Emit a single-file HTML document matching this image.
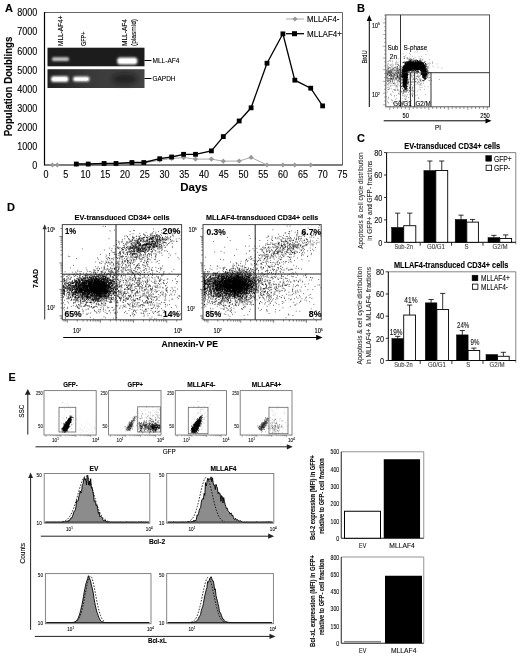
<!DOCTYPE html><html><head><meta charset="utf-8"><title>Figure</title><style>html,body{margin:0;padding:0;background:#fff}svg{display:block}text{font-family:"Liberation Sans",sans-serif}</style></head><body><svg width="520" height="657" viewBox="0 0 520 657">
<rect width="520" height="657" fill="#fff"/>
<text transform="translate(5.00,11.70) scale(1.091,1)" font-size="10.12" font-weight="bold" fill="#000" stroke="#000" stroke-width="0.12">A</text>
<line x1="44.50" y1="12.50" x2="342.50" y2="12.50" stroke="#666" stroke-width="1"/>
<line x1="342.50" y1="12.50" x2="342.50" y2="165.00" stroke="#666" stroke-width="1"/>
<line x1="44.50" y1="12.00" x2="44.50" y2="165.50" stroke="#000" stroke-width="1.2"/>
<line x1="44.50" y1="165.00" x2="342.50" y2="165.00" stroke="#000" stroke-width="1.2"/>
<text transform="translate(37.30,168.90) scale(0.870,1)" font-size="10.34" text-anchor="end" fill="#000" stroke="#000" stroke-width="0.12">0</text>
<text transform="translate(37.30,149.84) scale(0.870,1)" font-size="10.34" text-anchor="end" fill="#000" stroke="#000" stroke-width="0.12">1000</text>
<text transform="translate(37.30,130.78) scale(0.870,1)" font-size="10.34" text-anchor="end" fill="#000" stroke="#000" stroke-width="0.12">2000</text>
<text transform="translate(37.30,111.71) scale(0.870,1)" font-size="10.34" text-anchor="end" fill="#000" stroke="#000" stroke-width="0.12">3000</text>
<text transform="translate(37.30,92.65) scale(0.870,1)" font-size="10.34" text-anchor="end" fill="#000" stroke="#000" stroke-width="0.12">4000</text>
<text transform="translate(37.30,73.59) scale(0.870,1)" font-size="10.34" text-anchor="end" fill="#000" stroke="#000" stroke-width="0.12">5000</text>
<text transform="translate(37.30,54.52) scale(0.870,1)" font-size="10.34" text-anchor="end" fill="#000" stroke="#000" stroke-width="0.12">6000</text>
<text transform="translate(37.30,35.46) scale(0.870,1)" font-size="10.34" text-anchor="end" fill="#000" stroke="#000" stroke-width="0.12">7000</text>
<text transform="translate(37.30,16.40) scale(0.870,1)" font-size="10.34" text-anchor="end" fill="#000" stroke="#000" stroke-width="0.12">8000</text>
<text transform="translate(46.00,178.40) scale(0.870,1)" font-size="10.34" text-anchor="middle" fill="#000" stroke="#000" stroke-width="0.12">0</text>
<text transform="translate(65.76,178.40) scale(0.870,1)" font-size="10.34" text-anchor="middle" fill="#000" stroke="#000" stroke-width="0.12">5</text>
<text transform="translate(85.52,178.40) scale(0.870,1)" font-size="10.34" text-anchor="middle" fill="#000" stroke="#000" stroke-width="0.12">10</text>
<text transform="translate(105.28,178.40) scale(0.870,1)" font-size="10.34" text-anchor="middle" fill="#000" stroke="#000" stroke-width="0.12">15</text>
<text transform="translate(125.04,178.40) scale(0.870,1)" font-size="10.34" text-anchor="middle" fill="#000" stroke="#000" stroke-width="0.12">20</text>
<text transform="translate(144.80,178.40) scale(0.870,1)" font-size="10.34" text-anchor="middle" fill="#000" stroke="#000" stroke-width="0.12">25</text>
<text transform="translate(164.56,178.40) scale(0.870,1)" font-size="10.34" text-anchor="middle" fill="#000" stroke="#000" stroke-width="0.12">30</text>
<text transform="translate(184.32,178.40) scale(0.870,1)" font-size="10.34" text-anchor="middle" fill="#000" stroke="#000" stroke-width="0.12">35</text>
<text transform="translate(204.08,178.40) scale(0.870,1)" font-size="10.34" text-anchor="middle" fill="#000" stroke="#000" stroke-width="0.12">40</text>
<text transform="translate(223.84,178.40) scale(0.870,1)" font-size="10.34" text-anchor="middle" fill="#000" stroke="#000" stroke-width="0.12">45</text>
<text transform="translate(243.60,178.40) scale(0.870,1)" font-size="10.34" text-anchor="middle" fill="#000" stroke="#000" stroke-width="0.12">50</text>
<text transform="translate(263.36,178.40) scale(0.870,1)" font-size="10.34" text-anchor="middle" fill="#000" stroke="#000" stroke-width="0.12">55</text>
<text transform="translate(283.12,178.40) scale(0.870,1)" font-size="10.34" text-anchor="middle" fill="#000" stroke="#000" stroke-width="0.12">60</text>
<text transform="translate(302.88,178.40) scale(0.870,1)" font-size="10.34" text-anchor="middle" fill="#000" stroke="#000" stroke-width="0.12">65</text>
<text transform="translate(322.64,178.40) scale(0.870,1)" font-size="10.34" text-anchor="middle" fill="#000" stroke="#000" stroke-width="0.12">70</text>
<text transform="translate(342.40,178.40) scale(0.870,1)" font-size="10.34" text-anchor="middle" fill="#000" stroke="#000" stroke-width="0.12">75</text>
<text transform="translate(12.40,86.50) rotate(-90) scale(0.956,1)" font-size="10.12" text-anchor="middle" font-weight="bold" fill="#000" stroke="#000" stroke-width="0.12">Population Doublings</text>
<text transform="translate(194.00,191.40) scale(0.987,1)" font-size="11.66" text-anchor="middle" font-weight="bold" fill="#000" stroke="#000" stroke-width="0.12">Days</text>
<defs><filter id="b1" x="-20%" y="-50%" width="140%" height="200%"><feGaussianBlur stdDeviation="1.1"/></filter><filter id="b2" x="-20%" y="-50%" width="140%" height="200%"><feGaussianBlur stdDeviation="2.5"/></filter><linearGradient id="g2" x1="0" x2="1" y1="0" y2="0"><stop offset="0" stop-color="#222"/><stop offset="0.45" stop-color="#3a3a3a"/><stop offset="1" stop-color="#444"/></linearGradient></defs>
<rect x="47.50" y="47.70" width="97.00" height="18.60" fill="#1c1c1c" stroke="none" stroke-width="1"/>
<rect x="47.50" y="69.20" width="97.00" height="18.80" fill="url(#g2)" stroke="none" stroke-width="1"/>
<ellipse cx="125" cy="79" rx="13" ry="6" fill="#111" filter="url(#b2)" opacity="0.55"/>
<rect x="52" y="57.2" width="17" height="3.8" rx="1.5" fill="#ccc" filter="url(#b1)"/>
<rect x="117.2" y="57.4" width="20.2" height="7" rx="3" fill="#fff" filter="url(#b1)"/>
<rect x="119" y="59" width="16.6" height="4" rx="1.8" fill="#fff"/>
<rect x="51" y="76.3" width="17.5" height="5.6" rx="2.2" fill="#fff" filter="url(#b1)"/>
<rect x="52.5" y="77.6" width="14.5" height="3" rx="1.5" fill="#fff"/>
<rect x="73" y="76.6" width="16.5" height="5" rx="2.2" fill="#f4f4f4" filter="url(#b1)"/>
<rect x="74.5" y="77.8" width="13.5" height="2.6" rx="1.3" fill="#fff"/>
<line x1="144.50" y1="60.50" x2="151.50" y2="60.50" stroke="#000" stroke-width="1"/>
<line x1="144.50" y1="78.50" x2="151.50" y2="78.50" stroke="#000" stroke-width="1"/>
<text transform="translate(152.50,63.00) scale(0.829,1)" font-size="7.92" fill="#000" stroke="#000" stroke-width="0.12">MLL-AF4</text>
<text transform="translate(152.50,80.50) scale(0.817,1)" font-size="7.92" fill="#000" stroke="#000" stroke-width="0.12">GAPDH</text>
<text transform="translate(63.30,46.00) rotate(-90) scale(0.820,1)" font-size="7.92" fill="#000" stroke="#000" stroke-width="0.12">MLL-AF4+</text>
<text transform="translate(85.60,46.00) rotate(-90) scale(0.694,1)" font-size="7.92" fill="#000" stroke="#000" stroke-width="0.12">GFP+</text>
<text transform="translate(127.30,46.00) rotate(-90) scale(0.829,1)" font-size="7.92" fill="#000" stroke="#000" stroke-width="0.12">MLL-AF4</text>
<text transform="translate(135.50,46.00) rotate(-90) scale(0.829,1)" font-size="7.92" fill="#000" stroke="#000" stroke-width="0.12">(plasmid)</text>
<polyline points="76.3,164.2 88.2,164.2 104.1,163.9 116.0,163.9 131.9,163.1 143.8,163.1 159.7,160.2 171.6,158.5 183.6,157.6 195.5,159.1 211.4,159.1 223.3,161.2 239.2,161.0 251.1,157.4 267.0,165.0 282.9,165.0 294.8,165.0 310.7,165.0" fill="none" stroke="#aaa" stroke-width="1"/>
<polygon points="52.4,162.4 55.0,165.0 52.4,167.6 49.8,165.0" fill="#999"/>
<polygon points="57.2,162.4 59.8,165.0 57.2,167.6 54.6,165.0" fill="#999"/>
<polygon points="76.3,161.6 78.9,164.2 76.3,166.8 73.7,164.2" fill="#999"/>
<polygon points="88.2,161.6 90.8,164.2 88.2,166.8 85.6,164.2" fill="#999"/>
<polygon points="104.1,161.3 106.7,163.9 104.1,166.5 101.5,163.9" fill="#999"/>
<polygon points="116.0,161.3 118.6,163.9 116.0,166.5 113.4,163.9" fill="#999"/>
<polygon points="131.9,160.5 134.5,163.1 131.9,165.7 129.3,163.1" fill="#999"/>
<polygon points="143.8,160.5 146.4,163.1 143.8,165.7 141.2,163.1" fill="#999"/>
<polygon points="159.7,157.6 162.3,160.2 159.7,162.8 157.1,160.2" fill="#999"/>
<polygon points="171.6,155.9 174.2,158.5 171.6,161.1 169.0,158.5" fill="#999"/>
<polygon points="183.6,155.0 186.2,157.6 183.6,160.2 181.0,157.6" fill="#999"/>
<polygon points="195.5,156.5 198.1,159.1 195.5,161.7 192.9,159.1" fill="#999"/>
<polygon points="211.4,156.5 214.0,159.1 211.4,161.7 208.8,159.1" fill="#999"/>
<polygon points="223.3,158.6 225.9,161.2 223.3,163.8 220.7,161.2" fill="#999"/>
<polygon points="239.2,158.4 241.8,161.0 239.2,163.6 236.6,161.0" fill="#999"/>
<polygon points="251.1,154.8 253.7,157.4 251.1,160.0 248.5,157.4" fill="#999"/>
<polygon points="267.0,162.4 269.6,165.0 267.0,167.6 264.4,165.0" fill="#999"/>
<polygon points="282.9,162.4 285.5,165.0 282.9,167.6 280.3,165.0" fill="#999"/>
<polygon points="294.8,162.4 297.4,165.0 294.8,167.6 292.2,165.0" fill="#999"/>
<polygon points="310.7,162.4 313.3,165.0 310.7,167.6 308.1,165.0" fill="#999"/>
<polyline points="76.3,164.0 88.2,164.0 104.1,163.5 116.0,163.5 131.9,162.5 143.8,162.5 159.7,158.7 171.6,157.0 183.6,154.3 195.5,154.3 211.4,150.9 223.3,136.6 239.2,121.0 251.1,107.8 267.0,63.2 282.9,33.8 294.8,80.2 310.7,88.2 322.6,105.9" fill="none" stroke="#000" stroke-width="1.3"/>
<rect x="73.89" y="161.65" width="4.80" height="4.80" fill="#000" stroke="none" stroke-width="1"/>
<rect x="85.81" y="161.65" width="4.80" height="4.80" fill="#000" stroke="none" stroke-width="1"/>
<rect x="101.70" y="161.07" width="4.80" height="4.80" fill="#000" stroke="none" stroke-width="1"/>
<rect x="113.62" y="161.07" width="4.80" height="4.80" fill="#000" stroke="none" stroke-width="1"/>
<rect x="129.51" y="160.12" width="4.80" height="4.80" fill="#000" stroke="none" stroke-width="1"/>
<rect x="141.43" y="160.12" width="4.80" height="4.80" fill="#000" stroke="none" stroke-width="1"/>
<rect x="157.33" y="156.31" width="4.80" height="4.80" fill="#000" stroke="none" stroke-width="1"/>
<rect x="169.25" y="154.59" width="4.80" height="4.80" fill="#000" stroke="none" stroke-width="1"/>
<rect x="181.17" y="151.92" width="4.80" height="4.80" fill="#000" stroke="none" stroke-width="1"/>
<rect x="193.09" y="151.92" width="4.80" height="4.80" fill="#000" stroke="none" stroke-width="1"/>
<rect x="208.98" y="148.49" width="4.80" height="4.80" fill="#000" stroke="none" stroke-width="1"/>
<rect x="220.90" y="134.20" width="4.80" height="4.80" fill="#000" stroke="none" stroke-width="1"/>
<rect x="236.79" y="118.57" width="4.80" height="4.80" fill="#000" stroke="none" stroke-width="1"/>
<rect x="248.71" y="105.41" width="4.80" height="4.80" fill="#000" stroke="none" stroke-width="1"/>
<rect x="264.61" y="60.81" width="4.80" height="4.80" fill="#000" stroke="none" stroke-width="1"/>
<rect x="280.50" y="31.45" width="4.80" height="4.80" fill="#000" stroke="none" stroke-width="1"/>
<rect x="292.42" y="77.77" width="4.80" height="4.80" fill="#000" stroke="none" stroke-width="1"/>
<rect x="308.31" y="85.78" width="4.80" height="4.80" fill="#000" stroke="none" stroke-width="1"/>
<rect x="320.23" y="103.51" width="4.80" height="4.80" fill="#000" stroke="none" stroke-width="1"/>
<line x1="286.00" y1="19.00" x2="304.00" y2="19.00" stroke="#aaa" stroke-width="1"/>
<polygon points="295.0,16.4 297.6,19.0 295.0,21.6 292.4,19.0" fill="#999"/>
<text transform="translate(307.00,22.00) scale(0.835,1)" font-size="9.46" fill="#000" stroke="#000" stroke-width="0.12">MLLAF4-</text>
<line x1="286.00" y1="33.70" x2="304.00" y2="33.70" stroke="#000" stroke-width="1.3"/>
<rect x="292.00" y="31.20" width="5.00" height="5.00" fill="#000" stroke="none" stroke-width="1"/>
<text transform="translate(307.00,36.70) scale(0.848,1)" font-size="9.46" fill="#000" stroke="#000" stroke-width="0.12">MLLAF4+</text>
<text transform="translate(357.00,11.50) scale(1.091,1)" font-size="10.12" font-weight="bold" fill="#000" stroke="#000" stroke-width="0.12">B</text>
<path d="M406.7 76.9h.9M404.0 85.1h.9M404.6 73.4h.9M405.1 78.1h.9M403.6 87.0h.9M404.6 77.6h.9M404.6 81.4h.9M402.4 73.2h.9M405.9 89.1h.9M405.4 63.1h.9M403.8 70.0h.9M404.4 70.5h.9M405.2 87.0h.9M404.3 79.2h.9M404.3 75.4h.9M402.8 69.1h.9M405.3 79.3h.9M404.8 77.7h.9M404.9 72.7h.9M402.7 67.8h.9M406.7 70.2h.9M404.8 78.3h.9M404.1 78.9h.9M407.1 77.5h.9M404.5 76.1h.9M402.8 66.0h.9M404.1 77.3h.9M401.7 70.6h.9M405.9 77.3h.9M404.1 79.9h.9M403.7 72.8h.9M405.9 70.7h.9M402.5 83.2h.9M405.3 79.2h.9M402.0 73.1h.9M403.8 58.4h.9M403.1 76.7h.9M406.4 80.9h.9M406.8 84.0h.9M404.2 72.8h.9M405.7 73.0h.9M404.4 74.3h.9M405.3 82.2h.9M403.7 69.7h.9M402.5 76.3h.9M402.3 71.3h.9M405.1 78.7h.9M407.4 67.4h.9M404.9 79.3h.9M403.9 73.9h.9M407.0 75.6h.9M404.9 80.3h.9M404.7 84.1h.9M404.9 66.5h.9M404.4 83.2h.9M404.2 80.5h.9M402.8 75.2h.9M405.2 85.7h.9M404.5 78.2h.9M406.1 85.0h.9M404.1 73.3h.9M402.2 71.6h.9M404.5 84.6h.9M406.7 90.4h.9M404.1 80.9h.9M403.5 82.5h.9M403.1 74.1h.9M403.3 68.8h.9M404.2 75.6h.9M403.1 86.3h.9M406.5 65.5h.9M404.2 73.9h.9M404.7 65.1h.9M406.4 77.7h.9M406.5 82.4h.9M404.3 69.3h.9M405.0 74.5h.9M405.5 85.2h.9M404.4 76.5h.9M402.4 69.3h.9M405.4 68.8h.9M405.7 64.5h.9M405.1 81.8h.9M403.4 72.4h.9M404.4 83.5h.9M403.9 82.4h.9M404.2 72.9h.9M406.2 73.7h.9M406.5 81.8h.9M405.4 77.9h.9M405.3 78.7h.9M405.4 66.8h.9M404.6 82.6h.9M404.5 71.6h.9M403.8 62.9h.9M404.5 73.2h.9M407.4 79.6h.9M405.7 90.0h.9M404.2 74.7h.9M404.0 68.8h.9M403.5 90.2h.9M405.1 78.0h.9M405.1 75.4h.9M402.8 70.3h.9M405.2 70.8h.9M403.9 86.2h.9M406.4 75.3h.9M404.8 73.7h.9M406.7 73.8h.9M404.0 86.7h.9M404.2 73.3h.9M405.0 80.9h.9M405.9 78.7h.9M405.3 78.5h.9M403.1 71.6h.9M404.8 81.1h.9M404.6 87.0h.9M404.1 76.7h.9M403.8 71.3h.9M406.8 69.0h.9M404.1 78.2h.9M403.5 75.3h.9M405.4 76.4h.9M404.8 77.1h.9M404.5 67.9h.9M405.6 81.8h.9M405.2 78.5h.9M405.1 76.5h.9M405.8 78.4h.9M405.0 82.7h.9M403.8 77.3h.9M404.1 71.7h.9M403.9 84.2h.9M404.9 74.3h.9M403.3 72.5h.9M402.3 67.3h.9M404.7 77.0h.9M402.9 70.5h.9M402.2 73.8h.9M405.1 79.8h.9M403.7 77.2h.9M405.2 83.3h.9M403.9 78.9h.9M403.2 74.5h.9M403.0 75.0h.9M404.0 73.9h.9M404.3 81.0h.9M403.6 77.1h.9M404.2 74.5h.9M402.7 82.2h.9M404.6 77.6h.9M402.4 74.1h.9M404.4 67.6h.9M405.5 79.7h.9M406.0 78.5h.9M406.7 77.3h.9M402.7 74.3h.9M405.5 71.8h.9M406.1 75.6h.9M405.8 78.4h.9M403.4 76.2h.9M405.1 76.1h.9M406.9 74.1h.9M402.7 79.1h.9M405.2 78.4h.9M406.0 72.3h.9M403.7 81.7h.9M405.3 81.9h.9M403.3 82.0h.9M403.6 76.2h.9M403.6 75.8h.9M404.8 69.8h.9M404.5 81.7h.9M405.8 63.8h.9M403.4 74.6h.9M404.4 74.9h.9M405.8 82.3h.9M405.3 77.0h.9M402.9 71.0h.9M405.4 68.2h.9M404.0 72.5h.9M405.1 77.7h.9M405.0 77.3h.9M406.1 75.8h.9M404.7 72.8h.9M402.3 75.7h.9M402.9 83.2h.9M405.5 70.2h.9M404.3 77.2h.9M406.0 87.0h.9M404.9 80.4h.9M403.7 74.2h.9M406.0 81.1h.9M403.6 72.3h.9M402.0 77.0h.9M407.2 86.6h.9M402.2 88.7h.9M405.4 66.4h.9M405.8 81.3h.9M404.8 89.1h.9M402.5 73.6h.9M405.9 78.6h.9M402.8 86.3h.9M402.9 73.9h.9M404.1 79.8h.9M405.6 76.6h.9M405.0 65.1h.9M405.6 79.1h.9M404.0 75.9h.9M404.4 82.8h.9M403.2 90.0h.9M404.2 81.2h.9M405.3 74.7h.9M404.2 79.8h.9M405.2 78.3h.9M403.9 83.3h.9M403.9 68.1h.9M404.6 69.8h.9M404.4 64.3h.9M405.3 80.8h.9M404.8 76.9h.9M406.8 73.0h.9M404.3 72.5h.9M404.3 73.5h.9M403.3 71.2h.9M404.6 75.0h.9M405.5 73.9h.9M403.7 85.6h.9M404.5 79.0h.9M405.5 71.9h.9M404.4 73.4h.9M404.0 84.4h.9M405.8 79.8h.9M404.7 78.8h.9M405.1 81.5h.9M406.1 86.8h.9M406.0 69.5h.9M404.2 72.4h.9M403.9 66.2h.9M405.0 80.1h.9M404.4 74.7h.9M402.2 72.8h.9M406.2 72.3h.9M404.6 81.3h.9M405.5 76.1h.9M403.1 73.7h.9M406.2 84.8h.9M403.9 70.5h.9M404.5 69.2h.9M402.8 93.1h.9M404.4 74.7h.9M404.3 73.6h.9M404.4 72.5h.9M405.1 76.2h.9M404.7 81.9h.9M405.8 81.7h.9M404.0 80.4h.9M403.4 75.3h.9M404.6 67.8h.9M405.4 78.8h.9M406.2 86.4h.9M405.6 83.6h.9M402.4 76.0h.9M405.1 82.0h.9M406.4 74.6h.9M404.7 76.7h.9M404.0 69.3h.9M405.0 75.0h.9M404.0 77.9h.9M405.4 76.0h.9M404.6 81.8h.9M406.3 88.7h.9M405.2 85.2h.9M403.7 75.1h.9M405.4 72.5h.9M405.8 73.0h.9M403.9 70.9h.9M404.1 77.2h.9M401.7 79.6h.9M405.7 78.1h.9M403.9 78.2h.9M401.9 78.0h.9M402.4 76.2h.9M404.3 72.4h.9M405.6 87.7h.9M404.5 83.5h.9M405.2 71.4h.9M403.2 71.4h.9M402.9 73.4h.9M405.7 77.2h.9M405.2 84.8h.9M404.6 83.3h.9M406.2 83.6h.9M403.4 83.7h.9M404.1 83.9h.9M405.9 81.6h.9M406.9 79.8h.9M404.6 76.3h.9M406.7 66.2h.9M403.8 76.2h.9M405.0 88.2h.9M404.4 73.7h.9M402.6 73.1h.9M404.9 83.3h.9M405.8 77.5h.9M404.4 74.0h.9M404.5 86.7h.9M406.3 80.9h.9M403.0 81.7h.9M402.7 73.5h.9M403.8 80.1h.9M403.1 79.3h.9M406.3 81.8h.9M405.0 84.1h.9M403.5 84.0h.9M403.8 78.1h.9M408.2 81.3h.9M403.8 69.9h.9M403.6 81.0h.9M405.0 81.2h.9M405.4 74.6h.9M404.9 72.2h.9M403.5 76.6h.9M403.2 69.5h.9M405.3 79.1h.9M404.5 78.8h.9M402.5 71.1h.9M406.1 77.3h.9M405.6 83.6h.9M404.3 83.6h.9M404.3 83.3h.9M404.9 76.1h.9M403.7 74.9h.9M402.9 74.6h.9M405.0 80.7h.9M402.8 91.6h.9M405.1 85.7h.9M402.8 86.8h.9M404.5 85.4h.9M404.4 67.0h.9M406.8 75.8h.9M403.3 74.3h.9M402.8 84.7h.9M403.8 87.5h.9M403.2 72.9h.9M403.9 77.2h.9M405.1 80.5h.9M405.6 74.0h.9M406.7 73.1h.9M403.7 72.8h.9M407.9 82.5h.9M407.1 71.4h.9M404.3 84.0h.9M401.7 77.5h.9M404.5 81.7h.9M404.7 86.6h.9M401.7 72.9h.9M404.7 71.9h.9M404.3 79.6h.9M403.6 70.6h.9M405.4 72.5h.9M405.9 76.3h.9M404.0 78.0h.9M404.9 69.3h.9M403.8 74.6h.9M403.6 80.6h.9M404.7 85.3h.9M405.3 64.9h.9M403.9 85.1h.9M401.8 82.5h.9M405.3 70.3h.9M402.6 67.9h.9M404.8 79.6h.9M406.8 74.4h.9M404.6 77.8h.9M403.1 82.3h.9M402.8 74.7h.9M406.1 78.0h.9M404.6 79.9h.9M405.3 82.5h.9M405.8 87.9h.9M404.5 87.5h.9M404.2 78.5h.9M403.4 75.5h.9M400.7 91.7h.9M402.7 81.0h.9M404.5 79.6h.9M404.4 70.2h.9M405.1 81.8h.9M404.4 72.2h.9M404.8 74.2h.9M405.6 68.8h.9M403.5 73.8h.9M404.2 77.4h.9M402.6 67.7h.9M405.8 71.5h.9M404.6 76.5h.9M405.2 69.2h.9M406.5 69.3h.9M405.9 71.9h.9M404.5 68.3h.9M405.6 80.8h.9M402.8 70.9h.9M405.1 81.7h.9M404.8 82.7h.9M402.6 69.6h.9M406.3 77.3h.9M403.7 74.0h.9M405.5 70.0h.9M404.1 74.9h.9M405.8 75.5h.9M406.2 81.4h.9M403.6 83.3h.9M402.7 70.2h.9M404.4 74.5h.9M405.7 80.3h.9M404.1 84.3h.9M403.8 61.9h.9M405.2 84.9h.9M401.1 76.0h.9M403.8 86.5h.9M402.9 74.4h.9M405.0 71.9h.9M403.7 77.3h.9M403.2 84.2h.9M404.2 77.2h.9M402.8 62.4h.9M404.6 81.2h.9M403.7 67.0h.9M404.1 70.9h.9M403.7 69.8h.9M405.7 65.6h.9M404.5 69.2h.9M405.3 70.9h.9M405.2 73.2h.9M403.6 76.7h.9M405.3 74.9h.9M405.0 67.8h.9M405.0 75.9h.9M404.1 83.0h.9M404.1 82.9h.9M405.6 77.8h.9M407.3 80.8h.9M403.6 82.5h.9M405.3 85.4h.9M404.1 87.5h.9M405.6 75.0h.9M405.1 75.3h.9M405.9 86.1h.9M401.1 86.7h.9M403.8 86.6h.9M403.4 62.5h.9M404.5 75.6h.9M403.7 56.8h.9M403.8 81.5h.9M405.5 77.3h.9M407.0 77.3h.9M401.1 76.1h.9M404.2 85.1h.9M405.0 75.2h.9M404.6 83.4h.9M404.2 80.4h.9M402.9 79.2h.9M403.4 79.9h.9M405.5 77.7h.9M405.9 70.2h.9M404.7 81.4h.9M403.6 81.4h.9M404.7 76.1h.9M404.3 81.5h.9M405.3 82.6h.9M404.7 69.1h.9M403.8 76.1h.9M404.8 74.3h.9M403.1 71.4h.9M405.6 79.0h.9M406.1 71.8h.9M403.1 74.3h.9M405.1 78.5h.9M403.4 79.2h.9M405.9 79.0h.9M405.7 90.9h.9M404.3 73.9h.9M405.8 78.6h.9M404.1 69.5h.9M403.8 80.0h.9M403.9 84.2h.9M404.4 84.5h.9M404.2 73.1h.9M404.8 75.3h.9M403.8 84.8h.9M405.6 76.4h.9M405.9 82.9h.9M404.0 71.0h.9M402.8 85.6h.9M405.5 83.4h.9M406.0 79.9h.9M404.4 72.0h.9M403.0 76.0h.9M404.9 77.9h.9M406.5 78.6h.9M402.3 76.4h.9M405.2 75.6h.9M404.2 78.2h.9M403.5 85.7h.9M405.2 64.6h.9M403.0 68.5h.9M405.0 67.4h.9M406.2 72.7h.9M404.8 66.2h.9M403.5 80.4h.9M402.4 77.6h.9M403.0 75.4h.9M402.3 72.8h.9M406.6 78.0h.9M404.3 78.1h.9M403.3 79.0h.9M403.0 72.5h.9M403.3 81.0h.9M404.2 67.9h.9M403.0 84.7h.9M406.7 57.9h.9M403.7 73.3h.9M403.6 69.5h.9M405.0 81.9h.9M406.4 67.8h.9M406.3 88.3h.9M404.0 67.4h.9M404.9 89.6h.9M404.8 79.8h.9M405.3 77.2h.9M404.9 79.7h.9M403.4 90.6h.9M403.0 82.5h.9M404.8 63.2h.9M403.1 84.4h.9M406.3 78.4h.9M404.6 67.0h.9M403.3 81.7h.9M404.2 69.5h.9M404.0 78.1h.9M404.4 78.4h.9M405.8 73.0h.9M402.8 81.0h.9M402.3 70.7h.9M405.0 78.2h.9M404.4 73.6h.9M404.8 75.9h.9M405.2 88.9h.9M404.4 77.7h.9M405.6 70.3h.9M403.5 76.3h.9M404.7 72.2h.9M403.6 77.2h.9M403.2 78.0h.9M405.4 77.5h.9M405.3 77.5h.9M402.2 73.6h.9M403.2 79.8h.9M405.0 83.6h.9M405.9 73.2h.9M403.8 76.6h.9M404.4 77.4h.9M402.8 84.8h.9M407.7 83.7h.9M405.2 72.5h.9M405.7 77.4h.9M405.4 67.7h.9M405.8 71.0h.9M405.4 77.1h.9M404.2 80.9h.9M405.5 82.9h.9M404.7 75.1h.9M406.2 68.6h.9M403.7 79.5h.9M403.9 75.9h.9M405.4 79.6h.9M406.2 78.0h.9M404.8 81.4h.9M403.7 81.1h.9M404.5 82.2h.9M404.0 74.2h.9M407.0 83.2h.9M405.7 73.9h.9M406.2 77.5h.9M405.0 88.5h.9M403.9 79.2h.9M406.1 69.8h.9M406.7 86.2h.9M405.3 83.2h.9M404.6 84.1h.9M406.0 78.2h.9M404.1 79.1h.9M405.6 75.6h.9M403.7 72.7h.9M403.4 86.5h.9M405.3 74.7h.9M405.0 74.0h.9M407.0 74.3h.9M404.2 88.5h.9M404.6 82.4h.9M403.2 74.7h.9M402.3 76.7h.9M402.4 80.2h.9M405.2 82.4h.9M403.1 67.0h.9M406.0 82.6h.9M406.4 75.6h.9M404.2 72.7h.9M406.7 74.6h.9M404.9 81.9h.9M406.0 87.9h.9M404.3 77.9h.9M405.8 80.5h.9M403.4 72.0h.9M405.4 80.0h.9M404.0 82.1h.9M404.4 67.8h.9M405.4 73.8h.9M404.8 81.9h.9M404.5 66.1h.9M405.5 74.7h.9M405.6 80.7h.9M402.9 66.5h.9M405.3 74.5h.9M405.4 77.3h.9M403.7 82.5h.9M405.1 69.1h.9M402.9 83.9h.9M406.4 78.9h.9M404.3 84.4h.9M404.5 84.2h.9M406.1 79.1h.9M404.4 80.0h.9M405.3 66.2h.9M403.3 68.6h.9M403.9 70.8h.9M402.9 74.8h.9M404.3 82.8h.9M405.9 65.9h.9M404.9 75.0h.9M405.7 68.8h.9M403.3 67.3h.9M403.5 86.2h.9M404.0 77.6h.9M405.3 87.1h.9M405.0 84.3h.9M404.6 71.3h.9M405.4 65.5h.9M404.4 89.8h.9M407.7 69.4h.9M422.7 71.1h.9M407.8 64.7h.9M412.7 68.6h.9M413.3 66.4h.9M423.4 67.0h.9M411.9 66.0h.9M405.1 69.1h.9M419.4 68.3h.9M423.5 70.7h.9M413.9 66.0h.9M424.0 71.1h.9M409.4 67.2h.9M421.5 67.5h.9M403.1 75.3h.9M417.1 66.0h.9M421.1 66.8h.9M410.6 68.1h.9M420.6 65.2h.9M414.7 63.3h.9M409.2 68.0h.9M404.9 71.0h.9M414.9 65.4h.9M411.9 66.9h.9M415.7 65.4h.9M409.1 65.9h.9M403.4 71.0h.9M404.6 71.7h.9M417.1 63.0h.9M406.3 70.5h.9M411.2 63.2h.9M416.0 64.4h.9M408.8 65.1h.9M412.0 67.9h.9M411.9 66.4h.9M419.9 65.0h.9M413.3 63.2h.9M409.6 68.2h.9M425.7 73.5h.9M408.5 67.3h.9M416.1 65.6h.9M415.3 64.9h.9M410.1 67.4h.9M418.9 66.6h.9M418.4 68.5h.9M414.3 66.4h.9M411.0 62.9h.9M407.2 69.8h.9M422.1 66.3h.9M423.7 72.6h.9M409.8 59.1h.9M409.2 64.1h.9M417.2 66.4h.9M419.0 64.6h.9M422.5 66.5h.9M416.7 67.3h.9M418.7 66.0h.9M417.5 63.9h.9M403.8 74.8h.9M414.2 66.8h.9M418.6 65.4h.9M411.3 61.8h.9M410.5 63.3h.9M412.2 67.7h.9M416.7 65.4h.9M403.0 70.1h.9M419.7 65.6h.9M418.9 66.1h.9M406.8 67.4h.9M409.1 66.9h.9M406.4 67.2h.9M413.0 64.3h.9M422.7 67.1h.9M409.8 64.6h.9M421.5 71.3h.9M407.3 62.9h.9M408.9 67.9h.9M414.5 62.6h.9M405.8 64.0h.9M406.7 68.3h.9M417.0 64.1h.9M410.4 65.4h.9M419.3 63.4h.9M408.1 66.2h.9M407.7 67.8h.9M423.0 63.4h.9M415.7 67.1h.9M405.6 68.5h.9M413.8 67.7h.9M404.9 63.6h.9M405.6 72.3h.9M415.5 63.4h.9M408.7 67.5h.9M406.0 64.9h.9M405.2 67.7h.9M406.2 66.2h.9M414.1 64.3h.9M406.5 66.8h.9M409.4 67.5h.9M414.2 65.3h.9M407.1 67.8h.9M406.6 67.6h.9M406.5 69.4h.9M423.7 66.3h.9M409.3 66.2h.9M412.5 65.8h.9M419.2 66.2h.9M420.1 66.7h.9M419.3 67.7h.9M422.8 66.9h.9M415.3 67.0h.9M406.9 65.8h.9M417.7 65.6h.9M412.3 64.5h.9M420.8 68.3h.9M407.0 67.6h.9M416.6 68.7h.9M404.6 73.1h.9M411.5 65.5h.9M408.7 71.3h.9M405.4 71.2h.9M420.5 62.7h.9M419.6 67.5h.9M409.1 66.7h.9M418.1 65.2h.9M422.4 66.4h.9M416.7 64.0h.9M410.6 64.7h.9M419.0 64.2h.9M411.5 63.3h.9M415.2 65.1h.9M418.8 64.0h.9M410.1 67.5h.9M417.0 68.2h.9M414.0 65.6h.9M416.2 65.2h.9M408.0 67.3h.9M419.9 65.6h.9M406.6 71.2h.9M412.2 60.1h.9M413.6 60.8h.9M404.6 71.8h.9M418.8 66.9h.9M417.5 67.6h.9M404.0 68.6h.9M421.5 65.9h.9M415.6 65.3h.9M422.6 68.7h.9M417.2 70.3h.9M414.6 60.9h.9M420.3 70.8h.9M410.6 68.2h.9M415.0 65.2h.9M411.8 67.0h.9M409.5 65.9h.9M423.7 70.5h.9M410.9 67.0h.9M413.5 67.6h.9M412.8 63.7h.9M409.7 67.3h.9M408.5 64.5h.9M422.1 69.2h.9M419.7 67.7h.9M413.7 65.0h.9M416.0 66.6h.9M422.1 66.7h.9M413.0 66.2h.9M410.3 63.3h.9M411.6 67.0h.9M413.6 66.4h.9M421.2 70.9h.9M421.0 64.5h.9M419.7 68.3h.9M417.6 65.0h.9M414.2 65.3h.9M407.0 70.1h.9M422.2 68.3h.9M421.6 67.7h.9M414.8 66.3h.9M419.0 64.0h.9M422.7 66.5h.9M409.2 65.0h.9M413.8 65.5h.9M423.6 74.8h.9M409.1 67.0h.9M409.6 63.1h.9M421.0 74.1h.9M421.3 67.1h.9M403.4 73.7h.9M415.9 69.4h.9M416.0 64.2h.9M418.6 66.7h.9M417.5 65.7h.9M414.4 65.2h.9M416.1 65.3h.9M418.2 66.2h.9M406.3 71.6h.9M405.3 68.1h.9M411.7 66.6h.9M422.2 71.1h.9M413.6 60.9h.9M415.9 66.1h.9M423.3 72.4h.9M404.8 69.4h.9M408.2 69.3h.9M408.5 66.4h.9M421.4 70.9h.9M417.9 65.6h.9M406.2 69.0h.9M402.7 70.4h.9M407.9 65.9h.9M421.9 68.9h.9M413.1 67.3h.9M423.2 64.2h.9M421.6 68.1h.9M424.3 70.9h.9M414.3 66.2h.9M408.5 60.1h.9M412.2 66.0h.9M422.0 62.6h.9M422.8 71.8h.9M409.2 64.3h.9M414.0 65.1h.9M421.9 65.6h.9M412.2 63.1h.9M409.8 66.1h.9M409.0 63.3h.9M412.4 65.6h.9M408.5 67.9h.9M419.1 68.8h.9M416.2 69.2h.9M424.2 68.3h.9M419.3 63.9h.9M412.3 67.1h.9M407.5 69.7h.9M408.2 64.1h.9M422.8 69.6h.9M418.6 65.7h.9M405.0 62.6h.9M412.6 66.2h.9M421.1 70.2h.9M423.0 67.6h.9M420.4 68.4h.9M421.6 68.4h.9M412.3 62.3h.9M417.5 60.8h.9M405.1 67.7h.9M417.1 65.2h.9M415.2 63.8h.9M407.0 64.2h.9M408.1 67.7h.9M416.9 69.2h.9M409.7 62.3h.9M411.8 63.7h.9M412.8 65.8h.9M418.5 65.6h.9M409.0 61.0h.9M405.4 76.2h.9M408.1 67.8h.9M419.1 66.8h.9M404.2 67.1h.9M414.9 66.7h.9M412.4 63.4h.9M410.7 67.1h.9M410.5 66.7h.9M413.5 66.1h.9M404.9 71.7h.9M411.7 64.7h.9M411.7 66.4h.9M405.4 61.8h.9M413.6 67.6h.9M410.2 65.6h.9M406.8 76.0h.9M406.3 67.8h.9M410.4 60.8h.9M416.0 69.4h.9M420.6 64.4h.9M414.4 63.5h.9M404.0 71.5h.9M416.2 68.8h.9M421.8 71.5h.9M405.4 70.4h.9M412.2 66.5h.9M404.2 74.2h.9M416.2 64.6h.9M405.7 67.4h.9M422.5 69.0h.9M411.2 65.9h.9M416.1 68.4h.9M410.5 61.7h.9M410.5 67.1h.9M404.8 74.9h.9M422.5 69.2h.9M410.8 65.1h.9M409.5 65.2h.9M410.8 66.2h.9M407.5 65.0h.9M408.3 64.7h.9M411.2 64.5h.9M423.3 70.8h.9M421.4 64.0h.9M411.4 64.6h.9M419.9 64.3h.9M403.6 70.5h.9M415.4 63.0h.9M421.0 68.1h.9M408.1 66.7h.9M407.1 66.5h.9M420.9 63.6h.9M417.1 67.4h.9M424.7 71.6h.9M406.5 66.4h.9M407.3 67.1h.9M405.9 70.8h.9M408.4 68.1h.9M404.2 69.7h.9M416.6 64.5h.9M403.2 69.6h.9M409.7 65.5h.9M414.6 67.2h.9M404.6 71.3h.9M418.9 69.0h.9M424.3 76.0h.9M411.6 65.4h.9M414.0 65.6h.9M411.5 65.2h.9M423.1 75.3h.9M420.8 65.5h.9M424.7 69.7h.9M411.3 63.7h.9M410.7 67.6h.9M403.8 71.8h.9M404.7 64.0h.9M422.5 72.1h.9M416.7 66.7h.9M411.9 67.7h.9M407.2 68.9h.9M421.5 70.2h.9M404.6 72.9h.9M417.5 66.1h.9M415.4 64.3h.9M417.1 61.3h.9M418.9 61.7h.9M417.8 66.8h.9M414.5 67.8h.9M411.9 66.1h.9M421.3 64.3h.9M406.2 68.8h.9M409.0 66.0h.9M420.8 66.0h.9M422.1 65.8h.9M416.6 63.4h.9M405.5 69.2h.9M420.5 66.9h.9M424.8 75.2h.9M412.4 69.9h.9M412.0 65.6h.9M412.2 67.0h.9M416.7 65.8h.9M407.6 66.8h.9M406.8 68.3h.9M425.2 76.0h.9M414.1 63.5h.9M414.8 69.9h.9M409.6 65.8h.9M406.5 69.6h.9M403.9 75.6h.9M405.6 68.9h.9M417.2 65.9h.9M420.5 64.4h.9M424.9 72.7h.9M422.9 67.0h.9M408.6 67.7h.9M402.8 70.3h.9M417.0 69.5h.9M410.0 70.6h.9M421.7 70.0h.9M414.8 64.3h.9M413.2 68.6h.9M409.4 70.9h.9M408.4 66.6h.9M414.5 65.2h.9M407.8 69.5h.9M422.8 69.6h.9M419.6 65.4h.9M422.1 65.9h.9M422.3 70.0h.9M418.1 68.5h.9M420.9 66.8h.9M420.1 63.6h.9M415.0 62.9h.9M402.7 73.1h.9M411.7 67.1h.9M413.0 68.1h.9M420.0 67.4h.9M421.1 63.1h.9M417.8 67.3h.9M403.9 67.8h.9M404.4 72.0h.9M421.6 65.5h.9M423.1 65.8h.9M411.6 64.8h.9M403.8 72.5h.9M406.1 68.1h.9M406.0 74.2h.9M423.2 70.2h.9M411.8 63.5h.9M412.5 66.0h.9M420.7 68.3h.9M405.9 67.8h.9M414.9 67.4h.9M416.9 66.6h.9M412.8 62.7h.9M405.0 64.6h.9M410.7 67.8h.9M407.3 66.8h.9M409.6 66.1h.9M411.6 67.5h.9M407.7 62.1h.9M423.8 70.6h.9M418.0 67.2h.9M424.7 67.4h.9M422.5 68.0h.9M411.6 68.5h.9M406.9 66.5h.9M424.6 73.9h.9M415.2 66.7h.9M418.7 62.2h.9M422.8 70.0h.9M411.2 66.9h.9M415.3 64.8h.9M411.5 68.5h.9M407.8 64.0h.9M403.3 70.9h.9M409.4 63.3h.9M409.4 65.5h.9M419.1 64.4h.9M414.4 66.6h.9M420.3 64.5h.9M411.6 66.6h.9M407.9 67.0h.9M414.2 66.9h.9M408.6 66.8h.9M419.9 66.2h.9M411.3 64.2h.9M408.6 61.6h.9M420.1 66.8h.9M408.2 63.1h.9M418.5 66.8h.9M412.0 65.9h.9M404.6 69.3h.9M416.0 66.0h.9M415.9 67.3h.9M404.1 66.5h.9M413.5 66.7h.9M413.1 68.4h.9M417.9 67.7h.9M407.7 68.5h.9M415.4 65.4h.9M423.5 73.9h.9M403.1 77.9h.9M417.6 67.1h.9M412.3 66.6h.9M411.8 68.2h.9M409.3 64.1h.9M414.0 65.7h.9M412.7 67.0h.9M421.7 67.8h.9M420.7 69.5h.9M421.0 69.5h.9M425.0 73.5h.9M411.4 64.2h.9M418.6 66.0h.9M421.4 66.6h.9M406.0 69.1h.9M418.3 67.1h.9M414.5 66.0h.9M408.1 67.4h.9M415.6 70.6h.9M417.4 66.1h.9M417.3 64.6h.9M402.7 77.2h.9M422.8 71.5h.9M410.0 66.4h.9M423.1 68.1h.9M406.1 62.3h.9M416.7 67.1h.9M403.6 70.5h.9M413.8 70.9h.9M416.8 66.5h.9M411.1 70.1h.9M418.0 65.6h.9M413.2 65.4h.9M405.5 69.8h.9M406.2 69.6h.9M406.6 70.1h.9M410.5 68.5h.9M424.8 65.2h.9M412.1 66.2h.9M419.7 68.5h.9M416.3 66.6h.9M417.9 67.2h.9M419.2 66.8h.9M407.4 67.2h.9M421.3 62.0h.9M413.6 69.3h.9M422.7 69.7h.9M403.4 72.6h.9M406.3 67.4h.9M406.3 67.1h.9M415.9 67.5h.9M404.2 65.8h.9M413.1 63.3h.9M412.5 63.2h.9M415.4 68.0h.9M409.4 64.1h.9M422.0 66.7h.9M413.1 63.6h.9M405.0 66.3h.9M414.2 65.0h.9M404.5 66.6h.9M417.6 68.5h.9M408.6 66.7h.9M421.7 64.6h.9M405.0 75.0h.9M407.6 64.0h.9M407.4 63.5h.9M415.0 62.4h.9M411.6 69.6h.9M413.4 66.5h.9M414.2 66.8h.9M416.1 68.5h.9M409.2 66.4h.9M408.3 67.7h.9M409.3 69.8h.9M406.3 67.7h.9M414.5 67.9h.9M423.2 69.4h.9M421.6 67.8h.9M424.6 74.5h.9M406.1 69.6h.9M418.4 66.7h.9M406.7 65.9h.9M420.2 64.2h.9M420.7 64.6h.9M413.4 66.1h.9M424.1 74.4h.9M412.1 66.5h.9M415.3 65.8h.9M410.8 66.9h.9M419.9 66.9h.9M413.4 68.1h.9M415.1 62.2h.9M413.6 68.3h.9M420.1 70.4h.9M405.9 72.7h.9M418.6 65.2h.9M405.2 68.2h.9M409.7 66.0h.9M403.9 75.5h.9M413.3 66.7h.9M423.2 65.2h.9M407.5 58.9h.9M406.3 68.7h.9M416.4 71.3h.9M404.3 70.0h.9M411.9 64.7h.9M415.1 66.1h.9M407.0 70.5h.9M422.1 68.5h.9M410.7 62.6h.9M418.1 66.3h.9M404.6 66.7h.9M421.8 73.5h.9M405.1 67.1h.9M414.5 68.5h.9M403.7 66.6h.9M406.4 64.3h.9M406.1 65.8h.9M412.9 65.0h.9M403.8 67.7h.9M413.3 63.2h.9M415.6 64.7h.9M409.0 62.6h.9M419.3 68.1h.9M405.3 68.8h.9M415.2 63.2h.9M421.6 66.3h.9M417.4 62.4h.9M403.1 75.4h.9M405.6 69.1h.9M402.8 75.4h.9M406.2 68.7h.9M413.5 64.2h.9M423.1 72.7h.9M412.3 66.2h.9M422.4 67.4h.9M409.3 59.2h.9M423.7 71.0h.9M411.1 65.0h.9M408.4 68.9h.9M407.3 63.7h.9M406.9 68.8h.9M406.8 69.1h.9M423.6 65.3h.9M418.2 64.7h.9M407.3 68.2h.9M415.3 65.5h.9M411.3 65.6h.9M406.2 69.8h.9M426.3 73.7h.9M409.9 66.6h.9M415.1 65.8h.9M407.3 62.7h.9M412.9 65.5h.9M424.9 74.0h.9M419.1 69.5h.9M410.0 63.7h.9M417.3 69.3h.9M413.7 64.7h.9M408.7 69.4h.9M415.5 61.4h.9M406.8 65.3h.9M420.4 60.8h.9M409.9 62.7h.9M405.1 67.7h.9M420.1 67.0h.9M406.5 64.7h.9M417.3 66.4h.9M422.1 64.2h.9M419.8 69.4h.9M423.7 68.6h.9M409.5 70.2h.9M411.1 69.8h.9M417.0 63.9h.9M403.8 69.0h.9M424.3 72.5h.9M418.3 69.1h.9M417.1 66.6h.9M416.4 69.9h.9M412.4 65.5h.9M407.6 65.4h.9M405.4 66.6h.9M409.3 66.2h.9M404.2 73.6h.9M419.0 66.0h.9M403.7 66.8h.9M421.2 69.6h.9M405.0 68.0h.9M410.2 64.5h.9M420.7 63.7h.9M415.7 64.7h.9M410.4 65.2h.9M417.3 68.1h.9M410.9 67.9h.9M408.4 65.1h.9M423.1 73.9h.9M424.8 64.1h.9M420.1 67.7h.9M409.0 62.4h.9M415.0 68.1h.9M406.4 68.8h.9M402.9 72.6h.9M421.5 69.4h.9M413.8 63.6h.9M406.9 66.2h.9M420.9 65.9h.9M415.2 67.6h.9M415.5 67.3h.9M406.4 71.0h.9M413.4 67.1h.9M413.4 63.4h.9M409.6 67.6h.9M407.7 63.6h.9M422.2 64.6h.9M418.8 66.1h.9M417.1 64.1h.9M410.2 65.1h.9M418.4 68.2h.9M412.4 64.6h.9M404.8 72.8h.9M415.4 63.1h.9M416.7 72.2h.9M424.7 70.0h.9M420.5 66.0h.9M404.6 69.8h.9M410.2 68.4h.9M402.6 70.5h.9M405.0 68.3h.9M413.7 65.1h.9M407.5 64.3h.9M403.5 67.5h.9M418.5 61.8h.9M423.2 68.1h.9M419.6 65.0h.9M403.9 74.2h.9M407.9 64.8h.9M402.3 71.3h.9M410.1 68.6h.9M422.1 65.2h.9M407.9 67.8h.9M419.6 64.1h.9M413.7 63.5h.9M415.5 66.8h.9M421.5 66.2h.9M408.7 63.5h.9M409.3 66.5h.9M419.2 69.4h.9M407.1 68.9h.9M406.9 68.6h.9M410.5 64.7h.9M409.5 65.8h.9M412.0 67.0h.9M408.4 65.5h.9M423.0 67.3h.9M412.1 68.1h.9M408.4 62.7h.9M421.5 66.3h.9M421.7 67.1h.9M419.8 65.4h.9M424.4 69.8h.9M404.9 71.0h.9M412.8 65.8h.9M421.6 65.8h.9M423.1 70.9h.9M407.8 65.4h.9M420.3 65.3h.9M406.5 65.8h.9M411.4 62.7h.9M419.4 62.4h.9M420.7 64.6h.9M404.6 70.1h.9M408.0 64.7h.9M424.3 72.6h.9M414.7 65.9h.9M416.1 67.5h.9M409.2 66.4h.9M412.7 61.1h.9M410.1 67.0h.9M407.7 70.4h.9M408.0 66.3h.9M415.7 65.8h.9M414.3 63.4h.9M414.1 66.5h.9M410.8 63.7h.9M413.9 62.1h.9M421.7 66.7h.9M422.4 69.7h.9M420.9 66.2h.9M408.2 65.6h.9M416.8 64.5h.9M418.5 69.4h.9M410.0 66.8h.9M414.0 65.2h.9M423.0 65.3h.9M417.9 66.2h.9M420.9 68.3h.9M406.3 68.4h.9M405.6 69.2h.9M418.6 66.6h.9M415.6 65.7h.9M406.4 63.2h.9M403.5 74.3h.9M408.5 65.2h.9M416.8 65.0h.9M412.8 66.3h.9M419.4 66.4h.9M407.3 70.4h.9M418.2 67.3h.9M405.1 69.9h.9M420.2 65.8h.9M408.8 65.9h.9M403.9 73.1h.9M421.9 64.4h.9M412.9 67.7h.9M412.4 70.7h.9M408.0 68.5h.9M409.0 66.9h.9M412.2 67.1h.9M410.6 67.7h.9M414.6 65.8h.9M410.9 65.8h.9M411.6 67.3h.9M401.6 76.2h.9M414.3 66.1h.9M417.2 62.3h.9M423.6 68.6h.9M418.0 66.4h.9M405.8 67.9h.9M410.5 64.1h.9M420.3 59.0h.9M417.8 64.2h.9M403.5 70.6h.9M405.2 73.9h.9M412.6 65.8h.9M411.3 63.8h.9M407.3 66.3h.9M409.2 66.0h.9M408.4 67.2h.9M421.4 66.6h.9M407.7 67.8h.9M420.0 61.7h.9M421.1 66.4h.9M411.0 66.6h.9M421.5 63.9h.9M406.3 70.0h.9M411.4 64.8h.9M406.2 66.0h.9M408.8 63.1h.9M409.5 67.1h.9M418.9 67.2h.9M419.9 68.3h.9M410.9 67.6h.9M411.8 67.0h.9M424.4 68.9h.9M406.6 66.1h.9M414.3 65.4h.9M414.8 70.4h.9M417.7 64.1h.9M407.4 64.0h.9M410.1 63.8h.9M406.4 69.1h.9M419.6 64.6h.9M418.2 67.6h.9M420.6 64.9h.9M413.4 68.2h.9M401.9 70.1h.9M423.8 66.0h.9M406.3 69.7h.9M408.5 65.5h.9M403.1 70.7h.9M411.4 69.1h.9M417.5 62.9h.9M423.8 66.6h.9M415.8 68.5h.9M406.7 73.0h.9M422.2 66.4h.9M403.4 66.0h.9M406.8 63.2h.9M407.8 64.1h.9M422.5 66.3h.9M410.5 68.9h.9M421.0 68.0h.9M415.3 68.1h.9M412.9 64.9h.9M419.9 67.6h.9M410.5 67.7h.9M409.2 67.8h.9M424.8 67.5h.9M416.5 65.1h.9M410.8 68.4h.9M417.4 69.4h.9M418.8 65.5h.9M418.4 66.8h.9M411.7 68.4h.9M417.0 69.3h.9M407.9 69.8h.9M414.9 66.1h.9M422.2 69.2h.9M422.3 65.1h.9M402.8 68.5h.9M408.9 65.1h.9M408.6 66.8h.9M409.5 62.7h.9M411.9 65.7h.9M409.3 66.4h.9M414.4 66.0h.9M410.2 66.6h.9M419.3 68.4h.9M404.8 72.2h.9M424.3 70.1h.9M408.5 67.4h.9M422.9 69.1h.9M418.3 65.1h.9M422.2 69.4h.9M412.1 67.6h.9M409.8 65.2h.9M415.6 65.9h.9M407.8 64.4h.9M413.8 67.5h.9M413.9 66.2h.9M405.4 72.1h.9M419.3 60.4h.9M413.1 63.4h.9M415.8 64.9h.9M417.4 67.1h.9M422.7 66.1h.9M403.9 65.7h.9M407.4 67.1h.9M406.6 66.8h.9M423.1 71.6h.9M410.8 67.9h.9M419.1 68.1h.9M406.9 63.2h.9M425.0 66.8h.9M405.5 68.6h.9M417.5 65.6h.9M403.6 71.3h.9M421.8 67.4h.9M409.7 66.2h.9M418.2 67.0h.9M416.8 68.0h.9M407.5 65.3h.9M412.7 68.2h.9M404.1 75.2h.9M420.3 66.6h.9M412.6 68.2h.9M409.1 62.5h.9M412.1 62.4h.9M411.6 63.5h.9M406.5 68.6h.9M410.7 66.3h.9M417.3 64.8h.9M413.8 63.8h.9M423.3 70.4h.9M419.6 66.7h.9M421.8 66.0h.9M406.5 67.8h.9M410.5 68.0h.9M407.0 66.6h.9M409.0 68.9h.9M412.2 65.1h.9M416.8 69.3h.9M412.0 66.9h.9M411.5 64.9h.9M410.7 66.4h.9M426.1 78.1h.9M412.6 63.3h.9M421.8 66.6h.9M425.4 73.3h.9M417.5 66.4h.9M421.8 72.6h.9M423.8 79.0h.9M421.7 65.6h.9M419.5 67.4h.9M406.8 64.9h.9M407.4 63.9h.9M405.6 70.9h.9M408.4 65.5h.9M413.5 67.4h.9M412.5 68.8h.9M420.1 65.0h.9M410.4 68.3h.9M415.5 63.8h.9M413.6 69.7h.9M408.4 62.8h.9M418.2 64.9h.9M409.3 66.5h.9M411.4 65.2h.9M408.1 63.6h.9M417.1 67.5h.9M409.8 64.2h.9M405.1 72.6h.9M417.1 62.8h.9M414.7 68.2h.9M417.4 67.7h.9M404.5 70.8h.9M421.3 68.2h.9M405.1 71.0h.9M425.3 70.4h.9M424.4 71.6h.9M419.3 63.7h.9M409.6 65.4h.9M416.7 65.5h.9M423.9 73.5h.9M419.1 65.4h.9M417.2 60.7h.9M403.3 72.6h.9M405.9 72.8h.9M418.2 68.6h.9M413.4 67.6h.9M412.7 64.7h.9M406.9 65.5h.9M409.1 63.9h.9M421.3 65.8h.9M410.2 64.6h.9M424.2 74.1h.9M407.4 67.3h.9M415.2 67.2h.9M415.9 65.1h.9M418.3 65.6h.9M422.6 67.0h.9M419.7 64.2h.9M420.3 67.0h.9M407.7 72.6h.9M405.6 68.3h.9M405.7 67.3h.9M408.7 64.2h.9M417.9 69.5h.9M414.5 66.9h.9M419.5 68.3h.9M415.5 65.5h.9M413.7 64.1h.9M408.2 66.0h.9M422.5 69.0h.9M418.3 69.4h.9M419.1 67.6h.9M424.3 68.6h.9M412.1 66.8h.9M413.3 68.3h.9M413.3 63.8h.9M410.2 67.9h.9M413.7 64.2h.9M416.4 66.6h.9M416.1 67.6h.9M404.4 67.0h.9M416.7 66.2h.9M405.1 72.9h.9M408.6 65.2h.9M411.2 65.3h.9M420.9 64.0h.9M407.7 66.4h.9M419.5 67.6h.9M415.9 65.8h.9M418.2 62.0h.9M409.3 67.0h.9M422.6 73.2h.9M417.3 64.2h.9M405.2 69.2h.9M420.2 66.1h.9M413.3 64.4h.9M420.7 66.6h.9M418.8 66.2h.9M424.3 69.0h.9M424.6 61.6h.9M419.1 64.0h.9M419.6 69.0h.9M403.5 73.3h.9M420.9 65.3h.9M418.4 63.7h.9M425.0 72.6h.9M417.8 67.5h.9M416.0 68.7h.9M421.5 70.0h.9M416.2 67.0h.9M414.5 66.2h.9M424.8 71.1h.9M413.4 66.3h.9M406.6 66.5h.9M403.6 73.9h.9M410.9 65.5h.9M415.4 69.4h.9M415.0 65.3h.9M405.4 71.2h.9M414.0 64.3h.9M425.1 72.6h.9M418.3 64.2h.9M417.5 68.8h.9M413.7 67.2h.9M421.1 62.5h.9M403.9 66.2h.9M419.5 66.5h.9M418.0 65.9h.9M411.4 70.3h.9M412.8 64.1h.9M405.8 66.4h.9M403.3 74.5h.9M410.6 66.5h.9M409.6 69.7h.9M414.4 65.8h.9M410.5 62.6h.9M423.3 70.0h.9M407.2 68.0h.9M421.4 62.8h.9M416.0 64.6h.9M407.5 65.4h.9M423.4 66.6h.9M415.3 67.7h.9M405.0 68.3h.9M422.1 65.0h.9M408.1 63.9h.9M417.4 65.7h.9M418.0 66.2h.9M417.5 67.0h.9M417.4 61.4h.9M420.4 64.1h.9M419.1 67.0h.9M408.0 69.8h.9M416.2 68.0h.9M415.0 61.1h.9M406.9 63.3h.9M411.6 67.2h.9M421.0 66.1h.9M414.2 66.1h.9M409.7 70.3h.9M412.9 63.7h.9M415.0 68.6h.9M418.7 66.2h.9M422.5 64.7h.9M410.1 61.5h.9M409.1 63.5h.9M408.8 69.3h.9M419.5 66.3h.9M421.4 68.8h.9M409.8 67.3h.9M420.0 65.7h.9M412.7 67.8h.9M422.0 71.4h.9M415.0 65.6h.9M422.8 66.5h.9M414.6 64.4h.9M410.6 66.6h.9M421.2 65.6h.9M410.5 68.4h.9M421.3 65.3h.9M413.8 64.1h.9M410.5 62.0h.9M412.1 67.6h.9M423.8 72.6h.9M410.5 65.9h.9M406.4 64.6h.9M422.6 69.2h.9M405.8 66.5h.9M407.0 67.5h.9M413.9 66.8h.9M421.3 67.5h.9M421.1 72.8h.9M409.3 65.6h.9M407.5 68.3h.9M424.9 73.9h.9M414.4 68.5h.9M421.4 64.8h.9M412.0 66.3h.9M409.4 64.4h.9M423.8 68.3h.9M407.9 64.6h.9M409.8 64.2h.9M410.6 68.0h.9M410.0 66.7h.9M406.6 66.4h.9M410.1 63.9h.9M408.9 66.3h.9M414.7 66.9h.9M416.7 67.4h.9M413.7 64.5h.9M403.5 71.2h.9M416.4 61.9h.9M418.5 66.1h.9M406.1 64.4h.9M413.3 67.5h.9M424.9 70.9h.9M421.4 70.9h.9M412.5 66.3h.9M409.7 66.7h.9M407.3 61.8h.9M403.9 68.6h.9M408.6 68.2h.9M415.8 64.5h.9M412.8 68.4h.9M408.2 64.9h.9M412.9 67.3h.9M413.4 64.2h.9M420.9 66.9h.9M423.1 69.4h.9M423.4 72.5h.9M413.7 64.4h.9M422.1 63.2h.9M417.0 67.2h.9M404.1 69.0h.9M405.5 71.4h.9M417.6 63.4h.9M418.8 67.6h.9M417.4 65.6h.9M411.7 63.7h.9M416.6 65.0h.9M418.1 67.9h.9M419.8 66.3h.9M405.5 67.4h.9M413.2 66.2h.9M409.9 65.1h.9M413.4 68.6h.9M409.9 66.0h.9M404.5 66.9h.9M419.6 62.9h.9M414.1 64.8h.9M423.6 65.4h.9M403.7 73.4h.9M405.0 63.2h.9M407.3 69.3h.9M421.2 68.7h.9M415.4 65.0h.9M419.7 68.7h.9M404.4 68.3h.9M418.4 65.6h.9M405.3 68.7h.9M422.4 70.9h.9M414.3 68.5h.9M423.0 73.2h.9M417.5 63.5h.9M415.4 66.2h.9M406.5 64.1h.9M416.6 66.3h.9M418.0 67.2h.9M416.0 69.0h.9M417.7 65.7h.9M420.5 67.0h.9M416.2 65.7h.9M418.3 63.7h.9M414.3 69.6h.9M412.9 66.8h.9M417.8 69.2h.9M422.6 67.8h.9M418.6 63.2h.9M403.7 67.3h.9M409.4 67.5h.9M415.3 67.9h.9M415.9 67.5h.9M422.6 67.8h.9M425.5 75.0h.9M422.8 64.7h.9M415.8 65.5h.9M420.1 63.5h.9M424.2 68.2h.9M406.0 67.8h.9M411.2 67.6h.9M404.4 72.5h.9M417.1 60.5h.9M421.5 66.2h.9M402.5 75.0h.9M407.7 67.8h.9M407.9 68.1h.9M419.3 68.5h.9M413.2 64.8h.9M409.0 67.8h.9M412.1 62.2h.9M407.8 67.5h.9M408.7 61.4h.9M417.0 67.1h.9M415.4 61.0h.9M407.0 67.1h.9M414.2 69.5h.9M405.2 72.4h.9M424.2 73.5h.9M406.2 71.0h.9M415.5 60.1h.9M424.6 70.4h.9M411.6 66.0h.9M413.4 63.6h.9M419.5 65.1h.9M414.7 72.0h.9M408.6 70.1h.9M417.3 67.4h.9M421.0 64.5h.9M417.8 67.2h.9M408.1 66.8h.9M416.7 65.7h.9M422.4 72.3h.9M406.6 61.9h.9M415.8 69.6h.9M416.0 65.1h.9M417.9 69.0h.9M407.5 67.0h.9M409.0 64.8h.9M409.3 64.6h.9M421.2 66.6h.9M410.6 66.8h.9M409.7 72.8h.9M419.0 69.6h.9M406.6 67.2h.9M410.3 63.3h.9M415.2 66.3h.9M410.5 67.4h.9M416.1 62.3h.9M417.5 66.1h.9M408.9 70.1h.9M407.5 66.4h.9M419.7 62.5h.9M412.7 67.8h.9M407.7 70.6h.9M406.2 69.4h.9M413.6 66.5h.9M422.6 68.7h.9M408.3 67.3h.9M424.1 73.0h.9M402.3 72.7h.9M417.1 65.9h.9M418.9 66.1h.9M413.8 68.7h.9M409.0 63.8h.9M409.7 67.0h.9M414.7 65.8h.9M424.2 62.3h.9M411.9 67.8h.9M413.4 66.4h.9M411.8 63.2h.9M423.7 71.0h.9M409.2 68.2h.9M409.7 70.3h.9M422.1 67.0h.9M406.7 67.3h.9M418.7 67.7h.9M417.3 64.6h.9M422.1 69.6h.9M410.0 68.2h.9M423.0 63.5h.9M405.1 71.9h.9M420.7 66.8h.9M410.1 69.0h.9M412.8 61.9h.9M420.5 69.0h.9M418.0 65.9h.9M413.2 67.5h.9M409.6 64.3h.9M418.3 63.8h.9M411.4 68.7h.9M408.8 67.2h.9M411.5 67.3h.9M420.5 67.6h.9M405.9 72.3h.9M411.2 62.6h.9M417.8 65.4h.9M416.6 65.3h.9M413.0 70.6h.9M406.5 69.9h.9M402.0 69.6h.9M411.0 62.8h.9M417.8 67.7h.9M409.9 67.4h.9M422.1 70.3h.9M415.0 63.5h.9M414.5 69.9h.9M419.3 66.6h.9M409.3 69.0h.9M422.8 67.5h.9M412.0 65.2h.9M403.5 72.9h.9M423.4 75.8h.9M413.3 58.9h.9M423.3 69.7h.9M405.6 70.0h.9M408.2 64.6h.9M411.5 67.9h.9M421.7 66.7h.9M405.0 66.2h.9M414.3 65.5h.9M417.3 67.4h.9M411.2 66.2h.9M414.5 64.4h.9M423.4 70.5h.9M414.2 67.8h.9M417.2 68.9h.9M416.1 66.6h.9M422.6 70.4h.9M409.8 64.5h.9M414.5 65.1h.9M408.9 62.9h.9M411.5 65.9h.9M421.4 66.2h.9M421.9 71.2h.9M409.7 63.2h.9M420.8 68.3h.9M413.5 62.2h.9M419.4 63.9h.9M411.1 59.3h.9M411.9 68.4h.9M407.3 67.9h.9M412.7 65.6h.9M403.5 71.8h.9M423.1 63.2h.9M408.2 63.6h.9M415.4 63.8h.9M415.0 66.7h.9M409.1 65.1h.9M423.1 69.9h.9M421.7 63.6h.9M419.2 62.9h.9M406.4 68.9h.9M413.1 66.7h.9M414.4 67.0h.9M405.7 67.5h.9M418.0 66.6h.9M420.4 62.5h.9M423.9 67.5h.9M414.8 66.7h.9M404.3 70.7h.9M409.5 63.3h.9M422.8 63.9h.9M406.9 70.7h.9M416.1 65.0h.9M415.7 66.7h.9M413.4 65.6h.9M418.0 71.5h.9M407.9 67.5h.9M417.5 68.4h.9M410.9 68.2h.9M422.2 67.1h.9M410.8 66.1h.9M406.2 62.8h.9M411.5 67.4h.9M413.4 71.0h.9M405.4 71.0h.9M421.4 70.8h.9M418.8 67.7h.9M410.4 68.2h.9M418.0 65.0h.9M425.1 73.0h.9M415.3 67.2h.9M410.7 68.7h.9M415.4 63.8h.9M419.4 62.9h.9M414.8 65.9h.9M407.0 65.9h.9M401.2 74.5h.9M409.4 70.0h.9M413.4 64.8h.9M419.9 70.4h.9M404.7 70.6h.9M420.7 66.2h.9M405.0 67.1h.9M408.4 69.5h.9M412.0 70.1h.9M422.9 69.9h.9M422.2 71.2h.9M403.2 71.1h.9M408.9 61.8h.9M413.6 64.3h.9M409.6 62.8h.9M422.5 67.2h.9M415.9 64.2h.9M408.9 64.8h.9M414.1 67.2h.9M417.1 69.0h.9M420.8 65.6h.9M420.7 68.4h.9M410.9 65.3h.9M419.8 65.3h.9M423.4 72.9h.9M412.9 64.6h.9M421.0 66.6h.9M411.8 64.9h.9M411.7 64.1h.9M406.6 64.6h.9M406.1 72.5h.9M410.3 66.6h.9M412.0 65.0h.9M415.3 66.4h.9M416.7 64.3h.9M419.9 64.9h.9M419.5 65.2h.9M415.2 62.2h.9M414.0 65.6h.9M415.5 67.0h.9M418.6 66.6h.9M423.0 65.6h.9M410.4 68.4h.9M421.8 64.2h.9M408.3 68.6h.9M404.6 75.8h.9M419.5 66.4h.9M409.9 69.4h.9M421.3 64.2h.9M408.9 66.5h.9M411.5 65.7h.9M420.7 64.4h.9M419.7 65.3h.9M405.4 71.7h.9M422.9 70.4h.9M408.1 67.4h.9M418.9 64.5h.9M421.7 69.0h.9M419.0 65.7h.9M413.5 64.5h.9M423.0 69.7h.9M420.1 61.2h.9M409.8 63.4h.9M424.2 70.1h.9M415.2 65.1h.9M408.1 67.4h.9M411.1 64.7h.9M407.1 69.8h.9M415.7 62.7h.9M414.8 70.0h.9M406.9 64.5h.9M412.9 63.4h.9M408.2 64.3h.9M421.7 65.4h.9M406.4 65.4h.9M417.5 64.9h.9M414.6 67.0h.9M416.7 67.7h.9M412.1 63.6h.9M406.3 68.7h.9M403.0 74.8h.9M408.9 66.0h.9M419.5 67.8h.9M408.6 65.7h.9M414.6 69.1h.9M411.1 63.3h.9M405.4 73.1h.9M411.5 64.9h.9M422.7 75.7h.9M410.2 65.0h.9M410.8 69.6h.9M413.0 66.8h.9M410.3 67.6h.9M409.0 63.6h.9M410.1 62.7h.9M421.9 67.5h.9M406.3 70.4h.9M407.0 67.8h.9M417.7 62.7h.9M407.4 69.9h.9M406.1 66.3h.9M408.6 67.6h.9M420.2 64.6h.9M423.7 67.7h.9M422.0 69.3h.9M409.8 60.1h.9M421.5 65.0h.9M406.8 69.6h.9M413.6 65.0h.9M417.3 62.3h.9M412.1 68.4h.9M423.6 72.0h.9M420.8 65.5h.9M413.0 61.7h.9M419.3 65.7h.9M420.7 67.3h.9M405.3 69.9h.9M409.4 67.2h.9M410.0 65.7h.9M424.3 68.8h.9M421.8 66.2h.9M411.1 67.3h.9M423.8 73.0h.9M404.4 69.4h.9M409.2 66.7h.9M407.3 65.3h.9M413.7 66.4h.9M422.3 67.3h.9M418.9 63.8h.9M403.4 75.3h.9M408.3 67.3h.9M420.8 63.8h.9M408.9 63.7h.9M419.9 64.7h.9M417.6 64.5h.9M419.5 63.6h.9M418.1 66.3h.9M415.2 65.1h.9M405.3 63.9h.9M418.7 69.1h.9M415.2 65.0h.9M420.1 66.5h.9M406.0 69.8h.9M408.1 63.6h.9M414.7 63.6h.9M420.8 67.8h.9M409.4 67.3h.9M419.1 65.2h.9M402.1 74.0h.9M404.3 72.2h.9M419.4 63.9h.9M426.5 72.8h.9M410.3 67.8h.9M410.9 63.8h.9M408.7 67.1h.9M414.9 65.5h.9M413.3 66.1h.9M412.3 65.4h.9M420.4 67.6h.9M403.9 76.5h.9M423.5 67.1h.9M418.7 62.2h.9M423.3 70.6h.9M424.1 68.3h.9M419.1 63.5h.9M410.0 62.4h.9M419.4 65.2h.9M417.6 67.5h.9M410.4 63.0h.9M420.0 66.5h.9M413.3 65.1h.9M425.0 72.9h.9M417.4 66.6h.9M420.2 65.7h.9M422.2 65.6h.9M415.3 66.1h.9M422.7 69.8h.9M415.6 67.0h.9M413.5 67.2h.9M424.6 72.1h.9M418.5 64.6h.9M419.0 62.9h.9M424.2 75.4h.9M414.6 67.9h.9M403.4 75.5h.9M417.6 67.4h.9M416.5 64.8h.9M419.3 65.0h.9M423.6 74.6h.9M420.1 64.9h.9M424.0 76.3h.9M421.5 69.4h.9M422.8 70.0h.9M409.9 63.9h.9M407.5 69.5h.9M418.1 67.9h.9M421.8 69.8h.9M421.3 69.5h.9M417.8 65.2h.9M411.4 70.2h.9M409.5 68.8h.9M404.1 75.1h.9M414.4 66.5h.9M415.3 65.1h.9M424.3 71.2h.9M416.1 62.7h.9M416.2 64.0h.9M412.0 64.2h.9M405.0 74.1h.9M408.7 64.3h.9M418.1 62.0h.9M418.4 66.2h.9M424.4 65.4h.9M415.1 65.1h.9M418.5 67.3h.9M419.6 62.5h.9M419.0 63.2h.9M406.7 67.4h.9M421.7 69.4h.9M418.8 65.5h.9M417.4 64.8h.9M406.1 67.5h.9M423.8 65.5h.9M417.2 62.5h.9M407.5 67.5h.9M414.9 67.6h.9M404.6 68.1h.9M405.5 71.2h.9M419.4 66.8h.9M418.4 62.0h.9M415.1 63.4h.9M406.9 65.9h.9M409.0 67.9h.9M406.9 68.7h.9M406.0 65.9h.9M404.8 67.8h.9M418.2 66.1h.9M418.6 66.7h.9M416.1 67.1h.9M416.7 65.6h.9M408.0 71.2h.9M422.3 64.7h.9M416.7 67.8h.9M406.0 64.8h.9M417.3 63.1h.9M413.5 67.4h.9M422.8 65.1h.9M420.0 64.2h.9M405.7 68.8h.9M416.8 71.5h.9M405.0 69.7h.9M415.0 65.2h.9M422.0 68.6h.9M408.0 64.9h.9M416.9 71.2h.9M412.8 63.1h.9M404.8 67.5h.9M422.1 68.6h.9M416.3 65.4h.9M408.3 64.9h.9M407.5 62.9h.9M409.4 65.6h.9M417.2 67.8h.9M423.8 67.1h.9M414.9 63.8h.9M404.8 77.6h.9M405.1 75.7h.9M409.4 67.2h.9M420.8 65.4h.9M407.4 64.5h.9M417.0 68.4h.9M402.4 72.8h.9M410.1 65.1h.9M418.5 65.5h.9M418.7 66.8h.9M404.0 75.4h.9M406.9 66.2h.9M409.3 65.1h.9M408.7 63.4h.9M409.8 65.3h.9M421.3 65.4h.9M405.3 69.1h.9M408.6 65.9h.9M411.9 64.7h.9M417.1 65.7h.9M420.2 67.3h.9M407.6 68.0h.9M412.2 65.5h.9M416.6 65.4h.9M413.3 65.2h.9M421.6 66.6h.9M405.9 69.5h.9M415.3 65.3h.9M417.5 65.5h.9M425.3 73.6h.9M404.8 75.8h.9M419.1 68.9h.9M408.2 63.0h.9M421.0 67.8h.9M414.5 64.9h.9M420.5 67.3h.9M409.1 68.5h.9M424.2 71.6h.9M411.6 64.8h.9M421.6 68.1h.9M410.3 60.6h.9M405.7 67.4h.9M410.9 61.1h.9M415.7 64.4h.9M421.1 65.4h.9M414.2 62.7h.9M412.1 65.9h.9M422.0 66.2h.9M420.4 63.4h.9M413.2 64.2h.9M419.2 64.8h.9M408.5 67.0h.9M417.2 64.9h.9M412.4 63.9h.9M408.4 62.2h.9M405.7 70.4h.9M406.3 66.5h.9M420.7 67.2h.9M419.1 64.4h.9M413.3 68.5h.9M421.7 67.5h.9M403.9 71.5h.9M416.1 65.1h.9M418.8 67.7h.9M403.5 73.8h.9M422.7 65.5h.9M418.6 65.8h.9M413.8 64.8h.9M413.7 65.3h.9M417.5 67.6h.9M413.7 66.3h.9M404.9 68.7h.9M411.4 71.3h.9M422.1 64.4h.9M415.5 68.4h.9M408.5 66.0h.9M423.4 68.7h.9M411.3 67.2h.9M407.1 67.9h.9M416.5 67.7h.9M406.8 70.1h.9M418.0 64.5h.9M418.4 63.1h.9M406.9 62.5h.9M409.1 61.5h.9M415.8 67.0h.9M407.3 62.1h.9M420.3 62.4h.9M417.6 66.5h.9M408.0 65.7h.9M416.1 66.1h.9M415.9 60.1h.9M412.3 63.1h.9M414.8 62.5h.9M412.6 65.8h.9M412.6 65.8h.9M412.5 66.7h.9M416.1 68.5h.9M404.1 82.3h.9M417.6 64.7h.9M404.0 69.3h.9M407.1 67.9h.9M421.9 65.6h.9M409.9 63.7h.9M415.6 67.8h.9M410.1 67.8h.9M425.4 75.6h.9M422.6 71.3h.9M409.8 61.0h.9M423.0 65.1h.9M422.6 70.0h.9M409.8 68.5h.9M412.1 63.7h.9M408.5 66.6h.9M407.6 68.7h.9M413.2 68.8h.9M413.4 63.9h.9M414.5 65.5h.9M409.7 65.8h.9M413.8 63.5h.9M423.2 73.4h.9M408.3 62.1h.9M419.4 66.8h.9M407.0 68.2h.9M420.3 66.9h.9M417.0 67.6h.9M421.3 62.8h.9M404.2 69.8h.9M418.1 66.6h.9M413.9 66.6h.9M410.7 63.1h.9M409.3 65.4h.9M422.8 65.2h.9M426.0 72.3h.9M423.0 77.8h.9M423.8 67.9h.9M423.7 75.7h.9M423.7 65.2h.9M426.5 76.5h.9M426.1 73.4h.9M424.5 69.5h.9M423.5 76.4h.9M423.3 73.0h.9M421.2 74.4h.9M424.1 72.6h.9M424.4 76.1h.9M423.7 74.6h.9M422.6 69.5h.9M425.8 69.7h.9M425.1 69.9h.9M424.2 75.0h.9M426.3 74.5h.9M424.4 73.4h.9M426.7 71.8h.9M423.7 70.7h.9M424.2 73.6h.9M423.1 75.1h.9M425.4 75.0h.9M423.3 77.7h.9M424.6 78.0h.9M424.2 71.4h.9M422.9 80.5h.9M427.3 77.3h.9M425.6 73.5h.9M423.7 73.7h.9M425.3 74.3h.9M424.5 70.9h.9M423.4 70.4h.9M426.7 72.7h.9M425.3 71.4h.9M424.9 63.5h.9M424.8 74.5h.9M425.0 66.5h.9M425.2 73.6h.9M424.4 71.4h.9M424.3 70.5h.9M424.2 75.0h.9M421.8 70.0h.9M423.8 69.5h.9M425.9 73.5h.9M426.3 73.2h.9M424.3 70.3h.9M422.9 70.1h.9M425.6 70.2h.9M422.8 73.6h.9M422.5 73.9h.9M422.0 75.1h.9M421.0 72.2h.9M426.8 69.7h.9M424.1 74.8h.9M419.8 80.9h.9M422.8 77.6h.9M421.5 69.3h.9M425.3 74.9h.9M423.0 72.1h.9M422.9 72.2h.9M425.0 71.7h.9M426.4 69.9h.9M422.8 67.7h.9M423.9 73.9h.9M422.5 69.3h.9M425.4 70.8h.9M424.3 71.3h.9M424.2 72.8h.9M422.8 71.2h.9M426.2 72.1h.9M423.5 71.2h.9M425.7 73.3h.9M425.8 73.7h.9M422.3 77.2h.9M423.7 74.3h.9M424.3 70.7h.9M422.4 74.3h.9M423.8 75.5h.9M424.4 70.8h.9M421.5 70.8h.9M423.5 65.4h.9M424.4 77.3h.9M423.3 73.0h.9M423.1 76.8h.9M421.9 67.7h.9M424.0 65.1h.9M424.3 73.6h.9M423.8 69.9h.9M426.0 73.1h.9M424.0 70.1h.9M423.3 75.2h.9M426.6 71.5h.9M425.0 72.1h.9M425.6 74.1h.9M425.9 71.2h.9M423.2 71.4h.9M422.5 76.5h.9M426.4 72.3h.9M421.1 73.3h.9M423.2 74.2h.9M426.4 72.9h.9M423.0 74.2h.9M425.1 78.6h.9M422.8 76.1h.9M427.5 68.2h.9M423.9 65.6h.9M425.2 69.9h.9M422.0 65.1h.9M425.1 64.1h.9M425.0 69.3h.9M423.3 69.6h.9M425.0 73.2h.9M423.7 74.0h.9M424.6 79.5h.9M423.3 70.3h.9M423.3 70.7h.9M422.2 73.3h.9M424.7 76.0h.9M423.7 71.8h.9M423.0 69.7h.9M426.5 64.1h.9M424.0 75.2h.9M423.8 71.8h.9M422.9 77.5h.9M425.4 78.3h.9M424.2 78.6h.9M422.8 74.0h.9M423.6 75.4h.9M424.9 68.3h.9M424.2 73.9h.9M425.8 71.4h.9M425.5 75.9h.9M427.3 70.8h.9M423.0 71.8h.9M424.0 69.9h.9M423.7 78.3h.9M423.7 72.9h.9M424.1 69.4h.9M423.5 71.3h.9M425.4 68.5h.9M422.2 76.4h.9M424.1 76.4h.9M425.0 73.0h.9M425.5 73.5h.9M424.0 68.0h.9M424.5 77.5h.9M424.1 72.4h.9M424.8 79.0h.9M423.8 70.7h.9M425.1 74.0h.9M426.0 75.3h.9M427.1 75.1h.9M423.5 72.2h.9M425.3 76.0h.9M424.4 73.8h.9M424.7 72.6h.9M423.4 69.3h.9M424.2 76.6h.9M424.9 72.6h.9M424.1 74.1h.9M423.4 72.3h.9M425.9 73.6h.9M424.2 71.4h.9M423.7 80.7h.9M424.1 78.3h.9M423.7 74.7h.9M422.9 73.4h.9M424.8 74.7h.9M423.7 69.8h.9M422.2 74.4h.9M425.5 72.2h.9M423.5 71.2h.9M421.9 70.4h.9M423.9 70.4h.9M423.0 74.1h.9M424.3 72.6h.9M422.3 70.0h.9M423.4 73.8h.9M421.6 73.0h.9M422.0 72.2h.9M424.1 77.1h.9M423.1 71.7h.9M426.2 68.3h.9M422.9 73.0h.9M424.2 69.4h.9M422.1 75.2h.9M426.2 74.3h.9M424.0 71.5h.9M421.7 74.1h.9M424.3 71.3h.9M423.3 71.1h.9M427.2 66.9h.9M425.6 65.9h.9M422.8 71.2h.9M425.0 78.0h.9M424.7 68.8h.9M423.5 72.3h.9M423.5 70.4h.9M423.6 74.1h.9M422.6 69.9h.9M424.4 72.2h.9M423.3 73.8h.9M423.9 70.9h.9M423.5 72.0h.9M422.9 71.8h.9M426.9 74.1h.9M424.4 74.5h.9M425.0 74.8h.9M428.0 73.8h.9M423.9 69.4h.9M423.0 71.2h.9M421.5 74.1h.9M421.9 72.6h.9M424.9 75.2h.9M421.9 68.5h.9M421.0 69.7h.9M424.1 69.9h.9" stroke="#000" stroke-width="0.9" opacity="0.9" fill="none"/>
<path d="M386.8 74.4h.7M399.7 86.2h.7M387.4 74.8h.7M396.3 70.7h.7M395.6 68.7h.7M387.8 75.1h.7M388.4 72.8h.7M391.5 75.9h.7M399.6 77.1h.7M398.2 69.4h.7M391.5 75.4h.7M400.4 71.5h.7M398.5 71.6h.7M397.8 70.4h.7M388.5 73.8h.7M387.8 71.6h.7M390.5 71.6h.7M387.5 73.3h.7M400.1 68.7h.7M392.1 81.4h.7M399.3 78.1h.7M393.2 73.2h.7M393.3 76.5h.7M386.5 70.5h.7M391.1 75.5h.7M395.7 67.6h.7M395.7 74.7h.7M389.4 75.6h.7M386.4 73.2h.7M390.9 78.5h.7M397.7 71.1h.7M396.7 75.6h.7M397.4 77.7h.7M396.7 77.5h.7M393.6 74.9h.7M386.4 83.0h.7M389.0 78.8h.7M395.5 78.1h.7M391.5 71.5h.7M389.2 75.4h.7M396.7 72.4h.7M397.7 84.9h.7M391.6 76.8h.7M389.2 71.3h.7M394.2 79.1h.7M386.6 80.3h.7M392.9 72.2h.7M400.9 75.8h.7M397.0 87.0h.7M390.4 75.2h.7M390.2 76.7h.7M396.7 90.1h.7M399.2 75.0h.7M392.5 69.3h.7M389.8 70.4h.7M400.6 75.7h.7M399.1 78.8h.7M397.6 70.8h.7M397.8 65.1h.7M392.1 77.7h.7M396.5 74.0h.7M389.8 72.6h.7M392.2 70.7h.7M396.5 80.4h.7M395.8 74.2h.7M397.2 68.6h.7M395.0 70.1h.7M386.9 72.8h.7M392.1 67.9h.7M397.8 72.5h.7M392.4 80.5h.7M393.3 79.1h.7M392.6 79.8h.7M389.8 79.7h.7M400.5 75.7h.7M397.8 76.8h.7M400.2 66.6h.7M391.9 78.6h.7M395.9 78.0h.7M394.6 76.1h.7M394.4 76.1h.7M393.7 69.8h.7M397.3 72.7h.7M395.6 67.4h.7M398.1 72.6h.7M386.8 73.7h.7M396.6 71.8h.7M388.1 80.6h.7M397.0 70.9h.7M397.0 76.6h.7M393.0 76.0h.7M386.3 74.1h.7M399.5 77.7h.7M386.7 76.9h.7M394.9 73.1h.7M388.6 81.3h.7M396.7 74.3h.7M390.1 78.0h.7M401.0 70.0h.7M387.9 70.6h.7M399.7 75.8h.7M395.7 86.2h.7M387.6 68.9h.7M387.4 69.2h.7M386.6 71.3h.7M398.8 72.9h.7M397.5 75.3h.7M398.7 80.0h.7M394.1 74.2h.7M399.9 77.9h.7M395.3 75.1h.7M391.3 72.3h.7M386.8 72.7h.7M386.6 77.4h.7M397.8 75.9h.7M390.1 81.4h.7M391.3 74.5h.7M397.4 69.5h.7M399.0 71.4h.7M399.8 76.8h.7M397.2 76.6h.7M394.6 83.1h.7M400.8 72.1h.7M400.4 78.2h.7M391.0 74.7h.7M389.8 65.1h.7M399.0 69.5h.7M398.8 73.4h.7M388.6 71.9h.7M394.4 80.4h.7M387.2 74.1h.7M387.9 76.5h.7M390.5 78.8h.7M392.1 72.9h.7M387.5 78.3h.7M398.4 70.3h.7M399.4 68.9h.7M389.5 80.5h.7M398.8 81.4h.7M400.9 78.6h.7M389.6 71.5h.7M395.6 73.5h.7M389.5 70.6h.7M396.7 70.6h.7M386.3 75.8h.7M398.0 72.8h.7M388.2 80.7h.7M389.2 67.6h.7M400.9 72.6h.7M399.6 69.2h.7M399.7 68.8h.7M394.0 82.7h.7M397.7 77.1h.7M394.4 77.6h.7M395.5 78.0h.7M399.6 75.2h.7M389.8 60.0h.7M396.7 64.1h.7M397.5 62.6h.7M400.0 81.8h.7M391.3 79.0h.7M397.0 76.5h.7M393.1 76.8h.7M386.4 78.4h.7M389.0 72.0h.7M387.9 83.9h.7M393.9 73.7h.7M397.3 70.5h.7M388.0 83.9h.7M389.0 75.6h.7M399.6 76.6h.7M400.7 80.8h.7M395.7 85.6h.7M389.8 74.8h.7M393.9 75.5h.7M393.4 68.2h.7M388.4 75.1h.7M397.7 83.1h.7M391.7 71.2h.7M388.7 70.5h.7M388.0 66.7h.7M397.4 68.7h.7M398.0 68.5h.7M397.6 75.0h.7M397.9 76.3h.7M398.3 65.1h.7M386.7 77.0h.7M393.7 81.3h.7M396.3 79.1h.7M391.1 79.0h.7M391.7 72.5h.7M398.9 69.5h.7M390.0 68.1h.7M387.6 67.7h.7M393.5 73.3h.7M398.3 77.9h.7M387.1 66.1h.7M389.8 65.1h.7M397.0 80.7h.7M390.6 70.3h.7M390.1 85.8h.7M400.9 76.8h.7M389.9 67.9h.7M392.6 79.5h.7M386.8 79.9h.7M391.2 66.6h.7M391.7 73.7h.7M397.1 81.7h.7M399.6 67.4h.7M386.5 77.0h.7M401.0 76.6h.7M387.4 84.5h.7M399.1 81.4h.7M398.8 73.0h.7M396.8 67.9h.7M397.2 73.2h.7M393.6 75.4h.7M391.3 74.8h.7M386.4 72.8h.7M394.9 70.2h.7M398.3 81.2h.7M392.7 73.0h.7M395.9 76.0h.7M389.1 75.6h.7M399.8 74.8h.7M390.2 80.8h.7M395.7 69.9h.7M397.3 76.2h.7M399.4 79.9h.7M397.5 72.7h.7M399.2 75.7h.7M386.7 78.2h.7M397.5 77.5h.7M393.8 75.0h.7M392.8 68.9h.7M390.4 70.5h.7M387.0 75.1h.7M396.3 73.5h.7M388.0 72.4h.7M396.9 66.5h.7M386.9 78.0h.7M394.0 69.8h.7M396.7 82.7h.7M390.9 88.7h.7M399.1 78.9h.7M400.7 77.3h.7M389.9 71.9h.7M386.7 70.2h.7M388.0 73.0h.7M389.0 80.0h.7M390.5 75.2h.7M400.5 67.0h.7M400.2 78.9h.7M391.3 72.5h.7M396.4 79.1h.7M396.5 75.0h.7M395.6 72.8h.7M393.1 78.6h.7M388.7 72.2h.7M387.7 81.6h.7M394.4 71.1h.7M400.7 82.1h.7M388.0 68.5h.7M392.5 69.7h.7M390.4 82.4h.7M398.9 73.5h.7M395.5 78.9h.7M390.7 70.4h.7M388.2 70.0h.7M399.2 75.1h.7M399.8 85.5h.7M392.7 73.7h.7M397.3 67.1h.7M395.4 62.9h.7M394.1 74.6h.7M393.0 77.9h.7M387.1 73.2h.7M386.7 75.7h.7M389.9 71.1h.7M391.6 81.1h.7M392.7 77.3h.7M394.9 71.8h.7M386.8 80.8h.7M389.7 74.7h.7M395.5 63.2h.7M397.7 72.9h.7M399.6 72.3h.7M389.9 61.4h.7M399.0 77.0h.7M387.3 81.6h.7M389.4 72.0h.7M391.8 70.3h.7M388.9 73.6h.7M389.6 72.3h.7M387.2 74.3h.7M396.9 66.8h.7M390.3 73.0h.7M389.6 83.9h.7M390.5 73.9h.7M400.1 75.1h.7M396.1 76.2h.7M394.1 70.5h.7M397.4 67.7h.7M391.3 85.8h.7M390.1 74.7h.7M390.3 69.5h.7M398.1 78.9h.7M399.3 72.5h.7M400.8 69.9h.7M396.7 72.0h.7M394.3 67.8h.7M391.5 69.5h.7M391.6 79.0h.7M392.3 75.1h.7M390.4 81.0h.7M395.2 78.0h.7M390.8 72.5h.7M399.8 67.2h.7M392.9 71.8h.7M389.7 80.8h.7M396.9 69.9h.7M394.4 85.2h.7M398.0 73.4h.7M389.4 67.8h.7M395.9 72.3h.7M390.4 81.6h.7M397.8 71.4h.7M393.7 76.7h.7M391.1 78.2h.7M390.7 71.8h.7M394.9 79.7h.7M392.2 81.6h.7M390.3 78.5h.7M392.7 65.8h.7M398.9 76.1h.7M397.7 79.0h.7M389.7 83.6h.7M397.2 76.0h.7M399.0 74.8h.7M392.8 64.4h.7M388.6 68.8h.7M392.4 80.2h.7M392.1 68.9h.7M398.4 73.4h.7M396.7 66.2h.7M390.1 73.1h.7M393.0 68.5h.7M391.3 76.9h.7M388.1 74.2h.7M392.0 76.3h.7M397.0 66.9h.7M391.4 73.5h.7M391.0 78.8h.7M398.4 58.8h.7M386.9 71.5h.7M390.4 74.0h.7M388.6 78.6h.7M396.5 77.5h.7M393.1 77.6h.7M391.2 76.2h.7M392.9 78.4h.7M390.3 73.7h.7M397.5 74.0h.7M400.9 68.7h.7M395.4 73.5h.7M389.9 73.3h.7M388.7 82.2h.7M396.1 69.0h.7M400.4 75.9h.7M389.1 73.1h.7M398.9 74.8h.7M387.9 80.0h.7M393.7 74.3h.7M390.9 70.0h.7M389.0 75.1h.7M390.1 79.4h.7M392.6 76.2h.7M396.1 78.2h.7M390.8 67.9h.7M396.0 79.3h.7M395.3 72.3h.7M396.4 68.7h.7M397.2 76.3h.7M394.7 67.6h.7M396.8 76.1h.7M388.8 82.6h.7M388.2 72.0h.7M399.2 70.3h.7M397.7 80.3h.7M386.9 78.0h.7M390.5 79.0h.7M387.1 65.2h.7M393.0 70.6h.7M394.0 84.0h.7M395.7 70.7h.7M394.5 72.5h.7M391.2 75.4h.7M391.8 75.8h.7M387.4 73.8h.7M387.4 61.7h.7M398.6 77.5h.7M387.6 79.5h.7M399.7 81.0h.7M393.5 69.3h.7M400.8 75.4h.7M392.5 82.9h.7M395.0 99.7h.7M396.2 71.2h.7M397.3 90.2h.7M388.0 87.7h.7M396.4 85.4h.7M391.6 69.7h.7M398.0 93.4h.7M394.6 89.8h.7M393.2 103.5h.7M392.2 91.2h.7M386.5 71.8h.7M400.6 66.1h.7M389.4 88.1h.7M388.3 102.9h.7M395.0 64.6h.7M389.0 72.9h.7M399.7 61.7h.7M399.2 66.7h.7M395.9 62.1h.7M392.3 73.8h.7M388.3 68.5h.7M389.3 60.6h.7M387.7 63.9h.7M388.0 89.6h.7M397.1 75.5h.7M388.6 67.2h.7M388.0 98.0h.7M395.1 78.9h.7M393.4 102.7h.7M392.8 92.4h.7M393.2 75.1h.7M387.3 80.7h.7M395.2 84.1h.7M387.8 85.9h.7M394.4 95.6h.7M388.4 63.9h.7M399.2 100.7h.7M391.8 63.2h.7M398.3 94.0h.7M386.3 96.6h.7M400.0 65.9h.7M391.5 100.2h.7M401.0 92.0h.7M398.9 82.3h.7M389.3 89.1h.7M387.7 70.9h.7M389.8 86.2h.7M391.5 83.4h.7M390.7 93.9h.7M400.4 81.5h.7M394.6 67.1h.7M397.3 89.1h.7M394.5 90.4h.7M394.4 74.6h.7M388.0 78.6h.7M394.8 67.0h.7M399.1 103.5h.7M392.1 61.0h.7M399.1 78.0h.7M393.1 89.5h.7M395.1 89.1h.7M386.5 84.2h.7M396.7 86.6h.7M398.0 90.7h.7M397.8 89.6h.7M399.2 79.2h.7M392.5 85.5h.7M400.3 102.1h.7M390.8 99.7h.7M398.1 64.3h.7M395.2 77.3h.7M400.9 79.7h.7M393.6 67.8h.7M394.3 96.2h.7M390.6 65.1h.7M392.0 66.0h.7M400.8 86.2h.7M397.2 74.5h.7M395.7 64.2h.7M400.7 90.7h.7M395.9 98.4h.7M388.1 71.6h.7M387.0 101.3h.7M386.4 70.3h.7M399.8 67.9h.7M399.3 91.1h.7M399.7 79.2h.7M387.7 99.1h.7M398.2 80.4h.7M391.5 64.8h.7M388.2 61.2h.7M391.8 61.2h.7M387.6 89.7h.7M390.1 60.2h.7M388.3 97.2h.7M392.6 82.9h.7M390.5 76.7h.7M393.3 83.7h.7M387.9 89.4h.7M398.4 71.4h.7M398.6 100.7h.7M387.4 67.8h.7M399.5 65.6h.7M387.2 87.6h.7M387.3 92.0h.7M392.3 79.1h.7M400.5 83.8h.7M391.1 78.8h.7M394.8 75.3h.7M391.1 95.3h.7M400.2 100.0h.7M391.2 71.5h.7M391.7 102.1h.7M395.7 87.2h.7M390.3 76.0h.7M390.2 94.3h.7M387.7 102.6h.7M393.7 83.5h.7M396.1 102.9h.7M392.2 100.6h.7M411.4 72.4h.7M415.0 71.0h.7M428.5 67.7h.7M396.8 73.8h.7M417.9 72.2h.7M410.5 78.0h.7M405.0 85.3h.7M413.3 63.1h.7M418.7 89.4h.7M422.8 81.7h.7M408.4 61.7h.7M421.2 70.8h.7M428.5 71.9h.7M417.0 82.4h.7M421.9 63.3h.7M419.6 87.3h.7M421.3 62.2h.7M406.8 68.7h.7M426.4 66.4h.7M419.6 60.8h.7M431.9 61.8h.7M422.8 66.7h.7M407.5 69.6h.7M426.0 66.4h.7M427.9 63.6h.7M425.0 48.8h.7M412.8 69.4h.7M411.8 88.8h.7M427.7 86.8h.7M408.5 82.3h.7M423.4 68.4h.7M416.7 76.5h.7M409.6 67.2h.7M412.2 67.7h.7M410.7 73.4h.7M420.1 81.1h.7M409.5 67.5h.7M414.8 66.1h.7M413.4 71.6h.7M419.0 58.7h.7M424.6 79.6h.7M402.2 81.1h.7M419.3 82.6h.7M409.2 78.9h.7M413.7 66.7h.7M414.3 69.9h.7M429.7 63.6h.7M429.2 74.8h.7M413.3 91.5h.7M413.3 63.2h.7M428.5 77.9h.7M420.1 84.3h.7M432.4 62.7h.7M409.2 91.1h.7M425.8 66.0h.7M411.1 71.1h.7M389.2 75.7h.7M422.3 80.3h.7M407.0 79.1h.7M421.9 69.8h.7M412.8 66.1h.7M426.8 51.1h.7M403.2 67.5h.7M401.4 83.3h.7M429.0 65.0h.7M425.3 77.5h.7M416.4 78.4h.7M400.9 73.5h.7M423.2 67.1h.7M437.6 67.1h.7M412.2 71.6h.7M411.9 56.3h.7M407.9 84.6h.7M419.5 62.6h.7M414.7 66.4h.7M401.5 66.5h.7M408.8 69.4h.7M423.9 75.4h.7M405.1 82.9h.7M417.5 74.1h.7M424.5 86.2h.7M422.0 68.7h.7M399.1 78.3h.7M420.4 79.2h.7M405.1 73.4h.7M397.0 78.1h.7M417.8 63.0h.7M400.4 84.0h.7M412.9 79.4h.7M426.2 73.6h.7M420.0 68.9h.7M413.8 79.7h.7M423.4 62.3h.7M415.5 78.7h.7M422.2 80.5h.7M425.1 94.6h.7M405.9 71.3h.7M429.9 84.3h.7M413.7 77.7h.7M415.5 57.7h.7M416.6 60.6h.7M412.4 67.4h.7M410.9 82.6h.7M419.7 85.2h.7M409.4 69.9h.7M419.2 76.1h.7M421.5 74.2h.7M409.7 49.8h.7M411.9 82.0h.7M419.6 84.9h.7M414.6 52.1h.7M420.5 63.7h.7M414.3 71.4h.7M411.9 71.4h.7M412.9 81.6h.7M417.7 82.7h.7M425.4 67.2h.7M399.7 78.2h.7M410.5 66.3h.7M411.3 69.3h.7M407.7 74.3h.7M410.6 77.1h.7M425.4 66.5h.7M424.0 89.3h.7M409.5 74.0h.7M401.9 72.2h.7M418.6 79.1h.7M419.2 66.5h.7M404.3 75.0h.7M416.7 50.1h.7M418.7 56.7h.7M420.8 68.8h.7M410.4 67.9h.7M419.4 68.9h.7M413.4 66.3h.7M422.5 77.4h.7M417.1 83.0h.7M420.5 67.6h.7M415.0 81.5h.7M412.6 75.6h.7M417.0 61.3h.7M422.6 60.0h.7M411.6 72.6h.7M418.1 81.8h.7M436.7 63.9h.7M409.1 53.3h.7M403.1 80.9h.7M406.4 82.5h.7M412.3 70.1h.7M414.9 82.0h.7M394.9 90.4h.7M397.2 64.5h.7M421.9 68.7h.7M402.3 68.8h.7M421.0 81.9h.7M425.8 64.5h.7M387.5 69.3h.7M419.8 83.6h.7M415.2 81.3h.7M411.9 81.8h.7M418.3 64.0h.7M414.4 76.2h.7M419.7 67.0h.7M431.3 80.5h.7M417.6 76.8h.7M404.0 78.7h.7M427.4 70.8h.7M424.9 73.6h.7M427.8 75.7h.7M418.4 70.4h.7M422.9 75.2h.7M432.5 63.7h.7M414.4 61.7h.7M409.5 57.0h.7M427.9 71.0h.7M412.0 79.9h.7M425.3 76.2h.7M410.3 54.7h.7M410.8 75.9h.7M417.7 72.7h.7M417.9 70.9h.7M408.3 74.4h.7M429.6 77.5h.7M411.3 84.6h.7M421.4 83.5h.7M407.0 89.5h.7M409.7 77.6h.7M410.1 67.2h.7M416.6 84.3h.7M416.6 61.6h.7M417.1 79.9h.7M415.3 63.3h.7M423.4 67.3h.7M423.3 83.3h.7M411.3 67.0h.7M416.4 82.0h.7M419.2 78.1h.7M421.6 71.3h.7M419.8 79.1h.7M412.2 77.9h.7M412.3 73.8h.7M415.9 66.9h.7M419.6 79.9h.7M405.8 69.6h.7M406.4 72.0h.7M411.7 76.5h.7M416.0 71.6h.7M409.4 74.8h.7M411.4 75.2h.7M408.0 75.0h.7M419.7 73.7h.7M397.5 84.8h.7M415.1 68.3h.7M409.3 68.7h.7M415.4 61.4h.7M416.8 51.8h.7M388.6 78.4h.7M425.0 76.8h.7M421.5 85.2h.7M429.1 59.7h.7M422.1 65.7h.7M423.2 67.5h.7M420.0 89.7h.7M429.2 80.6h.7M403.3 70.9h.7M414.3 72.3h.7M407.0 75.2h.7M422.9 62.5h.7M417.5 75.5h.7M429.6 62.9h.7M416.4 73.3h.7M413.6 78.5h.7M413.6 74.9h.7M408.6 66.2h.7M397.1 69.9h.7M414.9 79.4h.7M411.3 67.8h.7M411.2 60.4h.7M405.0 69.9h.7M416.0 67.7h.7M405.9 70.5h.7M417.5 72.2h.7M413.0 69.2h.7M412.3 69.1h.7M401.1 80.2h.7M418.1 77.3h.7M422.8 80.6h.7M413.9 72.8h.7M409.9 68.8h.7M420.6 74.8h.7M422.1 59.3h.7M411.3 62.2h.7M439.3 79.5h.7M426.1 67.8h.7M428.4 66.2h.7M418.8 62.5h.7M418.7 75.9h.7M406.4 61.5h.7M412.8 82.7h.7M415.6 73.8h.7M421.3 56.6h.7M410.6 67.5h.7M407.6 63.0h.7M425.5 76.8h.7M416.1 76.6h.7M423.5 67.7h.7M416.1 66.3h.7M409.7 75.8h.7M414.9 66.4h.7M393.3 83.6h.7M423.8 66.1h.7M420.1 74.9h.7M425.5 54.5h.7M413.2 75.2h.7M432.7 66.4h.7M426.0 74.2h.7M399.5 81.6h.7M399.3 70.3h.7M417.4 49.8h.7M402.8 53.8h.7M413.8 72.5h.7M413.5 63.9h.7M412.3 61.6h.7M428.4 80.7h.7M420.1 69.7h.7M420.8 79.9h.7M417.2 79.7h.7M441.5 68.2h.7M426.9 72.8h.7M408.9 61.2h.7M420.1 75.1h.7M408.5 71.3h.7M413.5 85.4h.7M414.3 78.9h.7M402.7 70.1h.7M398.5 65.5h.7M404.2 69.5h.7M419.9 71.5h.7M390.3 78.1h.7M420.4 80.4h.7M396.1 60.9h.7M408.0 62.3h.7M410.2 74.3h.7M421.6 60.8h.7M415.0 70.6h.7M405.2 55.8h.7M409.8 68.5h.7M417.2 67.4h.7M424.7 68.5h.7M417.4 65.7h.7M414.0 75.6h.7M412.7 79.1h.7M429.0 77.7h.7M407.7 68.9h.7M410.9 68.6h.7M418.1 65.5h.7M426.4 65.0h.7M399.6 69.8h.7M423.7 69.8h.7M425.3 69.5h.7M417.3 73.4h.7M398.0 78.8h.7M408.6 65.7h.7M413.7 69.3h.7M417.5 76.2h.7M403.8 73.1h.7M412.8 64.4h.7M421.3 61.1h.7M410.1 77.1h.7M412.2 62.1h.7M410.8 75.0h.7M402.2 62.7h.7M411.7 86.8h.7M413.0 62.3h.7M421.6 87.4h.7M407.8 78.1h.7M403.2 83.7h.7M410.5 82.4h.7M407.0 76.3h.7M420.0 69.1h.7M409.9 93.1h.7M400.9 68.2h.7M420.4 73.4h.7M414.3 60.1h.7M416.5 71.7h.7M418.5 76.9h.7M424.4 65.7h.7M406.7 73.0h.7M420.5 69.3h.7M415.6 68.9h.7M410.9 81.5h.7M412.1 96.0h.7M404.3 98.8h.7M399.6 94.4h.7M410.2 105.6h.7M402.6 93.2h.7M405.7 97.1h.7M403.9 89.0h.7M412.8 93.9h.7M418.5 84.4h.7M405.1 89.3h.7M418.4 98.5h.7M408.7 91.3h.7M406.3 89.1h.7M413.3 90.6h.7M417.2 94.8h.7M406.8 100.8h.7M406.3 81.0h.7M416.9 91.2h.7M412.2 90.4h.7M394.3 89.7h.7M407.1 91.2h.7M404.0 94.9h.7M405.0 99.4h.7M408.5 79.5h.7M405.6 83.2h.7M405.9 92.1h.7M418.0 81.3h.7M400.0 94.5h.7M408.7 85.4h.7M410.8 90.4h.7M400.8 83.3h.7M402.3 85.0h.7M412.0 88.9h.7M402.6 101.2h.7M410.3 90.9h.7M402.0 95.6h.7M401.7 85.7h.7M410.0 94.6h.7M411.9 87.6h.7M401.3 71.5h.7M402.9 73.0h.7M409.0 90.3h.7M403.1 95.8h.7M402.1 85.7h.7M402.5 83.8h.7M409.2 87.2h.7M395.0 102.5h.7M416.3 78.4h.7M415.6 95.6h.7M413.9 99.1h.7M406.7 81.7h.7M404.5 84.6h.7M410.3 88.3h.7M402.3 86.4h.7M418.3 97.7h.7M404.8 91.6h.7M413.6 87.4h.7M411.7 93.6h.7M405.6 99.5h.7M406.6 88.5h.7M403.7 85.4h.7M408.2 97.5h.7M410.7 103.1h.7M407.8 102.0h.7M406.1 96.8h.7M407.9 90.1h.7M413.8 97.0h.7M412.2 95.3h.7M410.2 95.7h.7M404.7 91.3h.7M405.4 98.7h.7M410.2 97.7h.7M405.8 82.9h.7M404.4 96.5h.7M414.5 84.7h.7M408.3 92.5h.7M408.9 90.7h.7M404.9 95.0h.7M409.1 88.2h.7M411.7 89.2h.7M409.1 88.2h.7M400.5 88.3h.7M405.3 81.9h.7M410.4 95.4h.7M408.9 87.7h.7M412.6 94.2h.7M406.2 91.7h.7M407.4 94.7h.7M412.1 95.8h.7M407.4 82.8h.7M411.9 91.0h.7M399.1 93.1h.7M403.0 87.0h.7M412.2 87.3h.7M411.6 94.4h.7M411.4 100.7h.7M412.1 95.6h.7M412.2 96.7h.7M402.2 94.1h.7M415.5 105.1h.7M411.9 92.2h.7M401.8 98.2h.7M409.6 94.5h.7M404.3 91.8h.7M410.1 81.1h.7M406.2 80.7h.7M403.4 92.3h.7M405.7 85.6h.7M407.5 88.5h.7M411.4 84.2h.7M404.3 91.8h.7M409.9 87.4h.7M406.5 95.9h.7M406.9 102.3h.7M396.2 95.3h.7M405.1 92.3h.7" stroke="#000" stroke-width="0.7" opacity="0.6" fill="none"/>
<rect x="385.80" y="14.90" width="103.70" height="91.90" fill="none" stroke="#555" stroke-width="1"/>
<line x1="400.50" y1="14.90" x2="400.50" y2="106.80" stroke="#333" stroke-width="1"/>
<line x1="426.00" y1="72.70" x2="489.50" y2="72.70" stroke="#333" stroke-width="1"/>
<line x1="410.40" y1="72.70" x2="410.40" y2="106.80" stroke="#333" stroke-width="1"/>
<line x1="414.60" y1="72.70" x2="414.60" y2="106.80" stroke="#333" stroke-width="1"/>
<line x1="431.00" y1="72.70" x2="431.00" y2="106.80" stroke="#333" stroke-width="1"/>
<line x1="400.50" y1="72.70" x2="431.00" y2="72.70" stroke="#333" stroke-width="0.6"/>
<line x1="389.80" y1="106.80" x2="389.80" y2="110.00" stroke="#555" stroke-width="0.6"/>
<line x1="393.70" y1="106.80" x2="393.70" y2="109.00" stroke="#555" stroke-width="0.6"/>
<line x1="397.60" y1="106.80" x2="397.60" y2="109.00" stroke="#555" stroke-width="0.6"/>
<line x1="401.50" y1="106.80" x2="401.50" y2="109.00" stroke="#555" stroke-width="0.6"/>
<line x1="405.40" y1="106.80" x2="405.40" y2="109.00" stroke="#555" stroke-width="0.6"/>
<line x1="409.30" y1="106.80" x2="409.30" y2="110.00" stroke="#555" stroke-width="0.6"/>
<line x1="413.20" y1="106.80" x2="413.20" y2="109.00" stroke="#555" stroke-width="0.6"/>
<line x1="417.10" y1="106.80" x2="417.10" y2="109.00" stroke="#555" stroke-width="0.6"/>
<line x1="421.00" y1="106.80" x2="421.00" y2="109.00" stroke="#555" stroke-width="0.6"/>
<line x1="424.90" y1="106.80" x2="424.90" y2="109.00" stroke="#555" stroke-width="0.6"/>
<line x1="428.80" y1="106.80" x2="428.80" y2="110.00" stroke="#555" stroke-width="0.6"/>
<line x1="432.70" y1="106.80" x2="432.70" y2="109.00" stroke="#555" stroke-width="0.6"/>
<line x1="436.60" y1="106.80" x2="436.60" y2="109.00" stroke="#555" stroke-width="0.6"/>
<line x1="440.50" y1="106.80" x2="440.50" y2="109.00" stroke="#555" stroke-width="0.6"/>
<line x1="444.40" y1="106.80" x2="444.40" y2="109.00" stroke="#555" stroke-width="0.6"/>
<line x1="448.30" y1="106.80" x2="448.30" y2="110.00" stroke="#555" stroke-width="0.6"/>
<line x1="452.20" y1="106.80" x2="452.20" y2="109.00" stroke="#555" stroke-width="0.6"/>
<line x1="456.10" y1="106.80" x2="456.10" y2="109.00" stroke="#555" stroke-width="0.6"/>
<line x1="460.00" y1="106.80" x2="460.00" y2="109.00" stroke="#555" stroke-width="0.6"/>
<line x1="463.90" y1="106.80" x2="463.90" y2="109.00" stroke="#555" stroke-width="0.6"/>
<line x1="467.80" y1="106.80" x2="467.80" y2="110.00" stroke="#555" stroke-width="0.6"/>
<line x1="471.70" y1="106.80" x2="471.70" y2="109.00" stroke="#555" stroke-width="0.6"/>
<line x1="475.60" y1="106.80" x2="475.60" y2="109.00" stroke="#555" stroke-width="0.6"/>
<line x1="479.50" y1="106.80" x2="479.50" y2="109.00" stroke="#555" stroke-width="0.6"/>
<line x1="483.40" y1="106.80" x2="483.40" y2="109.00" stroke="#555" stroke-width="0.6"/>
<line x1="487.30" y1="106.80" x2="487.30" y2="110.00" stroke="#555" stroke-width="0.6"/>
<line x1="385.80" y1="104.80" x2="383.20" y2="104.80" stroke="#555" stroke-width="0.6"/>
<line x1="385.80" y1="100.90" x2="384.20" y2="100.90" stroke="#555" stroke-width="0.6"/>
<line x1="385.80" y1="97.00" x2="384.20" y2="97.00" stroke="#555" stroke-width="0.6"/>
<line x1="385.80" y1="93.10" x2="383.20" y2="93.10" stroke="#555" stroke-width="0.6"/>
<line x1="385.80" y1="89.20" x2="384.20" y2="89.20" stroke="#555" stroke-width="0.6"/>
<line x1="385.80" y1="85.30" x2="384.20" y2="85.30" stroke="#555" stroke-width="0.6"/>
<line x1="385.80" y1="81.40" x2="383.20" y2="81.40" stroke="#555" stroke-width="0.6"/>
<line x1="385.80" y1="77.50" x2="384.20" y2="77.50" stroke="#555" stroke-width="0.6"/>
<line x1="385.80" y1="73.60" x2="384.20" y2="73.60" stroke="#555" stroke-width="0.6"/>
<line x1="385.80" y1="69.70" x2="383.20" y2="69.70" stroke="#555" stroke-width="0.6"/>
<line x1="385.80" y1="65.80" x2="384.20" y2="65.80" stroke="#555" stroke-width="0.6"/>
<line x1="385.80" y1="61.90" x2="384.20" y2="61.90" stroke="#555" stroke-width="0.6"/>
<line x1="385.80" y1="58.00" x2="383.20" y2="58.00" stroke="#555" stroke-width="0.6"/>
<line x1="385.80" y1="54.10" x2="384.20" y2="54.10" stroke="#555" stroke-width="0.6"/>
<line x1="385.80" y1="50.20" x2="384.20" y2="50.20" stroke="#555" stroke-width="0.6"/>
<line x1="385.80" y1="46.30" x2="383.20" y2="46.30" stroke="#555" stroke-width="0.6"/>
<line x1="385.80" y1="42.40" x2="384.20" y2="42.40" stroke="#555" stroke-width="0.6"/>
<line x1="385.80" y1="38.50" x2="384.20" y2="38.50" stroke="#555" stroke-width="0.6"/>
<line x1="385.80" y1="34.60" x2="383.20" y2="34.60" stroke="#555" stroke-width="0.6"/>
<line x1="385.80" y1="30.70" x2="384.20" y2="30.70" stroke="#555" stroke-width="0.6"/>
<line x1="385.80" y1="26.80" x2="384.20" y2="26.80" stroke="#555" stroke-width="0.6"/>
<line x1="385.80" y1="22.90" x2="383.20" y2="22.90" stroke="#555" stroke-width="0.6"/>
<line x1="385.80" y1="19.00" x2="384.20" y2="19.00" stroke="#555" stroke-width="0.6"/>
<line x1="385.80" y1="15.10" x2="384.20" y2="15.10" stroke="#555" stroke-width="0.6"/>
<line x1="369.30" y1="107.00" x2="369.30" y2="19.90" stroke="#000" stroke-width="1"/>
<polygon points="369.30,14.90 366.70,20.90 371.90,20.90" fill="#000"/>
<text transform="translate(367.30,57.00) rotate(-90) scale(0.773,1)" font-size="7.48" text-anchor="middle" fill="#000" stroke="#000" stroke-width="0.12">BrdU</text>
<text transform="translate(372.00,28.00) scale(0.773,1)" font-size="6.93" fill="#000" stroke="#000" stroke-width="0.12">10<tspan dy="-2.63" font-size="4.30">5</tspan></text>
<text transform="translate(372.00,97.30) scale(0.773,1)" font-size="6.93" fill="#000" stroke="#000" stroke-width="0.12">10<tspan dy="-2.63" font-size="4.30">2</tspan></text>
<text transform="translate(387.80,49.80) scale(0.735,1)" font-size="8.03" fill="#000" stroke="#000" stroke-width="0.12">Sub</text>
<text transform="translate(389.80,59.30) scale(0.806,1)" font-size="8.03" fill="#000" stroke="#000" stroke-width="0.12">2n</text>
<text transform="translate(403.60,49.80) scale(0.792,1)" font-size="8.03" fill="#000" stroke="#000" stroke-width="0.12">S-phase</text>
<text transform="translate(393.30,105.70) scale(0.789,1)" font-size="7.92" fill="#000" stroke="#000" stroke-width="0.12">G0/G1</text>
<text transform="translate(415.50,105.70) scale(0.790,1)" font-size="7.92" fill="#000" stroke="#000" stroke-width="0.12">G2/M</text>
<text transform="translate(405.70,118.30) scale(0.773,1)" font-size="7.48" text-anchor="middle" fill="#000" stroke="#000" stroke-width="0.12">50</text>
<text transform="translate(485.00,118.30) scale(0.773,1)" font-size="7.48" text-anchor="middle" fill="#000" stroke="#000" stroke-width="0.12">250</text>
<line x1="383.70" y1="120.80" x2="486.50" y2="120.80" stroke="#000" stroke-width="1"/>
<polygon points="491.50,120.80 485.50,118.20 485.50,123.40" fill="#000"/>
<text transform="translate(438.00,130.00) scale(0.818,1)" font-size="7.48" text-anchor="middle" fill="#000" stroke="#000" stroke-width="0.12">PI</text>
<text transform="translate(357.00,141.60) scale(1.091,1)" font-size="10.12" font-weight="bold" fill="#000" stroke="#000" stroke-width="0.12">C</text>
<text transform="translate(404.30,148.70) scale(0.866,1)" font-size="8.58" font-weight="bold" fill="#000" stroke="#000" stroke-width="0.12">EV-transduced CD34+ cells</text>
<line x1="386.60" y1="152.60" x2="515.80" y2="152.60" stroke="#777" stroke-width="0.9"/>
<line x1="515.80" y1="152.60" x2="515.80" y2="244.30" stroke="#777" stroke-width="0.9"/>
<line x1="386.60" y1="152.60" x2="386.60" y2="242.30" stroke="#000" stroke-width="1"/>
<line x1="386.60" y1="242.30" x2="515.80" y2="242.30" stroke="#000" stroke-width="1"/>
<line x1="384.00" y1="242.30" x2="386.60" y2="242.30" stroke="#000" stroke-width="0.8"/>
<text transform="translate(382.40,245.50) scale(0.817,1)" font-size="9.02" text-anchor="end" fill="#111" stroke="#111" stroke-width="0.12">0</text>
<line x1="384.00" y1="219.88" x2="386.60" y2="219.88" stroke="#000" stroke-width="0.8"/>
<text transform="translate(382.40,223.07) scale(0.817,1)" font-size="9.02" text-anchor="end" fill="#111" stroke="#111" stroke-width="0.12">20</text>
<line x1="384.00" y1="197.45" x2="386.60" y2="197.45" stroke="#000" stroke-width="0.8"/>
<text transform="translate(382.40,200.65) scale(0.817,1)" font-size="9.02" text-anchor="end" fill="#111" stroke="#111" stroke-width="0.12">40</text>
<line x1="384.00" y1="175.02" x2="386.60" y2="175.02" stroke="#000" stroke-width="0.8"/>
<text transform="translate(382.40,178.22) scale(0.817,1)" font-size="9.02" text-anchor="end" fill="#111" stroke="#111" stroke-width="0.12">60</text>
<line x1="384.00" y1="152.60" x2="386.60" y2="152.60" stroke="#000" stroke-width="0.8"/>
<text transform="translate(382.40,155.80) scale(0.817,1)" font-size="9.02" text-anchor="end" fill="#111" stroke="#111" stroke-width="0.12">80</text>
<line x1="397.65" y1="227.39" x2="397.65" y2="213.15" stroke="#000" stroke-width="0.8"/>
<line x1="395.05" y1="213.15" x2="400.25" y2="213.15" stroke="#000" stroke-width="0.8"/>
<line x1="409.75" y1="225.71" x2="409.75" y2="213.15" stroke="#000" stroke-width="0.8"/>
<line x1="407.15" y1="213.15" x2="412.35" y2="213.15" stroke="#000" stroke-width="0.8"/>
<rect x="391.60" y="227.39" width="12.10" height="14.91" fill="#000" stroke="#000" stroke-width="0.5"/>
<rect x="403.70" y="225.71" width="12.10" height="16.59" fill="#fff" stroke="#000" stroke-width="0.9"/>
<text transform="translate(403.60,248.60) scale(0.899,1)" font-size="6.38" text-anchor="middle" fill="#444" stroke="#444" stroke-width="0.12">Sub-2n</text>
<line x1="429.85" y1="170.54" x2="429.85" y2="161.01" stroke="#000" stroke-width="0.8"/>
<line x1="427.25" y1="161.01" x2="432.45" y2="161.01" stroke="#000" stroke-width="0.8"/>
<line x1="441.75" y1="170.54" x2="441.75" y2="161.01" stroke="#000" stroke-width="0.8"/>
<line x1="439.15" y1="161.01" x2="444.35" y2="161.01" stroke="#000" stroke-width="0.8"/>
<rect x="423.90" y="170.54" width="11.90" height="71.76" fill="#000" stroke="#000" stroke-width="0.5"/>
<rect x="435.80" y="170.54" width="11.90" height="71.76" fill="#fff" stroke="#000" stroke-width="0.9"/>
<text transform="translate(436.00,248.60) scale(0.958,1)" font-size="6.38" text-anchor="middle" fill="#444" stroke="#444" stroke-width="0.12">G0/G1</text>
<line x1="461.00" y1="219.43" x2="461.00" y2="215.17" stroke="#000" stroke-width="0.8"/>
<line x1="458.40" y1="215.17" x2="463.60" y2="215.17" stroke="#000" stroke-width="0.8"/>
<line x1="472.60" y1="222.12" x2="472.60" y2="219.43" stroke="#000" stroke-width="0.8"/>
<line x1="470.00" y1="219.43" x2="475.20" y2="219.43" stroke="#000" stroke-width="0.8"/>
<rect x="455.20" y="219.43" width="11.60" height="22.87" fill="#000" stroke="#000" stroke-width="0.5"/>
<rect x="466.80" y="222.12" width="11.60" height="20.18" fill="#fff" stroke="#000" stroke-width="0.9"/>
<text transform="translate(466.50,248.60) scale(0.940,1)" font-size="6.38" text-anchor="middle" fill="#444" stroke="#444" stroke-width="0.12">S</text>
<line x1="493.90" y1="237.59" x2="493.90" y2="235.35" stroke="#000" stroke-width="0.8"/>
<line x1="491.30" y1="235.35" x2="496.50" y2="235.35" stroke="#000" stroke-width="0.8"/>
<line x1="505.70" y1="238.49" x2="505.70" y2="234.90" stroke="#000" stroke-width="0.8"/>
<line x1="503.10" y1="234.90" x2="508.30" y2="234.90" stroke="#000" stroke-width="0.8"/>
<rect x="488.00" y="237.59" width="11.80" height="4.71" fill="#000" stroke="#000" stroke-width="0.5"/>
<rect x="499.80" y="238.49" width="11.80" height="3.81" fill="#fff" stroke="#000" stroke-width="0.9"/>
<text transform="translate(500.00,248.60) scale(0.962,1)" font-size="6.38" text-anchor="middle" fill="#444" stroke="#444" stroke-width="0.12">G2/M</text>
<line x1="420.20" y1="242.30" x2="420.20" y2="245.70" stroke="#000" stroke-width="0.8"/>
<line x1="451.50" y1="242.30" x2="451.50" y2="245.70" stroke="#000" stroke-width="0.8"/>
<line x1="483.00" y1="242.30" x2="483.00" y2="245.70" stroke="#000" stroke-width="0.8"/>
<rect x="485.80" y="155.60" width="5.80" height="5.60" fill="#000" stroke="#000" stroke-width="0.5"/>
<rect x="486.10" y="165.20" width="5.50" height="5.20" fill="#fff" stroke="#000" stroke-width="0.8"/>
<text transform="translate(493.90,161.50) scale(0.811,1)" font-size="8.36" fill="#111" stroke="#111" stroke-width="0.12">GFP+</text>
<text transform="translate(493.90,170.90) scale(0.821,1)" font-size="8.36" fill="#111" stroke="#111" stroke-width="0.12">GFP-</text>
<text transform="translate(363.30,200.60) rotate(-90) scale(0.874,1)" font-size="7.48" text-anchor="middle" fill="#333" stroke="#333" stroke-width="0.12">Apoptosis &amp; cell cycle distribution</text>
<text transform="translate(372.40,200.70) rotate(-90) scale(0.865,1)" font-size="7.48" text-anchor="middle" fill="#333" stroke="#333" stroke-width="0.12">in GFP+ and GFP- fractions</text>
<text transform="translate(393.90,267.80) scale(0.857,1)" font-size="8.58" font-weight="bold" fill="#000" stroke="#000" stroke-width="0.12">MLLAF4-transduced CD34+ cells</text>
<line x1="388.30" y1="271.80" x2="515.80" y2="271.80" stroke="#777" stroke-width="0.9"/>
<line x1="515.80" y1="271.80" x2="515.80" y2="362.50" stroke="#777" stroke-width="0.9"/>
<line x1="388.30" y1="271.80" x2="388.30" y2="360.50" stroke="#000" stroke-width="1"/>
<line x1="388.30" y1="360.50" x2="515.80" y2="360.50" stroke="#000" stroke-width="1"/>
<line x1="385.70" y1="360.50" x2="388.30" y2="360.50" stroke="#000" stroke-width="0.8"/>
<text transform="translate(384.10,363.70) scale(0.817,1)" font-size="9.02" text-anchor="end" fill="#111" stroke="#111" stroke-width="0.12">0</text>
<line x1="385.70" y1="338.32" x2="388.30" y2="338.32" stroke="#000" stroke-width="0.8"/>
<text transform="translate(384.10,341.52) scale(0.817,1)" font-size="9.02" text-anchor="end" fill="#111" stroke="#111" stroke-width="0.12">20</text>
<line x1="385.70" y1="316.15" x2="388.30" y2="316.15" stroke="#000" stroke-width="0.8"/>
<text transform="translate(384.10,319.35) scale(0.817,1)" font-size="9.02" text-anchor="end" fill="#111" stroke="#111" stroke-width="0.12">40</text>
<line x1="385.70" y1="293.98" x2="388.30" y2="293.98" stroke="#000" stroke-width="0.8"/>
<text transform="translate(384.10,297.18) scale(0.817,1)" font-size="9.02" text-anchor="end" fill="#111" stroke="#111" stroke-width="0.12">60</text>
<line x1="385.70" y1="271.80" x2="388.30" y2="271.80" stroke="#000" stroke-width="0.8"/>
<text transform="translate(384.10,275.00) scale(0.817,1)" font-size="9.02" text-anchor="end" fill="#111" stroke="#111" stroke-width="0.12">80</text>
<line x1="397.80" y1="338.55" x2="397.80" y2="336.33" stroke="#000" stroke-width="0.8"/>
<line x1="395.20" y1="336.33" x2="400.40" y2="336.33" stroke="#000" stroke-width="0.8"/>
<line x1="409.60" y1="315.04" x2="409.60" y2="305.06" stroke="#000" stroke-width="0.8"/>
<line x1="407.00" y1="305.06" x2="412.20" y2="305.06" stroke="#000" stroke-width="0.8"/>
<rect x="391.90" y="338.55" width="11.80" height="21.95" fill="#000" stroke="#000" stroke-width="0.5"/>
<rect x="403.70" y="315.04" width="11.80" height="45.46" fill="#fff" stroke="#000" stroke-width="0.9"/>
<text transform="translate(403.40,366.80) scale(0.899,1)" font-size="6.38" text-anchor="middle" fill="#444" stroke="#444" stroke-width="0.12">Sub-2n</text>
<line x1="431.10" y1="302.85" x2="431.10" y2="299.52" stroke="#000" stroke-width="0.8"/>
<line x1="428.50" y1="299.52" x2="433.70" y2="299.52" stroke="#000" stroke-width="0.8"/>
<line x1="442.70" y1="309.50" x2="442.70" y2="293.42" stroke="#000" stroke-width="0.8"/>
<line x1="440.10" y1="293.42" x2="445.30" y2="293.42" stroke="#000" stroke-width="0.8"/>
<rect x="425.30" y="302.85" width="11.60" height="57.65" fill="#000" stroke="#000" stroke-width="0.5"/>
<rect x="436.90" y="309.50" width="11.60" height="51.00" fill="#fff" stroke="#000" stroke-width="0.9"/>
<text transform="translate(437.00,366.80) scale(0.958,1)" font-size="6.38" text-anchor="middle" fill="#444" stroke="#444" stroke-width="0.12">G0/G1</text>
<line x1="462.30" y1="334.89" x2="462.30" y2="330.56" stroke="#000" stroke-width="0.8"/>
<line x1="459.70" y1="330.56" x2="464.90" y2="330.56" stroke="#000" stroke-width="0.8"/>
<line x1="473.90" y1="350.52" x2="473.90" y2="348.08" stroke="#000" stroke-width="0.8"/>
<line x1="471.30" y1="348.08" x2="476.50" y2="348.08" stroke="#000" stroke-width="0.8"/>
<rect x="456.50" y="334.89" width="11.60" height="25.61" fill="#000" stroke="#000" stroke-width="0.5"/>
<rect x="468.10" y="350.52" width="11.60" height="9.98" fill="#fff" stroke="#000" stroke-width="0.9"/>
<text transform="translate(468.30,366.80) scale(0.940,1)" font-size="6.38" text-anchor="middle" fill="#444" stroke="#444" stroke-width="0.12">S</text>
<line x1="503.40" y1="356.29" x2="503.40" y2="352.30" stroke="#000" stroke-width="0.8"/>
<line x1="500.80" y1="352.30" x2="506.00" y2="352.30" stroke="#000" stroke-width="0.8"/>
<rect x="486.00" y="354.51" width="11.60" height="5.99" fill="#000" stroke="#000" stroke-width="0.5"/>
<rect x="497.60" y="356.29" width="11.60" height="4.21" fill="#fff" stroke="#000" stroke-width="0.9"/>
<text transform="translate(497.00,366.80) scale(0.962,1)" font-size="6.38" text-anchor="middle" fill="#444" stroke="#444" stroke-width="0.12">G2/M</text>
<line x1="420.20" y1="360.50" x2="420.20" y2="363.90" stroke="#000" stroke-width="0.8"/>
<line x1="451.90" y1="360.50" x2="451.90" y2="363.90" stroke="#000" stroke-width="0.8"/>
<line x1="483.00" y1="360.50" x2="483.00" y2="363.90" stroke="#000" stroke-width="0.8"/>
<rect x="472.10" y="275.20" width="5.80" height="5.60" fill="#000" stroke="#000" stroke-width="0.5"/>
<rect x="472.40" y="284.10" width="5.50" height="5.20" fill="#fff" stroke="#000" stroke-width="0.8"/>
<text transform="translate(481.10,281.10) scale(0.787,1)" font-size="8.36" fill="#111" stroke="#111" stroke-width="0.12">MLLAF4+</text>
<text transform="translate(481.10,289.80) scale(0.785,1)" font-size="8.36" fill="#111" stroke="#111" stroke-width="0.12">MLLAF4-</text>
<text transform="translate(362.30,315.70) rotate(-90) scale(0.883,1)" font-size="7.48" text-anchor="middle" fill="#333" stroke="#333" stroke-width="0.12">Apoptosis &amp; cell cycle distribution</text>
<text transform="translate(371.00,315.70) rotate(-90) scale(0.880,1)" font-size="7.48" text-anchor="middle" fill="#333" stroke="#333" stroke-width="0.12">in MLLAF4+ &amp; MLLAF4- fractions</text>
<text transform="translate(396.10,335.40) scale(0.727,1)" font-size="8.8" text-anchor="middle" fill="#111" stroke="#111" stroke-width="0.12">19%</text>
<text transform="translate(410.90,303.30) scale(0.749,1)" font-size="8.8" text-anchor="middle" fill="#111" stroke="#111" stroke-width="0.12">41%</text>
<text transform="translate(463.10,327.70) scale(0.693,1)" font-size="8.8" text-anchor="middle" fill="#111" stroke="#111" stroke-width="0.12">24%</text>
<text transform="translate(474.90,345.40) scale(0.692,1)" font-size="8.8" text-anchor="middle" fill="#111" stroke="#111" stroke-width="0.12">9%</text>
<text transform="translate(7.00,210.50) scale(1.091,1)" font-size="10.12" font-weight="bold" fill="#000" stroke="#000" stroke-width="0.12">D</text>
<path d="M94.2 279.9h.8M106.9 278.2h.8M75.6 275.7h.8M80.6 285.3h.8M86.2 283.2h.8M77.3 274.2h.8M98.7 290.2h.8M88.6 283.8h.8M80.6 292.7h.8M99.1 289.0h.8M92.7 289.2h.8M97.8 291.4h.8M93.8 284.7h.8M86.6 290.6h.8M79.2 289.9h.8M98.3 285.9h.8M81.1 297.3h.8M103.6 295.6h.8M96.3 292.2h.8M93.5 287.7h.8M82.7 286.1h.8M109.4 289.3h.8M90.3 288.5h.8M99.1 294.3h.8M85.1 289.5h.8M104.9 288.4h.8M98.0 288.2h.8M103.8 287.3h.8M101.8 295.7h.8M92.4 287.9h.8M82.0 287.0h.8M94.7 294.9h.8M85.3 284.4h.8M89.1 279.6h.8M110.2 292.9h.8M103.0 293.8h.8M97.3 292.7h.8M100.6 283.7h.8M102.8 287.0h.8M96.6 278.5h.8M94.0 287.1h.8M95.7 288.9h.8M99.2 285.1h.8M113.9 291.5h.8M79.2 291.3h.8M95.3 287.3h.8M87.7 293.6h.8M117.0 287.1h.8M88.0 289.4h.8M106.6 295.7h.8M100.6 298.7h.8M99.5 279.0h.8M104.9 285.6h.8M98.8 280.8h.8M91.3 288.2h.8M112.6 288.1h.8M79.4 289.0h.8M69.9 279.5h.8M84.8 288.9h.8M101.5 282.5h.8M86.2 280.9h.8M95.9 287.0h.8M103.7 285.8h.8M101.5 290.6h.8M98.9 283.4h.8M105.4 293.6h.8M95.6 284.0h.8M105.2 281.6h.8M97.1 280.2h.8M109.4 286.1h.8M105.5 298.1h.8M96.1 287.6h.8M106.2 281.5h.8M104.0 280.6h.8M103.4 286.8h.8M98.8 279.6h.8M80.5 302.9h.8M89.5 286.2h.8M104.2 283.0h.8M107.7 290.0h.8M75.3 281.4h.8M83.9 282.9h.8M68.2 283.7h.8M78.0 283.8h.8M101.3 287.6h.8M87.8 286.2h.8M100.2 285.0h.8M108.9 294.5h.8M72.4 274.4h.8M96.7 292.9h.8M98.6 280.9h.8M99.8 294.1h.8M105.4 288.8h.8M106.6 278.3h.8M101.2 280.4h.8M83.7 285.7h.8M106.7 279.2h.8M115.9 283.2h.8M81.8 296.1h.8M95.0 284.2h.8M99.3 288.8h.8M92.0 285.6h.8M98.3 287.7h.8M98.8 288.1h.8M106.5 293.5h.8M92.4 297.0h.8M94.7 292.1h.8M114.1 275.1h.8M106.2 282.9h.8M90.7 295.7h.8M80.3 290.8h.8M95.5 290.1h.8M101.0 292.4h.8M93.6 283.9h.8M77.8 282.3h.8M79.5 283.2h.8M87.1 287.7h.8M95.7 289.7h.8M98.1 293.7h.8M106.0 290.9h.8M86.1 285.9h.8M84.3 292.6h.8M71.7 283.2h.8M81.5 289.9h.8M92.1 286.7h.8M91.3 287.4h.8M92.6 285.0h.8M96.8 288.8h.8M90.0 281.4h.8M75.3 284.8h.8M96.6 289.1h.8M98.1 291.9h.8M84.1 281.9h.8M125.7 293.6h.8M63.2 293.1h.8M73.8 291.6h.8M86.9 291.8h.8M86.9 293.2h.8M82.0 286.5h.8M96.9 278.3h.8M105.2 282.2h.8M99.8 293.2h.8M96.7 285.8h.8M109.5 295.7h.8M73.8 293.1h.8M92.2 285.3h.8M95.3 295.1h.8M90.3 273.8h.8M92.9 293.1h.8M91.8 290.7h.8M85.8 286.5h.8M78.2 283.5h.8M79.6 282.7h.8M90.2 282.3h.8M98.3 288.8h.8M99.3 286.2h.8M101.4 282.8h.8M64.0 283.5h.8M81.6 291.9h.8M78.0 287.8h.8M94.1 284.8h.8M94.3 294.5h.8M88.5 290.6h.8M103.5 284.4h.8M87.6 292.5h.8M95.3 284.0h.8M99.2 287.0h.8M98.6 291.9h.8M89.7 291.8h.8M107.1 284.4h.8M100.9 296.0h.8M103.2 291.9h.8M96.3 291.7h.8M96.0 288.8h.8M83.3 286.0h.8M67.3 286.5h.8M78.3 297.0h.8M72.3 290.5h.8M93.6 284.8h.8M73.8 286.9h.8M86.8 280.9h.8M81.0 285.4h.8M94.0 275.0h.8M91.4 277.6h.8M107.1 282.7h.8M102.6 299.9h.8M108.8 286.9h.8M95.0 290.3h.8M69.2 284.7h.8M103.4 299.2h.8M112.5 291.5h.8M88.6 284.6h.8M107.6 285.3h.8M91.8 287.6h.8M95.2 281.7h.8M92.5 286.2h.8M85.7 290.3h.8M87.7 278.9h.8M69.8 294.7h.8M95.6 294.7h.8M95.4 288.5h.8M100.8 291.5h.8M93.4 289.1h.8M98.1 284.6h.8M115.3 292.6h.8M103.6 289.2h.8M92.2 285.8h.8M96.5 279.9h.8M94.3 284.7h.8M106.3 293.9h.8M87.1 291.6h.8M104.2 285.1h.8M98.0 295.4h.8M63.5 286.3h.8M98.5 287.3h.8M86.2 287.0h.8M81.4 279.4h.8M94.0 289.7h.8M97.0 292.8h.8M117.3 286.6h.8M94.8 301.6h.8M82.0 280.4h.8M92.5 289.0h.8M98.5 286.1h.8M81.1 291.1h.8M90.8 288.5h.8M71.6 290.4h.8M76.9 283.3h.8M88.1 289.9h.8M101.0 291.9h.8M81.5 286.8h.8M82.2 277.9h.8M92.8 278.0h.8M80.0 281.3h.8M86.4 287.4h.8M81.3 279.2h.8M110.3 286.7h.8M87.5 287.5h.8M107.2 281.0h.8M95.3 291.2h.8M110.8 280.8h.8M80.4 289.0h.8M95.7 298.0h.8M63.7 278.8h.8M106.3 286.5h.8M99.9 294.7h.8M89.0 287.4h.8M113.2 282.2h.8M121.2 286.3h.8M108.4 278.7h.8M109.2 285.2h.8M94.6 288.0h.8M82.8 283.7h.8M73.1 286.0h.8M104.1 276.6h.8M67.9 294.5h.8M91.4 284.2h.8M110.3 288.0h.8M97.5 286.2h.8M76.6 286.3h.8M82.1 289.2h.8M106.2 289.9h.8M79.4 285.6h.8M87.8 282.4h.8M74.5 294.2h.8M93.3 277.9h.8M85.4 291.7h.8M103.8 280.9h.8M80.3 284.8h.8M88.1 290.1h.8M62.8 287.8h.8M106.5 285.5h.8M105.6 290.9h.8M90.2 288.5h.8M95.5 284.0h.8M98.3 285.0h.8M104.2 280.5h.8M71.0 287.3h.8M81.4 299.1h.8M115.6 289.7h.8M105.1 290.8h.8M99.7 285.1h.8M94.4 277.9h.8M102.1 284.9h.8M102.6 289.1h.8M102.5 282.4h.8M79.3 280.7h.8M94.3 287.1h.8M97.9 291.1h.8M97.0 282.9h.8M79.6 297.6h.8M91.1 284.2h.8M80.6 286.3h.8M88.3 280.3h.8M96.3 292.3h.8M99.6 276.8h.8M99.8 286.2h.8M103.8 288.8h.8M95.6 290.8h.8M76.7 290.7h.8M94.8 281.3h.8M87.9 290.6h.8M70.5 285.2h.8M85.4 275.2h.8M98.1 299.1h.8M104.0 289.6h.8M92.7 291.0h.8M74.6 293.2h.8M93.5 287.0h.8M83.9 283.8h.8M106.1 290.2h.8M76.5 293.1h.8M102.2 295.0h.8M91.0 280.4h.8M97.9 293.1h.8M84.2 278.0h.8M99.1 290.8h.8M94.1 284.0h.8M91.7 291.5h.8M79.0 292.3h.8M86.3 290.5h.8M67.6 292.7h.8M99.1 292.1h.8M90.0 288.6h.8M108.3 295.8h.8M72.9 287.4h.8M109.2 284.2h.8M98.5 288.9h.8M87.8 283.3h.8M98.8 287.6h.8M76.4 287.6h.8M74.9 297.6h.8M105.8 298.5h.8M66.0 279.8h.8M94.3 282.6h.8M107.2 292.5h.8M95.3 289.6h.8M106.9 298.2h.8M91.2 293.4h.8M84.8 287.0h.8M105.3 303.6h.8M102.7 279.3h.8M93.1 290.8h.8M107.4 295.0h.8M78.3 292.1h.8M104.1 283.7h.8M88.7 280.8h.8M96.4 292.7h.8M95.3 286.3h.8M96.0 287.2h.8M99.4 290.0h.8M107.8 287.0h.8M107.8 296.8h.8M95.2 295.8h.8M95.0 279.1h.8M80.6 291.0h.8M110.2 287.2h.8M103.2 279.3h.8M85.8 289.0h.8M96.1 288.3h.8M108.8 283.1h.8M84.8 289.8h.8M97.0 295.8h.8M94.4 283.2h.8M90.6 281.1h.8M95.2 283.8h.8M66.5 290.1h.8M103.9 296.7h.8M88.2 283.6h.8M95.6 282.5h.8M74.7 282.7h.8M116.5 283.9h.8M99.9 298.0h.8M67.2 292.7h.8M85.9 273.2h.8M89.8 284.3h.8M80.7 287.7h.8M75.3 282.7h.8M75.8 284.8h.8M82.3 284.9h.8M95.7 289.2h.8M96.4 296.4h.8M106.3 270.0h.8M91.9 289.0h.8M63.1 296.7h.8M92.1 289.5h.8M104.5 287.0h.8M77.5 290.8h.8M95.8 293.5h.8M97.2 293.6h.8M79.8 290.8h.8M91.2 279.7h.8M79.8 290.2h.8M107.8 293.3h.8M100.3 282.2h.8M94.6 274.5h.8M100.6 289.7h.8M100.5 293.9h.8M82.0 280.0h.8M75.6 292.4h.8M73.9 282.0h.8M76.2 286.3h.8M101.9 291.9h.8M104.6 280.3h.8M108.6 290.4h.8M75.3 284.3h.8M94.0 295.8h.8M105.7 285.0h.8M111.1 288.3h.8M89.5 289.5h.8M88.9 284.3h.8M88.7 286.9h.8M98.2 285.5h.8M101.7 294.3h.8M103.5 283.9h.8M87.8 284.8h.8M108.1 283.6h.8M80.1 285.5h.8M100.2 290.7h.8M107.1 286.1h.8M104.8 285.6h.8M98.4 284.1h.8M88.9 286.0h.8M93.3 291.8h.8M84.1 285.3h.8M84.8 293.4h.8M80.4 300.4h.8M104.8 286.9h.8M77.8 296.3h.8M84.6 279.2h.8M107.1 285.5h.8M98.0 291.7h.8M110.8 290.4h.8M109.2 282.6h.8M98.5 291.8h.8M105.0 303.1h.8M78.9 291.9h.8M96.8 281.2h.8M111.2 282.9h.8M99.0 283.4h.8M97.4 288.9h.8M120.5 297.2h.8M102.4 292.9h.8M74.7 299.9h.8M105.7 289.2h.8M62.9 290.6h.8M99.5 297.2h.8M98.4 288.2h.8M88.6 296.8h.8M84.1 295.2h.8M89.0 282.3h.8M120.7 286.0h.8M79.7 286.6h.8M83.8 286.0h.8M92.5 289.1h.8M89.5 283.6h.8M111.2 295.8h.8M98.0 291.5h.8M93.0 292.5h.8M102.0 292.7h.8M97.8 281.2h.8M92.7 292.7h.8M91.0 283.8h.8M93.2 298.2h.8M93.3 279.1h.8M89.5 294.5h.8M94.3 282.5h.8M107.0 287.8h.8M77.7 292.1h.8M98.6 281.3h.8M101.9 284.9h.8M94.0 291.3h.8M94.5 279.6h.8M105.7 275.7h.8M89.5 289.6h.8M100.6 292.8h.8M100.1 296.3h.8M96.8 290.3h.8M96.9 289.4h.8M102.8 293.9h.8M108.8 288.2h.8M80.4 291.1h.8M104.8 272.2h.8M85.8 287.7h.8M82.9 282.6h.8M96.7 281.8h.8M96.7 288.0h.8M71.0 286.3h.8M110.4 297.5h.8M89.0 297.2h.8M101.4 292.7h.8M98.6 299.1h.8M100.7 288.2h.8M95.7 277.0h.8M97.8 280.4h.8M95.6 290.5h.8M90.5 288.2h.8M105.5 288.0h.8M96.4 287.0h.8M98.2 276.2h.8M87.4 290.0h.8M86.4 290.1h.8M96.5 291.4h.8M75.5 285.6h.8M108.5 284.9h.8M90.0 290.9h.8M90.8 275.9h.8M88.3 285.7h.8M96.1 285.6h.8M99.8 295.4h.8M101.5 295.9h.8M85.9 297.0h.8M79.7 287.0h.8M93.3 284.3h.8M93.4 288.8h.8M84.9 292.0h.8M106.4 286.2h.8M80.8 271.5h.8M82.9 289.6h.8M103.6 285.3h.8M89.5 277.8h.8M92.3 282.7h.8M83.1 286.2h.8M77.7 284.5h.8M84.7 286.0h.8M71.3 287.8h.8M101.4 281.5h.8M97.3 290.9h.8M112.4 285.2h.8M93.7 278.9h.8M87.3 281.4h.8M104.0 282.3h.8M87.6 292.2h.8M103.9 288.3h.8M88.0 285.1h.8M69.7 287.6h.8M90.0 284.7h.8M90.5 285.3h.8M99.4 290.7h.8M88.5 288.6h.8M96.9 287.3h.8M96.8 286.9h.8M82.6 285.2h.8M79.3 291.3h.8M84.4 286.6h.8M72.1 290.6h.8M95.2 277.5h.8M100.4 294.9h.8M90.1 285.0h.8M85.6 281.2h.8M78.3 291.9h.8M100.3 295.0h.8M104.2 293.9h.8M64.6 291.4h.8M113.4 287.3h.8M108.7 287.1h.8M87.1 295.9h.8M94.2 285.6h.8M95.8 291.3h.8M97.9 293.7h.8M89.4 292.7h.8M98.1 276.1h.8M100.3 287.7h.8M117.1 274.4h.8M93.5 292.8h.8M85.6 291.5h.8M103.6 285.2h.8M94.0 280.0h.8M95.7 283.7h.8M95.1 281.5h.8M89.5 289.9h.8M88.3 287.2h.8M87.9 297.3h.8M84.0 282.5h.8M88.4 279.3h.8M111.3 299.1h.8M93.5 283.0h.8M83.7 278.8h.8M80.8 290.8h.8M105.3 296.4h.8M86.1 287.9h.8M95.8 290.1h.8M70.8 291.8h.8M66.0 283.6h.8M96.6 288.0h.8M71.5 292.5h.8M96.2 285.1h.8M102.2 298.6h.8M82.9 279.6h.8M87.3 281.8h.8M88.2 284.9h.8M84.5 283.3h.8M88.7 285.3h.8M88.2 291.3h.8M91.1 298.0h.8M94.5 278.6h.8M98.8 283.0h.8M98.3 279.3h.8M94.6 287.9h.8M83.6 283.8h.8M98.6 282.7h.8M101.4 284.8h.8M95.4 289.3h.8M89.1 282.7h.8M113.7 287.4h.8M64.0 280.0h.8M99.8 297.0h.8M96.2 287.2h.8M107.9 295.7h.8M111.0 298.6h.8M100.0 288.4h.8M88.2 278.8h.8M99.4 290.0h.8M78.7 281.5h.8M95.0 291.9h.8M84.0 283.2h.8M98.7 290.8h.8M70.7 289.7h.8M89.8 279.0h.8M96.0 296.1h.8M91.3 304.2h.8M89.7 282.0h.8M84.2 287.3h.8M91.0 282.0h.8M107.6 287.9h.8M86.5 287.9h.8M77.0 289.9h.8M80.5 292.4h.8M88.5 291.2h.8M100.5 282.2h.8M90.7 275.9h.8M101.3 286.8h.8M106.8 286.8h.8M82.5 291.8h.8M96.3 296.4h.8M90.3 289.3h.8M102.6 285.1h.8M101.7 288.1h.8M97.7 285.1h.8M79.3 288.4h.8M89.6 283.9h.8M93.0 290.1h.8M93.1 283.0h.8M85.9 280.3h.8M96.4 288.6h.8M98.1 290.0h.8M97.0 290.2h.8M83.7 280.6h.8M88.9 277.7h.8M78.6 279.1h.8M84.4 294.8h.8M99.7 292.5h.8M91.3 290.6h.8M91.8 295.4h.8M103.8 293.6h.8M86.5 295.0h.8M94.2 287.7h.8M74.5 298.2h.8M102.4 296.4h.8M91.7 282.4h.8M101.3 292.4h.8M101.1 296.8h.8M93.5 301.6h.8M99.1 285.2h.8M74.7 290.0h.8M86.9 290.0h.8M68.6 282.7h.8M103.0 286.8h.8M99.6 288.6h.8M107.0 279.8h.8M106.4 289.4h.8M108.3 284.5h.8M91.7 282.7h.8M74.3 282.9h.8M88.9 292.3h.8M113.2 293.5h.8M99.2 285.6h.8M104.9 286.3h.8M101.2 274.9h.8M99.6 287.3h.8M90.0 297.1h.8M79.2 290.5h.8M102.3 293.9h.8M82.1 288.4h.8M109.3 283.6h.8M99.3 287.4h.8M100.4 294.7h.8M94.4 292.3h.8M71.4 282.6h.8M82.5 283.0h.8M102.9 291.6h.8M77.4 289.8h.8M78.1 297.1h.8M107.9 282.5h.8M66.1 276.6h.8M93.2 287.8h.8M97.5 279.1h.8M112.2 285.0h.8M104.0 285.6h.8M98.3 288.0h.8M70.6 300.5h.8M90.7 292.0h.8M71.2 285.9h.8M96.7 283.6h.8M75.5 294.9h.8M103.4 287.2h.8M100.1 280.6h.8M87.0 290.1h.8M98.1 282.0h.8M96.2 291.1h.8M95.2 298.1h.8M94.3 281.7h.8M101.0 289.5h.8M94.9 285.6h.8M89.3 285.8h.8M97.7 294.1h.8M84.9 275.4h.8M105.5 283.4h.8M101.8 295.6h.8M66.6 284.2h.8M90.5 281.0h.8M92.7 285.4h.8M93.4 288.8h.8M98.8 290.0h.8M106.4 292.7h.8M107.9 296.0h.8M68.0 292.2h.8M102.3 290.8h.8M68.9 291.2h.8M103.9 281.7h.8M98.3 291.5h.8M83.5 295.8h.8M87.7 285.1h.8M87.7 291.3h.8M105.4 293.1h.8M86.6 288.4h.8M88.7 288.9h.8M98.0 282.0h.8M109.4 284.3h.8M86.4 290.8h.8M96.7 297.7h.8M84.4 282.1h.8M103.6 296.0h.8M78.5 286.8h.8M97.7 282.8h.8M97.9 275.1h.8M89.1 286.0h.8M104.8 290.4h.8M111.5 280.2h.8M94.3 287.2h.8M97.3 288.1h.8M96.0 290.9h.8M105.1 289.7h.8M101.7 288.1h.8M95.0 292.7h.8M93.4 290.5h.8M84.1 286.5h.8M90.7 285.8h.8M94.3 286.6h.8M109.7 274.8h.8M102.2 288.1h.8M65.3 282.9h.8M87.2 292.4h.8M105.5 288.4h.8M104.6 289.9h.8M70.2 283.4h.8M92.8 290.1h.8M108.7 287.5h.8M84.6 277.8h.8M88.7 277.3h.8M95.0 277.9h.8M80.3 289.2h.8M104.0 289.8h.8M95.9 287.8h.8M96.0 292.1h.8M85.0 292.1h.8M103.8 279.7h.8M89.5 282.8h.8M83.3 286.1h.8M91.9 290.7h.8M76.1 291.2h.8M86.3 283.3h.8M115.4 295.9h.8M83.3 290.3h.8M81.9 289.1h.8M94.2 287.6h.8M97.0 289.8h.8M97.9 276.8h.8M96.3 283.0h.8M71.4 283.5h.8M87.7 291.1h.8M63.9 290.8h.8M100.6 285.6h.8M97.9 309.8h.8M101.7 271.8h.8M73.0 283.1h.8M66.3 298.8h.8M94.7 292.1h.8M80.4 277.9h.8M77.8 292.3h.8M82.6 290.2h.8M72.9 294.9h.8M68.8 294.8h.8M97.2 287.6h.8M96.7 283.9h.8M101.0 285.2h.8M96.8 285.8h.8M94.7 280.5h.8M98.0 288.0h.8M89.6 286.7h.8M94.9 283.5h.8M91.4 272.3h.8M63.0 290.3h.8M97.3 282.2h.8M109.8 282.9h.8M108.0 293.1h.8M90.7 282.2h.8M97.1 293.3h.8M95.9 286.5h.8M110.0 276.4h.8M109.4 286.0h.8M83.4 283.5h.8M83.3 288.1h.8M87.6 285.7h.8M85.7 289.2h.8M108.2 291.5h.8M67.7 288.2h.8M78.6 294.2h.8M74.5 281.5h.8M84.7 287.1h.8M99.7 289.3h.8M79.1 289.3h.8M101.4 297.3h.8M109.3 285.8h.8M95.5 291.7h.8M105.2 286.8h.8M90.8 287.8h.8M97.3 280.1h.8M90.2 287.6h.8M104.3 284.0h.8M97.1 300.7h.8M100.1 284.0h.8M102.3 291.2h.8M103.6 296.3h.8M80.9 292.5h.8M96.5 283.0h.8M84.2 284.3h.8M88.6 295.9h.8M93.9 280.4h.8M99.6 287.8h.8M93.7 294.6h.8M90.9 277.7h.8M106.2 282.7h.8M98.3 281.8h.8M65.0 284.2h.8M97.7 290.8h.8M87.9 281.5h.8M100.2 283.5h.8M101.2 293.7h.8M109.6 293.2h.8M89.3 285.1h.8M102.2 281.8h.8M91.8 280.0h.8M84.9 289.2h.8M72.8 287.5h.8M96.6 291.3h.8M107.6 288.7h.8M91.2 289.3h.8M104.0 278.6h.8M94.9 291.3h.8M101.7 276.6h.8M92.0 296.1h.8M99.2 279.2h.8M80.4 285.1h.8M100.9 280.8h.8M111.6 294.7h.8M104.2 286.7h.8M86.9 291.2h.8M68.5 290.8h.8M96.0 281.3h.8M78.7 282.7h.8M92.5 280.3h.8M103.4 282.5h.8M63.8 291.3h.8M90.6 289.9h.8M92.0 291.0h.8M101.0 282.1h.8M98.0 281.5h.8M109.9 293.7h.8M98.3 289.2h.8M100.7 288.5h.8M66.7 286.5h.8M94.1 290.4h.8M89.9 294.0h.8M93.6 285.4h.8M103.9 284.1h.8M77.5 278.9h.8M63.2 285.6h.8M111.2 281.1h.8M92.0 278.1h.8M88.9 288.5h.8M107.5 288.6h.8M101.8 287.6h.8M96.1 278.1h.8M97.2 282.2h.8M101.1 284.3h.8M81.9 298.7h.8M95.4 290.1h.8M113.6 292.8h.8M99.7 287.0h.8M97.3 281.1h.8M113.2 298.8h.8M96.8 289.0h.8M109.8 289.2h.8M97.7 292.4h.8M92.0 286.3h.8M98.4 289.2h.8M97.4 279.8h.8M75.9 288.5h.8M113.9 279.8h.8M99.5 278.5h.8M115.1 289.6h.8M84.8 281.3h.8M89.8 284.2h.8M77.7 286.9h.8M92.6 286.4h.8M100.6 294.9h.8M114.1 286.6h.8M88.7 290.6h.8M90.5 291.8h.8M103.8 278.0h.8M99.5 278.6h.8M85.9 289.3h.8M88.6 284.0h.8M85.8 280.8h.8M105.9 291.7h.8M87.0 289.4h.8M90.3 284.7h.8M105.6 290.7h.8M86.9 271.3h.8M104.3 286.7h.8M75.2 292.8h.8M86.0 291.0h.8M107.5 287.3h.8M100.2 294.1h.8M82.2 290.7h.8M78.6 285.2h.8M72.1 288.4h.8M97.7 291.5h.8M91.2 290.1h.8M97.3 284.1h.8M93.5 269.5h.8M120.5 299.2h.8M106.2 285.3h.8M73.5 274.5h.8M96.8 281.2h.8M77.6 288.7h.8M96.5 276.1h.8M90.6 289.8h.8M96.6 286.2h.8M89.9 295.1h.8M65.6 282.3h.8M100.1 287.6h.8M69.1 295.6h.8M81.7 291.5h.8M84.2 284.5h.8M95.9 286.2h.8M77.6 287.9h.8M92.2 276.7h.8M95.0 289.9h.8M112.5 289.9h.8M85.3 283.1h.8M96.8 283.3h.8M100.6 288.0h.8M92.1 294.1h.8M96.2 283.3h.8M103.5 285.1h.8M85.5 284.3h.8M90.6 290.5h.8M97.2 281.3h.8M99.2 274.7h.8M99.1 285.7h.8M105.5 295.3h.8M95.1 282.1h.8M86.4 291.3h.8M78.9 288.0h.8M76.4 280.9h.8M103.4 288.6h.8M86.1 283.1h.8M83.2 284.6h.8M108.4 285.3h.8M76.1 280.5h.8M102.4 286.1h.8M80.4 295.9h.8M87.0 289.4h.8M87.1 295.1h.8M97.8 281.2h.8M89.3 302.4h.8M103.0 290.5h.8M85.6 289.0h.8M111.8 283.6h.8M88.8 281.4h.8M68.8 287.6h.8M80.6 295.3h.8M80.8 288.9h.8M96.8 301.4h.8M74.9 285.3h.8M105.1 278.6h.8M81.3 284.4h.8M86.9 294.9h.8M104.2 294.3h.8M64.2 280.7h.8M114.2 282.6h.8M81.8 294.2h.8M66.9 276.7h.8M108.4 290.8h.8M91.0 281.7h.8M68.9 285.2h.8M100.0 284.2h.8M109.5 291.9h.8M109.5 294.9h.8M99.8 284.0h.8M80.1 294.0h.8M86.5 290.5h.8M102.0 281.6h.8M98.3 282.7h.8M90.0 289.1h.8M108.1 285.2h.8M76.0 284.8h.8M109.8 292.4h.8M78.5 289.4h.8M87.0 279.9h.8M92.8 294.0h.8M101.8 291.1h.8M105.8 290.0h.8M71.9 290.7h.8M80.9 279.1h.8M84.1 287.9h.8M92.1 282.4h.8M82.6 284.9h.8M78.4 297.2h.8M108.7 284.5h.8M101.0 296.0h.8M94.4 285.8h.8M103.1 287.0h.8M91.0 292.1h.8M72.1 290.5h.8M67.5 278.2h.8M100.1 289.7h.8M93.2 283.2h.8M92.9 285.4h.8M79.8 289.1h.8M95.5 284.0h.8M96.5 275.7h.8M107.6 287.0h.8M106.7 286.2h.8M85.3 283.4h.8M112.1 280.6h.8M103.3 286.4h.8M109.2 287.4h.8M92.1 285.0h.8M104.3 293.1h.8M71.8 286.2h.8M106.0 287.9h.8M83.9 279.0h.8M98.5 285.6h.8M84.9 300.4h.8M94.5 276.2h.8M95.1 292.1h.8M75.9 288.6h.8M95.8 286.5h.8M103.9 286.5h.8M95.4 287.8h.8M105.6 278.3h.8M116.9 296.1h.8M95.7 289.5h.8M107.9 294.9h.8M96.3 290.1h.8M78.3 291.4h.8M102.2 291.6h.8M77.3 288.7h.8M94.9 296.6h.8M116.8 289.3h.8M84.6 289.0h.8M78.5 283.6h.8M89.3 286.1h.8M98.7 294.4h.8M102.8 284.6h.8M86.3 292.2h.8M85.6 287.6h.8M100.3 278.7h.8M93.6 291.8h.8M104.5 287.5h.8M82.9 286.9h.8M108.2 293.6h.8M97.1 289.3h.8M93.9 281.3h.8M71.4 289.0h.8M90.0 283.6h.8M93.1 282.5h.8M105.5 296.8h.8M96.1 274.7h.8M80.1 284.7h.8M74.7 284.4h.8M103.1 292.0h.8M77.8 294.1h.8M111.4 283.1h.8M96.9 272.2h.8M87.1 298.2h.8M82.6 282.6h.8M108.0 285.9h.8M92.4 285.5h.8M96.0 285.3h.8M65.5 288.3h.8M95.8 281.9h.8M79.8 290.6h.8M63.4 292.0h.8M91.0 283.1h.8M92.5 282.5h.8M76.5 293.8h.8M121.9 295.6h.8M77.5 291.0h.8M81.4 292.3h.8M96.9 275.7h.8M97.3 288.9h.8M96.9 288.5h.8M90.4 287.1h.8M109.3 292.7h.8M82.6 293.6h.8M67.5 287.5h.8M79.1 286.2h.8M92.1 296.2h.8M94.9 284.9h.8M113.8 284.1h.8M93.0 292.9h.8M87.6 286.8h.8M86.4 297.6h.8M82.3 297.2h.8M101.3 293.3h.8M76.9 288.9h.8M107.7 288.4h.8M80.5 285.5h.8M84.6 300.2h.8M94.6 289.3h.8M70.5 290.3h.8M95.4 289.2h.8M93.9 287.9h.8M107.3 280.3h.8M101.3 290.5h.8M63.1 293.6h.8M97.8 281.4h.8M79.7 276.1h.8M80.0 284.7h.8M82.0 286.8h.8M113.8 290.9h.8M87.9 283.6h.8M94.2 289.9h.8M103.0 282.5h.8M112.1 276.5h.8M88.6 294.0h.8M95.5 287.5h.8M96.7 284.5h.8M94.9 283.2h.8M91.1 291.1h.8M77.7 279.8h.8M86.6 288.7h.8M82.5 294.5h.8M79.7 285.1h.8M86.2 291.9h.8M93.1 296.1h.8M84.3 300.9h.8M88.3 293.5h.8M102.8 282.2h.8M101.3 279.7h.8M80.0 286.4h.8M67.9 298.9h.8M118.9 286.6h.8M91.2 293.1h.8M111.3 290.9h.8M93.3 300.2h.8M111.4 287.8h.8M98.3 286.8h.8M93.0 284.1h.8M85.9 289.6h.8M91.7 290.4h.8M80.9 288.8h.8M96.9 291.8h.8M93.4 289.4h.8M99.2 285.4h.8M99.4 287.6h.8M78.3 286.1h.8M97.1 289.7h.8M94.4 288.5h.8M104.5 298.5h.8M110.1 289.2h.8M88.3 282.6h.8M63.6 286.5h.8M93.4 278.5h.8M93.2 286.7h.8M79.7 290.1h.8M98.0 285.0h.8M90.5 295.4h.8M100.4 288.7h.8M75.8 283.7h.8M96.6 292.6h.8M91.0 291.8h.8M90.8 287.0h.8M103.4 290.1h.8M85.1 282.7h.8M88.1 294.2h.8M101.3 278.7h.8M71.9 286.0h.8M100.6 280.9h.8M83.4 287.3h.8M107.6 289.0h.8M109.8 287.6h.8M94.7 280.2h.8M79.0 289.6h.8M68.0 277.8h.8M96.7 284.5h.8M108.5 287.8h.8M71.8 285.5h.8M92.7 291.1h.8M108.9 279.8h.8M101.4 278.1h.8M90.7 295.6h.8M113.6 279.5h.8M74.8 297.2h.8M98.6 290.9h.8M103.8 292.5h.8M73.7 286.7h.8M86.2 282.2h.8M87.3 287.1h.8M120.7 287.8h.8M92.4 284.4h.8M91.8 280.9h.8M85.3 290.8h.8M118.8 283.7h.8M113.3 291.9h.8M80.8 289.7h.8M82.6 296.1h.8M99.5 292.9h.8M95.7 274.5h.8M97.4 289.8h.8M83.1 288.2h.8M67.4 301.7h.8M95.3 286.4h.8M79.9 286.0h.8M119.4 285.9h.8M95.7 286.9h.8M96.6 283.8h.8M98.1 297.9h.8M84.9 289.8h.8M96.0 290.8h.8M78.0 295.0h.8M94.1 279.9h.8M98.7 296.8h.8M94.3 285.9h.8M99.6 284.5h.8M82.7 283.9h.8M103.5 284.9h.8M94.9 290.2h.8M93.8 290.4h.8M98.7 288.9h.8M84.7 294.1h.8M94.5 285.4h.8M88.9 279.8h.8M99.5 282.2h.8M102.9 285.5h.8M82.3 293.8h.8M87.8 292.1h.8M82.5 292.6h.8M111.8 291.1h.8M82.9 283.5h.8M93.1 284.7h.8M90.8 276.0h.8M80.8 288.3h.8M99.5 283.3h.8M90.1 288.9h.8M104.3 289.2h.8M80.9 283.9h.8M97.5 299.2h.8M115.8 285.7h.8M102.9 282.1h.8M94.0 294.8h.8M103.1 283.5h.8M76.9 297.9h.8M99.0 292.2h.8M97.8 280.1h.8M99.3 286.4h.8M99.4 293.5h.8M101.2 291.1h.8M85.6 292.8h.8M86.8 291.6h.8M79.5 290.8h.8M99.0 285.7h.8M68.4 286.0h.8M92.6 289.6h.8M82.3 291.9h.8M96.0 291.9h.8M115.8 283.2h.8M86.5 284.8h.8M104.6 301.1h.8M107.6 291.6h.8M78.0 286.0h.8M91.7 280.7h.8M96.5 288.5h.8M82.1 290.1h.8M87.9 285.9h.8M90.9 281.3h.8M95.6 295.9h.8M86.5 286.1h.8M105.1 289.8h.8M99.5 289.9h.8M93.0 284.8h.8M97.0 291.9h.8M69.8 283.8h.8M72.8 283.8h.8M75.0 298.2h.8M96.0 288.4h.8M108.4 289.6h.8M87.2 283.1h.8M77.8 291.9h.8M80.7 290.2h.8M96.0 288.1h.8M75.7 291.7h.8M81.5 290.0h.8M100.4 281.0h.8M105.8 287.1h.8M95.1 284.1h.8M93.6 281.8h.8M89.5 290.8h.8M99.4 274.8h.8M63.0 289.7h.8M95.9 286.1h.8M95.9 295.4h.8M89.2 292.4h.8M88.9 291.8h.8M97.8 290.3h.8M87.1 277.4h.8M100.0 284.7h.8M82.7 281.4h.8M97.8 288.1h.8M102.6 289.2h.8M79.5 285.3h.8M103.5 283.6h.8M97.7 288.0h.8M96.6 285.4h.8M106.4 284.7h.8M98.1 300.4h.8M81.6 284.9h.8M100.1 283.6h.8M104.9 287.6h.8M89.1 287.4h.8M90.5 292.5h.8M90.3 298.7h.8M87.3 280.7h.8M82.7 297.9h.8M101.2 289.9h.8M104.4 284.5h.8M75.7 282.7h.8M92.0 295.6h.8M89.7 279.2h.8M101.0 283.2h.8M104.2 295.3h.8M98.0 274.7h.8M105.2 283.2h.8M102.9 294.8h.8M100.4 288.3h.8M99.0 285.4h.8M104.4 291.6h.8M86.9 276.7h.8M78.7 280.9h.8M102.4 290.7h.8M103.1 284.1h.8M109.8 276.3h.8M93.2 300.6h.8M78.3 286.9h.8M97.9 291.7h.8M107.9 290.1h.8M86.1 287.6h.8M92.4 283.8h.8M86.6 287.0h.8M73.2 275.8h.8M105.7 282.4h.8M88.4 292.9h.8M109.5 286.0h.8M88.6 284.8h.8M69.9 287.9h.8M81.2 290.0h.8M80.7 292.2h.8M84.3 286.7h.8M90.9 283.6h.8M88.9 281.1h.8M109.6 284.7h.8M63.8 278.6h.8M79.8 288.6h.8M95.0 284.4h.8M101.1 290.3h.8M95.0 286.2h.8M93.5 283.8h.8M99.1 283.2h.8M91.3 290.3h.8M90.0 282.3h.8M97.5 287.2h.8M73.7 296.0h.8M94.1 294.8h.8M82.9 287.9h.8M96.4 289.0h.8M91.2 290.6h.8M105.7 290.5h.8M99.1 285.6h.8M96.8 283.0h.8M82.9 278.3h.8M99.2 294.7h.8M64.1 294.3h.8M102.3 296.6h.8M102.0 287.2h.8M95.8 292.5h.8M100.3 293.5h.8M74.5 291.4h.8M87.1 295.9h.8M81.5 288.9h.8M99.5 283.6h.8M99.4 298.0h.8M108.8 280.7h.8M79.5 291.7h.8M81.6 285.5h.8M98.0 293.4h.8M85.4 283.0h.8M84.7 286.5h.8M99.8 283.3h.8M94.0 293.6h.8M86.0 284.0h.8M104.3 279.9h.8M92.4 281.9h.8M74.4 286.8h.8M91.0 287.1h.8M93.9 281.1h.8M84.3 297.1h.8M103.6 276.6h.8M96.6 285.7h.8M100.5 283.5h.8M102.3 284.3h.8M90.5 286.4h.8M91.1 279.5h.8M95.1 282.0h.8M89.1 284.4h.8M107.7 281.3h.8M82.4 290.1h.8M76.0 281.7h.8M99.5 294.9h.8M91.9 279.9h.8M75.1 297.0h.8M101.2 285.5h.8M101.6 299.6h.8M83.0 288.6h.8M78.5 288.1h.8M102.1 291.0h.8M101.2 267.9h.8M101.9 280.7h.8M90.5 283.2h.8M102.7 279.3h.8M110.2 291.5h.8M101.6 303.6h.8M101.1 272.1h.8M105.6 282.0h.8M99.5 288.3h.8M95.1 283.3h.8M98.3 291.8h.8M104.0 285.8h.8M97.9 291.3h.8M101.4 296.7h.8M90.1 288.1h.8M94.1 291.3h.8M75.2 285.5h.8M103.3 281.4h.8M98.3 290.2h.8M81.3 287.4h.8M99.2 285.4h.8M84.5 284.0h.8M99.7 283.0h.8M112.9 289.6h.8M96.2 287.0h.8M85.3 279.0h.8M89.0 286.0h.8M97.1 294.4h.8M89.3 293.1h.8M100.9 286.3h.8M69.2 289.2h.8M107.6 285.2h.8M92.9 299.5h.8M94.2 291.0h.8M106.6 285.7h.8M103.6 293.5h.8M70.3 285.0h.8M75.7 285.1h.8M102.7 279.0h.8M89.2 282.4h.8M82.1 283.3h.8M101.7 283.6h.8M92.6 282.0h.8M98.0 287.7h.8M83.0 282.7h.8M88.0 296.8h.8M91.6 285.0h.8M96.7 280.2h.8M103.6 290.9h.8M72.0 287.3h.8M83.0 287.4h.8M83.8 285.2h.8M95.0 295.8h.8M83.9 283.3h.8M94.6 293.3h.8M104.3 287.8h.8M95.2 292.2h.8M105.3 288.0h.8M93.6 299.2h.8M69.2 284.9h.8M93.4 289.5h.8M96.7 286.1h.8M85.0 288.2h.8M91.9 282.1h.8M105.8 284.6h.8M98.3 281.4h.8M79.1 282.6h.8M76.5 290.0h.8M100.0 290.1h.8M99.4 289.2h.8M77.5 287.2h.8M91.1 282.6h.8M94.6 288.9h.8M103.1 282.2h.8M101.6 279.8h.8M115.8 293.7h.8M84.6 289.0h.8M69.4 287.3h.8M92.6 297.8h.8M103.4 286.7h.8M78.6 295.9h.8M79.4 282.3h.8M96.2 279.6h.8M94.3 280.7h.8M106.1 292.1h.8M87.4 291.2h.8M118.6 286.7h.8M102.3 278.7h.8M102.4 283.2h.8M76.0 291.3h.8M98.5 289.6h.8M111.2 282.3h.8M90.5 288.2h.8M110.9 301.1h.8M101.6 286.3h.8M105.6 279.2h.8M98.2 287.0h.8M103.8 290.2h.8M69.9 296.4h.8M92.2 288.6h.8M87.8 280.8h.8M94.9 286.3h.8M88.3 294.1h.8M77.0 283.9h.8M97.9 294.1h.8M97.0 280.2h.8M93.8 287.6h.8M102.8 287.3h.8M88.9 281.7h.8M102.8 288.5h.8M101.3 292.6h.8M81.8 285.7h.8M101.8 284.7h.8M90.1 290.2h.8M97.3 293.3h.8M88.4 294.0h.8M106.4 286.2h.8M98.5 285.0h.8M64.0 293.2h.8M80.8 292.8h.8M76.4 298.6h.8M90.1 288.1h.8M100.4 289.9h.8M94.7 286.9h.8M69.8 284.5h.8M64.5 304.6h.8M93.9 289.9h.8M89.9 285.2h.8M101.7 288.0h.8M99.2 288.2h.8M96.3 283.1h.8M107.1 278.7h.8M97.3 282.8h.8M100.7 283.8h.8M87.6 289.3h.8M97.8 289.7h.8M110.1 274.1h.8M78.4 280.0h.8M76.6 281.4h.8M87.5 296.7h.8M104.5 290.3h.8M94.5 284.6h.8M83.7 285.5h.8M99.6 286.3h.8M93.1 278.1h.8M93.8 293.6h.8M75.5 291.3h.8M68.1 288.6h.8M98.2 287.6h.8M86.3 285.8h.8M100.7 284.8h.8M113.0 279.3h.8M101.9 291.0h.8M77.2 281.3h.8M96.5 287.3h.8M85.9 285.1h.8M97.0 285.0h.8M102.5 290.0h.8M89.7 286.4h.8M99.4 281.5h.8M95.4 291.3h.8M98.7 295.2h.8M102.1 288.5h.8M93.4 289.3h.8M104.8 286.1h.8M106.3 296.9h.8M82.0 290.0h.8M92.0 282.7h.8M93.7 293.8h.8M67.3 298.6h.8M81.5 289.4h.8M106.1 281.7h.8M99.7 277.3h.8M94.8 281.7h.8M96.1 300.6h.8M103.2 282.7h.8M77.8 280.1h.8M108.2 286.8h.8M86.3 291.5h.8M88.9 286.0h.8M79.7 285.6h.8M97.0 289.0h.8M82.2 294.9h.8M92.9 290.3h.8M81.5 284.7h.8M104.9 285.0h.8M106.3 288.8h.8M83.4 281.3h.8M75.1 288.9h.8M75.9 295.7h.8M101.3 286.3h.8M75.5 285.3h.8M81.4 289.9h.8M92.6 282.6h.8M107.8 295.6h.8M94.4 293.7h.8M89.9 292.5h.8M100.3 288.6h.8M70.2 288.9h.8M78.6 290.5h.8M103.0 281.1h.8M104.2 284.4h.8M99.1 285.7h.8M97.7 294.0h.8M89.8 299.0h.8M90.6 287.2h.8M110.5 289.0h.8M80.1 288.9h.8M105.9 284.4h.8M93.3 284.5h.8M72.3 288.2h.8M99.2 294.5h.8M82.8 280.2h.8M97.8 292.6h.8M97.4 280.9h.8M115.8 292.2h.8M85.7 286.4h.8M66.5 281.1h.8M97.9 279.2h.8M100.1 285.9h.8M90.6 292.6h.8M83.7 283.5h.8M98.7 288.2h.8M100.6 282.3h.8M88.2 281.9h.8M101.9 284.7h.8M94.5 281.1h.8M93.0 288.3h.8M77.4 278.1h.8M84.9 296.2h.8M100.3 284.1h.8M105.8 283.3h.8M104.8 293.1h.8M92.8 285.1h.8M91.9 293.6h.8M82.2 282.1h.8M83.1 282.5h.8M89.0 282.7h.8M103.1 296.8h.8M105.2 277.3h.8M97.4 288.0h.8M99.4 297.8h.8M81.0 283.7h.8M91.5 293.8h.8M100.6 291.5h.8M94.6 291.0h.8M99.5 288.1h.8M76.0 285.6h.8M108.3 282.9h.8M89.7 288.3h.8M85.3 291.2h.8M95.0 285.9h.8M89.4 291.8h.8M112.8 289.3h.8M85.9 285.6h.8M102.9 290.9h.8M70.6 288.6h.8M74.4 299.3h.8M71.8 289.0h.8M106.9 291.2h.8M67.6 280.1h.8M96.7 288.2h.8M82.5 296.8h.8M100.1 290.0h.8M78.9 292.9h.8M84.4 285.8h.8M97.5 284.7h.8M69.7 288.9h.8M65.5 281.0h.8M112.9 285.7h.8M94.7 300.3h.8M98.7 287.0h.8M94.0 284.2h.8M97.4 295.5h.8M94.1 289.9h.8M97.9 284.7h.8M76.7 287.7h.8M84.7 284.1h.8M108.7 288.5h.8M84.9 288.1h.8M68.4 284.7h.8M108.5 285.7h.8M103.9 295.5h.8M85.8 296.8h.8M101.2 288.6h.8M99.1 274.1h.8M76.6 287.6h.8M105.6 279.3h.8M100.2 284.6h.8M98.4 278.5h.8M104.6 297.8h.8M67.2 287.2h.8M92.6 295.6h.8M108.9 275.0h.8M106.3 297.3h.8M73.7 288.7h.8M100.2 293.0h.8M85.1 286.2h.8M97.8 285.2h.8M83.6 275.1h.8M107.2 285.6h.8M114.2 275.3h.8M104.4 284.9h.8M104.7 279.0h.8M96.4 285.2h.8M92.3 299.5h.8M108.9 290.8h.8M102.9 289.7h.8M97.6 289.6h.8M86.2 286.0h.8M79.6 282.4h.8M103.0 292.1h.8M103.0 288.6h.8M94.9 280.3h.8M95.7 294.9h.8M75.1 296.7h.8M85.2 286.3h.8M81.6 292.4h.8M100.0 286.3h.8M92.4 291.7h.8M94.8 283.6h.8M84.9 282.6h.8M95.5 293.1h.8M72.0 295.4h.8M111.4 290.0h.8M95.1 291.9h.8M99.5 293.5h.8M99.0 290.5h.8M83.4 306.5h.8M107.8 295.0h.8M96.5 286.4h.8M93.2 286.7h.8M104.6 288.0h.8M82.7 289.8h.8M101.1 282.8h.8M111.6 288.7h.8M88.6 283.4h.8M99.2 285.2h.8M76.9 295.4h.8M97.3 290.2h.8M97.6 287.1h.8M72.6 293.2h.8M110.3 291.5h.8M114.3 295.4h.8M69.1 292.8h.8M99.0 281.6h.8M89.6 288.7h.8M91.8 279.2h.8M98.8 296.2h.8M95.5 288.5h.8M92.5 285.2h.8M97.6 287.9h.8M89.8 281.7h.8M96.9 288.5h.8M85.9 296.6h.8M103.2 285.0h.8M113.9 288.9h.8M95.1 286.9h.8M91.0 291.5h.8M107.7 294.4h.8M67.7 275.5h.8M92.7 287.1h.8M79.3 281.3h.8M87.4 282.4h.8M80.2 292.0h.8M91.1 296.4h.8M106.3 283.9h.8M83.1 292.7h.8M91.9 279.8h.8M105.4 288.8h.8M99.5 289.5h.8M101.6 282.0h.8M93.2 291.9h.8M87.6 292.1h.8M88.5 285.4h.8M89.4 284.0h.8M76.4 292.3h.8M63.6 292.2h.8M87.3 290.5h.8M96.5 294.7h.8M86.7 289.0h.8M104.7 289.2h.8M105.4 285.1h.8M95.2 289.9h.8M89.9 289.2h.8M98.6 298.3h.8M87.3 294.2h.8M91.4 285.1h.8M82.7 281.0h.8M85.3 281.2h.8M99.8 287.2h.8M88.7 282.5h.8M99.0 282.5h.8M94.3 283.5h.8M95.1 287.0h.8M97.5 280.3h.8M63.8 280.3h.8M88.6 290.8h.8M97.1 286.2h.8M108.1 287.8h.8M99.4 296.5h.8M118.5 282.7h.8M106.7 287.4h.8M95.8 299.5h.8M76.8 297.3h.8M90.6 295.0h.8M91.6 278.6h.8M95.3 283.8h.8M98.1 288.3h.8M76.3 280.9h.8M99.2 281.6h.8M90.7 295.7h.8M85.4 276.7h.8M76.7 282.2h.8M96.4 283.4h.8M87.4 302.4h.8M63.5 286.9h.8M95.0 283.5h.8M91.7 281.9h.8M71.3 284.0h.8M100.3 295.2h.8M90.5 286.1h.8M97.9 290.6h.8M77.1 282.8h.8M86.8 294.8h.8M97.7 299.2h.8M100.5 288.7h.8M84.6 284.7h.8M63.4 280.0h.8M96.2 291.0h.8M91.1 284.1h.8M107.3 297.4h.8M80.0 291.0h.8M98.5 280.5h.8M73.6 282.3h.8M96.9 281.4h.8M89.1 291.9h.8M96.2 297.2h.8M93.2 289.6h.8M91.6 283.7h.8M108.9 294.9h.8M105.2 286.8h.8M94.1 289.5h.8M81.2 280.1h.8M82.7 288.3h.8M104.2 290.0h.8M94.5 280.5h.8M84.0 292.4h.8M84.7 291.8h.8M107.0 291.8h.8M95.3 266.6h.8M81.9 298.3h.8M108.4 285.1h.8M97.7 286.7h.8M74.7 279.9h.8M76.6 285.3h.8M97.0 285.9h.8M83.8 294.2h.8M88.0 280.9h.8M111.3 289.1h.8M112.7 290.2h.8M111.2 286.2h.8M98.7 287.3h.8M96.7 289.6h.8M78.5 278.0h.8M77.9 285.2h.8M95.2 284.1h.8M95.7 288.5h.8M103.4 299.8h.8M102.1 282.3h.8M98.8 298.5h.8M100.2 284.0h.8M96.8 287.8h.8M106.8 290.5h.8M79.2 276.7h.8M113.2 297.3h.8M100.0 288.7h.8M75.7 288.9h.8M97.0 298.7h.8M110.8 285.9h.8M86.1 289.8h.8M99.4 279.3h.8M93.6 291.6h.8M108.4 286.7h.8M96.6 286.2h.8M85.9 286.3h.8M98.7 292.9h.8M99.0 284.5h.8M95.5 292.1h.8M86.9 289.2h.8M74.9 275.6h.8M94.0 289.8h.8M71.9 289.7h.8M82.5 283.6h.8M95.1 283.7h.8M104.6 287.1h.8M102.8 290.4h.8M70.1 290.0h.8M103.6 279.0h.8M65.6 287.5h.8M96.4 279.2h.8M95.3 288.3h.8M102.8 289.4h.8M96.0 282.7h.8M104.4 285.5h.8M86.1 273.8h.8M92.9 284.9h.8M102.7 274.7h.8M87.2 286.2h.8M87.0 288.9h.8M95.1 287.9h.8M73.0 293.1h.8M91.3 288.9h.8M80.3 289.1h.8M108.3 286.1h.8M106.3 291.9h.8M101.1 284.3h.8M115.2 297.4h.8M96.4 286.3h.8M89.5 290.6h.8M97.7 287.1h.8M97.4 292.7h.8M90.7 283.2h.8M97.9 290.0h.8M77.8 282.8h.8M81.0 297.0h.8M97.1 284.0h.8M77.4 286.4h.8M105.0 280.0h.8M98.5 283.5h.8M86.2 280.4h.8M104.9 278.9h.8M96.7 293.0h.8M110.1 280.8h.8M91.8 281.6h.8M87.2 289.0h.8M98.6 301.6h.8M80.3 273.6h.8M104.2 291.7h.8M98.0 287.5h.8M64.0 291.7h.8M94.1 286.3h.8M96.2 290.9h.8M77.3 293.7h.8M90.1 284.0h.8M89.7 275.3h.8M66.6 279.0h.8M96.7 286.2h.8M93.6 289.4h.8M84.8 291.0h.8M88.5 281.3h.8M94.6 286.7h.8M104.5 285.0h.8M98.5 289.2h.8M90.6 288.4h.8M89.2 282.4h.8M87.3 293.1h.8M103.3 280.9h.8M97.6 298.2h.8M87.1 286.9h.8M107.0 290.5h.8M101.8 285.9h.8M82.7 293.0h.8M99.3 281.9h.8M96.1 279.0h.8M97.9 291.6h.8M101.1 273.7h.8M89.8 277.6h.8M87.2 292.1h.8M79.1 289.6h.8M97.1 291.9h.8M93.3 280.4h.8M70.2 267.9h.8M94.6 276.2h.8M98.0 280.4h.8M95.9 303.4h.8M90.5 277.4h.8M101.3 285.9h.8M86.6 285.9h.8M73.7 294.4h.8M108.5 289.8h.8M74.4 287.9h.8M97.1 293.9h.8M111.1 283.6h.8M87.9 290.6h.8M105.9 290.4h.8M91.5 279.7h.8M90.9 283.7h.8M70.1 282.6h.8M100.6 284.7h.8M85.8 286.7h.8M101.6 282.9h.8M82.4 286.0h.8M95.6 281.7h.8M95.9 283.0h.8M107.1 291.4h.8M102.3 286.9h.8M78.5 286.7h.8M103.3 283.3h.8M93.0 276.7h.8M85.1 278.1h.8M88.2 290.0h.8M103.5 301.3h.8M72.3 295.8h.8M87.7 285.1h.8M79.3 286.8h.8M94.5 286.5h.8M90.6 287.6h.8M78.2 287.3h.8M91.0 282.0h.8M91.6 290.5h.8M89.4 300.4h.8M95.1 281.5h.8M105.1 284.6h.8M94.0 290.1h.8M94.6 281.9h.8M100.0 287.8h.8M90.9 284.6h.8M91.0 278.3h.8M85.8 296.5h.8M84.8 276.2h.8M83.9 290.8h.8M95.5 288.9h.8M63.7 289.6h.8M87.2 288.6h.8M95.5 296.7h.8M103.4 292.9h.8M107.5 286.5h.8M72.4 289.3h.8M84.3 294.1h.8M92.0 298.2h.8M69.4 282.0h.8M83.6 287.2h.8M94.9 279.6h.8M89.9 284.9h.8M67.9 287.7h.8M100.4 282.4h.8M80.9 286.4h.8M93.8 293.5h.8M70.1 286.2h.8M92.3 285.3h.8M101.7 277.2h.8M102.4 287.5h.8M101.9 284.7h.8M98.4 292.8h.8M81.1 280.2h.8M74.0 288.8h.8M106.8 284.0h.8M76.0 292.3h.8M80.8 288.6h.8M100.5 280.0h.8M94.5 282.4h.8M105.9 298.8h.8M87.4 292.7h.8M103.7 288.8h.8M120.7 285.8h.8M85.2 286.3h.8M93.0 284.0h.8M86.0 284.0h.8M91.4 286.9h.8M87.3 289.5h.8M100.7 277.6h.8M102.5 277.6h.8M96.1 287.6h.8M101.6 284.9h.8M80.4 283.5h.8M98.0 293.6h.8M86.0 290.2h.8M104.1 283.9h.8M97.4 280.9h.8M67.5 288.9h.8M93.8 290.5h.8M76.0 273.1h.8M89.8 289.9h.8M103.5 297.5h.8M113.1 289.7h.8M98.3 292.7h.8M98.6 282.5h.8M99.0 289.1h.8M91.0 290.6h.8M68.0 296.8h.8M102.0 285.2h.8M96.2 286.3h.8M94.2 297.5h.8M97.1 283.4h.8M98.5 289.0h.8M95.3 287.3h.8M103.7 280.9h.8M93.7 290.6h.8M104.8 286.3h.8M89.7 286.0h.8M89.1 296.6h.8M79.5 273.3h.8M82.9 288.8h.8M63.3 286.8h.8M76.9 288.9h.8M90.5 286.0h.8M102.7 283.8h.8M82.1 287.6h.8M89.4 290.2h.8M91.6 291.4h.8M93.3 284.6h.8M67.2 290.3h.8M86.7 286.5h.8M113.8 283.8h.8M103.0 291.5h.8M84.9 289.6h.8M95.9 291.7h.8M103.2 286.3h.8M91.2 279.1h.8M99.7 293.0h.8M95.5 287.2h.8M82.9 282.5h.8M94.7 280.6h.8M78.0 291.2h.8M93.2 289.0h.8M97.1 292.8h.8M86.6 288.1h.8M98.5 283.3h.8M96.3 284.6h.8M94.5 290.0h.8M87.7 281.7h.8M83.0 286.5h.8M95.5 284.5h.8M95.4 285.0h.8M103.2 305.1h.8M69.4 276.0h.8M96.7 289.1h.8M90.0 281.3h.8M88.0 299.4h.8M77.1 285.8h.8M114.9 286.4h.8M100.5 289.9h.8M94.5 291.1h.8M98.6 286.7h.8M72.2 294.7h.8M92.5 287.6h.8M96.1 293.6h.8M93.7 285.4h.8M75.4 282.1h.8M89.3 284.6h.8M109.7 282.5h.8M103.2 278.4h.8M97.9 283.1h.8M99.8 280.8h.8M118.6 290.8h.8M99.1 296.3h.8M86.5 281.4h.8M71.4 288.1h.8M95.2 282.3h.8M94.0 293.0h.8M67.9 295.1h.8M87.8 284.3h.8M92.8 291.5h.8M89.0 277.2h.8M63.2 289.6h.8M77.2 292.6h.8M76.6 289.0h.8M105.2 291.5h.8M90.8 294.3h.8M78.5 301.3h.8M99.6 288.2h.8M69.1 287.4h.8M87.1 291.6h.8M98.4 283.3h.8M80.0 292.6h.8M79.5 282.4h.8M69.7 288.3h.8M81.6 282.9h.8M100.6 280.8h.8M96.7 287.8h.8M102.6 282.3h.8M84.7 280.7h.8M116.8 285.9h.8M69.5 282.0h.8M79.2 288.7h.8M63.9 290.3h.8M97.4 289.9h.8M95.5 298.0h.8M113.2 287.2h.8M86.1 285.4h.8M87.0 288.7h.8M63.8 284.4h.8M62.8 279.6h.8M93.1 290.3h.8M82.4 282.7h.8M98.1 282.5h.8M78.4 285.3h.8M95.9 287.7h.8M94.7 284.6h.8M69.0 274.6h.8M98.9 287.5h.8M103.7 288.8h.8M94.0 289.4h.8M100.4 297.2h.8M99.1 281.9h.8M89.3 298.1h.8M99.6 289.7h.8M110.5 283.5h.8M78.1 297.8h.8M96.9 286.1h.8M87.3 293.5h.8M92.6 281.0h.8M87.7 293.8h.8M87.7 292.8h.8M94.4 286.0h.8M85.3 296.1h.8M96.3 279.9h.8M64.1 300.3h.8M101.3 279.4h.8M84.7 289.4h.8M83.9 287.6h.8M103.6 269.0h.8M100.7 289.2h.8M99.5 285.2h.8M99.2 281.3h.8M95.7 283.3h.8M79.8 278.1h.8M99.1 293.2h.8M97.4 281.0h.8M99.4 285.2h.8M90.7 295.3h.8M90.4 297.8h.8M83.2 278.5h.8M106.6 289.4h.8M83.3 295.2h.8M98.6 293.7h.8M86.9 280.2h.8M77.5 284.6h.8M89.8 288.8h.8M73.5 292.8h.8M88.9 292.0h.8M92.6 279.6h.8M81.2 291.4h.8M88.2 293.8h.8M94.6 296.3h.8M93.0 290.4h.8M77.1 282.4h.8M94.6 289.5h.8M83.2 289.2h.8M80.7 280.2h.8M89.7 280.0h.8M87.5 291.0h.8M100.9 295.1h.8M95.0 287.8h.8M86.5 288.6h.8M113.2 283.7h.8M105.0 285.5h.8M64.0 290.7h.8M72.7 292.1h.8M78.7 287.0h.8M104.3 274.5h.8M77.4 288.0h.8M92.3 279.4h.8M89.1 276.4h.8M104.5 283.7h.8M87.7 296.4h.8M97.7 278.7h.8M91.0 287.8h.8M106.0 288.9h.8M98.4 295.3h.8M100.7 283.5h.8M89.5 287.4h.8M91.8 281.2h.8M103.4 283.1h.8M111.6 290.6h.8M92.3 293.5h.8M98.5 275.9h.8M80.1 275.3h.8M108.3 283.8h.8M78.6 293.5h.8M98.1 282.3h.8M98.2 293.4h.8M83.4 286.0h.8M77.9 283.7h.8M92.2 291.1h.8M103.2 287.7h.8M74.6 289.1h.8M88.1 275.0h.8M62.7 288.2h.8M91.2 287.9h.8M77.4 306.5h.8M86.1 286.5h.8M93.3 288.2h.8M83.7 294.0h.8M100.8 293.6h.8M104.5 290.8h.8M105.1 294.2h.8M92.2 275.8h.8M87.0 286.1h.8M100.8 283.9h.8M103.4 287.9h.8M86.4 277.4h.8M93.1 291.4h.8M90.4 285.2h.8M101.0 290.8h.8M86.5 287.5h.8M63.8 289.7h.8M99.3 294.0h.8M102.5 283.0h.8M95.8 278.5h.8M101.8 287.0h.8M93.0 283.1h.8M76.3 286.6h.8M97.3 283.7h.8M87.2 274.3h.8M76.3 281.4h.8M104.1 282.6h.8M92.9 289.0h.8M99.1 295.3h.8M94.3 288.7h.8M86.7 298.5h.8M87.6 297.0h.8M98.5 285.3h.8M99.9 285.3h.8M100.3 281.0h.8M104.7 287.3h.8M84.9 285.5h.8M109.1 290.4h.8M119.4 298.2h.8M95.3 300.8h.8M98.5 291.5h.8M99.0 282.4h.8M106.1 289.6h.8M76.2 290.4h.8M104.5 283.0h.8M86.7 286.5h.8M94.6 292.4h.8M98.2 284.4h.8M100.2 281.4h.8M91.7 286.2h.8M98.5 289.0h.8M105.1 295.0h.8M96.7 283.0h.8M106.4 292.0h.8M90.9 288.2h.8M66.8 290.2h.8M92.3 289.3h.8M93.3 282.8h.8M93.2 272.9h.8M71.9 281.8h.8M74.9 289.5h.8M87.4 288.1h.8M93.8 289.3h.8M90.3 286.4h.8M105.1 287.9h.8M98.6 285.2h.8M96.2 295.0h.8M90.2 279.1h.8M72.4 283.3h.8M97.2 282.0h.8M89.5 286.5h.8M97.2 291.5h.8M111.4 297.8h.8M93.7 293.5h.8M113.0 293.1h.8M85.8 295.8h.8M85.5 293.6h.8M79.7 293.4h.8M95.1 282.4h.8M64.8 284.0h.8M96.1 291.3h.8M97.9 288.3h.8M100.9 285.7h.8M97.1 294.1h.8M101.1 284.9h.8M100.4 289.7h.8M94.4 287.4h.8M96.6 281.9h.8M86.8 297.8h.8M91.1 277.9h.8M107.7 280.3h.8M77.6 285.0h.8M104.5 295.4h.8M101.4 295.1h.8M72.3 283.5h.8M71.2 291.1h.8M85.9 286.1h.8M97.3 281.6h.8M88.2 289.4h.8M100.6 287.7h.8M91.0 284.1h.8M74.9 292.0h.8M98.5 293.0h.8M101.2 281.8h.8M90.1 297.1h.8M90.3 290.8h.8M74.5 286.7h.8M101.4 296.7h.8M109.5 292.2h.8M94.6 292.9h.8M74.3 292.3h.8M74.8 286.1h.8M92.7 290.8h.8M75.6 287.0h.8M85.7 283.3h.8M77.0 282.2h.8M94.9 290.6h.8M77.1 293.4h.8M102.6 279.1h.8M108.2 297.4h.8M107.9 291.8h.8M72.2 293.1h.8M105.6 285.9h.8M97.7 291.4h.8M99.7 291.8h.8M98.7 279.9h.8M100.7 293.3h.8M98.3 300.5h.8M96.0 283.3h.8M93.1 277.2h.8M85.3 283.2h.8M104.2 292.6h.8M92.6 290.2h.8M89.0 282.2h.8M102.2 284.1h.8M98.5 277.4h.8M92.3 288.4h.8M93.8 275.2h.8M67.6 286.4h.8M78.1 279.7h.8M88.5 286.6h.8M96.4 291.4h.8M97.4 286.6h.8M76.6 288.9h.8M86.9 289.2h.8M95.8 285.8h.8M101.9 283.1h.8M83.2 277.5h.8M81.6 289.3h.8M75.6 295.7h.8M92.6 299.8h.8M96.5 276.8h.8M103.0 282.0h.8M90.1 290.9h.8M102.5 298.5h.8M94.4 281.4h.8M95.9 288.4h.8M76.4 289.0h.8M109.9 284.3h.8M90.9 286.6h.8M105.1 285.1h.8M100.1 278.8h.8M89.4 298.0h.8M85.4 289.1h.8M100.8 284.9h.8M85.5 294.4h.8M82.6 286.2h.8M82.5 294.4h.8M82.3 283.6h.8M84.1 294.2h.8M107.3 291.6h.8M94.4 283.7h.8M104.2 292.2h.8M97.8 293.6h.8M91.7 288.0h.8M88.6 281.0h.8M79.0 280.7h.8M96.5 286.8h.8M94.0 289.1h.8M93.9 272.8h.8M91.9 291.7h.8M98.7 290.5h.8M86.0 297.2h.8M76.0 286.2h.8M84.9 285.8h.8M69.0 289.9h.8M95.7 279.7h.8M108.4 288.0h.8M87.0 277.3h.8M102.7 282.9h.8M112.3 288.3h.8M90.2 287.5h.8M98.6 281.0h.8M100.4 289.9h.8M108.8 287.4h.8M97.5 291.2h.8M84.1 283.3h.8M85.8 285.6h.8M80.5 290.1h.8M91.0 280.8h.8M99.9 289.5h.8M99.4 282.4h.8M86.5 297.2h.8M99.1 282.6h.8M70.1 290.7h.8M92.7 275.6h.8M106.0 285.7h.8M92.2 288.7h.8M88.0 285.9h.8M105.5 284.2h.8M106.5 281.0h.8M94.5 287.2h.8M65.4 285.7h.8M100.6 286.8h.8M111.4 283.3h.8M81.9 279.8h.8M115.8 292.8h.8M82.0 295.3h.8M104.3 293.7h.8M103.3 289.3h.8M101.8 288.9h.8M83.7 286.4h.8M101.8 287.8h.8M74.6 287.7h.8M94.1 281.9h.8M93.8 280.2h.8M94.8 289.2h.8M78.5 280.7h.8M84.0 296.0h.8M69.5 285.4h.8M111.0 291.5h.8M96.5 288.3h.8M85.0 285.9h.8M96.8 288.5h.8M94.0 287.7h.8M109.2 291.4h.8M86.3 290.4h.8M105.1 295.5h.8M74.2 287.6h.8M92.6 290.7h.8M98.8 283.1h.8M91.0 294.6h.8M103.5 286.1h.8M95.8 288.2h.8M86.2 283.3h.8M87.5 280.6h.8M106.7 273.4h.8M94.1 302.2h.8M89.7 295.2h.8M72.2 282.7h.8M74.3 285.7h.8M81.1 278.4h.8M99.9 291.7h.8M105.0 289.8h.8M84.9 291.7h.8M113.5 283.9h.8M96.1 291.0h.8M95.6 287.2h.8M96.4 279.5h.8M83.0 294.7h.8M103.6 284.3h.8M95.8 291.4h.8M100.5 291.7h.8M71.9 292.9h.8M75.5 292.5h.8M101.8 287.2h.8M107.8 277.3h.8M91.3 289.9h.8M90.8 302.5h.8M93.5 285.6h.8M87.6 291.8h.8M78.8 288.0h.8M79.2 285.4h.8M106.8 288.1h.8M86.6 296.0h.8M101.5 292.6h.8M73.2 287.9h.8M99.7 289.4h.8M106.1 274.3h.8M90.2 278.0h.8M104.2 273.6h.8M97.3 286.2h.8M117.4 295.2h.8M91.6 294.2h.8M91.6 283.9h.8M80.1 290.4h.8M93.2 289.2h.8M101.4 296.0h.8M84.2 278.2h.8M107.2 279.0h.8M87.1 287.7h.8M96.7 283.7h.8M107.3 278.2h.8M86.8 285.8h.8M96.1 298.9h.8M91.3 288.9h.8M84.2 282.5h.8M99.8 293.2h.8M64.8 280.3h.8M80.3 287.3h.8M93.0 285.8h.8M97.2 289.6h.8M82.8 287.7h.8M76.4 290.6h.8M109.6 283.1h.8M100.0 287.8h.8M100.0 292.5h.8M95.7 281.5h.8M105.2 293.4h.8M97.5 289.0h.8M76.5 279.2h.8M94.5 291.7h.8M103.9 288.6h.8M71.9 281.3h.8M86.4 289.9h.8M95.0 279.1h.8M94.5 281.5h.8M86.0 282.5h.8M96.3 290.1h.8M97.8 297.7h.8M111.8 286.6h.8M83.4 289.8h.8M94.0 289.1h.8M79.6 289.7h.8M104.8 292.7h.8M98.0 286.1h.8M99.9 290.6h.8M98.8 290.9h.8M111.3 283.5h.8M89.9 289.9h.8M96.8 296.2h.8M99.4 274.8h.8M79.4 284.4h.8M72.6 294.1h.8M102.1 292.0h.8M95.4 288.1h.8M101.8 289.8h.8M94.0 283.2h.8M91.5 290.1h.8M91.3 289.1h.8M96.3 289.8h.8M89.6 284.1h.8M88.9 288.1h.8M106.3 277.3h.8M104.3 291.5h.8M94.2 296.1h.8M109.7 280.9h.8M87.6 286.9h.8M103.1 276.7h.8M104.7 292.0h.8M91.2 284.2h.8M110.2 286.9h.8M79.2 282.8h.8M94.1 281.1h.8M87.1 290.3h.8M108.0 288.5h.8M97.8 292.5h.8M84.5 291.3h.8M92.8 282.0h.8M84.7 297.3h.8M104.7 275.2h.8M83.9 290.9h.8M84.0 291.2h.8M98.1 295.7h.8M88.0 279.4h.8M96.7 289.3h.8M95.6 280.5h.8M87.6 299.9h.8M74.0 273.9h.8M65.2 288.5h.8M95.4 290.4h.8M89.9 282.9h.8M99.2 282.0h.8M95.9 304.0h.8M93.3 284.2h.8M89.5 285.1h.8M102.2 289.3h.8M63.8 287.2h.8M70.7 277.5h.8M98.3 280.4h.8M92.2 282.5h.8M82.9 284.5h.8M86.9 289.2h.8M101.4 285.3h.8M97.9 285.8h.8M95.3 290.4h.8M70.2 285.4h.8M103.1 288.8h.8M84.3 290.6h.8M99.4 286.5h.8M98.6 286.2h.8M70.9 293.8h.8M75.1 292.2h.8M72.9 305.4h.8M80.1 291.0h.8M99.9 288.9h.8M104.7 292.6h.8M96.3 290.1h.8M91.2 292.8h.8M83.8 285.8h.8M108.0 283.3h.8M93.7 276.4h.8M82.3 293.2h.8M94.1 279.5h.8M99.2 296.3h.8M88.0 283.2h.8M87.6 281.4h.8M72.8 282.4h.8M98.7 284.3h.8M83.7 291.0h.8M99.7 288.1h.8M95.0 284.3h.8M95.7 300.5h.8M84.8 275.8h.8M98.0 288.9h.8M77.9 290.4h.8M95.3 291.3h.8M108.2 298.9h.8M114.8 288.9h.8M79.1 277.7h.8M98.6 295.6h.8M94.4 282.7h.8M89.1 282.3h.8M101.4 289.6h.8M76.0 282.6h.8M99.4 285.3h.8M81.7 289.9h.8M106.6 280.5h.8M96.8 290.9h.8M117.2 279.8h.8M105.6 283.1h.8M95.9 277.3h.8M75.9 291.1h.8M62.6 293.4h.8M96.0 288.2h.8M89.7 287.6h.8M103.2 281.8h.8M82.1 298.4h.8M94.8 284.5h.8M84.6 285.4h.8M97.7 289.8h.8M97.4 283.2h.8M74.0 280.0h.8M94.1 299.5h.8M104.1 287.1h.8M97.7 283.0h.8M105.8 289.5h.8M82.8 281.1h.8M70.3 278.5h.8M83.2 273.2h.8M77.7 288.8h.8M109.5 297.8h.8M95.3 278.3h.8M102.4 289.4h.8M108.5 278.8h.8M96.2 295.3h.8M65.2 287.5h.8M63.7 292.4h.8M100.7 284.5h.8M101.8 282.6h.8M78.8 285.1h.8M98.4 291.4h.8M99.3 287.7h.8M95.1 281.4h.8M76.0 297.7h.8M105.0 289.6h.8M80.0 288.7h.8M98.6 285.7h.8M73.9 287.0h.8M81.6 290.1h.8M101.6 282.7h.8M79.7 306.2h.8M72.1 285.9h.8M92.1 280.8h.8M91.2 292.2h.8M77.9 284.6h.8M97.1 283.4h.8M99.2 278.2h.8M95.9 283.7h.8M109.6 287.2h.8M85.7 278.4h.8M106.0 287.5h.8M92.0 296.0h.8M74.6 289.9h.8M75.3 286.5h.8M71.6 281.4h.8M66.2 294.0h.8M96.7 286.8h.8M69.8 297.7h.8M88.5 277.3h.8M94.3 285.5h.8M89.8 288.5h.8M101.6 287.8h.8M76.6 289.9h.8M80.3 291.2h.8M103.3 274.3h.8M103.0 296.7h.8M91.8 291.3h.8M78.8 296.8h.8M82.4 290.0h.8M100.2 288.4h.8M109.8 271.8h.8M83.7 289.5h.8M90.4 279.9h.8M79.5 295.3h.8M103.2 282.5h.8M93.9 290.0h.8M97.3 291.2h.8M83.6 287.1h.8M104.6 283.2h.8M98.2 304.2h.8M102.5 279.4h.8M89.0 284.0h.8M84.2 281.3h.8M96.7 294.5h.8M95.9 292.0h.8M104.8 286.0h.8M104.5 283.1h.8M75.5 285.6h.8M67.2 292.1h.8M104.8 296.4h.8M87.4 284.9h.8M86.9 287.1h.8M99.9 300.7h.8M94.6 297.3h.8M93.7 289.4h.8M97.7 285.9h.8M88.7 290.2h.8M91.5 285.1h.8M87.0 289.5h.8M96.3 290.4h.8M85.6 291.2h.8M107.3 289.3h.8M97.6 293.9h.8M92.2 292.5h.8M102.8 287.7h.8M96.7 283.0h.8M101.5 285.6h.8M99.2 298.2h.8M75.6 290.8h.8M104.7 296.6h.8M103.1 282.8h.8M88.7 294.2h.8M117.5 302.5h.8M76.1 282.6h.8M103.7 296.2h.8M89.9 285.0h.8M93.0 287.9h.8M102.3 284.8h.8M103.7 286.9h.8M101.7 288.2h.8M75.1 280.5h.8M104.1 291.3h.8M84.9 285.6h.8M91.8 284.1h.8M95.7 298.8h.8M75.0 291.5h.8M104.6 283.2h.8M91.3 288.1h.8M78.7 284.9h.8M85.2 277.6h.8M76.4 292.4h.8M77.9 279.0h.8M97.4 286.5h.8M98.7 275.3h.8M106.2 290.5h.8M115.7 285.5h.8M102.1 289.5h.8M63.7 287.6h.8M100.7 289.0h.8M96.8 287.4h.8M100.4 283.2h.8M102.6 276.0h.8M96.0 298.5h.8M103.1 284.7h.8M101.1 296.4h.8M114.5 292.6h.8M85.4 286.1h.8M80.7 284.0h.8M91.6 290.6h.8M118.1 290.9h.8M66.3 288.5h.8M91.4 288.4h.8M78.5 290.5h.8M92.9 285.0h.8M98.0 280.0h.8M81.1 291.1h.8M105.8 282.6h.8M113.4 290.3h.8M87.9 286.0h.8M102.5 281.1h.8M81.6 280.4h.8M79.5 281.9h.8M101.4 285.6h.8M101.4 286.6h.8M78.9 291.8h.8M100.1 285.2h.8M107.6 284.8h.8M86.4 281.5h.8M72.4 289.6h.8M97.0 281.3h.8M104.1 284.8h.8M94.1 290.4h.8M99.8 292.6h.8M86.8 292.7h.8M96.6 291.8h.8M90.6 289.5h.8M96.0 287.3h.8M100.9 294.8h.8M93.5 286.7h.8M92.4 278.5h.8M72.7 289.7h.8M67.9 285.2h.8M86.1 291.4h.8M93.6 286.5h.8M88.6 283.3h.8M94.1 290.8h.8M89.6 287.5h.8M87.7 282.9h.8M85.2 278.8h.8M92.4 281.9h.8M100.6 293.3h.8M89.9 297.1h.8M71.0 292.1h.8M81.9 281.3h.8M81.5 284.6h.8M94.9 287.0h.8M103.2 290.2h.8M63.7 282.4h.8M83.3 292.5h.8M84.0 292.7h.8M114.6 283.5h.8M83.8 283.8h.8M98.8 291.3h.8M108.2 293.3h.8M87.0 291.2h.8M91.5 281.1h.8M93.0 277.9h.8M95.8 288.8h.8M82.4 293.4h.8M95.0 292.0h.8M86.2 281.6h.8M83.7 290.2h.8M107.8 290.9h.8M72.9 283.7h.8M102.9 279.7h.8M91.0 299.8h.8M92.8 290.3h.8M84.7 292.5h.8M95.1 300.7h.8M99.4 291.1h.8M78.9 283.5h.8M99.1 285.7h.8M64.3 295.6h.8M81.7 288.5h.8M75.0 284.8h.8M89.5 298.6h.8M99.5 289.3h.8M83.1 290.5h.8M96.2 293.7h.8M91.0 278.4h.8M105.6 285.7h.8M67.9 289.3h.8M68.9 286.7h.8M89.3 292.3h.8M65.8 282.2h.8M94.6 282.0h.8M95.0 287.8h.8M80.1 287.6h.8M81.6 279.6h.8M95.7 289.1h.8M97.1 295.3h.8M89.6 285.9h.8M98.9 282.2h.8M83.7 298.9h.8M95.6 299.6h.8M103.8 286.6h.8M102.9 292.8h.8M79.4 284.1h.8M81.7 287.6h.8M81.7 280.6h.8M95.3 287.2h.8M97.5 296.8h.8M76.0 289.2h.8M76.2 292.7h.8M95.0 278.9h.8M102.1 287.6h.8M92.3 292.8h.8M81.2 282.5h.8M102.5 288.5h.8M92.5 277.0h.8M83.6 283.9h.8M114.3 295.2h.8M92.7 288.7h.8M94.2 281.7h.8M96.5 294.6h.8M91.6 291.0h.8M98.7 287.1h.8M86.5 289.8h.8M101.7 286.3h.8M95.3 291.6h.8M94.8 298.6h.8M103.0 276.8h.8M77.2 289.7h.8M93.3 272.8h.8M99.8 287.6h.8M102.7 282.8h.8M90.2 291.3h.8M84.9 289.1h.8M101.9 293.5h.8M68.5 289.0h.8M103.8 294.0h.8M68.9 279.2h.8M79.1 279.5h.8M102.5 276.6h.8M92.6 284.6h.8M80.9 283.1h.8M105.2 295.8h.8M96.6 294.5h.8M85.5 290.5h.8M99.2 288.1h.8M97.2 292.7h.8M90.5 281.6h.8M100.8 291.7h.8M98.3 284.2h.8M74.3 297.3h.8M95.8 288.3h.8M96.6 288.0h.8M98.3 284.3h.8M81.2 291.6h.8M103.0 293.9h.8M72.8 295.9h.8M86.9 285.9h.8M89.3 290.1h.8M94.3 285.5h.8M91.0 290.2h.8M95.5 288.9h.8M98.7 284.8h.8M112.3 284.8h.8M88.4 295.8h.8M100.0 292.7h.8M90.5 286.4h.8M93.1 286.8h.8M83.0 291.9h.8M87.3 285.4h.8M106.2 291.8h.8M92.9 289.8h.8M96.7 284.7h.8M77.0 274.2h.8M98.8 295.4h.8M98.7 293.8h.8M97.4 276.6h.8M104.2 288.8h.8M94.2 282.6h.8M85.8 290.0h.8M98.5 299.4h.8M98.1 303.3h.8M110.5 291.6h.8M88.5 292.8h.8M95.3 285.1h.8M106.8 292.1h.8M92.8 291.8h.8M115.5 293.7h.8M114.9 287.3h.8M95.2 284.3h.8M100.9 293.2h.8M103.3 292.9h.8M86.0 287.1h.8M82.9 286.0h.8M105.8 275.0h.8M103.3 278.8h.8M89.1 287.1h.8M85.8 289.3h.8M78.0 279.6h.8M74.3 285.6h.8M102.5 284.2h.8M97.7 284.5h.8M92.4 294.2h.8M74.7 294.0h.8M82.5 276.5h.8M95.7 293.7h.8M76.8 289.9h.8M94.7 285.4h.8M86.0 292.1h.8M98.8 294.8h.8M83.5 289.0h.8M64.5 283.8h.8M89.9 282.4h.8M73.0 294.4h.8M101.7 275.5h.8M87.6 290.0h.8M91.5 302.7h.8M103.4 291.8h.8M69.2 290.4h.8M94.8 283.8h.8M102.6 276.9h.8M98.6 285.6h.8M79.6 295.1h.8M97.3 268.3h.8M109.8 280.6h.8M80.8 284.4h.8M85.8 285.9h.8M99.8 278.7h.8M93.5 292.4h.8M90.8 280.2h.8M110.0 288.2h.8M84.2 278.2h.8M102.2 288.8h.8M76.2 284.5h.8M62.8 276.7h.8M92.9 285.4h.8M100.8 292.5h.8M87.4 293.3h.8M109.6 293.2h.8M94.2 282.0h.8M99.6 294.6h.8M96.7 288.1h.8M79.3 290.0h.8M105.6 293.0h.8M107.3 278.2h.8M106.9 291.8h.8M105.5 279.7h.8M106.4 291.7h.8M102.6 286.0h.8M106.1 291.3h.8M97.1 284.8h.8M84.1 283.5h.8M98.8 291.3h.8M103.1 285.7h.8M83.7 296.8h.8M93.6 286.1h.8M104.8 296.9h.8M89.0 279.6h.8M118.6 292.8h.8M100.0 286.3h.8M106.6 292.4h.8M102.8 283.8h.8M105.0 289.5h.8M96.3 290.5h.8M84.7 282.8h.8M76.1 289.2h.8M73.2 285.5h.8M82.8 280.8h.8M68.0 292.5h.8M89.9 286.4h.8M80.3 277.9h.8M84.8 290.5h.8M82.6 285.8h.8M101.3 287.9h.8M84.9 288.1h.8M82.9 290.0h.8M109.3 282.9h.8M89.5 283.4h.8M107.6 293.6h.8M88.1 284.1h.8M91.4 286.3h.8M96.3 276.3h.8M74.6 290.3h.8M108.5 287.6h.8M110.4 289.4h.8M88.0 294.8h.8M104.6 290.9h.8M96.4 289.2h.8M87.5 296.9h.8M109.5 293.5h.8M79.8 292.1h.8M93.4 288.9h.8M103.3 289.3h.8M90.9 295.0h.8M98.4 282.5h.8M76.0 283.0h.8M91.2 284.7h.8M95.0 282.0h.8M76.3 284.0h.8M82.3 290.1h.8M85.1 294.4h.8M90.2 288.6h.8M95.9 290.8h.8M89.3 291.7h.8M71.1 299.7h.8M94.4 287.5h.8M106.3 288.0h.8M94.1 288.2h.8M88.6 287.8h.8M93.8 276.7h.8M99.7 291.3h.8M74.8 297.0h.8M109.0 280.5h.8M89.8 289.3h.8M112.1 299.4h.8M84.5 293.9h.8M80.2 294.2h.8M95.9 281.8h.8M103.4 289.1h.8M98.7 287.6h.8M96.0 285.3h.8M97.0 281.8h.8M96.1 282.3h.8M104.5 279.8h.8M93.5 282.3h.8M100.6 286.0h.8M86.5 285.6h.8M92.0 284.7h.8M83.7 287.8h.8M90.3 292.6h.8M87.1 278.6h.8M73.3 289.5h.8M103.5 281.9h.8M97.8 296.3h.8M99.5 287.2h.8M115.9 288.9h.8M65.8 291.2h.8M98.1 295.6h.8M95.5 280.3h.8M104.7 288.2h.8M86.2 282.8h.8M87.5 298.1h.8M79.2 281.5h.8M100.8 291.7h.8M112.0 285.1h.8M83.8 296.1h.8M95.7 285.7h.8M96.6 283.6h.8M85.2 293.6h.8M67.0 283.5h.8M102.7 283.6h.8M70.8 300.2h.8M104.4 300.0h.8M75.9 284.5h.8M103.2 286.5h.8M106.4 301.4h.8M87.1 290.3h.8M78.0 286.3h.8M91.8 286.6h.8M93.8 288.0h.8M77.6 287.2h.8M89.8 284.5h.8M102.4 284.1h.8M99.7 289.6h.8M105.1 287.5h.8M73.2 286.4h.8M81.8 292.6h.8M92.3 294.6h.8M91.8 288.2h.8M102.0 278.1h.8M76.2 291.5h.8M108.7 299.1h.8M104.3 278.9h.8M100.9 291.3h.8M89.4 284.0h.8M72.0 297.2h.8M74.2 276.6h.8M102.6 283.4h.8M91.4 286.9h.8M111.0 285.8h.8M96.6 290.6h.8M74.8 296.3h.8M105.0 282.9h.8M90.5 282.1h.8M94.7 299.8h.8M100.3 291.2h.8M73.9 279.2h.8M77.4 271.4h.8M107.3 289.9h.8M73.9 286.1h.8M77.2 295.2h.8M75.3 287.5h.8M76.0 295.6h.8M87.3 297.7h.8M86.2 281.4h.8M78.2 283.8h.8M85.2 286.9h.8M96.6 287.8h.8M63.4 286.4h.8M87.2 295.0h.8M90.4 290.9h.8M68.5 293.9h.8M104.6 281.9h.8M95.0 273.8h.8M90.8 284.5h.8M98.5 283.4h.8M96.4 287.7h.8M89.2 285.7h.8M89.3 283.5h.8M76.3 290.7h.8M97.1 286.9h.8M95.1 285.0h.8M78.5 289.2h.8M99.2 283.0h.8M107.6 301.3h.8M75.3 294.4h.8M110.5 280.1h.8M105.0 277.1h.8M103.3 288.2h.8M91.3 285.6h.8M109.9 284.0h.8M89.8 281.3h.8M99.5 281.4h.8M86.0 299.5h.8M75.7 291.2h.8M99.7 288.0h.8M106.8 282.5h.8M75.3 281.7h.8M93.0 282.1h.8M84.3 286.3h.8M80.1 280.0h.8M88.2 286.1h.8M103.3 289.9h.8M107.5 282.0h.8M98.2 277.4h.8M94.9 295.5h.8M100.6 283.0h.8M81.1 287.3h.8M95.7 295.2h.8M86.6 290.4h.8M96.2 287.2h.8M70.0 285.9h.8M98.5 280.2h.8M90.0 285.6h.8M95.8 289.6h.8M96.1 293.2h.8M107.1 282.1h.8M89.6 290.3h.8M72.0 295.5h.8M103.8 290.3h.8M102.0 293.4h.8M86.3 282.4h.8M103.9 283.2h.8M104.0 295.5h.8M77.4 295.2h.8M81.1 288.4h.8M76.6 282.5h.8M109.0 291.8h.8M68.6 282.7h.8M79.9 287.6h.8M97.3 299.7h.8M104.7 292.7h.8M104.5 290.5h.8M97.5 285.8h.8M100.1 275.4h.8M104.3 291.8h.8M98.3 286.9h.8M90.9 291.7h.8M96.2 278.5h.8M99.6 286.9h.8M100.0 291.4h.8M96.0 294.2h.8M82.2 284.3h.8M94.8 277.7h.8M100.1 286.9h.8M78.8 287.9h.8M83.7 291.9h.8M98.1 288.6h.8M100.3 292.9h.8M90.9 287.1h.8M90.8 281.3h.8M94.8 290.8h.8M87.9 286.4h.8M87.3 288.0h.8M68.9 292.3h.8M90.7 291.0h.8M109.5 286.9h.8M84.4 291.4h.8M85.8 295.0h.8M98.5 288.3h.8M101.1 279.5h.8M115.2 289.9h.8M87.6 288.1h.8M98.7 289.5h.8M79.5 271.4h.8M82.3 276.4h.8M84.4 280.4h.8M92.9 284.8h.8M98.6 282.8h.8M96.5 282.4h.8M82.3 282.8h.8M94.1 284.1h.8M78.0 282.2h.8M85.7 281.2h.8M77.7 286.3h.8M90.3 288.9h.8M97.2 285.6h.8M114.2 281.7h.8M84.0 285.3h.8M99.2 297.2h.8M96.4 287.4h.8M89.7 283.0h.8M84.8 288.5h.8M78.3 281.1h.8M95.3 283.1h.8M84.6 294.0h.8M93.2 295.5h.8M102.5 286.4h.8M72.1 283.6h.8M107.6 295.1h.8M84.1 288.1h.8M99.6 293.4h.8M97.6 279.4h.8M91.6 283.1h.8M98.3 282.1h.8M106.4 276.0h.8M94.5 270.8h.8M104.1 291.3h.8M112.2 286.0h.8M95.1 285.7h.8M82.5 287.3h.8M88.5 286.6h.8M97.5 289.0h.8M103.1 282.1h.8M67.8 297.1h.8M91.5 288.0h.8M85.6 283.5h.8M110.1 279.5h.8M80.9 288.9h.8M99.5 293.4h.8M94.7 283.4h.8M102.4 285.9h.8M110.3 280.1h.8M90.2 278.8h.8M75.9 300.7h.8M106.8 285.5h.8M84.4 287.9h.8M95.4 296.2h.8M100.5 289.1h.8M73.0 294.1h.8M85.9 277.2h.8M96.1 297.2h.8M85.2 288.2h.8M111.1 295.8h.8M75.6 285.5h.8M101.8 286.8h.8M85.8 291.3h.8M94.7 289.1h.8M83.8 288.2h.8M98.5 293.6h.8M104.5 288.9h.8M98.9 288.6h.8M92.6 290.3h.8M63.5 285.2h.8M96.0 286.7h.8M66.1 295.9h.8M103.2 285.2h.8M78.7 286.6h.8M68.1 284.1h.8M71.6 282.4h.8M93.9 282.1h.8M81.9 294.4h.8M94.4 295.1h.8M75.9 280.6h.8M100.8 291.4h.8M108.0 291.7h.8M94.4 293.7h.8M79.4 288.7h.8M75.1 294.4h.8M82.2 295.1h.8M103.8 275.9h.8M84.3 301.1h.8M71.5 291.2h.8M118.3 293.2h.8M108.7 297.6h.8M107.6 292.2h.8M84.1 282.9h.8M101.1 293.6h.8M80.6 294.8h.8M86.6 287.2h.8M99.4 287.5h.8M77.4 270.1h.8M93.1 289.3h.8M75.0 289.8h.8M101.9 281.4h.8M87.7 283.4h.8M94.9 287.2h.8M95.6 281.4h.8M81.4 291.7h.8M84.7 280.3h.8M81.8 289.9h.8M63.9 281.7h.8M95.1 290.6h.8M101.9 282.4h.8M103.8 289.2h.8M92.3 288.7h.8M101.3 278.6h.8M80.4 289.2h.8M89.6 288.6h.8M65.9 287.0h.8M84.3 284.6h.8M97.8 292.8h.8M71.7 286.1h.8M92.0 289.6h.8M115.9 286.0h.8M101.8 284.4h.8M94.7 283.0h.8M105.9 288.8h.8M100.9 285.2h.8M86.5 286.3h.8M121.7 287.6h.8M103.3 290.7h.8M103.2 276.4h.8M104.2 282.6h.8M82.1 285.7h.8M91.8 290.4h.8M101.5 284.2h.8M89.4 281.8h.8M94.4 287.2h.8M87.0 285.7h.8M86.9 296.5h.8M105.3 287.4h.8M88.0 296.7h.8M107.4 290.6h.8M100.0 274.2h.8M72.8 287.4h.8M82.5 289.9h.8M84.1 290.8h.8M107.1 296.5h.8M90.3 284.5h.8M102.1 286.6h.8M106.0 283.6h.8M96.8 290.2h.8M83.3 282.3h.8M95.3 282.6h.8M101.9 282.2h.8M92.9 286.3h.8M101.2 280.5h.8M84.5 296.7h.8M75.0 283.4h.8M87.1 280.7h.8M96.3 290.1h.8M72.5 294.4h.8M96.2 278.3h.8M85.5 287.5h.8M72.7 285.7h.8M96.6 278.1h.8M107.4 279.1h.8M73.6 292.1h.8M117.1 284.8h.8M94.7 286.4h.8M81.9 282.8h.8M96.7 287.0h.8M67.6 282.3h.8M95.4 293.5h.8M94.2 289.3h.8M63.6 291.3h.8M64.4 288.1h.8M76.4 278.4h.8M86.4 301.7h.8M95.7 282.3h.8M87.9 286.8h.8M79.1 281.0h.8M98.3 286.5h.8M96.9 281.8h.8M91.9 289.5h.8M85.4 295.9h.8M75.7 283.7h.8M89.4 286.1h.8M107.2 288.6h.8M97.8 285.8h.8M103.4 291.1h.8M71.8 295.5h.8M95.2 276.7h.8M75.0 294.2h.8M98.0 283.4h.8M96.4 285.7h.8M96.6 280.6h.8M105.0 296.3h.8M87.3 286.7h.8M104.5 290.5h.8M94.4 287.6h.8M83.8 288.9h.8M88.7 290.8h.8M100.5 295.1h.8M84.8 298.3h.8M100.0 285.3h.8M95.6 281.3h.8M83.9 293.6h.8M63.6 291.1h.8M92.8 288.2h.8M101.9 297.5h.8M85.6 280.4h.8M100.7 275.7h.8M80.3 289.1h.8M104.5 288.2h.8M109.2 282.3h.8M96.0 279.8h.8M98.3 283.0h.8M74.7 288.7h.8M107.7 285.9h.8M83.8 288.2h.8M99.8 285.7h.8M113.5 292.8h.8M97.6 285.9h.8M96.7 285.2h.8M98.5 279.7h.8M85.4 292.9h.8M85.5 281.1h.8M105.4 278.0h.8M83.6 292.7h.8M89.1 282.7h.8M74.7 291.1h.8M95.7 288.3h.8M79.5 283.0h.8M91.1 291.7h.8M89.9 284.7h.8M92.9 299.4h.8M83.8 279.9h.8M89.7 284.2h.8M104.7 278.2h.8M102.8 296.4h.8M99.6 283.8h.8M99.0 287.9h.8M71.0 291.4h.8M90.8 274.7h.8M96.6 286.6h.8M96.5 289.5h.8M99.4 289.5h.8M75.9 284.6h.8M97.9 286.3h.8M86.2 275.5h.8M96.7 281.7h.8M109.8 282.6h.8M99.1 289.2h.8M93.3 279.1h.8M81.7 284.1h.8M103.0 276.9h.8M66.4 285.8h.8M82.8 293.8h.8M63.9 288.7h.8M91.1 288.5h.8M82.5 278.6h.8M86.1 280.2h.8M79.3 290.3h.8M112.4 288.0h.8M101.3 303.0h.8M100.7 292.7h.8M84.1 290.8h.8M101.1 290.0h.8M93.2 291.0h.8M88.8 289.0h.8M72.0 280.5h.8M94.5 290.6h.8M63.9 291.2h.8M82.6 282.5h.8M62.7 285.9h.8M97.2 284.5h.8M98.9 286.3h.8M101.7 288.9h.8M73.9 280.5h.8M103.5 286.5h.8M112.4 278.1h.8M85.9 293.5h.8M80.5 288.4h.8M84.7 289.3h.8M84.9 284.3h.8M101.8 289.0h.8M84.9 275.4h.8M97.3 285.9h.8M92.9 286.3h.8M79.9 284.5h.8M93.7 280.8h.8M93.6 296.3h.8M94.8 289.9h.8M96.2 288.5h.8M88.7 284.8h.8M97.4 300.3h.8M68.8 288.6h.8M85.8 280.8h.8M105.6 293.9h.8M96.4 294.6h.8M89.0 279.0h.8M82.2 296.2h.8M84.3 287.8h.8M91.0 295.6h.8M67.3 283.4h.8M87.8 294.6h.8M90.0 280.3h.8M64.0 280.8h.8M68.4 285.2h.8M91.1 283.5h.8M88.2 279.8h.8M110.6 283.2h.8M112.5 281.7h.8M83.2 284.4h.8M104.5 284.3h.8M96.5 293.6h.8M106.9 282.0h.8M105.1 291.6h.8M91.3 291.6h.8M104.1 292.5h.8M92.1 287.3h.8M75.7 283.4h.8M94.8 280.2h.8M105.7 293.4h.8M101.5 287.8h.8M87.9 284.4h.8M107.2 278.8h.8M106.3 290.8h.8M106.5 291.1h.8M66.9 288.6h.8M81.7 279.8h.8M84.7 291.2h.8M83.6 291.2h.8M63.9 278.8h.8M85.3 291.3h.8M104.3 292.8h.8M79.1 287.4h.8M114.1 281.5h.8M79.3 296.8h.8M97.2 280.6h.8M90.4 290.3h.8M76.3 293.0h.8M95.8 290.0h.8M95.0 272.5h.8M92.0 284.3h.8M104.9 285.8h.8M100.9 283.0h.8M71.6 294.4h.8M106.0 286.3h.8M80.7 296.2h.8M66.8 289.2h.8M101.4 271.6h.8M104.4 279.4h.8M80.9 296.4h.8M94.0 276.4h.8M83.5 293.2h.8M99.5 290.8h.8M86.5 296.1h.8M96.0 292.7h.8M75.9 286.1h.8M98.9 290.2h.8M94.1 288.7h.8M118.0 290.8h.8M106.3 280.1h.8M85.6 289.5h.8M75.7 299.9h.8M100.4 288.1h.8M81.3 287.0h.8M100.7 290.3h.8M103.6 294.5h.8M107.9 281.7h.8M108.0 281.0h.8M105.2 291.4h.8M93.3 288.3h.8M92.9 287.4h.8M95.5 287.7h.8M109.0 277.9h.8M88.3 283.3h.8M93.6 289.3h.8M101.8 293.8h.8M76.6 288.1h.8M88.2 291.4h.8M94.0 290.2h.8M87.8 283.4h.8M72.6 296.6h.8M102.8 288.0h.8M78.4 292.3h.8M74.0 294.3h.8M84.0 299.4h.8M63.4 287.5h.8M75.2 289.9h.8M73.3 303.1h.8M106.6 294.1h.8M85.7 284.8h.8M92.9 307.8h.8M97.3 298.9h.8M97.4 296.3h.8M111.0 290.7h.8M91.2 306.7h.8M100.8 286.6h.8M78.0 292.8h.8M80.5 303.5h.8M92.5 294.5h.8M81.8 292.2h.8M91.2 301.9h.8M82.5 299.6h.8M97.1 295.1h.8M89.2 288.0h.8M81.8 296.4h.8M89.0 291.2h.8M87.4 302.2h.8M98.2 292.5h.8M100.6 307.6h.8M73.8 315.3h.8M106.8 313.6h.8M87.6 296.9h.8M83.9 293.0h.8M95.0 288.1h.8M101.3 291.2h.8M82.6 294.6h.8M87.5 275.0h.8M72.8 289.5h.8M99.6 286.3h.8M94.0 286.3h.8M93.5 292.2h.8M86.8 314.5h.8M92.2 290.0h.8M64.9 317.3h.8M90.3 290.1h.8M117.1 289.1h.8M76.6 299.8h.8M96.5 298.3h.8M63.9 309.9h.8M90.6 296.4h.8M78.2 300.2h.8M95.8 293.2h.8M66.4 285.8h.8M76.8 297.8h.8M77.9 311.7h.8M89.7 302.3h.8M96.7 296.0h.8M82.5 293.5h.8M85.2 290.5h.8M86.2 314.0h.8M106.3 297.1h.8M85.5 294.5h.8M101.2 285.9h.8M86.6 289.6h.8M87.4 293.0h.8M82.9 301.8h.8M90.7 300.1h.8M75.0 272.1h.8M81.4 290.1h.8M87.1 305.5h.8M88.4 305.7h.8M103.2 311.1h.8M87.5 306.2h.8M98.5 301.1h.8M113.8 293.8h.8M91.9 299.2h.8M82.9 300.7h.8M80.4 297.1h.8M121.3 297.7h.8M67.5 297.1h.8M94.2 298.6h.8M86.4 299.3h.8M109.7 299.0h.8M95.0 292.8h.8M89.2 293.0h.8M77.7 301.9h.8M76.0 287.3h.8M85.9 293.5h.8M75.9 299.4h.8M108.6 311.2h.8M75.2 291.7h.8M110.4 281.1h.8M85.1 289.4h.8M108.5 307.3h.8M93.9 291.0h.8M81.4 306.7h.8M95.1 278.2h.8M95.1 283.2h.8M107.7 291.9h.8M68.2 298.1h.8M92.1 308.1h.8M110.0 283.1h.8M111.4 295.3h.8M73.4 303.1h.8M102.5 303.9h.8M105.9 296.6h.8M109.6 299.3h.8M104.5 292.3h.8M89.8 302.3h.8M78.0 304.7h.8M85.6 295.2h.8M67.2 307.3h.8M106.0 296.1h.8M92.9 289.7h.8M97.7 301.5h.8M115.7 306.0h.8M98.3 295.1h.8M79.5 299.3h.8M74.2 292.2h.8M76.7 300.9h.8M93.8 288.9h.8M86.4 287.8h.8M94.2 310.3h.8M80.1 300.9h.8M103.7 286.1h.8M63.9 293.4h.8M77.4 288.9h.8M122.0 302.1h.8M102.2 291.0h.8M103.9 286.0h.8M95.4 292.8h.8M99.0 277.3h.8M84.1 292.7h.8M80.0 281.7h.8M112.0 288.3h.8M75.0 302.2h.8M107.6 307.9h.8M63.0 302.8h.8M86.2 303.0h.8M86.9 275.5h.8M78.1 288.6h.8M73.4 302.3h.8M92.9 303.0h.8M101.6 293.2h.8M78.9 289.3h.8M96.7 302.9h.8M76.0 286.5h.8M84.9 291.2h.8M89.8 286.1h.8M116.6 278.1h.8M100.2 297.2h.8M78.8 305.3h.8M96.9 301.0h.8M70.3 289.3h.8M81.9 301.6h.8M109.3 286.9h.8M94.7 270.3h.8M102.0 291.7h.8M92.1 300.4h.8M62.8 281.5h.8M88.6 293.0h.8M107.5 296.6h.8M87.0 298.5h.8M100.2 309.6h.8M95.3 287.8h.8M85.1 288.9h.8M71.0 297.9h.8M115.7 305.5h.8M82.8 297.6h.8M104.0 292.1h.8M75.0 293.8h.8M99.6 309.4h.8M68.1 302.9h.8M97.5 301.5h.8M80.6 298.1h.8M76.3 305.7h.8M89.9 302.0h.8M95.7 299.1h.8M114.7 293.0h.8M92.6 294.4h.8M101.2 298.8h.8M75.0 281.1h.8M87.5 289.5h.8M100.2 286.3h.8M106.3 300.0h.8M105.3 310.1h.8M101.3 303.9h.8M78.5 297.7h.8M103.7 284.2h.8M99.4 312.8h.8M75.2 301.1h.8M71.3 306.4h.8M82.2 299.2h.8M89.8 302.4h.8M89.2 307.0h.8M73.6 292.4h.8M74.5 302.6h.8M70.9 277.2h.8M95.9 304.8h.8M109.3 302.5h.8M133.3 296.7h.8M99.0 304.8h.8M94.9 300.9h.8M95.4 297.7h.8M82.1 290.1h.8M89.3 297.4h.8M76.4 291.4h.8M104.5 305.7h.8M80.6 294.4h.8M96.4 299.0h.8M101.8 300.9h.8M71.1 299.4h.8M78.2 297.7h.8M94.5 298.5h.8M93.8 292.9h.8M80.3 300.7h.8M98.9 299.2h.8M106.1 294.9h.8M93.9 292.0h.8M82.7 313.2h.8M109.8 295.5h.8M82.6 311.0h.8M83.8 306.1h.8M104.9 290.4h.8M96.4 299.3h.8M69.0 293.7h.8M92.7 296.1h.8M120.9 298.7h.8M75.7 312.0h.8M94.6 293.3h.8M63.0 308.1h.8M78.7 289.7h.8M92.1 298.2h.8M98.7 301.0h.8M127.4 298.4h.8M100.6 280.1h.8M89.4 294.1h.8M116.4 285.2h.8M88.5 298.7h.8M94.4 297.2h.8M105.2 290.4h.8M95.3 306.3h.8M79.9 304.2h.8M105.4 292.7h.8M90.4 297.4h.8M95.9 306.5h.8M79.7 294.5h.8M91.5 283.5h.8M96.9 307.1h.8M116.6 301.7h.8M85.0 279.9h.8M87.6 297.6h.8M105.7 295.9h.8M90.3 302.8h.8M83.6 299.2h.8M95.1 298.9h.8M78.6 308.8h.8M84.7 290.6h.8M88.6 293.3h.8M81.5 293.7h.8M83.6 298.4h.8M109.0 294.1h.8M63.6 293.8h.8M88.6 289.0h.8M86.2 289.4h.8M106.3 298.4h.8M94.6 290.8h.8M97.7 296.1h.8M104.8 305.2h.8M100.6 300.7h.8M75.4 306.4h.8M79.3 280.7h.8M92.9 290.9h.8M103.4 293.6h.8M87.3 297.9h.8M85.9 297.1h.8M97.2 291.2h.8M109.5 301.7h.8M92.1 299.3h.8M103.5 286.7h.8M110.0 300.3h.8M102.2 286.5h.8M96.0 312.2h.8M99.3 294.5h.8M90.7 296.2h.8M127.8 304.3h.8M86.8 288.6h.8M82.5 282.1h.8M89.4 292.3h.8M87.7 308.9h.8M85.8 302.9h.8M115.8 286.7h.8M109.3 290.6h.8M77.2 307.2h.8M90.3 313.0h.8M90.1 286.6h.8M63.5 294.3h.8M85.4 295.9h.8M92.8 280.3h.8M92.8 300.9h.8M82.5 303.4h.8M97.9 298.6h.8M63.7 290.0h.8M81.2 295.4h.8M113.8 301.0h.8M75.5 292.2h.8M85.5 293.2h.8M118.8 294.4h.8M83.9 305.2h.8M77.7 308.2h.8M109.8 302.5h.8M103.8 296.2h.8M111.3 299.5h.8M92.0 299.5h.8M91.5 289.2h.8M64.1 307.3h.8M85.1 290.6h.8M111.4 297.8h.8M101.5 287.7h.8M84.8 291.6h.8M85.7 304.0h.8M117.9 291.6h.8M94.9 283.9h.8M89.7 277.1h.8M101.8 287.6h.8M98.6 290.7h.8M86.8 295.7h.8M68.1 285.6h.8M105.6 294.7h.8M91.5 288.9h.8M68.9 298.7h.8M121.6 296.0h.8M104.1 289.7h.8M74.0 289.1h.8M99.8 294.2h.8M82.4 297.2h.8M86.3 290.2h.8M83.6 301.4h.8M87.9 290.9h.8M85.6 286.0h.8M125.4 300.7h.8M111.8 284.2h.8M66.8 308.5h.8M105.6 293.2h.8M86.8 294.6h.8M82.8 311.1h.8M84.3 286.7h.8M101.5 306.0h.8M74.9 297.4h.8M104.8 298.4h.8M91.2 306.7h.8M112.7 310.6h.8M92.7 300.6h.8M105.5 300.3h.8M63.7 294.5h.8M91.7 286.9h.8M92.5 285.3h.8M78.5 304.5h.8M100.8 296.3h.8M116.8 288.5h.8M73.4 293.8h.8M73.3 300.0h.8M99.8 293.8h.8M85.6 299.1h.8M116.4 302.2h.8M93.8 307.0h.8M105.4 286.5h.8M69.8 293.2h.8M93.4 297.5h.8M87.1 296.7h.8M99.8 301.4h.8M104.6 281.2h.8M83.7 286.9h.8M76.2 305.1h.8M71.9 311.6h.8M108.1 295.9h.8M78.6 286.1h.8M103.9 282.1h.8M85.5 301.9h.8M94.8 311.6h.8M85.2 304.4h.8M92.7 292.1h.8M77.2 300.3h.8M74.4 281.7h.8M108.6 288.8h.8M97.4 293.5h.8M70.0 289.4h.8M82.0 282.6h.8M88.8 306.0h.8M82.5 301.4h.8M97.5 283.6h.8M103.6 316.9h.8M99.8 311.3h.8M70.0 297.3h.8M63.1 297.3h.8M90.3 281.1h.8M94.0 307.0h.8M94.7 293.5h.8M86.2 305.2h.8M77.3 299.4h.8M83.4 295.0h.8M81.8 292.7h.8M102.6 282.5h.8M90.0 297.5h.8M93.5 295.7h.8M85.0 290.4h.8M101.8 274.6h.8M106.4 284.9h.8M82.3 298.0h.8M80.2 301.1h.8M87.7 313.3h.8M91.6 285.9h.8M100.8 289.5h.8M87.2 297.8h.8M88.7 293.0h.8M119.1 284.9h.8M110.2 302.3h.8M131.5 302.6h.8M80.9 291.0h.8M93.4 290.2h.8M85.7 309.7h.8M89.3 293.2h.8M71.6 282.8h.8M69.6 297.7h.8M89.3 277.1h.8M86.0 295.7h.8M83.4 293.3h.8M90.1 293.3h.8M72.5 292.7h.8M78.8 308.2h.8M94.3 288.5h.8M92.2 290.1h.8M82.1 295.8h.8M137.6 295.7h.8M115.6 295.7h.8M94.5 297.7h.8M77.6 293.1h.8M64.6 286.1h.8M79.2 292.0h.8M98.3 305.2h.8M77.3 298.5h.8M103.6 302.7h.8M92.0 287.1h.8M87.9 309.1h.8M85.1 304.9h.8M89.8 290.4h.8M65.7 288.1h.8M76.7 292.9h.8M98.3 311.4h.8M82.2 309.2h.8M79.1 275.5h.8M76.9 307.3h.8M102.9 308.9h.8M97.9 290.3h.8M80.3 301.8h.8M112.9 293.8h.8M91.2 299.8h.8M101.3 303.0h.8M91.5 291.4h.8M92.8 278.8h.8M85.1 305.3h.8M80.2 299.1h.8M81.7 279.9h.8M84.6 306.3h.8M80.6 305.9h.8M95.5 283.9h.8M72.7 299.7h.8M89.7 290.4h.8M71.6 296.0h.8M123.6 306.9h.8M86.2 299.4h.8M88.3 299.0h.8M105.9 293.1h.8M86.3 302.5h.8M80.5 302.4h.8M93.4 307.0h.8M102.9 309.3h.8M100.9 291.2h.8M103.5 298.8h.8M88.8 280.7h.8M103.3 307.2h.8M81.0 284.0h.8M100.3 300.1h.8M100.0 281.4h.8M119.6 298.4h.8M79.5 278.9h.8M114.6 298.7h.8M100.8 300.1h.8M88.3 289.4h.8M90.6 307.0h.8M111.3 302.5h.8M79.8 285.4h.8M96.3 287.8h.8M118.8 308.6h.8M72.9 283.0h.8M78.5 307.8h.8M74.6 300.1h.8M96.1 284.3h.8M130.2 249.0h.8M150.2 242.2h.8M147.0 251.1h.8M142.2 245.8h.8M159.0 239.2h.8M156.5 239.4h.8M131.5 245.1h.8M131.5 248.5h.8M133.6 246.5h.8M134.8 247.9h.8M135.2 244.1h.8M152.0 246.2h.8M115.5 254.3h.8M161.5 245.9h.8M153.1 246.4h.8M136.7 242.6h.8M155.1 242.9h.8M150.9 239.6h.8M138.4 249.9h.8M163.8 242.2h.8M142.5 245.2h.8M142.8 244.3h.8M151.7 237.8h.8M134.9 247.6h.8M161.7 255.2h.8M162.5 242.8h.8M132.3 242.8h.8M156.3 245.3h.8M163.0 239.6h.8M145.7 244.3h.8M162.6 240.3h.8M164.8 238.8h.8M149.1 248.9h.8M161.2 235.6h.8M162.2 239.2h.8M143.7 249.1h.8M140.8 251.6h.8M170.5 241.3h.8M136.3 254.4h.8M164.2 250.9h.8M143.2 234.0h.8M153.9 235.6h.8M146.4 243.5h.8M138.0 238.9h.8M152.9 247.5h.8M153.3 243.8h.8M137.1 242.7h.8M150.9 244.5h.8M139.4 249.0h.8M148.5 250.1h.8M132.2 240.1h.8M134.0 253.8h.8M166.2 237.5h.8M159.6 237.9h.8M143.3 248.4h.8M150.0 244.4h.8M147.2 238.4h.8M146.2 243.4h.8M165.2 236.5h.8M149.7 246.7h.8M138.4 256.8h.8M126.1 243.9h.8M126.0 256.5h.8M166.3 239.8h.8M151.5 238.2h.8M157.6 252.1h.8M153.0 244.1h.8M137.7 247.8h.8M138.7 242.8h.8M142.8 251.4h.8M117.8 248.2h.8M122.7 249.4h.8M138.1 248.8h.8M132.3 254.3h.8M140.2 249.3h.8M150.8 245.3h.8M169.9 239.7h.8M162.0 237.6h.8M134.1 252.2h.8M132.2 254.4h.8M150.4 247.0h.8M142.1 249.6h.8M147.6 244.1h.8M146.4 245.4h.8M152.0 237.6h.8M119.7 256.6h.8M147.0 255.3h.8M123.2 243.6h.8M156.7 236.7h.8M139.3 248.2h.8M135.7 251.3h.8M153.5 238.2h.8M154.8 244.2h.8M145.2 245.6h.8M156.8 239.9h.8M129.9 246.9h.8M150.4 244.3h.8M152.1 241.9h.8M141.8 251.2h.8M155.9 246.4h.8M155.3 233.8h.8M167.0 244.6h.8M140.6 240.0h.8M132.7 238.8h.8M137.1 251.8h.8M150.6 242.6h.8M149.7 244.3h.8M147.4 246.6h.8M131.6 241.8h.8M143.4 254.5h.8M159.7 237.0h.8M155.3 255.1h.8M134.2 249.2h.8M150.7 246.1h.8M138.3 246.3h.8M146.7 244.0h.8M136.7 241.9h.8M138.4 245.2h.8M137.3 243.4h.8M141.0 247.3h.8M133.2 242.8h.8M156.4 245.9h.8M142.4 241.3h.8M153.5 241.1h.8M145.6 249.5h.8M143.4 244.7h.8M127.0 253.4h.8M128.9 248.9h.8M141.1 238.7h.8M128.9 242.3h.8M153.0 238.1h.8M138.6 236.1h.8M132.1 247.4h.8M141.4 250.5h.8M148.7 249.4h.8M141.4 238.7h.8M169.5 238.1h.8M159.1 239.6h.8M144.3 235.8h.8M136.1 236.1h.8M126.6 247.6h.8M150.8 244.7h.8M157.9 240.2h.8M143.1 237.5h.8M135.1 253.6h.8M143.4 245.9h.8M135.6 246.7h.8M143.5 240.7h.8M151.4 238.9h.8M141.4 255.9h.8M150.9 254.1h.8M156.5 246.4h.8M131.3 243.6h.8M132.1 237.7h.8M145.7 243.6h.8M108.9 248.1h.8M157.1 242.2h.8M139.9 249.2h.8M146.2 239.9h.8M153.7 242.8h.8M121.1 248.5h.8M159.1 241.1h.8M152.0 233.8h.8M113.6 245.7h.8M130.7 245.7h.8M172.4 235.6h.8M153.4 246.1h.8M159.3 247.0h.8M144.2 243.8h.8M158.8 253.0h.8M123.0 253.4h.8M133.7 251.4h.8M167.4 238.6h.8M157.5 240.8h.8M141.8 247.3h.8M152.9 237.0h.8M135.9 247.1h.8M127.5 242.2h.8M156.2 240.3h.8M140.8 252.0h.8M147.4 244.0h.8M152.1 242.3h.8M150.3 247.2h.8M160.3 234.5h.8M138.4 248.1h.8M139.0 245.6h.8M154.9 241.3h.8M159.8 242.3h.8M130.3 248.9h.8M125.2 250.2h.8M135.9 236.6h.8M146.9 240.4h.8M148.3 247.8h.8M131.0 241.3h.8M148.5 250.5h.8M165.7 239.4h.8M116.0 244.6h.8M148.6 259.6h.8M146.9 247.9h.8M139.6 250.5h.8M152.0 239.6h.8M155.5 243.8h.8M128.9 241.2h.8M146.5 244.7h.8M153.5 243.6h.8M143.1 250.2h.8M150.8 244.3h.8M152.7 247.9h.8M161.0 245.4h.8M153.5 253.8h.8M154.2 247.3h.8M162.6 239.2h.8M147.4 247.5h.8M167.2 234.1h.8M129.1 247.0h.8M149.0 247.1h.8M148.9 247.0h.8M149.0 243.9h.8M137.1 241.7h.8M150.3 244.4h.8M133.0 237.5h.8M139.7 251.0h.8M133.3 250.5h.8M155.5 236.5h.8M146.4 245.2h.8M132.0 247.7h.8M124.4 247.1h.8M142.2 250.0h.8M146.0 244.7h.8M170.1 230.6h.8M158.0 231.4h.8M125.1 256.6h.8M160.2 242.0h.8M153.2 237.7h.8M173.5 232.5h.8M161.4 250.6h.8M162.9 245.0h.8M138.9 237.1h.8M133.6 243.8h.8M151.4 241.3h.8M153.1 245.9h.8M159.0 238.8h.8M119.3 252.2h.8M138.8 245.1h.8M126.6 241.9h.8M157.9 243.1h.8M152.3 243.9h.8M157.6 239.5h.8M145.7 237.7h.8M118.6 247.6h.8M146.9 235.5h.8M150.4 237.9h.8M138.7 245.3h.8M150.2 239.0h.8M143.3 245.0h.8M152.6 238.0h.8M134.3 253.8h.8M126.6 252.1h.8M156.8 243.0h.8M127.5 242.2h.8M133.0 245.6h.8M149.4 244.7h.8M140.0 235.7h.8M159.0 246.2h.8M144.0 244.8h.8M155.0 238.6h.8M133.7 248.7h.8M137.4 251.4h.8M147.8 242.8h.8M138.6 248.2h.8M119.7 252.5h.8M156.4 241.1h.8M170.1 237.2h.8M135.6 250.3h.8M125.4 254.6h.8M167.8 239.8h.8M145.5 241.2h.8M159.4 247.4h.8M146.9 241.8h.8M162.3 239.6h.8M135.7 247.7h.8M171.7 243.5h.8M133.3 246.5h.8M156.3 235.2h.8M156.9 239.7h.8M129.6 251.4h.8M154.3 246.5h.8M139.3 250.0h.8M151.8 241.8h.8M154.1 241.8h.8M119.6 253.8h.8M156.5 239.4h.8M129.3 254.5h.8M156.1 236.1h.8M161.7 249.2h.8M134.8 241.3h.8M122.4 249.9h.8M151.6 241.9h.8M158.4 236.2h.8M136.6 251.7h.8M141.1 247.7h.8M148.6 246.6h.8M161.7 249.2h.8M133.5 253.3h.8M139.8 249.5h.8M139.7 248.4h.8M129.1 251.9h.8M137.4 248.1h.8M146.9 242.1h.8M149.0 247.8h.8M165.9 233.4h.8M155.3 237.2h.8M136.6 246.9h.8M142.5 244.9h.8M140.6 248.9h.8M103.9 250.0h.8M155.1 243.3h.8M153.8 241.5h.8M141.1 254.7h.8M167.1 237.2h.8M138.3 249.5h.8M133.5 247.1h.8M132.6 254.0h.8M151.2 243.4h.8M161.8 238.4h.8M160.1 237.6h.8M126.1 242.2h.8M152.4 232.7h.8M117.9 253.6h.8M145.0 235.7h.8M119.2 243.9h.8M148.4 243.0h.8M152.0 237.1h.8M166.5 239.7h.8M140.0 243.8h.8M155.6 232.2h.8M142.9 248.6h.8M145.6 244.5h.8M126.0 247.8h.8M121.9 239.4h.8M170.1 239.6h.8M132.5 246.2h.8M141.5 250.0h.8M145.3 248.0h.8M139.5 253.7h.8M150.4 238.0h.8M157.3 248.6h.8M153.3 249.3h.8M161.7 238.3h.8M148.6 242.1h.8M157.3 241.7h.8M154.1 243.8h.8M141.7 248.3h.8M157.9 241.7h.8M138.8 238.6h.8M129.3 250.8h.8M153.0 241.3h.8M164.9 242.5h.8M129.8 251.7h.8M156.2 235.3h.8M154.6 235.5h.8M136.7 246.2h.8M134.7 246.0h.8M109.0 254.1h.8M140.1 240.4h.8M156.0 246.6h.8M160.9 243.8h.8M175.8 231.3h.8M151.2 255.0h.8M139.7 244.9h.8M160.4 244.4h.8M159.9 246.5h.8M114.9 249.8h.8M149.2 238.8h.8M138.7 245.9h.8M172.4 234.8h.8M150.8 241.6h.8M157.5 243.8h.8M138.2 243.3h.8M144.0 248.4h.8M119.7 252.7h.8M141.6 248.6h.8M171.9 246.3h.8M152.2 251.2h.8M137.1 248.1h.8M133.3 247.2h.8M156.7 246.1h.8M149.1 249.0h.8M142.9 237.9h.8M138.3 250.2h.8M157.1 243.1h.8M122.1 252.2h.8M137.1 257.0h.8M139.0 258.0h.8M137.7 240.1h.8M158.3 246.1h.8M157.7 247.4h.8M136.4 242.4h.8M153.8 244.6h.8M139.9 251.8h.8M134.6 248.4h.8M136.6 251.3h.8M137.6 240.4h.8M149.5 245.8h.8M143.0 241.9h.8M130.7 255.4h.8M120.9 242.1h.8M148.7 241.6h.8M157.3 238.0h.8M134.5 240.4h.8M152.1 251.8h.8M160.9 246.3h.8M138.3 246.2h.8M159.2 239.6h.8M139.5 244.3h.8M141.6 242.0h.8M131.1 250.9h.8M135.8 249.4h.8M139.4 251.2h.8M172.4 241.1h.8M134.6 248.2h.8M146.9 237.3h.8M143.6 250.5h.8M139.9 248.7h.8M137.6 250.4h.8M140.1 255.2h.8M132.4 245.3h.8M127.3 236.8h.8M136.4 246.3h.8M160.9 247.4h.8M144.5 247.3h.8M136.0 249.6h.8M161.5 239.6h.8M145.2 247.4h.8M144.5 244.5h.8M136.4 256.5h.8M156.6 243.9h.8M138.7 236.7h.8M130.0 241.4h.8M114.9 248.6h.8M128.9 248.8h.8M145.4 252.0h.8M137.8 251.6h.8M132.3 244.2h.8M145.4 245.7h.8M141.5 247.6h.8M129.1 239.2h.8M140.7 258.6h.8M143.5 241.8h.8M130.9 252.8h.8M147.8 247.6h.8M173.6 229.5h.8M140.3 253.5h.8M158.9 249.2h.8M146.0 245.2h.8M136.8 256.9h.8M150.1 246.8h.8M152.2 247.7h.8M160.0 248.3h.8M161.3 232.9h.8M162.3 247.1h.8M139.4 247.6h.8M136.5 248.4h.8M157.7 235.2h.8M122.3 255.7h.8M153.4 245.8h.8M152.8 240.3h.8M149.4 244.4h.8M121.8 256.5h.8M132.0 251.8h.8M119.7 247.4h.8M156.3 241.3h.8M133.6 259.5h.8M139.8 239.2h.8M150.9 244.5h.8M156.9 246.9h.8M132.8 253.9h.8M138.3 241.6h.8M143.1 251.6h.8M154.1 245.2h.8M151.8 243.9h.8M165.6 250.8h.8M137.0 255.3h.8M130.5 252.1h.8M129.8 251.2h.8M149.0 239.4h.8M146.3 241.0h.8M155.4 239.8h.8M132.4 254.8h.8M121.9 241.9h.8M132.4 248.5h.8M136.1 238.7h.8M156.9 238.9h.8M139.6 237.6h.8M151.2 239.3h.8M147.5 251.2h.8M142.4 247.8h.8M143.3 249.2h.8M127.2 248.2h.8M152.5 241.6h.8M163.3 242.4h.8M147.9 248.7h.8M130.2 241.9h.8M137.9 250.2h.8M130.0 248.2h.8M147.7 251.3h.8M134.3 248.2h.8M147.4 244.5h.8M158.8 241.9h.8M136.6 241.7h.8M106.3 255.2h.8M158.7 237.2h.8M143.9 247.8h.8M145.5 248.4h.8M180.9 238.3h.8M131.4 253.5h.8M145.5 244.3h.8M131.5 247.0h.8M149.5 236.4h.8M164.7 239.2h.8M137.6 247.4h.8M149.2 254.2h.8M137.9 239.3h.8M134.0 250.5h.8M159.8 239.9h.8M137.1 249.0h.8M133.4 256.9h.8M152.0 240.8h.8M154.3 250.1h.8M152.9 235.9h.8M128.4 246.2h.8M125.8 250.4h.8M152.1 238.0h.8M166.8 236.8h.8M130.4 243.8h.8M147.3 257.3h.8M143.0 247.2h.8M148.3 244.9h.8M165.8 243.5h.8M139.4 238.5h.8M149.2 246.3h.8M148.3 244.7h.8M139.2 247.0h.8M154.6 242.9h.8M155.0 242.5h.8M145.6 244.5h.8M157.9 239.9h.8M135.1 245.6h.8M142.5 238.2h.8M135.1 245.3h.8M150.7 238.8h.8M145.6 242.6h.8M156.6 234.6h.8M159.0 244.6h.8M154.8 245.8h.8M152.5 239.5h.8M152.3 235.5h.8M166.5 245.4h.8M123.5 251.8h.8M154.5 245.3h.8M145.8 248.0h.8M128.4 249.4h.8M139.2 244.3h.8M132.6 253.4h.8M147.9 237.0h.8M151.3 252.8h.8M147.5 244.4h.8M130.8 247.5h.8M135.8 240.3h.8M143.9 245.1h.8M135.6 243.7h.8M132.0 247.8h.8M123.2 256.6h.8M142.0 251.3h.8M155.7 242.6h.8M139.9 244.8h.8M147.1 241.1h.8M127.3 255.0h.8M136.0 240.8h.8M165.2 240.5h.8M127.1 236.7h.8M175.0 230.7h.8M138.1 248.4h.8M123.2 247.5h.8M143.5 245.2h.8M145.5 244.6h.8M152.4 250.7h.8M157.3 236.2h.8M140.1 259.3h.8M151.7 241.4h.8M152.4 246.4h.8M156.9 245.0h.8M167.2 251.3h.8M155.9 240.3h.8M146.4 244.6h.8M148.6 240.8h.8M154.9 246.3h.8M128.2 251.3h.8M155.9 235.4h.8M143.5 234.3h.8M137.4 243.6h.8M159.2 244.9h.8M158.7 237.1h.8M129.8 240.4h.8M140.3 244.2h.8M136.9 243.0h.8M120.2 253.6h.8M155.1 243.2h.8M145.9 244.0h.8M123.1 245.4h.8M154.4 239.3h.8M164.1 242.5h.8M137.9 249.5h.8M140.4 250.9h.8M146.5 246.3h.8M164.3 245.6h.8M133.3 238.3h.8M153.1 244.4h.8M159.5 240.5h.8M145.8 241.3h.8M144.3 252.7h.8M136.2 247.8h.8M137.1 242.9h.8M142.4 251.5h.8M130.1 246.8h.8M149.6 239.2h.8M176.1 241.1h.8M155.7 244.9h.8M135.3 242.2h.8M143.2 251.2h.8M139.8 254.5h.8M124.6 254.0h.8M173.2 236.1h.8M113.4 257.9h.8M138.8 252.3h.8M141.7 246.5h.8M133.1 253.0h.8M158.9 238.8h.8M134.5 246.2h.8M130.8 248.2h.8M148.8 243.2h.8M144.7 241.2h.8M117.8 241.2h.8M137.1 251.6h.8M140.8 237.9h.8M175.8 238.9h.8M145.6 250.0h.8M180.6 235.4h.8M134.4 251.2h.8M134.4 257.4h.8M153.0 247.1h.8M165.1 247.2h.8M120.0 254.7h.8M147.9 249.8h.8M128.5 247.8h.8M151.0 248.1h.8M132.8 246.7h.8M150.2 235.5h.8M145.0 253.8h.8M132.7 250.2h.8M165.5 242.4h.8M155.9 241.6h.8M135.8 248.4h.8M129.6 234.6h.8M137.6 241.4h.8M132.1 251.3h.8M138.5 242.9h.8M162.8 238.5h.8M126.1 247.5h.8M151.7 237.3h.8M159.0 235.9h.8M137.8 249.9h.8M155.3 250.5h.8M159.0 243.0h.8M178.7 238.2h.8M138.4 243.3h.8M149.8 243.7h.8M138.8 255.8h.8M129.7 247.7h.8M156.5 246.6h.8M164.4 238.1h.8M132.0 253.7h.8M136.6 247.4h.8M120.1 251.5h.8M146.4 245.0h.8M157.0 238.0h.8M137.3 241.0h.8M148.7 247.6h.8M139.2 250.1h.8M132.9 249.0h.8M138.4 242.3h.8M162.6 243.3h.8M164.6 247.4h.8M144.1 248.5h.8M137.3 240.2h.8M121.8 249.5h.8M156.9 241.9h.8M158.7 244.7h.8M134.0 249.7h.8M149.0 239.3h.8M149.0 241.7h.8M150.0 238.0h.8M170.4 236.5h.8M141.6 248.5h.8M160.2 239.2h.8M163.8 240.9h.8M159.1 238.9h.8M147.9 243.7h.8M154.0 235.9h.8M146.6 246.7h.8M166.3 239.3h.8M169.3 242.8h.8M134.9 247.2h.8M152.6 239.1h.8M144.9 250.3h.8M137.8 252.2h.8M133.2 249.2h.8M154.1 244.8h.8M140.3 243.8h.8M156.7 240.4h.8M142.5 249.5h.8M160.7 240.3h.8M145.5 244.4h.8M125.4 243.9h.8M155.6 255.2h.8M154.5 246.9h.8M122.1 247.6h.8M154.8 253.4h.8M151.8 241.0h.8M149.5 247.5h.8M144.1 237.8h.8M170.7 241.8h.8M151.3 249.6h.8M118.8 241.9h.8M146.4 243.7h.8M150.8 234.0h.8M147.5 243.9h.8M156.9 236.8h.8M142.7 244.9h.8M138.7 244.1h.8M127.1 252.0h.8M151.1 235.8h.8M160.4 244.7h.8M144.7 241.2h.8M136.4 250.3h.8M138.8 242.3h.8M146.6 249.9h.8M126.3 252.8h.8M145.0 251.0h.8M117.3 247.9h.8M134.2 251.4h.8M157.8 235.4h.8M154.6 243.9h.8M144.1 248.4h.8M151.6 245.5h.8M150.4 249.2h.8M124.8 244.2h.8M137.5 249.4h.8M168.3 238.0h.8M142.7 237.6h.8M149.0 244.2h.8M137.6 239.8h.8M140.1 245.5h.8M145.9 237.0h.8M140.1 240.5h.8M140.4 246.5h.8M173.5 241.2h.8M134.7 240.3h.8M164.6 234.3h.8M109.1 253.5h.8M141.3 245.8h.8M171.5 240.3h.8M147.3 240.1h.8M132.8 249.1h.8M147.5 244.0h.8M153.3 237.3h.8M139.4 245.6h.8M123.8 246.9h.8M154.3 247.8h.8M139.7 241.1h.8M162.9 242.2h.8M156.5 246.6h.8M147.3 243.4h.8M126.3 245.2h.8M148.8 239.3h.8M144.0 237.4h.8M176.6 241.5h.8M135.5 257.4h.8M141.9 247.0h.8M134.1 245.9h.8M142.8 245.9h.8M139.3 238.7h.8M161.8 237.2h.8M168.0 243.5h.8M142.2 245.7h.8M145.6 248.0h.8M151.1 238.6h.8M109.4 258.2h.8M153.5 240.9h.8M130.7 248.5h.8M131.3 244.5h.8M149.1 248.8h.8M122.2 249.8h.8M140.4 244.6h.8M143.1 240.4h.8M147.4 240.1h.8M164.0 239.6h.8M134.5 256.9h.8M148.0 239.2h.8M152.5 248.6h.8M146.2 237.5h.8M143.8 256.2h.8M131.0 243.2h.8M105.6 256.7h.8M133.9 243.2h.8M151.5 241.5h.8M130.5 246.9h.8M147.0 239.8h.8M172.5 233.8h.8M155.9 238.8h.8M145.2 246.2h.8M151.1 238.4h.8M138.0 250.7h.8M160.2 240.8h.8M144.4 234.7h.8M144.5 252.7h.8M113.1 252.6h.8M134.7 246.7h.8M132.2 237.0h.8M141.0 240.3h.8M121.7 241.1h.8M159.1 236.0h.8M161.7 241.3h.8M148.6 245.9h.8M161.3 248.0h.8M144.1 244.3h.8M136.4 245.5h.8M124.2 247.8h.8M152.7 246.5h.8M144.7 251.0h.8M153.8 237.0h.8M142.1 238.9h.8M131.3 240.2h.8M131.7 247.4h.8M145.5 252.1h.8M151.0 245.0h.8M150.8 318.9h.8M123.9 285.1h.8M143.4 313.6h.8M126.6 297.8h.8M142.9 281.7h.8M130.3 296.1h.8M139.9 282.9h.8M163.0 283.0h.8M116.1 298.2h.8M143.6 265.3h.8M133.0 273.6h.8M111.3 301.8h.8M155.7 281.2h.8M145.7 232.3h.8M137.0 286.0h.8M141.0 259.8h.8M151.3 270.1h.8M168.6 313.9h.8M129.2 296.6h.8M154.5 291.5h.8M142.5 291.0h.8M120.4 277.1h.8M145.1 286.7h.8M131.4 297.2h.8M148.8 271.5h.8M130.6 285.8h.8M125.1 265.0h.8M124.3 245.6h.8M133.9 280.8h.8M151.4 270.3h.8M142.7 270.5h.8M141.6 286.8h.8M124.6 291.5h.8M118.8 297.5h.8M153.0 313.4h.8M137.0 264.4h.8M132.9 305.9h.8M115.1 292.6h.8M173.0 290.4h.8M136.6 304.5h.8M132.5 303.3h.8M158.5 314.2h.8M129.9 265.2h.8M145.7 282.1h.8M156.2 299.8h.8M139.4 288.4h.8M147.1 279.3h.8M139.7 295.2h.8M128.6 310.5h.8M149.5 302.6h.8M157.1 271.6h.8M155.5 287.5h.8M126.1 298.7h.8M158.8 303.6h.8M117.9 296.7h.8M119.5 283.1h.8M109.1 271.8h.8M137.1 298.6h.8M137.6 273.6h.8M116.2 257.5h.8M129.7 287.4h.8M130.6 272.5h.8M159.5 280.7h.8M145.8 303.0h.8M126.4 285.5h.8M111.5 285.2h.8M112.3 268.9h.8M175.4 305.4h.8M138.1 267.5h.8M156.0 291.6h.8M148.4 305.0h.8M150.9 302.4h.8M135.0 295.9h.8M119.9 300.6h.8M114.3 291.9h.8M156.1 276.1h.8M103.4 289.6h.8M114.4 269.5h.8M151.6 316.9h.8M128.4 304.6h.8M148.6 278.0h.8M136.5 310.1h.8M151.8 304.0h.8M141.5 290.4h.8M110.1 312.9h.8M162.6 293.0h.8M124.8 305.1h.8M148.7 296.1h.8M140.3 278.4h.8M143.5 267.3h.8M93.4 300.1h.8M130.0 287.0h.8M175.0 292.1h.8M158.6 290.7h.8M122.9 305.3h.8M167.1 292.2h.8M160.5 283.6h.8M147.9 292.6h.8M134.2 289.3h.8M146.0 283.5h.8M134.2 284.4h.8M165.5 295.4h.8M139.9 305.5h.8M149.5 301.9h.8M125.2 280.2h.8M175.9 283.6h.8M163.3 272.0h.8M127.2 303.5h.8M130.2 303.9h.8M107.2 285.4h.8M114.9 289.4h.8M144.2 293.1h.8M144.2 276.0h.8M130.1 279.4h.8M141.3 288.8h.8M120.6 291.3h.8M135.5 293.3h.8M134.5 274.8h.8M135.7 272.9h.8M115.3 299.6h.8M120.9 275.5h.8M131.3 291.8h.8M111.8 280.3h.8M128.0 295.5h.8M161.7 294.3h.8M165.2 304.4h.8M129.9 315.6h.8M140.0 273.7h.8M164.0 310.6h.8M154.6 283.1h.8M139.5 292.3h.8M131.7 292.3h.8M152.0 312.0h.8M111.9 276.9h.8M104.0 268.1h.8M150.6 298.3h.8M131.6 288.8h.8M167.0 282.2h.8M105.1 317.9h.8M110.9 281.8h.8M140.9 282.3h.8M115.8 270.1h.8M162.6 294.4h.8M150.3 304.1h.8M164.9 296.9h.8M103.5 276.9h.8M154.3 297.3h.8M111.4 285.3h.8M159.0 284.3h.8M116.5 283.3h.8M132.2 280.4h.8M136.3 291.9h.8M157.2 286.2h.8M147.7 298.7h.8M134.9 278.4h.8M128.8 295.6h.8M111.3 272.5h.8M160.9 308.6h.8M143.0 283.9h.8M126.6 289.5h.8M127.8 288.6h.8M143.7 272.2h.8M161.3 315.9h.8M155.5 267.4h.8M103.1 281.2h.8M136.2 282.5h.8M131.5 309.4h.8M152.4 290.1h.8M115.5 290.1h.8M135.1 299.2h.8M147.6 301.9h.8M137.8 293.0h.8M144.6 303.0h.8M174.1 294.8h.8M158.8 281.0h.8M108.0 279.7h.8M165.9 290.4h.8M158.9 272.6h.8M116.9 288.5h.8M136.5 291.6h.8M130.1 298.9h.8M155.6 296.6h.8M122.8 292.6h.8M157.0 261.3h.8M126.1 298.0h.8M129.4 252.8h.8M160.2 280.7h.8M126.4 293.5h.8M131.5 279.1h.8M100.8 282.4h.8M158.2 283.4h.8M140.6 313.0h.8M147.6 287.1h.8M154.0 318.9h.8M177.9 298.5h.8M162.1 287.7h.8M124.3 289.7h.8M161.3 302.4h.8M143.9 262.8h.8M115.5 286.4h.8M127.3 282.0h.8M176.9 297.2h.8M125.1 301.3h.8M157.0 308.7h.8M135.2 293.2h.8M150.0 286.4h.8M116.8 295.3h.8M133.1 295.5h.8M102.5 292.2h.8M175.1 279.0h.8M144.9 309.3h.8M113.1 290.1h.8M133.4 262.5h.8M151.3 277.3h.8M132.9 316.1h.8M112.8 280.4h.8M109.2 310.6h.8M148.4 295.6h.8M152.1 272.2h.8M87.0 285.2h.8M123.2 302.5h.8M124.9 288.9h.8M136.3 298.6h.8M151.1 299.5h.8M160.0 278.1h.8M127.5 274.6h.8M117.7 279.1h.8M121.6 290.9h.8M165.5 300.2h.8M134.4 304.0h.8M155.1 259.4h.8M146.1 300.3h.8M106.3 280.7h.8M129.5 306.1h.8M127.6 288.9h.8M164.8 311.3h.8M132.6 290.2h.8M151.1 292.3h.8M90.2 317.2h.8M131.8 274.0h.8M157.4 285.2h.8M157.7 315.4h.8M128.9 305.0h.8M118.3 269.5h.8M127.8 296.0h.8M134.1 300.3h.8M171.4 295.0h.8M127.0 273.0h.8M147.5 313.8h.8M162.1 265.9h.8M132.1 272.2h.8M115.5 263.8h.8M127.4 278.9h.8M141.1 304.5h.8M142.4 293.9h.8M130.4 290.7h.8M156.6 297.1h.8M111.5 307.4h.8M128.5 304.0h.8M134.7 268.6h.8M137.1 291.6h.8M118.2 284.9h.8M139.7 299.8h.8M134.3 301.4h.8M128.6 273.5h.8M139.2 272.5h.8M149.5 318.1h.8M151.3 249.4h.8M131.7 312.9h.8M146.7 302.0h.8M154.8 256.6h.8M168.6 253.8h.8M129.0 284.8h.8M159.2 280.0h.8M154.3 304.9h.8M120.4 289.3h.8M137.7 285.5h.8M133.8 264.4h.8M131.1 297.1h.8M121.4 294.8h.8M150.1 289.0h.8M139.0 297.6h.8M155.6 283.3h.8M105.8 283.0h.8M152.6 293.8h.8M125.9 270.8h.8M158.6 300.5h.8M141.3 271.8h.8M137.8 307.0h.8M116.6 277.8h.8M134.2 253.6h.8M97.7 304.5h.8M132.6 280.7h.8M135.5 277.7h.8M128.8 276.9h.8M138.8 274.8h.8M136.3 286.5h.8M152.6 305.0h.8M141.9 295.9h.8M166.8 279.1h.8M146.3 297.3h.8M153.8 286.1h.8M139.6 275.3h.8M143.6 316.4h.8M167.5 279.0h.8M147.1 302.2h.8M138.4 284.1h.8M152.1 278.0h.8M115.8 273.8h.8M137.5 299.0h.8M124.0 312.6h.8M153.0 307.4h.8M129.8 308.3h.8M150.1 288.5h.8M134.4 306.5h.8M147.3 303.3h.8M157.9 305.2h.8M104.7 269.7h.8M161.5 268.1h.8M115.5 300.2h.8M142.1 264.8h.8M154.4 283.4h.8M150.8 296.5h.8M125.6 307.3h.8M142.3 305.3h.8M133.8 290.5h.8M110.9 293.9h.8M145.4 311.7h.8M96.9 270.2h.8M151.9 267.6h.8M119.2 286.9h.8M158.7 315.1h.8M115.6 313.6h.8M145.6 309.2h.8M153.3 297.0h.8M178.6 295.4h.8M138.3 264.0h.8M100.2 296.8h.8M165.7 288.5h.8M174.7 290.5h.8M117.4 302.9h.8M155.7 318.9h.8M132.5 307.3h.8M113.5 309.9h.8M157.0 299.1h.8M152.1 308.4h.8M171.8 288.9h.8M133.2 295.2h.8M117.9 294.9h.8M97.0 257.9h.8M137.2 284.5h.8M129.4 282.8h.8M148.7 284.7h.8M159.9 295.6h.8M151.7 300.0h.8M152.5 274.6h.8M161.7 274.8h.8M152.9 302.6h.8M132.2 304.7h.8M144.1 289.7h.8M122.5 268.6h.8M99.5 295.3h.8M108.5 286.1h.8M146.9 281.2h.8M142.8 294.9h.8M126.7 284.0h.8M162.6 275.2h.8M99.1 281.2h.8M142.0 304.6h.8M146.9 298.1h.8M160.3 292.5h.8M106.1 285.6h.8M113.5 292.3h.8M149.2 285.3h.8M136.8 291.7h.8M137.1 280.8h.8M166.6 315.9h.8M122.8 293.9h.8M151.0 289.4h.8M117.1 276.2h.8M158.7 297.0h.8M166.0 283.5h.8M147.1 297.5h.8M139.2 281.1h.8M139.8 268.2h.8M147.7 281.3h.8M112.9 277.8h.8M131.2 270.4h.8M111.0 288.6h.8M134.5 275.7h.8M127.0 287.5h.8M139.6 306.8h.8M117.6 296.5h.8M133.5 264.9h.8M126.8 291.0h.8M113.0 275.7h.8M140.0 297.5h.8M168.9 300.8h.8M107.2 307.2h.8M87.5 300.3h.8M143.6 291.1h.8M131.1 300.2h.8M135.5 267.6h.8M140.4 275.9h.8M122.0 308.0h.8M139.1 265.3h.8M107.2 278.5h.8M119.5 264.8h.8M126.6 313.4h.8M145.7 309.3h.8M167.0 287.3h.8M132.6 307.0h.8M123.2 282.6h.8M146.7 300.7h.8M112.1 280.1h.8M118.4 268.6h.8M129.8 285.0h.8M136.6 265.6h.8M134.6 274.0h.8M100.9 261.1h.8M141.1 284.3h.8M144.6 289.6h.8M123.0 294.4h.8M165.0 285.9h.8M126.0 280.4h.8M137.5 299.9h.8M136.5 306.0h.8M143.7 274.8h.8M118.5 296.3h.8M139.5 277.9h.8M122.1 278.0h.8M117.5 305.4h.8M161.5 276.2h.8M110.3 291.1h.8M129.8 296.8h.8M104.6 291.8h.8M123.2 299.3h.8M119.0 291.8h.8M166.8 290.2h.8M122.9 280.7h.8M110.8 274.7h.8M90.9 284.5h.8M132.8 290.5h.8M128.9 279.7h.8M139.5 283.5h.8M125.1 275.9h.8M124.4 278.8h.8M121.3 275.6h.8M93.8 302.8h.8M174.6 287.2h.8M130.8 271.0h.8M142.1 280.9h.8M149.9 293.9h.8M166.2 290.0h.8M135.4 278.8h.8M82.9 286.0h.8M162.9 283.0h.8M130.3 315.9h.8M118.6 264.4h.8M150.6 295.5h.8M104.7 264.1h.8M132.6 301.9h.8M134.2 282.0h.8M148.9 296.7h.8M124.8 293.0h.8M113.2 259.7h.8M116.5 306.6h.8M139.2 291.2h.8M113.3 272.5h.8M139.7 278.9h.8M161.5 291.2h.8M132.6 305.8h.8M124.4 306.4h.8M112.0 293.7h.8M167.9 257.6h.8M156.7 306.4h.8M177.9 275.5h.8M118.0 290.3h.8M135.7 292.5h.8M123.7 306.3h.8M165.5 285.4h.8M105.0 286.9h.8M149.4 294.8h.8M109.6 292.6h.8M128.4 293.2h.8M140.9 287.2h.8M132.8 313.3h.8M138.0 274.5h.8M142.7 304.9h.8M159.6 287.7h.8M131.3 285.4h.8M148.4 275.3h.8M130.5 294.7h.8M169.1 295.3h.8M134.3 293.9h.8M135.0 288.3h.8M135.6 295.6h.8M145.6 256.0h.8M157.9 268.5h.8M145.7 284.5h.8M139.0 298.0h.8M119.6 281.9h.8M138.6 302.6h.8M169.0 304.5h.8M139.4 299.6h.8M164.6 296.8h.8M127.2 262.5h.8M158.1 277.9h.8M171.6 287.4h.8M137.6 302.6h.8M113.6 288.5h.8M140.3 309.4h.8M135.0 306.8h.8M101.0 297.0h.8M131.8 290.8h.8M125.3 284.2h.8M163.5 318.4h.8M134.3 300.4h.8M160.7 268.4h.8M129.1 296.0h.8M141.9 277.9h.8M92.8 307.6h.8M151.0 302.1h.8M113.0 294.4h.8M107.3 274.2h.8M146.4 301.0h.8M127.8 289.1h.8M121.3 293.4h.8M107.2 292.2h.8M116.0 292.7h.8M114.3 287.7h.8M152.2 288.5h.8M137.4 282.2h.8M119.3 298.1h.8M131.6 287.2h.8M113.1 288.8h.8M127.2 287.5h.8M143.8 315.1h.8M112.8 299.7h.8M123.2 300.1h.8M132.5 284.5h.8M177.2 281.8h.8M155.8 292.4h.8M154.5 277.8h.8M119.9 298.7h.8M133.9 270.5h.8M142.2 288.6h.8M125.7 280.3h.8M147.1 282.3h.8M155.4 256.6h.8M96.8 276.4h.8M150.5 302.0h.8M131.8 306.0h.8M142.6 277.4h.8M109.6 260.1h.8M145.8 288.4h.8M151.1 308.5h.8M109.5 270.0h.8M143.6 302.4h.8M121.6 285.2h.8M128.5 297.6h.8M113.7 286.0h.8M120.8 275.1h.8M145.4 282.1h.8M119.7 291.0h.8M136.6 253.2h.8M133.1 311.2h.8M126.1 287.6h.8M129.6 283.5h.8M164.0 300.1h.8M138.9 284.3h.8M119.3 297.5h.8M133.1 260.9h.8M144.5 289.9h.8M139.9 270.9h.8M137.9 286.5h.8M110.3 268.3h.8M147.7 303.3h.8M115.0 291.9h.8M134.1 310.1h.8M136.0 288.8h.8M107.5 274.2h.8M157.0 291.3h.8M133.5 277.5h.8M137.0 303.3h.8M143.6 305.7h.8M146.4 263.6h.8M127.9 289.6h.8M127.0 269.9h.8M151.4 294.7h.8M161.4 279.4h.8M152.1 273.8h.8M165.6 294.6h.8M103.2 282.0h.8M147.3 280.8h.8M132.1 272.6h.8M101.7 319.2h.8M166.4 291.3h.8M113.9 313.0h.8M172.4 291.9h.8M163.1 273.9h.8M130.6 280.9h.8M147.0 296.9h.8M153.1 300.0h.8M144.3 274.5h.8M137.7 282.2h.8M166.2 288.2h.8M152.2 287.1h.8M133.4 273.1h.8M114.6 309.1h.8M154.3 297.4h.8M134.3 287.1h.8M165.0 304.8h.8M158.6 263.4h.8M173.5 269.4h.8M132.7 279.7h.8M131.4 271.8h.8M116.3 277.4h.8M100.4 305.2h.8M125.3 311.4h.8M94.5 299.3h.8M134.0 275.1h.8M139.6 286.7h.8M127.9 285.5h.8M163.6 302.6h.8M130.5 288.2h.8M131.8 290.6h.8M157.6 287.9h.8M154.7 289.8h.8M128.8 285.3h.8M139.1 289.0h.8M148.5 291.0h.8M137.7 278.7h.8M143.0 313.0h.8M154.5 281.1h.8M139.5 305.9h.8M178.7 296.2h.8M132.3 283.6h.8M139.0 283.8h.8M117.2 291.6h.8M113.7 268.3h.8M134.4 315.0h.8M150.2 273.7h.8M171.4 299.1h.8M114.8 312.3h.8M129.9 269.3h.8M157.9 278.3h.8M157.0 277.1h.8M141.9 310.3h.8M143.4 303.1h.8M147.3 292.0h.8M126.6 299.3h.8M168.8 273.4h.8M145.9 286.8h.8M128.8 288.9h.8M154.9 311.4h.8M151.3 269.2h.8M117.1 279.5h.8M123.7 292.0h.8M143.5 295.6h.8M159.3 281.4h.8M151.4 291.1h.8M128.4 286.3h.8M141.8 287.4h.8M172.1 280.6h.8M105.9 291.1h.8M177.1 289.1h.8M111.5 292.8h.8M143.4 311.6h.8M135.6 302.7h.8M86.7 295.2h.8M142.0 301.1h.8M176.3 307.0h.8M112.4 307.4h.8M124.1 292.3h.8M135.9 271.5h.8M125.5 270.1h.8M149.9 290.0h.8M159.9 279.3h.8M123.7 296.9h.8M117.0 312.2h.8M133.1 300.1h.8M155.5 290.1h.8M147.4 272.6h.8M146.0 295.3h.8M118.6 268.3h.8M144.9 295.3h.8M123.2 295.9h.8M129.1 308.6h.8M105.9 293.6h.8M120.5 306.0h.8M139.5 281.0h.8M120.1 294.0h.8M99.7 296.5h.8M127.8 272.9h.8M146.3 289.4h.8M127.3 292.4h.8M149.3 313.6h.8M171.5 271.7h.8M108.5 296.4h.8M134.7 271.8h.8M149.9 285.4h.8M159.0 311.2h.8M155.3 286.7h.8M148.2 294.0h.8M124.9 296.2h.8M113.2 273.6h.8M123.0 300.6h.8M106.2 300.0h.8M145.0 286.2h.8M147.6 315.8h.8M150.6 310.6h.8M142.1 300.8h.8M116.9 272.9h.8M134.0 276.1h.8M156.4 298.9h.8M147.0 298.3h.8M134.9 310.7h.8M142.0 307.2h.8M150.4 305.3h.8M144.7 290.2h.8M110.2 301.2h.8M158.4 294.5h.8M124.6 293.7h.8M162.6 295.7h.8M156.6 303.0h.8M116.3 317.6h.8M144.7 296.8h.8M162.8 292.4h.8M152.6 282.5h.8M158.7 306.7h.8M137.6 280.4h.8M119.4 261.1h.8M178.9 311.3h.8M119.9 292.4h.8M114.1 295.4h.8M165.2 293.9h.8M134.1 304.0h.8M124.8 269.2h.8M140.7 261.3h.8M145.0 282.1h.8M96.6 313.1h.8M104.3 297.5h.8M112.9 277.5h.8M131.4 290.6h.8M151.3 281.3h.8M177.1 276.4h.8M132.8 273.0h.8M112.8 292.0h.8M120.5 291.9h.8M140.1 296.8h.8M131.6 293.1h.8M146.7 280.1h.8M116.0 287.9h.8M155.7 296.6h.8M105.9 279.9h.8M156.5 305.2h.8M144.0 272.5h.8M148.4 286.0h.8M107.5 258.0h.8M144.6 265.6h.8M146.5 296.6h.8M125.1 295.1h.8M146.5 311.2h.8M148.8 269.3h.8M107.9 278.1h.8M116.4 301.8h.8M133.1 270.3h.8M147.3 284.3h.8M131.0 250.4h.8M152.2 296.9h.8M135.8 312.8h.8M149.1 301.9h.8M103.3 281.4h.8M138.8 278.3h.8M170.9 307.5h.8M116.3 244.4h.8M137.5 284.2h.8M142.4 274.7h.8M130.3 295.5h.8M115.8 275.1h.8M179.6 296.3h.8M142.8 265.0h.8M140.0 273.8h.8M160.4 304.1h.8M118.1 275.0h.8M111.4 261.7h.8M164.9 306.9h.8M146.6 293.3h.8M115.5 257.2h.8M138.5 280.3h.8M112.1 291.8h.8M144.3 294.2h.8M167.1 305.1h.8M132.9 298.9h.8M146.9 276.9h.8M146.1 262.6h.8M115.1 288.8h.8M148.3 299.4h.8M158.1 311.6h.8M153.9 305.9h.8M126.3 285.4h.8M154.6 279.8h.8M135.2 311.6h.8M147.6 302.9h.8M164.3 280.2h.8M130.8 284.7h.8M112.6 297.3h.8M119.8 253.8h.8M155.4 300.5h.8M111.5 285.2h.8M121.7 271.6h.8M120.6 270.2h.8M104.6 276.4h.8M152.9 294.4h.8M135.2 279.5h.8M143.9 310.9h.8M124.9 298.2h.8M138.5 285.4h.8M162.6 310.2h.8M112.9 318.2h.8M106.5 313.4h.8M150.6 308.8h.8M126.9 286.4h.8M140.3 305.0h.8M119.9 299.2h.8M165.3 289.9h.8M115.1 313.3h.8M149.3 280.0h.8M154.3 274.1h.8M163.5 274.0h.8M119.9 300.8h.8M107.5 274.4h.8M151.5 288.9h.8M107.9 281.7h.8M134.9 294.4h.8M137.3 298.6h.8M120.7 292.7h.8M164.6 302.6h.8M160.1 269.1h.8M149.6 286.3h.8M160.5 269.9h.8M138.4 285.1h.8M139.9 249.8h.8M146.4 249.3h.8M145.6 278.1h.8M127.8 299.5h.8M129.9 263.7h.8M176.4 281.5h.8M155.3 308.1h.8M104.8 312.3h.8M150.6 298.1h.8M154.1 282.0h.8M164.9 298.9h.8M139.1 279.9h.8M116.5 261.4h.8M109.7 279.3h.8M144.9 302.4h.8M134.7 276.6h.8M152.5 270.7h.8M136.2 266.6h.8M153.7 312.1h.8M134.1 314.5h.8M143.8 305.7h.8M131.4 285.4h.8M131.3 286.4h.8M125.4 299.0h.8M110.7 280.2h.8M143.6 287.7h.8M141.6 296.4h.8M146.3 292.2h.8M144.6 281.0h.8M118.4 287.3h.8M117.1 258.5h.8M119.5 307.8h.8M135.5 280.3h.8M100.7 296.6h.8M152.1 275.6h.8M132.5 299.6h.8M137.1 290.2h.8M140.1 286.3h.8M137.3 293.0h.8M145.1 301.3h.8M128.4 285.1h.8M133.1 311.4h.8M105.8 277.0h.8M96.1 290.2h.8M147.5 289.8h.8M137.8 265.9h.8M138.4 280.0h.8M133.5 310.1h.8M122.7 280.8h.8M150.9 301.7h.8M136.5 283.5h.8M110.4 287.6h.8M148.2 286.7h.8M172.4 299.2h.8M124.1 300.2h.8M147.8 308.4h.8M145.5 274.5h.8M131.4 275.2h.8M157.7 312.0h.8M123.2 297.4h.8M163.8 271.8h.8M100.7 296.7h.8M145.5 309.9h.8M155.6 286.9h.8M135.0 286.4h.8M142.1 285.5h.8M110.0 291.3h.8M158.7 260.4h.8M148.1 298.9h.8M155.6 285.2h.8M155.2 311.3h.8M103.6 272.3h.8M139.1 287.2h.8M117.0 300.5h.8M164.2 283.7h.8M159.7 286.2h.8M144.6 277.3h.8M64.7 271.8h.8M162.9 282.3h.8M156.5 287.5h.8M98.0 295.1h.8M94.2 310.7h.8M98.9 288.5h.8M130.5 277.0h.8M145.5 285.6h.8M156.2 271.1h.8M115.5 302.7h.8M157.9 306.9h.8M105.5 277.3h.8M100.7 301.2h.8M132.4 314.4h.8M163.0 280.5h.8M135.5 283.0h.8M129.8 289.3h.8M141.5 313.3h.8M162.8 287.9h.8M151.0 290.1h.8M121.5 280.1h.8M170.1 290.7h.8M121.4 270.3h.8M160.4 292.9h.8M138.8 282.3h.8M124.2 289.1h.8M158.2 276.8h.8M135.0 300.6h.8M132.7 300.7h.8M160.9 275.1h.8M129.3 278.6h.8M143.3 293.7h.8M134.4 254.5h.8M146.8 265.7h.8M127.2 260.7h.8M127.2 260.5h.8M112.4 281.1h.8M114.7 254.5h.8M126.2 247.4h.8M110.0 275.6h.8M118.9 259.0h.8M113.9 278.2h.8M140.7 241.1h.8M149.3 254.7h.8M129.7 262.7h.8M142.5 257.9h.8M111.8 281.1h.8M111.1 282.4h.8M110.1 273.7h.8M121.7 248.5h.8M117.0 271.0h.8M116.5 271.2h.8M149.0 242.9h.8M144.4 244.5h.8M127.5 243.7h.8M111.5 268.7h.8M138.5 258.2h.8M107.0 274.9h.8M96.0 279.9h.8M155.2 237.9h.8M127.9 263.8h.8M128.2 298.6h.8M95.3 262.0h.8M103.2 295.4h.8M127.8 252.2h.8M153.9 259.4h.8M117.1 262.8h.8M110.6 282.3h.8M141.0 251.0h.8M116.5 289.8h.8M140.9 245.7h.8M87.1 278.3h.8M122.0 257.8h.8M132.6 233.7h.8M117.5 265.7h.8M86.5 269.8h.8M100.8 287.7h.8M133.6 247.4h.8M124.5 262.0h.8M151.4 257.6h.8M130.3 277.7h.8M117.5 262.0h.8M156.8 242.8h.8M112.3 262.7h.8M101.1 281.5h.8M130.3 262.1h.8M103.2 279.9h.8M105.4 279.0h.8M89.8 281.9h.8M102.2 282.4h.8M139.0 267.7h.8M125.7 235.7h.8M118.7 263.1h.8M105.7 280.6h.8M137.5 254.0h.8M133.8 277.6h.8M88.7 286.5h.8M112.4 279.9h.8M98.0 270.5h.8M101.8 272.4h.8M85.6 267.9h.8M127.0 246.5h.8M101.9 279.3h.8M127.2 263.0h.8M121.5 271.8h.8M123.5 268.0h.8M130.4 257.1h.8M97.9 259.3h.8M125.9 259.5h.8M124.6 261.3h.8M139.1 255.3h.8M99.1 268.7h.8M151.2 249.4h.8M93.6 299.6h.8M135.9 259.6h.8M135.0 257.4h.8M103.7 267.2h.8M128.5 269.7h.8M87.8 286.0h.8M147.1 254.7h.8M111.0 298.6h.8M136.6 243.5h.8M103.7 269.0h.8M130.5 252.1h.8M122.3 256.2h.8M102.9 278.3h.8M109.1 262.8h.8M126.9 259.9h.8M123.1 249.7h.8M149.1 243.0h.8M111.2 258.8h.8M115.5 255.9h.8M95.9 285.9h.8M108.0 257.6h.8M121.6 259.8h.8M137.5 273.4h.8M104.9 296.9h.8M108.8 273.2h.8M162.3 237.5h.8M122.7 269.6h.8M157.0 238.0h.8M143.8 269.6h.8M123.1 267.7h.8M146.7 257.9h.8M101.3 281.3h.8M133.9 237.7h.8M121.8 265.3h.8M126.4 281.6h.8M118.5 257.8h.8M107.4 269.4h.8M133.5 259.3h.8M116.0 267.7h.8M149.8 234.4h.8M113.2 276.9h.8M136.4 265.5h.8M88.9 271.6h.8M150.3 259.9h.8M115.9 240.4h.8M106.2 285.8h.8M113.4 265.7h.8M130.0 266.7h.8M98.8 281.5h.8M105.9 292.9h.8M128.5 239.3h.8M107.5 266.4h.8M136.0 258.1h.8M135.9 257.6h.8M112.3 277.8h.8M106.2 262.3h.8M87.5 282.0h.8M118.7 280.7h.8M143.7 270.3h.8M104.9 263.3h.8M134.6 261.0h.8M154.9 236.8h.8M121.0 267.4h.8M150.6 245.1h.8M111.8 252.2h.8M148.4 258.5h.8M138.6 268.7h.8M147.2 259.3h.8M97.2 278.9h.8M151.5 262.2h.8M159.5 252.0h.8M102.7 275.5h.8M108.3 270.3h.8M110.6 270.8h.8M143.1 257.6h.8M112.3 271.2h.8M122.9 271.1h.8M146.9 237.5h.8M156.0 254.2h.8M102.6 261.8h.8M131.7 274.0h.8M149.3 240.9h.8M126.0 249.5h.8M139.5 256.6h.8M146.8 264.5h.8M94.2 280.8h.8M148.4 253.7h.8M138.4 252.4h.8M134.1 251.4h.8M133.8 230.6h.8M133.2 254.0h.8M129.2 248.8h.8M113.8 275.1h.8M102.7 295.1h.8M127.8 257.0h.8M150.7 233.9h.8M117.8 269.8h.8M126.8 252.9h.8M145.4 249.8h.8M97.8 288.4h.8M99.3 293.7h.8M102.6 270.7h.8M151.3 243.2h.8M130.9 257.3h.8M109.0 279.3h.8M96.5 268.7h.8M120.8 266.8h.8M137.5 247.1h.8M115.6 254.3h.8M134.6 260.0h.8M96.9 282.9h.8M112.9 284.5h.8M111.2 270.3h.8M114.2 281.8h.8M120.7 258.0h.8M134.1 242.3h.8M132.6 255.9h.8M142.3 245.6h.8M104.6 294.8h.8M147.3 261.3h.8M102.7 284.6h.8M114.2 252.3h.8M105.6 280.0h.8M115.2 267.1h.8M89.9 271.4h.8M151.0 255.7h.8M125.9 258.4h.8M102.5 284.9h.8M116.7 257.9h.8M146.0 262.4h.8M135.5 244.4h.8M116.1 285.2h.8M103.8 267.3h.8M101.1 277.2h.8M143.9 249.7h.8M99.3 262.6h.8M146.0 249.7h.8M114.5 267.9h.8M95.6 282.7h.8M131.2 260.9h.8M117.3 270.7h.8M149.1 256.2h.8M135.1 267.2h.8M148.5 247.5h.8M131.4 251.3h.8M123.3 263.7h.8M117.1 247.2h.8M157.5 249.0h.8M153.1 244.0h.8M144.0 252.0h.8M117.7 263.0h.8M128.4 249.7h.8M118.1 271.1h.8M139.2 252.1h.8M105.8 262.2h.8M105.9 258.5h.8M107.4 281.6h.8M100.6 271.4h.8M137.0 267.5h.8M156.6 245.1h.8M114.2 268.9h.8M104.2 276.2h.8M154.4 247.4h.8M146.5 240.4h.8M123.2 252.3h.8M107.9 262.5h.8M148.1 275.6h.8M112.6 281.9h.8M121.3 276.7h.8M147.7 266.5h.8M107.8 291.2h.8M89.3 274.6h.8M120.1 281.6h.8M112.3 282.8h.8M128.0 248.2h.8M123.1 275.6h.8M131.4 268.8h.8M132.0 240.1h.8M106.6 274.6h.8M153.3 231.6h.8M151.9 237.2h.8M135.3 253.3h.8M116.8 267.0h.8M115.1 279.4h.8M133.3 251.1h.8M124.3 236.2h.8M124.6 268.1h.8M107.0 259.8h.8M137.3 249.7h.8M132.0 255.5h.8M137.6 250.6h.8M116.2 277.6h.8M116.0 273.3h.8M144.8 254.5h.8M101.3 263.4h.8M128.0 280.8h.8M113.1 263.8h.8M93.0 271.0h.8M135.8 246.5h.8M117.5 246.9h.8M115.9 263.4h.8M124.5 260.7h.8M126.8 267.5h.8M169.9 255.3h.8M114.4 292.1h.8M124.3 238.8h.8M94.7 285.2h.8M129.4 265.1h.8M158.5 248.2h.8M130.9 260.6h.8M149.8 253.8h.8M99.1 268.9h.8M138.2 248.6h.8M119.0 258.2h.8M99.9 254.5h.8M113.1 281.2h.8M122.2 264.9h.8M124.8 248.5h.8M110.3 267.6h.8M144.5 257.9h.8M124.5 275.2h.8M84.4 281.8h.8M107.6 263.0h.8M139.0 243.1h.8M118.5 266.2h.8M149.6 237.2h.8M147.4 264.2h.8M121.8 272.7h.8M118.3 261.1h.8M114.4 268.8h.8M110.0 272.2h.8M99.7 263.3h.8M119.4 255.6h.8M138.6 263.6h.8M104.0 266.1h.8M178.6 259.0h.8M109.4 274.6h.8M103.7 289.1h.8M119.3 281.8h.8M127.3 258.1h.8M106.0 287.6h.8M118.6 271.3h.8M139.4 233.4h.8M128.2 238.6h.8M106.8 268.5h.8M135.4 271.2h.8M110.5 263.8h.8M139.8 241.5h.8M121.4 284.8h.8M98.8 284.0h.8M124.9 270.3h.8M128.3 270.0h.8M150.6 251.5h.8M103.1 289.8h.8M160.6 240.6h.8M90.6 295.1h.8M110.9 262.5h.8M161.3 253.2h.8M120.9 256.3h.8M77.2 276.4h.8M109.5 264.2h.8M118.4 267.9h.8M137.3 292.3h.8M105.6 261.0h.8M130.0 247.0h.8M126.3 265.6h.8M109.6 284.3h.8M139.0 239.0h.8M129.0 271.2h.8M110.7 287.1h.8M149.5 238.9h.8M131.9 248.4h.8M125.3 267.1h.8M143.7 276.2h.8M121.5 262.2h.8M128.2 265.8h.8M109.8 274.1h.8M108.0 273.4h.8M97.6 287.8h.8M108.6 269.2h.8M118.9 267.1h.8M118.3 280.1h.8M100.4 276.9h.8M134.5 244.6h.8M114.9 272.1h.8M130.2 253.7h.8M122.1 261.7h.8M118.4 275.8h.8M111.6 248.7h.8M148.0 253.7h.8M145.8 261.1h.8M99.1 289.7h.8M116.7 288.2h.8M144.5 260.1h.8M140.4 261.6h.8M145.5 244.0h.8M114.4 273.9h.8M145.8 268.8h.8M127.1 254.2h.8M134.2 275.1h.8M124.5 289.3h.8M143.9 252.0h.8M127.6 261.4h.8M136.9 255.0h.8M143.5 239.4h.8M100.2 276.2h.8M123.4 252.9h.8M146.2 270.1h.8M135.3 244.0h.8M144.8 250.3h.8M152.6 245.6h.8M108.1 286.3h.8M152.1 243.4h.8M104.0 273.6h.8M90.8 287.2h.8M126.5 266.8h.8M116.2 272.1h.8M146.8 256.2h.8M128.7 262.5h.8M115.4 252.0h.8M122.0 261.3h.8M95.4 273.0h.8M171.9 247.6h.8M135.3 278.5h.8M142.3 259.2h.8M148.9 267.8h.8M98.4 297.6h.8M85.4 280.6h.8M111.6 288.8h.8M112.5 281.6h.8M115.6 279.7h.8M143.1 262.5h.8M119.2 252.1h.8M134.7 268.8h.8M99.8 296.8h.8M108.0 271.4h.8M95.3 274.0h.8M117.1 274.9h.8M121.3 250.7h.8M124.7 261.0h.8M117.8 264.3h.8M144.1 246.0h.8M153.2 229.0h.8M117.2 285.8h.8M160.9 230.4h.8M117.6 267.2h.8M104.3 289.7h.8M114.4 268.5h.8M147.4 259.6h.8M118.9 273.8h.8M93.7 296.5h.8M130.6 256.3h.8M129.8 259.7h.8M131.6 262.9h.8M136.3 244.5h.8M125.4 264.5h.8M155.4 257.9h.8M105.2 276.9h.8M109.2 258.5h.8M128.3 260.9h.8M110.2 281.9h.8M117.9 255.3h.8M96.1 283.3h.8M158.8 251.3h.8M118.1 248.6h.8M128.5 260.8h.8M114.9 272.4h.8M114.2 254.1h.8M113.2 264.6h.8M118.4 242.4h.8M107.0 265.5h.8M129.6 258.0h.8M121.5 263.5h.8M109.3 255.5h.8M110.4 277.2h.8M142.0 248.8h.8M130.2 254.0h.8M142.5 239.9h.8M107.5 290.7h.8M112.5 271.7h.8M140.1 250.4h.8M138.3 244.2h.8M90.9 281.5h.8M128.4 265.9h.8M145.1 268.6h.8M132.5 245.4h.8M114.3 287.5h.8M123.4 273.1h.8M144.9 266.5h.8M119.4 249.0h.8M105.2 272.2h.8M136.0 258.0h.8M103.1 280.0h.8M126.8 261.2h.8M132.6 258.3h.8M140.2 245.2h.8M137.0 269.6h.8M107.3 278.6h.8M135.9 253.3h.8M120.4 257.0h.8M132.0 278.5h.8M143.2 255.3h.8M151.0 251.7h.8M101.6 279.7h.8M86.0 283.3h.8M152.4 241.9h.8M127.2 254.5h.8M95.2 280.3h.8M133.7 240.2h.8M119.5 253.6h.8M107.4 280.5h.8M135.6 256.3h.8M155.4 251.3h.8M107.9 261.9h.8M130.3 271.1h.8M132.2 263.2h.8M132.2 257.1h.8M155.8 262.0h.8M90.6 283.8h.8M137.0 265.5h.8M111.0 271.4h.8M91.8 277.0h.8M120.0 279.7h.8M147.2 261.3h.8M142.4 257.4h.8M110.9 273.1h.8M90.6 288.7h.8M115.6 276.1h.8M117.6 263.6h.8M122.5 262.5h.8M144.2 260.9h.8M133.2 260.8h.8M145.1 246.1h.8M102.3 276.1h.8M88.3 294.8h.8M131.5 259.4h.8M111.6 265.8h.8M93.6 293.6h.8M104.2 273.9h.8M132.0 239.6h.8M124.7 261.0h.8M139.7 251.9h.8M118.1 273.1h.8M129.8 267.7h.8M115.9 284.1h.8M132.9 251.5h.8M100.0 288.4h.8M113.1 281.5h.8M92.8 290.8h.8M135.3 255.0h.8M143.9 241.7h.8M137.6 272.3h.8M112.1 272.4h.8M96.3 274.2h.8M143.8 249.0h.8M130.1 263.5h.8M124.0 258.4h.8M129.7 231.5h.8M112.3 258.7h.8M132.5 236.3h.8M122.5 259.9h.8M108.7 283.9h.8M105.3 277.3h.8M121.0 256.8h.8M131.6 254.6h.8M139.1 259.0h.8M116.2 281.2h.8M155.2 245.0h.8M128.6 288.4h.8M170.5 294.0h.8M123.1 294.1h.8M71.9 272.2h.8M104.5 304.0h.8M142.7 239.0h.8M120.0 286.2h.8M125.5 282.6h.8M103.8 289.1h.8M93.7 292.8h.8M97.8 266.9h.8M127.0 299.4h.8M81.9 248.9h.8M138.6 305.4h.8M180.1 313.7h.8M75.2 292.5h.8M147.6 297.1h.8M69.4 256.6h.8M177.5 257.3h.8M93.4 318.9h.8M63.7 275.5h.8M108.6 238.7h.8M133.3 230.4h.8M73.2 265.4h.8M156.8 312.6h.8M97.9 270.7h.8M159.8 267.4h.8M175.4 253.7h.8M100.7 273.1h.8M64.9 318.5h.8M124.1 293.4h.8M65.6 312.2h.8M159.6 315.6h.8M117.3 282.2h.8M94.3 271.1h.8M109.7 230.9h.8M121.6 267.7h.8M157.7 245.2h.8M129.9 289.4h.8M138.0 278.1h.8M102.7 226.3h.8M125.4 277.1h.8M68.1 256.2h.8M102.1 294.4h.8M114.0 230.1h.8M132.0 305.9h.8M110.9 250.6h.8M138.7 239.1h.8M114.7 268.8h.8M72.9 286.9h.8M176.8 316.3h.8M105.0 226.5h.8M76.1 258.5h.8M180.9 247.2h.8M179.9 314.9h.8M148.1 261.9h.8M180.6 239.6h.8M181.0 261.8h.8M181.1 289.0h.8" stroke="#000" stroke-width="0.8" opacity="0.85" fill="none"/>
<rect x="62.30" y="224.60" width="119.30" height="95.20" fill="none" stroke="#444" stroke-width="1"/>
<line x1="116.00" y1="224.60" x2="116.00" y2="319.80" stroke="#222" stroke-width="1"/>
<line x1="62.30" y1="274.20" x2="181.60" y2="274.20" stroke="#222" stroke-width="1"/>
<text transform="translate(74.60,220.30) scale(1.013,1)" font-size="7.26" font-weight="bold" fill="#000" stroke="#000" stroke-width="0.12">EV-transduced CD34+ cells</text>
<line x1="44.70" y1="319.50" x2="44.70" y2="228.20" stroke="#333" stroke-width="1"/>
<polygon points="44.70,224.20 42.60,229.20 46.80,229.20" fill="#333"/>
<text transform="translate(37.70,278.50) rotate(-90) scale(0.906,1)" font-size="7.7" text-anchor="middle" font-weight="bold" fill="#000" stroke="#000" stroke-width="0.12">7AAD</text>
<text transform="translate(47.00,232.20) scale(0.817,1)" font-size="6.93" fill="#000" stroke="#000" stroke-width="0.12">10<tspan dy="-2.63" font-size="4.30">5</tspan></text>
<text transform="translate(47.00,310.20) scale(0.817,1)" font-size="6.93" fill="#000" stroke="#000" stroke-width="0.12">10<tspan dy="-2.63" font-size="4.30">2</tspan></text>
<text transform="translate(73.00,333.20) scale(0.817,1)" font-size="6.93" fill="#000" stroke="#000" stroke-width="0.12">10<tspan dy="-2.63" font-size="4.30">2</tspan></text>
<text transform="translate(174.00,333.20) scale(0.817,1)" font-size="6.93" fill="#000" stroke="#000" stroke-width="0.12">10<tspan dy="-2.63" font-size="4.30">5</tspan></text>
<text transform="translate(65.00,233.80) scale(0.859,1)" font-size="9.02" font-weight="bold" fill="#000" stroke="#000" stroke-width="0.12">1%</text>
<text transform="translate(180.30,233.80) scale(0.986,1)" font-size="9.02" text-anchor="end" font-weight="bold" fill="#000" stroke="#000" stroke-width="0.12">20%</text>
<text transform="translate(64.50,317.30) scale(0.953,1)" font-size="9.02" font-weight="bold" fill="#000" stroke="#000" stroke-width="0.12">65%</text>
<text transform="translate(179.80,317.30) scale(0.931,1)" font-size="9.02" text-anchor="end" font-weight="bold" fill="#000" stroke="#000" stroke-width="0.12">14%</text>
<line x1="64.06" y1="319.80" x2="64.06" y2="321.60" stroke="#333" stroke-width="0.6"/>
<line x1="65.75" y1="319.80" x2="65.75" y2="321.60" stroke="#333" stroke-width="0.6"/>
<line x1="67.27" y1="319.80" x2="67.27" y2="322.80" stroke="#333" stroke-width="0.6"/>
<line x1="77.25" y1="319.80" x2="77.25" y2="321.60" stroke="#333" stroke-width="0.6"/>
<line x1="83.08" y1="319.80" x2="83.08" y2="321.60" stroke="#333" stroke-width="0.6"/>
<line x1="87.22" y1="319.80" x2="87.22" y2="321.60" stroke="#333" stroke-width="0.6"/>
<line x1="90.43" y1="319.80" x2="90.43" y2="321.60" stroke="#333" stroke-width="0.6"/>
<line x1="93.06" y1="319.80" x2="93.06" y2="321.60" stroke="#333" stroke-width="0.6"/>
<line x1="95.28" y1="319.80" x2="95.28" y2="321.60" stroke="#333" stroke-width="0.6"/>
<line x1="97.20" y1="319.80" x2="97.20" y2="321.60" stroke="#333" stroke-width="0.6"/>
<line x1="98.89" y1="319.80" x2="98.89" y2="321.60" stroke="#333" stroke-width="0.6"/>
<line x1="100.41" y1="319.80" x2="100.41" y2="322.80" stroke="#333" stroke-width="0.6"/>
<line x1="110.39" y1="319.80" x2="110.39" y2="321.60" stroke="#333" stroke-width="0.6"/>
<line x1="116.22" y1="319.80" x2="116.22" y2="321.60" stroke="#333" stroke-width="0.6"/>
<line x1="120.36" y1="319.80" x2="120.36" y2="321.60" stroke="#333" stroke-width="0.6"/>
<line x1="123.57" y1="319.80" x2="123.57" y2="321.60" stroke="#333" stroke-width="0.6"/>
<line x1="126.20" y1="319.80" x2="126.20" y2="321.60" stroke="#333" stroke-width="0.6"/>
<line x1="128.42" y1="319.80" x2="128.42" y2="321.60" stroke="#333" stroke-width="0.6"/>
<line x1="130.34" y1="319.80" x2="130.34" y2="321.60" stroke="#333" stroke-width="0.6"/>
<line x1="132.03" y1="319.80" x2="132.03" y2="321.60" stroke="#333" stroke-width="0.6"/>
<line x1="133.55" y1="319.80" x2="133.55" y2="322.80" stroke="#333" stroke-width="0.6"/>
<line x1="143.52" y1="319.80" x2="143.52" y2="321.60" stroke="#333" stroke-width="0.6"/>
<line x1="149.36" y1="319.80" x2="149.36" y2="321.60" stroke="#333" stroke-width="0.6"/>
<line x1="153.50" y1="319.80" x2="153.50" y2="321.60" stroke="#333" stroke-width="0.6"/>
<line x1="156.71" y1="319.80" x2="156.71" y2="321.60" stroke="#333" stroke-width="0.6"/>
<line x1="159.34" y1="319.80" x2="159.34" y2="321.60" stroke="#333" stroke-width="0.6"/>
<line x1="161.55" y1="319.80" x2="161.55" y2="321.60" stroke="#333" stroke-width="0.6"/>
<line x1="163.48" y1="319.80" x2="163.48" y2="321.60" stroke="#333" stroke-width="0.6"/>
<line x1="165.17" y1="319.80" x2="165.17" y2="321.60" stroke="#333" stroke-width="0.6"/>
<line x1="166.69" y1="319.80" x2="166.69" y2="322.80" stroke="#333" stroke-width="0.6"/>
<line x1="176.66" y1="319.80" x2="176.66" y2="321.60" stroke="#333" stroke-width="0.6"/>
<line x1="62.30" y1="318.40" x2="60.50" y2="318.40" stroke="#333" stroke-width="0.6"/>
<line x1="62.30" y1="317.04" x2="60.50" y2="317.04" stroke="#333" stroke-width="0.6"/>
<line x1="62.30" y1="315.83" x2="59.30" y2="315.83" stroke="#333" stroke-width="0.6"/>
<line x1="62.30" y1="307.87" x2="60.50" y2="307.87" stroke="#333" stroke-width="0.6"/>
<line x1="62.30" y1="303.22" x2="60.50" y2="303.22" stroke="#333" stroke-width="0.6"/>
<line x1="62.30" y1="299.91" x2="60.50" y2="299.91" stroke="#333" stroke-width="0.6"/>
<line x1="62.30" y1="297.35" x2="60.50" y2="297.35" stroke="#333" stroke-width="0.6"/>
<line x1="62.30" y1="295.26" x2="60.50" y2="295.26" stroke="#333" stroke-width="0.6"/>
<line x1="62.30" y1="293.49" x2="60.50" y2="293.49" stroke="#333" stroke-width="0.6"/>
<line x1="62.30" y1="291.95" x2="60.50" y2="291.95" stroke="#333" stroke-width="0.6"/>
<line x1="62.30" y1="290.60" x2="60.50" y2="290.60" stroke="#333" stroke-width="0.6"/>
<line x1="62.30" y1="289.39" x2="59.30" y2="289.39" stroke="#333" stroke-width="0.6"/>
<line x1="62.30" y1="281.43" x2="60.50" y2="281.43" stroke="#333" stroke-width="0.6"/>
<line x1="62.30" y1="276.77" x2="60.50" y2="276.77" stroke="#333" stroke-width="0.6"/>
<line x1="62.30" y1="273.47" x2="60.50" y2="273.47" stroke="#333" stroke-width="0.6"/>
<line x1="62.30" y1="270.91" x2="60.50" y2="270.91" stroke="#333" stroke-width="0.6"/>
<line x1="62.30" y1="268.81" x2="60.50" y2="268.81" stroke="#333" stroke-width="0.6"/>
<line x1="62.30" y1="267.04" x2="60.50" y2="267.04" stroke="#333" stroke-width="0.6"/>
<line x1="62.30" y1="265.51" x2="60.50" y2="265.51" stroke="#333" stroke-width="0.6"/>
<line x1="62.30" y1="264.15" x2="60.50" y2="264.15" stroke="#333" stroke-width="0.6"/>
<line x1="62.30" y1="262.94" x2="59.30" y2="262.94" stroke="#333" stroke-width="0.6"/>
<line x1="62.30" y1="254.98" x2="60.50" y2="254.98" stroke="#333" stroke-width="0.6"/>
<line x1="62.30" y1="250.33" x2="60.50" y2="250.33" stroke="#333" stroke-width="0.6"/>
<line x1="62.30" y1="247.02" x2="60.50" y2="247.02" stroke="#333" stroke-width="0.6"/>
<line x1="62.30" y1="244.46" x2="60.50" y2="244.46" stroke="#333" stroke-width="0.6"/>
<line x1="62.30" y1="242.37" x2="60.50" y2="242.37" stroke="#333" stroke-width="0.6"/>
<line x1="62.30" y1="240.60" x2="60.50" y2="240.60" stroke="#333" stroke-width="0.6"/>
<line x1="62.30" y1="239.06" x2="60.50" y2="239.06" stroke="#333" stroke-width="0.6"/>
<line x1="62.30" y1="237.71" x2="60.50" y2="237.71" stroke="#333" stroke-width="0.6"/>
<line x1="62.30" y1="236.50" x2="59.30" y2="236.50" stroke="#333" stroke-width="0.6"/>
<line x1="62.30" y1="228.54" x2="60.50" y2="228.54" stroke="#333" stroke-width="0.6"/>
<path d="M233.7 296.6h.8M234.1 275.5h.8M216.3 284.6h.8M211.6 279.5h.8M239.5 277.5h.8M232.7 287.2h.8M224.3 298.8h.8M226.4 286.1h.8M219.7 284.7h.8M258.2 287.0h.8M232.3 285.6h.8M219.8 287.0h.8M223.0 284.5h.8M236.7 289.8h.8M213.6 285.1h.8M220.4 284.7h.8M227.5 299.8h.8M214.8 282.5h.8M224.3 293.0h.8M243.4 283.9h.8M231.5 287.2h.8M229.8 287.0h.8M229.7 281.6h.8M249.0 289.9h.8M216.8 285.1h.8M216.0 286.1h.8M223.8 277.7h.8M214.4 301.1h.8M241.9 284.6h.8M241.9 279.8h.8M222.8 289.5h.8M234.9 285.2h.8M236.9 286.9h.8M233.1 285.8h.8M207.3 275.6h.8M250.2 287.4h.8M221.2 286.1h.8M214.9 278.1h.8M250.3 284.7h.8M233.5 283.2h.8M225.6 280.5h.8M239.2 289.9h.8M215.9 280.0h.8M239.4 284.7h.8M237.9 284.2h.8M225.5 293.1h.8M222.2 287.9h.8M221.7 282.3h.8M222.7 296.8h.8M245.9 297.2h.8M246.8 296.1h.8M241.2 279.3h.8M215.6 287.8h.8M231.7 272.9h.8M218.3 282.8h.8M231.1 291.5h.8M234.3 282.1h.8M245.6 282.2h.8M242.1 280.9h.8M239.2 284.3h.8M227.8 273.3h.8M253.6 281.0h.8M225.8 297.5h.8M235.7 297.8h.8M234.9 287.7h.8M222.9 283.6h.8M237.9 283.0h.8M238.1 290.7h.8M218.8 287.8h.8M239.7 280.5h.8M250.4 278.0h.8M237.6 283.1h.8M225.3 289.0h.8M253.2 275.0h.8M241.5 279.2h.8M242.3 289.0h.8M240.2 285.4h.8M231.5 280.3h.8M215.2 281.3h.8M226.2 287.5h.8M227.9 287.6h.8M232.1 276.6h.8M232.9 290.7h.8M239.6 288.9h.8M234.5 284.5h.8M219.1 275.6h.8M222.5 270.7h.8M232.8 284.2h.8M217.0 288.4h.8M210.2 286.2h.8M219.6 290.3h.8M223.7 286.3h.8M255.1 283.3h.8M219.6 288.2h.8M229.9 290.7h.8M233.4 278.7h.8M239.3 291.9h.8M238.0 286.5h.8M238.5 283.3h.8M232.1 292.0h.8M236.0 282.9h.8M220.6 287.9h.8M254.6 295.2h.8M240.6 286.6h.8M221.2 279.5h.8M233.0 289.3h.8M233.8 278.7h.8M233.2 293.4h.8M229.4 285.2h.8M228.6 290.6h.8M210.6 279.4h.8M204.3 282.6h.8M221.0 293.3h.8M241.2 294.4h.8M231.7 277.2h.8M241.8 281.7h.8M204.3 280.9h.8M229.9 274.3h.8M240.5 282.4h.8M219.2 287.2h.8M222.0 284.4h.8M225.6 289.1h.8M228.4 291.3h.8M232.0 291.3h.8M214.4 290.2h.8M208.2 286.7h.8M233.9 277.4h.8M222.4 277.9h.8M227.5 286.6h.8M250.6 278.1h.8M225.1 289.3h.8M222.6 283.1h.8M208.9 283.4h.8M239.7 270.5h.8M228.5 291.4h.8M204.5 288.5h.8M220.7 279.0h.8M235.3 285.1h.8M215.4 288.4h.8M254.6 270.6h.8M244.5 279.6h.8M227.4 291.6h.8M233.3 278.1h.8M233.0 280.3h.8M225.3 297.5h.8M250.7 278.3h.8M238.3 291.5h.8M212.4 283.0h.8M248.8 273.9h.8M221.6 280.0h.8M235.0 284.1h.8M236.4 284.8h.8M244.9 286.5h.8M218.7 275.8h.8M225.5 284.3h.8M219.6 293.1h.8M226.9 278.0h.8M244.3 277.6h.8M203.7 294.4h.8M223.2 286.5h.8M223.3 275.0h.8M231.5 278.6h.8M206.4 279.6h.8M243.4 287.1h.8M235.8 288.4h.8M232.8 289.4h.8M251.2 291.3h.8M263.0 288.5h.8M232.2 286.3h.8M223.8 289.4h.8M217.5 278.1h.8M204.0 294.7h.8M233.8 284.2h.8M241.5 284.9h.8M218.0 288.5h.8M233.1 275.6h.8M240.2 280.9h.8M215.1 285.1h.8M223.6 281.3h.8M233.4 279.8h.8M228.4 283.2h.8M237.7 289.4h.8M244.5 296.0h.8M236.1 289.1h.8M205.2 292.2h.8M239.3 290.0h.8M225.4 295.1h.8M214.1 290.8h.8M224.6 267.1h.8M214.1 289.8h.8M233.9 284.7h.8M216.7 288.3h.8M240.5 287.1h.8M250.4 281.6h.8M234.2 291.9h.8M239.4 289.8h.8M248.1 284.3h.8M249.6 280.5h.8M216.9 278.5h.8M234.7 287.5h.8M238.4 295.1h.8M240.3 278.4h.8M230.5 284.7h.8M218.9 286.8h.8M242.1 288.5h.8M211.5 292.0h.8M207.0 290.3h.8M217.5 278.8h.8M225.0 280.2h.8M234.1 294.2h.8M234.9 285.2h.8M239.2 278.4h.8M247.3 286.9h.8M244.4 288.4h.8M219.4 293.2h.8M234.5 289.2h.8M231.5 288.0h.8M213.9 283.5h.8M241.1 280.0h.8M224.7 278.1h.8M210.5 289.5h.8M236.5 284.6h.8M237.7 277.8h.8M237.2 282.8h.8M245.4 286.0h.8M221.0 286.0h.8M225.4 276.1h.8M222.5 295.4h.8M250.0 276.3h.8M231.1 292.0h.8M229.9 276.3h.8M225.1 283.2h.8M242.5 292.0h.8M227.0 289.5h.8M225.2 287.2h.8M256.1 284.5h.8M233.5 282.5h.8M235.8 287.7h.8M226.4 294.7h.8M214.5 281.7h.8M233.0 268.8h.8M233.6 290.4h.8M246.3 293.3h.8M233.3 281.8h.8M244.3 281.8h.8M211.1 293.3h.8M233.8 289.6h.8M262.0 280.1h.8M221.2 274.9h.8M247.5 280.1h.8M237.2 281.3h.8M232.5 272.1h.8M243.3 281.5h.8M213.9 273.5h.8M242.2 281.4h.8M241.5 298.7h.8M241.6 277.3h.8M239.5 286.4h.8M239.0 274.7h.8M209.4 291.7h.8M229.6 282.0h.8M244.2 298.1h.8M239.4 283.6h.8M224.6 290.4h.8M228.8 287.0h.8M234.9 269.3h.8M222.6 287.7h.8M233.9 292.5h.8M231.9 278.5h.8M230.9 290.7h.8M243.8 294.2h.8M206.3 277.1h.8M225.5 281.0h.8M248.4 293.2h.8M233.7 295.1h.8M237.2 288.7h.8M235.2 293.1h.8M213.2 289.3h.8M235.0 279.7h.8M233.7 274.7h.8M232.1 294.3h.8M234.3 279.9h.8M221.6 280.2h.8M251.8 279.1h.8M207.1 279.8h.8M204.6 289.5h.8M233.5 286.1h.8M215.5 289.6h.8M249.6 281.2h.8M217.3 283.6h.8M242.1 276.0h.8M212.5 273.5h.8M221.3 278.0h.8M247.0 277.2h.8M247.7 269.6h.8M213.1 283.0h.8M206.9 284.7h.8M247.7 276.2h.8M226.1 276.6h.8M236.0 287.0h.8M236.9 283.0h.8M242.5 277.6h.8M235.1 282.5h.8M237.8 279.9h.8M221.8 283.3h.8M211.6 275.2h.8M215.8 281.4h.8M231.9 289.3h.8M242.0 277.7h.8M212.6 302.5h.8M217.3 285.9h.8M234.6 273.3h.8M233.5 278.5h.8M240.7 281.9h.8M228.5 286.1h.8M238.3 275.1h.8M218.3 287.9h.8M204.5 281.2h.8M255.5 292.2h.8M219.9 284.9h.8M225.5 278.6h.8M248.5 276.2h.8M251.5 283.8h.8M246.4 289.8h.8M228.6 287.4h.8M221.5 289.0h.8M234.0 284.2h.8M233.3 284.0h.8M236.2 283.9h.8M246.4 287.3h.8M231.4 285.1h.8M220.4 280.3h.8M223.6 283.4h.8M224.6 283.1h.8M219.7 287.1h.8M226.2 281.1h.8M247.7 295.0h.8M244.8 294.0h.8M242.4 291.9h.8M223.9 291.0h.8M215.8 281.0h.8M238.7 281.9h.8M237.8 278.1h.8M226.3 280.2h.8M226.1 288.1h.8M224.7 284.8h.8M240.3 279.2h.8M220.9 289.0h.8M229.2 287.7h.8M204.1 283.7h.8M228.6 287.3h.8M236.8 288.1h.8M226.9 275.8h.8M207.1 280.3h.8M231.9 284.3h.8M227.9 284.6h.8M247.8 282.6h.8M230.6 298.4h.8M248.9 284.0h.8M229.3 278.6h.8M223.9 293.9h.8M228.4 285.9h.8M235.3 274.7h.8M233.0 288.1h.8M225.7 281.2h.8M219.7 282.5h.8M235.0 293.7h.8M235.6 281.9h.8M231.4 281.6h.8M227.4 282.3h.8M226.7 292.4h.8M218.9 285.2h.8M234.6 283.0h.8M240.7 291.4h.8M244.9 288.0h.8M227.9 286.6h.8M220.5 287.4h.8M217.0 278.4h.8M238.2 296.2h.8M227.4 295.8h.8M234.8 281.3h.8M228.5 288.8h.8M220.3 290.0h.8M222.1 274.5h.8M204.2 278.0h.8M240.3 299.4h.8M233.2 284.9h.8M226.0 283.1h.8M239.8 274.7h.8M229.9 282.8h.8M214.7 283.5h.8M233.3 287.4h.8M227.3 291.4h.8M244.7 283.8h.8M224.9 280.8h.8M231.1 280.3h.8M242.0 287.8h.8M238.5 278.1h.8M219.7 286.2h.8M225.9 294.7h.8M221.7 280.7h.8M236.4 277.7h.8M229.2 284.1h.8M234.7 276.4h.8M233.4 286.1h.8M238.3 280.6h.8M210.3 292.5h.8M239.3 289.5h.8M250.5 276.1h.8M240.8 285.0h.8M246.0 286.5h.8M223.3 283.3h.8M240.9 281.4h.8M235.5 279.2h.8M230.1 288.9h.8M260.4 281.3h.8M217.7 276.1h.8M244.4 280.2h.8M209.5 277.5h.8M224.5 273.1h.8M221.9 289.4h.8M239.0 282.2h.8M245.2 276.8h.8M231.1 278.5h.8M231.3 277.3h.8M219.8 276.9h.8M239.8 289.5h.8M239.8 295.8h.8M220.7 279.3h.8M239.5 291.3h.8M217.1 289.0h.8M245.4 292.3h.8M234.2 282.8h.8M216.7 287.9h.8M234.0 281.9h.8M242.4 287.4h.8M240.1 283.3h.8M236.8 281.0h.8M217.1 284.2h.8M224.3 287.5h.8M250.9 291.4h.8M234.2 297.5h.8M242.5 292.2h.8M231.7 283.0h.8M244.5 283.4h.8M221.2 275.8h.8M232.8 277.0h.8M242.2 283.1h.8M247.8 288.3h.8M234.7 284.2h.8M248.6 281.8h.8M237.1 277.3h.8M236.8 275.5h.8M226.4 295.1h.8M229.8 272.1h.8M217.3 279.8h.8M236.6 279.6h.8M229.9 270.0h.8M235.5 290.4h.8M225.8 279.6h.8M234.0 285.8h.8M259.0 285.2h.8M232.4 289.0h.8M239.7 285.1h.8M238.5 285.9h.8M214.4 283.0h.8M238.7 285.5h.8M211.1 291.7h.8M244.5 273.6h.8M226.3 283.6h.8M225.4 283.0h.8M223.7 278.4h.8M207.4 279.8h.8M232.1 289.1h.8M228.2 279.8h.8M247.7 276.9h.8M236.0 294.7h.8M215.2 273.5h.8M246.5 288.7h.8M228.4 288.4h.8M238.2 283.9h.8M237.7 276.6h.8M224.6 282.6h.8M206.9 282.1h.8M213.3 296.3h.8M225.4 279.8h.8M242.6 284.3h.8M238.7 288.1h.8M241.0 288.4h.8M210.2 279.3h.8M208.7 293.4h.8M234.1 285.7h.8M209.5 279.5h.8M243.0 292.0h.8M234.2 293.1h.8M245.0 289.8h.8M236.3 297.8h.8M229.8 287.7h.8M229.8 287.9h.8M219.9 281.1h.8M251.3 287.2h.8M214.7 294.4h.8M235.9 278.4h.8M219.4 288.4h.8M209.0 286.7h.8M249.5 283.3h.8M207.5 287.4h.8M221.7 282.4h.8M238.8 288.4h.8M250.6 290.1h.8M232.2 283.5h.8M210.6 294.8h.8M230.1 280.2h.8M237.9 287.4h.8M224.3 279.0h.8M224.8 282.6h.8M244.5 289.5h.8M244.3 277.8h.8M229.6 295.7h.8M241.4 278.1h.8M232.3 277.9h.8M204.5 276.5h.8M241.1 283.1h.8M214.9 280.3h.8M203.3 295.1h.8M237.6 292.0h.8M238.6 272.3h.8M235.9 287.7h.8M240.7 286.4h.8M239.0 288.4h.8M240.8 287.3h.8M234.9 289.9h.8M239.3 287.6h.8M209.4 284.9h.8M224.5 292.5h.8M246.5 291.2h.8M253.5 279.1h.8M248.3 286.0h.8M232.2 286.5h.8M219.8 287.3h.8M228.5 278.5h.8M239.4 281.5h.8M228.2 277.6h.8M233.6 281.6h.8M253.6 288.9h.8M241.7 284.9h.8M248.5 277.6h.8M204.7 291.7h.8M235.6 291.4h.8M242.4 281.5h.8M236.5 279.3h.8M227.2 286.6h.8M244.9 294.8h.8M218.6 278.6h.8M228.2 285.5h.8M238.5 286.1h.8M228.0 285.7h.8M225.0 278.9h.8M218.9 297.1h.8M248.3 277.6h.8M217.1 293.7h.8M229.3 285.2h.8M223.6 283.7h.8M228.0 279.2h.8M237.1 275.9h.8M215.3 281.4h.8M245.5 299.3h.8M217.9 292.0h.8M233.3 286.4h.8M251.9 280.2h.8M236.9 285.4h.8M255.6 283.9h.8M226.5 281.7h.8M235.8 296.0h.8M203.7 286.5h.8M224.0 288.3h.8M248.3 288.3h.8M238.5 280.2h.8M237.7 281.3h.8M235.2 288.6h.8M231.6 270.0h.8M219.8 291.4h.8M238.4 286.0h.8M210.9 292.9h.8M233.5 280.8h.8M242.8 281.9h.8M225.6 279.0h.8M226.5 283.6h.8M238.1 281.6h.8M218.7 295.2h.8M231.0 282.7h.8M213.3 289.8h.8M242.7 294.0h.8M237.8 282.2h.8M237.8 287.9h.8M222.2 282.8h.8M243.0 286.8h.8M240.8 284.4h.8M231.6 284.5h.8M210.5 277.0h.8M234.3 287.6h.8M221.8 273.8h.8M212.1 277.6h.8M241.3 278.8h.8M232.7 283.6h.8M234.5 290.2h.8M237.5 288.8h.8M216.3 283.1h.8M208.8 283.8h.8M240.1 276.2h.8M219.6 286.7h.8M237.5 284.0h.8M232.4 286.3h.8M234.4 292.3h.8M235.6 285.3h.8M232.3 268.3h.8M212.4 289.8h.8M211.6 285.3h.8M237.8 291.8h.8M204.7 275.7h.8M234.2 282.9h.8M240.0 285.7h.8M214.6 287.9h.8M208.0 291.6h.8M216.7 268.9h.8M214.9 292.9h.8M242.1 284.5h.8M237.3 294.3h.8M221.9 290.1h.8M228.0 281.2h.8M232.9 290.7h.8M233.6 278.1h.8M246.0 284.8h.8M241.3 282.0h.8M234.2 287.5h.8M242.2 280.0h.8M228.2 284.2h.8M242.3 280.3h.8M235.9 284.0h.8M218.0 292.5h.8M235.0 286.6h.8M241.7 295.4h.8M227.5 288.8h.8M218.1 275.7h.8M263.9 288.6h.8M231.9 286.6h.8M217.8 281.2h.8M210.4 285.5h.8M246.0 275.9h.8M244.0 279.2h.8M230.0 287.4h.8M246.8 283.0h.8M242.9 287.0h.8M208.0 293.8h.8M236.6 284.0h.8M246.5 284.3h.8M234.5 281.1h.8M238.6 289.0h.8M243.9 270.7h.8M250.2 274.0h.8M238.4 282.3h.8M241.7 289.7h.8M239.0 282.2h.8M212.4 280.4h.8M244.4 280.4h.8M239.8 284.6h.8M209.2 294.2h.8M245.8 283.6h.8M227.5 286.1h.8M233.3 277.3h.8M240.4 287.3h.8M235.6 273.2h.8M250.0 286.9h.8M239.2 281.6h.8M246.7 286.4h.8M215.5 288.2h.8M230.0 273.1h.8M217.6 292.9h.8M235.8 283.0h.8M228.2 275.7h.8M226.8 288.5h.8M236.0 275.4h.8M237.1 290.2h.8M209.4 284.4h.8M219.6 283.7h.8M217.4 289.7h.8M226.3 293.2h.8M247.1 273.0h.8M252.7 297.7h.8M223.4 276.0h.8M218.1 276.4h.8M245.0 274.7h.8M237.1 277.0h.8M241.9 282.1h.8M240.3 281.9h.8M250.4 281.1h.8M234.6 278.9h.8M224.7 286.5h.8M227.1 290.0h.8M225.8 287.8h.8M230.0 286.7h.8M244.2 283.9h.8M229.1 289.2h.8M247.9 293.7h.8M238.0 275.8h.8M230.8 282.6h.8M227.2 281.5h.8M219.8 285.1h.8M238.6 275.9h.8M265.3 284.4h.8M239.1 279.7h.8M235.1 290.3h.8M238.9 288.3h.8M249.0 274.8h.8M233.9 278.0h.8M229.9 302.3h.8M213.0 284.0h.8M211.4 281.4h.8M237.0 281.0h.8M232.8 293.3h.8M209.4 291.1h.8M223.2 283.5h.8M239.1 291.7h.8M224.7 277.3h.8M216.7 285.6h.8M244.8 275.6h.8M235.4 291.4h.8M236.6 287.2h.8M229.3 269.9h.8M226.2 285.7h.8M216.8 289.9h.8M236.1 290.2h.8M226.4 284.7h.8M244.7 288.5h.8M241.8 298.7h.8M234.4 287.3h.8M240.2 289.1h.8M240.0 284.5h.8M220.0 295.2h.8M223.5 285.8h.8M239.0 269.2h.8M238.8 284.8h.8M237.9 292.2h.8M236.3 286.9h.8M237.4 280.4h.8M239.3 284.5h.8M239.7 281.7h.8M214.9 284.9h.8M236.7 275.2h.8M240.3 285.8h.8M237.9 290.5h.8M243.6 286.2h.8M244.9 272.4h.8M239.4 274.7h.8M240.2 280.5h.8M238.9 288.8h.8M239.5 280.3h.8M204.5 280.2h.8M224.9 290.4h.8M248.8 280.3h.8M232.3 280.4h.8M237.2 284.8h.8M241.1 280.8h.8M239.9 294.3h.8M234.4 288.2h.8M228.2 284.8h.8M232.7 267.2h.8M237.5 293.6h.8M215.5 298.5h.8M227.7 282.1h.8M238.9 282.9h.8M239.2 287.8h.8M238.4 290.5h.8M229.0 283.5h.8M228.8 287.4h.8M209.7 284.1h.8M233.7 283.4h.8M249.6 279.6h.8M242.9 284.2h.8M209.9 276.8h.8M234.5 284.6h.8M226.7 276.3h.8M238.5 293.1h.8M229.0 286.8h.8M230.7 281.3h.8M238.7 288.7h.8M246.8 282.9h.8M208.2 281.0h.8M233.2 289.9h.8M243.1 284.5h.8M253.7 283.1h.8M216.7 285.5h.8M243.3 285.7h.8M236.8 281.3h.8M237.9 285.4h.8M231.2 275.6h.8M228.8 288.3h.8M229.0 294.1h.8M247.3 288.7h.8M227.2 293.3h.8M204.0 272.1h.8M239.3 296.4h.8M230.5 278.6h.8M215.8 289.5h.8M241.6 288.5h.8M221.2 274.2h.8M242.8 282.4h.8M224.3 288.7h.8M243.9 277.4h.8M218.7 289.6h.8M233.3 287.4h.8M228.6 285.5h.8M233.8 294.9h.8M222.9 289.6h.8M237.4 294.3h.8M220.3 273.7h.8M221.5 299.3h.8M205.0 294.3h.8M232.5 273.2h.8M235.0 301.1h.8M219.5 283.9h.8M254.5 289.2h.8M235.2 283.4h.8M227.0 297.3h.8M220.7 280.2h.8M233.5 278.4h.8M251.7 288.6h.8M214.9 288.4h.8M231.4 282.3h.8M239.3 280.1h.8M233.3 287.4h.8M231.4 276.7h.8M229.5 284.7h.8M235.1 290.1h.8M205.9 291.1h.8M245.7 292.7h.8M245.3 283.3h.8M234.6 291.8h.8M237.9 277.9h.8M226.3 292.1h.8M240.1 288.1h.8M221.9 289.0h.8M252.2 279.8h.8M219.9 287.3h.8M215.2 282.6h.8M220.1 289.7h.8M223.8 287.4h.8M233.5 285.3h.8M230.3 290.6h.8M221.9 290.4h.8M235.2 282.4h.8M227.2 282.5h.8M214.3 282.4h.8M213.1 290.5h.8M219.6 284.1h.8M232.8 278.3h.8M228.2 287.9h.8M222.2 290.1h.8M225.1 281.4h.8M242.5 288.3h.8M250.7 289.7h.8M221.1 285.4h.8M213.4 276.0h.8M204.8 292.8h.8M256.6 289.4h.8M223.4 273.4h.8M232.3 278.5h.8M228.4 289.3h.8M243.5 284.0h.8M207.1 295.0h.8M237.9 280.5h.8M229.8 285.3h.8M240.0 283.6h.8M226.2 277.2h.8M220.5 275.9h.8M227.3 279.7h.8M209.6 276.4h.8M220.2 292.5h.8M217.7 281.0h.8M255.0 277.2h.8M217.1 287.5h.8M251.6 286.8h.8M235.8 292.4h.8M231.7 287.5h.8M245.9 278.4h.8M220.5 284.4h.8M234.1 285.3h.8M225.3 286.6h.8M242.4 297.0h.8M225.4 284.3h.8M235.1 297.0h.8M237.6 280.8h.8M228.7 284.5h.8M206.9 278.8h.8M244.5 282.6h.8M244.2 283.0h.8M245.1 294.1h.8M211.7 281.5h.8M231.9 287.7h.8M231.1 270.7h.8M228.8 286.6h.8M245.2 271.5h.8M238.9 277.9h.8M238.0 293.4h.8M228.2 279.7h.8M242.3 292.1h.8M215.4 282.1h.8M234.6 290.1h.8M240.7 279.0h.8M226.4 279.2h.8M227.8 287.6h.8M254.7 282.8h.8M207.5 271.4h.8M237.9 286.2h.8M223.6 283.6h.8M220.5 292.4h.8M236.9 289.0h.8M234.7 287.6h.8M237.9 279.0h.8M231.5 280.1h.8M220.6 284.2h.8M241.6 293.0h.8M214.9 280.8h.8M204.7 284.0h.8M237.7 283.1h.8M226.7 288.6h.8M229.5 298.4h.8M219.2 305.1h.8M205.1 281.2h.8M207.2 281.5h.8M230.2 277.3h.8M219.0 281.5h.8M243.1 293.0h.8M240.3 289.7h.8M244.7 278.0h.8M217.4 278.5h.8M231.1 287.5h.8M254.6 280.4h.8M228.0 279.0h.8M205.0 283.4h.8M237.7 279.3h.8M220.6 282.1h.8M242.2 281.9h.8M233.9 282.9h.8M225.7 284.2h.8M227.1 283.5h.8M247.4 280.9h.8M245.8 278.3h.8M231.2 286.3h.8M233.1 280.0h.8M240.4 291.1h.8M237.3 295.4h.8M234.9 283.8h.8M213.6 285.8h.8M233.7 286.7h.8M219.1 287.9h.8M257.6 290.9h.8M233.6 280.5h.8M240.1 291.8h.8M233.0 278.0h.8M217.7 277.4h.8M243.1 272.7h.8M252.6 287.6h.8M239.7 288.0h.8M240.6 288.6h.8M218.4 296.7h.8M213.0 296.4h.8M220.0 284.6h.8M215.2 281.2h.8M210.2 289.0h.8M250.6 291.7h.8M216.5 281.5h.8M230.1 288.4h.8M228.6 276.6h.8M227.4 289.2h.8M226.8 271.1h.8M204.7 279.1h.8M238.6 283.3h.8M235.7 287.8h.8M239.4 273.1h.8M253.5 286.6h.8M244.0 283.5h.8M246.2 293.3h.8M220.3 298.4h.8M236.1 285.8h.8M234.9 284.2h.8M221.4 278.7h.8M206.5 275.8h.8M220.1 282.9h.8M227.7 276.3h.8M204.5 282.3h.8M230.0 279.5h.8M237.2 291.2h.8M225.1 284.5h.8M250.4 281.6h.8M234.4 284.5h.8M229.7 286.8h.8M240.8 280.9h.8M232.6 282.9h.8M245.7 282.0h.8M210.9 290.8h.8M239.6 283.6h.8M205.1 296.1h.8M228.2 296.9h.8M215.0 282.7h.8M249.3 284.1h.8M239.1 281.9h.8M225.9 286.5h.8M246.5 289.9h.8M223.1 288.2h.8M245.7 284.6h.8M247.3 291.9h.8M225.7 279.1h.8M236.8 289.3h.8M245.9 294.0h.8M235.9 284.1h.8M234.9 278.9h.8M223.4 273.7h.8M228.1 282.2h.8M229.9 280.6h.8M237.3 288.3h.8M239.4 283.7h.8M211.6 289.2h.8M243.3 285.0h.8M248.0 289.4h.8M229.6 283.1h.8M209.8 278.5h.8M223.8 282.7h.8M231.4 286.2h.8M232.5 286.8h.8M247.6 288.9h.8M253.2 277.8h.8M245.9 296.4h.8M243.7 284.8h.8M219.1 285.0h.8M228.8 282.7h.8M218.8 278.6h.8M212.9 297.5h.8M219.3 283.5h.8M219.2 274.9h.8M220.6 282.1h.8M238.0 288.0h.8M238.4 276.5h.8M204.8 283.5h.8M237.7 282.1h.8M217.3 275.3h.8M242.6 285.2h.8M203.5 276.9h.8M229.1 277.7h.8M240.6 294.0h.8M204.8 282.3h.8M225.1 294.2h.8M221.5 283.7h.8M251.1 284.8h.8M240.2 298.3h.8M230.0 299.7h.8M225.7 290.6h.8M235.2 280.3h.8M222.8 278.5h.8M234.1 280.8h.8M238.5 277.7h.8M224.2 276.6h.8M240.0 286.5h.8M224.9 274.6h.8M240.7 283.3h.8M207.9 285.8h.8M219.1 279.1h.8M230.4 292.9h.8M211.7 295.6h.8M237.9 286.2h.8M243.7 286.2h.8M236.4 293.5h.8M239.4 281.6h.8M226.2 290.5h.8M224.8 285.4h.8M251.3 284.1h.8M240.6 286.3h.8M243.9 276.6h.8M230.0 292.3h.8M235.1 287.2h.8M218.7 282.5h.8M230.2 280.3h.8M225.6 290.2h.8M222.3 284.6h.8M213.4 280.0h.8M223.3 291.4h.8M204.9 298.1h.8M204.7 284.0h.8M228.4 292.6h.8M233.0 288.9h.8M241.1 301.7h.8M203.6 283.1h.8M232.6 288.2h.8M241.0 287.9h.8M257.9 276.3h.8M237.5 286.6h.8M230.8 288.1h.8M234.2 295.3h.8M229.5 293.9h.8M236.9 286.7h.8M250.8 281.2h.8M237.2 274.6h.8M224.9 281.8h.8M245.4 285.9h.8M228.1 281.2h.8M221.7 276.3h.8M245.7 289.6h.8M238.6 282.3h.8M237.5 272.5h.8M227.4 284.0h.8M233.6 287.1h.8M239.7 289.1h.8M227.0 276.0h.8M223.1 276.9h.8M229.0 280.4h.8M230.4 284.2h.8M208.8 283.9h.8M231.7 286.7h.8M233.7 288.6h.8M224.8 283.9h.8M215.6 285.3h.8M223.9 284.3h.8M230.8 277.2h.8M225.4 283.7h.8M220.1 276.2h.8M226.2 280.9h.8M235.6 291.7h.8M264.0 291.6h.8M244.0 287.5h.8M231.2 291.0h.8M247.2 269.6h.8M239.0 283.2h.8M232.7 279.3h.8M242.0 285.6h.8M244.9 281.4h.8M212.7 282.6h.8M235.3 290.7h.8M226.4 290.3h.8M239.4 301.3h.8M247.8 281.4h.8M238.7 289.7h.8M239.4 284.7h.8M222.6 292.4h.8M234.2 284.9h.8M204.0 292.5h.8M215.8 293.0h.8M231.4 282.4h.8M218.3 277.8h.8M234.0 277.0h.8M234.3 283.0h.8M240.0 263.4h.8M224.1 286.6h.8M235.8 281.8h.8M218.7 295.1h.8M248.0 284.9h.8M245.7 288.6h.8M250.4 288.9h.8M243.1 284.7h.8M233.8 288.9h.8M227.4 285.0h.8M221.5 281.5h.8M228.7 287.3h.8M244.5 274.4h.8M215.7 277.6h.8M247.7 282.7h.8M215.7 285.3h.8M204.9 295.3h.8M236.1 288.3h.8M238.7 277.9h.8M222.9 292.4h.8M235.0 293.6h.8M251.6 283.6h.8M221.0 281.5h.8M237.7 291.4h.8M220.5 285.7h.8M231.8 287.2h.8M207.5 294.9h.8M248.5 284.6h.8M244.4 283.6h.8M223.7 286.8h.8M242.0 285.4h.8M244.4 280.1h.8M216.0 289.2h.8M227.6 282.2h.8M239.5 283.5h.8M213.0 295.4h.8M252.7 282.5h.8M225.7 286.1h.8M239.9 283.8h.8M203.4 277.5h.8M220.1 284.8h.8M234.1 283.6h.8M244.8 285.6h.8M250.3 280.1h.8M229.1 282.6h.8M241.8 289.4h.8M237.5 274.3h.8M218.0 292.3h.8M224.8 294.0h.8M253.3 296.0h.8M226.1 275.1h.8M211.4 278.0h.8M238.0 281.0h.8M239.3 281.3h.8M239.8 288.0h.8M233.2 288.3h.8M250.7 297.5h.8M235.5 287.2h.8M234.9 289.5h.8M257.9 272.8h.8M248.0 282.8h.8M210.9 283.2h.8M230.9 279.3h.8M228.5 282.5h.8M228.3 274.4h.8M242.4 284.9h.8M221.7 288.6h.8M236.9 286.6h.8M247.1 285.8h.8M240.2 284.5h.8M236.8 282.6h.8M236.5 278.4h.8M240.8 297.5h.8M232.2 294.0h.8M219.2 283.1h.8M239.4 296.0h.8M234.7 283.4h.8M213.0 282.3h.8M220.3 288.6h.8M231.5 278.8h.8M211.7 288.1h.8M228.0 285.7h.8M234.9 268.8h.8M239.5 271.0h.8M242.3 294.2h.8M237.4 281.1h.8M213.3 277.5h.8M231.0 280.6h.8M233.8 291.8h.8M216.7 273.5h.8M235.9 283.9h.8M242.6 277.5h.8M213.8 278.6h.8M247.1 286.8h.8M246.2 290.6h.8M245.7 269.0h.8M239.8 284.2h.8M241.7 285.6h.8M234.1 281.4h.8M240.4 284.4h.8M239.4 285.7h.8M226.3 283.8h.8M221.2 280.0h.8M246.6 289.9h.8M221.0 275.8h.8M239.4 283.0h.8M235.2 287.7h.8M221.7 280.4h.8M230.7 286.8h.8M234.5 289.1h.8M208.6 280.7h.8M250.7 287.1h.8M224.6 299.2h.8M235.8 283.8h.8M225.9 277.8h.8M237.8 285.8h.8M239.5 274.1h.8M218.5 281.9h.8M235.7 290.1h.8M230.1 290.3h.8M214.2 272.9h.8M241.0 298.9h.8M238.8 273.5h.8M213.1 285.1h.8M243.7 286.3h.8M214.6 283.4h.8M237.2 287.4h.8M252.4 287.5h.8M222.4 296.2h.8M228.2 291.5h.8M244.1 292.7h.8M248.2 287.1h.8M217.9 277.7h.8M215.7 294.9h.8M215.4 282.3h.8M238.6 277.5h.8M229.2 291.7h.8M229.8 288.6h.8M235.8 292.5h.8M242.3 283.8h.8M204.8 290.0h.8M247.1 288.0h.8M226.8 284.7h.8M232.3 289.8h.8M237.6 285.5h.8M241.7 287.8h.8M231.8 280.4h.8M253.7 292.8h.8M225.4 290.3h.8M224.2 268.1h.8M242.7 289.3h.8M249.1 284.8h.8M207.7 287.6h.8M247.1 283.4h.8M219.4 282.7h.8M239.9 291.1h.8M231.2 284.3h.8M219.9 291.9h.8M234.7 279.4h.8M223.3 284.8h.8M244.4 284.6h.8M207.2 271.7h.8M229.7 286.3h.8M230.4 283.8h.8M232.1 281.0h.8M221.5 289.2h.8M229.3 282.8h.8M240.9 284.8h.8M228.3 281.3h.8M217.0 296.1h.8M247.6 281.4h.8M211.6 269.7h.8M220.6 276.3h.8M234.3 286.3h.8M221.4 285.8h.8M217.2 280.1h.8M220.0 290.8h.8M246.0 271.1h.8M250.2 282.2h.8M228.9 296.4h.8M232.9 282.9h.8M247.1 287.1h.8M222.2 282.3h.8M219.6 290.5h.8M209.6 276.3h.8M240.1 286.3h.8M218.1 281.5h.8M213.6 289.2h.8M238.0 286.3h.8M244.7 283.9h.8M236.9 273.8h.8M206.9 290.3h.8M210.0 290.8h.8M215.9 293.6h.8M229.9 289.1h.8M235.8 275.0h.8M212.8 282.4h.8M253.6 280.8h.8M236.0 290.8h.8M252.9 278.8h.8M244.4 279.3h.8M235.4 293.3h.8M241.5 284.0h.8M242.8 290.2h.8M229.7 281.1h.8M214.6 280.7h.8M228.5 283.6h.8M239.8 279.8h.8M243.7 284.5h.8M217.5 280.5h.8M227.4 287.1h.8M225.3 281.3h.8M226.8 286.9h.8M224.9 282.2h.8M246.1 285.9h.8M233.5 286.5h.8M245.9 280.7h.8M232.1 293.7h.8M229.4 291.9h.8M227.0 288.0h.8M248.0 281.4h.8M225.2 271.5h.8M222.7 268.6h.8M237.9 283.4h.8M210.3 294.9h.8M228.5 290.5h.8M248.0 283.2h.8M235.7 289.7h.8M230.3 285.7h.8M246.6 278.5h.8M208.6 297.0h.8M246.9 276.6h.8M214.8 296.2h.8M220.8 280.9h.8M247.8 277.1h.8M221.2 284.8h.8M231.0 278.8h.8M212.1 282.7h.8M234.6 278.0h.8M234.8 286.8h.8M230.1 288.8h.8M241.8 283.0h.8M228.1 289.6h.8M237.6 278.6h.8M227.0 287.0h.8M244.2 290.3h.8M204.5 288.6h.8M226.9 280.6h.8M232.7 291.4h.8M228.8 281.9h.8M230.8 286.3h.8M238.8 284.2h.8M258.3 290.9h.8M240.5 292.9h.8M214.9 283.2h.8M219.3 281.5h.8M231.1 276.4h.8M237.9 285.7h.8M225.8 279.8h.8M234.8 283.1h.8M219.4 293.0h.8M215.4 287.1h.8M229.2 280.3h.8M246.2 281.0h.8M217.2 286.7h.8M220.5 286.8h.8M242.0 273.4h.8M237.4 279.4h.8M232.9 283.1h.8M252.2 279.2h.8M230.6 277.2h.8M236.0 271.0h.8M237.1 275.9h.8M244.0 290.0h.8M270.5 292.9h.8M222.7 278.1h.8M249.0 290.7h.8M238.7 277.0h.8M210.6 288.8h.8M231.4 282.0h.8M231.4 285.8h.8M231.7 290.7h.8M217.7 286.4h.8M239.7 291.3h.8M229.8 280.2h.8M224.7 292.5h.8M230.9 290.6h.8M241.4 272.1h.8M231.5 283.4h.8M243.3 283.0h.8M243.7 284.9h.8M238.4 285.0h.8M244.3 285.6h.8M258.0 279.4h.8M211.3 279.0h.8M244.9 288.0h.8M226.3 273.1h.8M234.6 274.6h.8M234.6 280.7h.8M211.8 290.0h.8M240.5 280.7h.8M216.8 272.8h.8M223.0 276.6h.8M242.6 288.6h.8M240.1 272.1h.8M244.8 275.9h.8M236.5 281.5h.8M231.3 268.7h.8M238.3 286.8h.8M234.4 279.3h.8M239.5 295.0h.8M243.0 286.6h.8M236.9 284.4h.8M227.9 278.6h.8M213.7 282.4h.8M236.6 277.7h.8M219.8 288.0h.8M221.6 276.8h.8M237.8 285.0h.8M236.5 275.7h.8M226.7 291.6h.8M248.9 277.6h.8M208.5 290.5h.8M214.0 279.0h.8M236.3 272.9h.8M242.0 287.4h.8M244.5 278.3h.8M246.8 293.3h.8M229.7 284.9h.8M253.8 293.0h.8M222.8 291.4h.8M241.6 279.1h.8M223.6 275.9h.8M239.5 288.8h.8M231.5 276.2h.8M224.9 284.5h.8M253.2 272.6h.8M204.3 283.5h.8M244.1 286.9h.8M222.9 276.4h.8M229.3 282.9h.8M240.2 280.9h.8M243.9 288.1h.8M257.2 280.0h.8M233.4 284.1h.8M225.8 275.8h.8M217.3 283.1h.8M227.6 296.7h.8M217.5 281.6h.8M232.5 288.1h.8M245.9 289.6h.8M225.0 291.0h.8M235.5 285.0h.8M243.4 292.4h.8M236.5 280.0h.8M218.9 286.9h.8M236.4 274.6h.8M246.1 284.0h.8M238.5 287.3h.8M237.5 282.5h.8M233.1 283.1h.8M238.6 289.6h.8M229.5 279.5h.8M224.6 286.7h.8M251.1 285.1h.8M218.1 285.9h.8M234.2 280.8h.8M222.9 300.8h.8M217.3 284.4h.8M247.1 283.5h.8M223.8 288.5h.8M255.3 274.4h.8M237.0 291.5h.8M221.0 290.0h.8M228.0 283.7h.8M231.8 296.3h.8M229.0 281.4h.8M239.3 269.5h.8M229.7 281.7h.8M243.8 282.4h.8M227.6 282.2h.8M230.7 283.3h.8M235.8 279.5h.8M221.3 281.1h.8M216.3 281.4h.8M236.8 289.0h.8M245.9 292.3h.8M224.0 290.0h.8M233.5 290.2h.8M251.0 275.3h.8M233.4 276.8h.8M232.9 282.3h.8M224.3 286.3h.8M242.0 282.9h.8M236.8 287.5h.8M219.0 294.2h.8M241.5 286.5h.8M237.2 292.6h.8M240.8 287.3h.8M233.4 292.0h.8M240.8 280.1h.8M243.3 277.3h.8M230.8 288.4h.8M233.7 289.0h.8M237.2 294.6h.8M223.8 277.9h.8M220.7 286.3h.8M206.5 276.2h.8M235.6 293.2h.8M219.8 282.7h.8M231.7 290.5h.8M217.2 282.5h.8M246.2 276.0h.8M260.2 279.6h.8M253.7 280.4h.8M236.2 283.4h.8M243.6 292.9h.8M242.3 290.6h.8M246.3 290.3h.8M209.4 289.3h.8M256.2 286.4h.8M221.8 291.3h.8M209.4 296.8h.8M209.6 287.0h.8M242.5 291.9h.8M230.9 282.3h.8M227.6 289.2h.8M233.0 277.4h.8M249.2 284.1h.8M241.1 277.8h.8M253.3 282.8h.8M233.5 288.6h.8M245.3 288.5h.8M236.7 293.6h.8M249.3 281.4h.8M222.1 274.3h.8M247.4 284.6h.8M263.5 291.5h.8M232.1 290.3h.8M235.5 275.9h.8M218.2 276.6h.8M233.1 291.0h.8M229.9 290.9h.8M229.3 275.4h.8M242.0 282.1h.8M232.6 290.6h.8M237.1 290.3h.8M247.6 281.9h.8M225.6 274.3h.8M248.9 288.0h.8M218.6 279.8h.8M209.1 290.0h.8M226.7 290.6h.8M222.3 285.5h.8M231.8 281.5h.8M251.0 284.6h.8M216.8 290.5h.8M208.5 285.4h.8M240.1 285.7h.8M254.5 278.1h.8M212.3 281.7h.8M231.6 291.0h.8M235.3 277.2h.8M204.4 292.4h.8M240.3 288.5h.8M238.0 281.7h.8M229.6 276.0h.8M235.3 278.6h.8M203.4 287.1h.8M228.4 284.2h.8M236.3 293.9h.8M218.6 288.2h.8M222.8 288.7h.8M239.0 285.7h.8M254.0 288.4h.8M249.4 278.6h.8M246.4 289.4h.8M237.6 268.2h.8M228.8 289.4h.8M215.9 290.2h.8M230.7 295.4h.8M213.3 279.4h.8M224.0 289.4h.8M229.4 272.7h.8M233.3 285.5h.8M232.2 289.8h.8M238.0 274.3h.8M238.5 285.3h.8M218.2 291.8h.8M210.0 289.9h.8M234.6 283.6h.8M206.3 273.9h.8M219.7 286.3h.8M213.3 292.0h.8M233.8 283.2h.8M230.1 282.4h.8M235.1 295.7h.8M242.0 278.9h.8M228.1 280.6h.8M238.6 286.4h.8M241.1 271.8h.8M244.0 285.6h.8M203.5 284.4h.8M218.3 284.2h.8M244.0 289.2h.8M246.2 281.9h.8M208.4 278.7h.8M227.7 276.7h.8M229.3 272.0h.8M226.3 283.2h.8M239.9 284.5h.8M240.8 290.2h.8M243.1 294.5h.8M251.8 281.8h.8M248.0 286.5h.8M241.9 286.6h.8M241.7 293.5h.8M244.2 286.0h.8M230.4 288.5h.8M220.1 295.9h.8M227.6 279.9h.8M239.3 286.4h.8M230.6 289.9h.8M228.5 285.5h.8M226.2 282.7h.8M224.0 281.7h.8M221.0 289.5h.8M222.5 279.5h.8M214.9 279.3h.8M229.7 291.6h.8M250.4 275.1h.8M231.8 271.4h.8M250.7 292.1h.8M235.0 292.1h.8M226.1 282.9h.8M233.9 292.1h.8M251.0 278.2h.8M248.4 282.7h.8M225.4 284.5h.8M237.8 282.1h.8M248.0 290.9h.8M238.7 294.9h.8M225.9 276.6h.8M215.0 281.9h.8M220.9 283.8h.8M208.0 278.9h.8M209.7 268.8h.8M231.1 285.8h.8M226.2 282.4h.8M249.0 281.9h.8M235.1 289.1h.8M249.5 288.6h.8M239.1 292.7h.8M243.5 285.8h.8M249.6 275.5h.8M234.3 288.2h.8M222.9 283.4h.8M225.3 284.0h.8M235.4 284.1h.8M265.3 281.7h.8M234.3 277.2h.8M218.7 286.2h.8M238.3 295.8h.8M242.7 285.6h.8M228.0 290.3h.8M240.1 295.9h.8M213.7 277.9h.8M231.7 283.9h.8M249.4 287.4h.8M228.3 291.8h.8M216.2 277.2h.8M208.6 280.9h.8M211.3 292.2h.8M246.2 280.4h.8M229.5 286.5h.8M259.2 281.3h.8M245.8 298.7h.8M253.3 285.4h.8M240.6 288.8h.8M246.4 272.8h.8M235.1 282.0h.8M233.6 284.3h.8M218.4 288.8h.8M213.9 280.0h.8M237.0 276.1h.8M234.2 291.5h.8M232.3 291.8h.8M235.1 278.1h.8M230.8 282.4h.8M228.3 291.6h.8M206.3 282.8h.8M249.1 281.4h.8M250.2 285.2h.8M235.7 288.5h.8M253.0 285.2h.8M234.4 276.9h.8M230.2 277.4h.8M228.7 288.7h.8M230.1 285.0h.8M238.2 283.0h.8M242.7 282.1h.8M236.1 285.5h.8M230.1 275.1h.8M235.8 303.0h.8M228.2 281.4h.8M210.8 293.5h.8M226.6 277.7h.8M237.5 283.9h.8M234.3 290.3h.8M246.0 281.5h.8M226.7 286.0h.8M244.6 285.5h.8M233.9 284.1h.8M235.6 286.8h.8M247.6 285.5h.8M218.5 284.1h.8M221.3 287.0h.8M247.0 285.6h.8M244.7 291.3h.8M241.1 286.2h.8M223.8 280.8h.8M204.4 281.8h.8M218.5 299.6h.8M209.8 291.6h.8M239.9 281.8h.8M221.7 278.5h.8M204.4 281.3h.8M241.2 287.9h.8M222.1 281.0h.8M236.3 288.7h.8M237.7 285.5h.8M241.6 289.5h.8M250.6 281.2h.8M224.0 290.6h.8M211.8 286.0h.8M235.0 273.2h.8M218.7 283.5h.8M220.1 286.8h.8M222.5 279.4h.8M247.7 288.4h.8M242.3 292.9h.8M222.6 290.1h.8M246.7 292.7h.8M250.9 289.8h.8M241.2 288.3h.8M235.2 287.3h.8M240.2 283.0h.8M230.2 288.2h.8M223.5 285.4h.8M231.8 274.7h.8M228.1 284.8h.8M231.4 281.6h.8M240.9 292.2h.8M242.4 282.8h.8M222.9 285.7h.8M247.8 276.1h.8M217.1 291.0h.8M227.6 299.6h.8M235.0 282.9h.8M226.5 288.9h.8M245.0 287.8h.8M204.4 276.6h.8M257.8 291.9h.8M217.8 292.0h.8M240.5 284.3h.8M246.6 274.1h.8M212.5 299.5h.8M234.3 292.5h.8M241.7 283.0h.8M213.5 292.6h.8M219.7 267.9h.8M236.5 273.1h.8M215.6 281.5h.8M232.6 292.0h.8M225.2 280.4h.8M234.1 291.0h.8M218.5 285.7h.8M203.9 283.1h.8M219.9 286.5h.8M234.2 283.3h.8M233.1 283.5h.8M235.2 293.1h.8M216.9 292.8h.8M204.4 287.0h.8M233.9 290.5h.8M230.8 291.1h.8M234.5 279.1h.8M213.0 284.2h.8M232.8 264.0h.8M218.8 290.1h.8M255.4 291.7h.8M208.8 281.7h.8M243.9 289.6h.8M215.4 277.7h.8M231.6 274.4h.8M233.1 286.9h.8M240.6 296.6h.8M242.6 295.7h.8M234.9 286.1h.8M218.2 288.3h.8M233.9 292.9h.8M231.7 271.1h.8M223.5 283.8h.8M231.2 282.2h.8M247.6 278.5h.8M233.9 288.4h.8M221.4 287.7h.8M247.2 279.2h.8M254.0 297.3h.8M250.4 283.4h.8M233.3 268.5h.8M232.6 284.0h.8M237.7 282.3h.8M230.2 300.5h.8M204.5 286.0h.8M245.8 288.8h.8M216.0 288.4h.8M215.6 280.1h.8M227.9 281.8h.8M246.5 287.5h.8M230.3 281.8h.8M245.2 290.4h.8M239.8 289.1h.8M243.4 283.7h.8M220.3 288.9h.8M210.8 278.4h.8M217.3 286.3h.8M254.2 281.4h.8M215.0 287.9h.8M250.8 291.6h.8M231.9 281.6h.8M215.7 275.8h.8M222.7 298.1h.8M244.9 281.4h.8M228.3 284.7h.8M223.0 285.0h.8M244.8 274.6h.8M225.5 300.7h.8M225.7 284.4h.8M245.2 288.6h.8M242.2 288.3h.8M235.4 280.6h.8M225.1 284.0h.8M225.3 281.8h.8M261.0 283.4h.8M214.7 288.7h.8M233.6 279.5h.8M225.8 286.6h.8M243.9 286.6h.8M225.4 285.5h.8M239.8 273.7h.8M231.8 278.3h.8M225.4 287.5h.8M236.3 284.1h.8M222.1 301.2h.8M255.8 280.4h.8M244.5 288.5h.8M236.7 295.2h.8M241.5 272.3h.8M226.1 284.7h.8M235.2 286.8h.8M238.4 282.2h.8M246.1 288.1h.8M239.3 273.9h.8M239.4 268.5h.8M253.4 284.8h.8M237.8 277.4h.8M218.3 290.4h.8M236.9 278.3h.8M234.8 290.8h.8M244.1 282.2h.8M205.2 280.5h.8M249.2 277.3h.8M214.9 285.6h.8M248.4 281.4h.8M241.0 286.3h.8M220.5 293.3h.8M224.8 287.7h.8M227.1 287.9h.8M235.3 292.2h.8M216.8 277.2h.8M227.1 273.7h.8M242.3 296.5h.8M234.1 284.8h.8M231.3 292.7h.8M241.8 284.2h.8M218.3 281.8h.8M216.2 273.8h.8M228.8 297.0h.8M236.0 280.1h.8M222.2 286.3h.8M233.4 289.1h.8M236.6 280.7h.8M239.2 285.7h.8M241.7 289.3h.8M227.0 281.5h.8M248.6 285.3h.8M236.6 279.1h.8M228.9 281.8h.8M246.9 278.9h.8M227.2 288.6h.8M215.8 295.9h.8M237.1 288.0h.8M208.3 282.8h.8M224.0 287.7h.8M233.9 282.9h.8M238.6 274.2h.8M242.3 298.1h.8M237.6 288.4h.8M237.0 282.5h.8M222.5 281.0h.8M237.9 286.1h.8M226.9 285.5h.8M228.8 286.1h.8M224.7 285.4h.8M249.0 285.6h.8M248.0 280.6h.8M227.2 289.6h.8M216.7 284.4h.8M231.6 276.5h.8M247.4 284.5h.8M233.6 289.5h.8M244.4 292.7h.8M220.6 286.3h.8M251.0 292.8h.8M256.2 277.5h.8M234.3 280.6h.8M204.3 284.0h.8M210.2 277.6h.8M214.8 275.9h.8M243.0 278.9h.8M231.1 290.7h.8M216.4 281.0h.8M240.3 280.8h.8M225.5 280.2h.8M208.2 285.2h.8M203.8 286.1h.8M241.7 283.8h.8M241.4 282.6h.8M218.2 274.8h.8M215.5 286.4h.8M226.6 283.9h.8M257.4 290.7h.8M236.8 281.5h.8M224.8 280.9h.8M223.1 291.7h.8M239.6 276.9h.8M244.1 282.3h.8M215.3 273.2h.8M225.6 276.3h.8M233.3 283.0h.8M232.2 288.0h.8M234.3 282.6h.8M230.1 296.7h.8M252.6 282.3h.8M225.1 290.2h.8M244.3 280.1h.8M225.9 283.5h.8M255.6 269.3h.8M227.6 289.2h.8M231.2 286.6h.8M245.4 288.6h.8M220.7 281.4h.8M243.2 291.2h.8M230.8 279.1h.8M231.7 277.9h.8M219.1 281.5h.8M238.5 278.2h.8M223.9 280.5h.8M234.4 284.7h.8M230.2 276.6h.8M235.6 278.1h.8M230.3 284.5h.8M245.8 285.6h.8M214.8 284.7h.8M232.9 281.8h.8M245.4 285.0h.8M241.3 283.2h.8M244.6 285.0h.8M218.2 292.8h.8M249.0 275.6h.8M225.3 293.6h.8M233.4 284.9h.8M222.4 285.1h.8M241.9 277.5h.8M242.5 293.1h.8M207.9 275.1h.8M203.7 289.2h.8M241.5 274.0h.8M225.4 282.3h.8M241.6 287.8h.8M235.6 290.1h.8M233.3 285.1h.8M229.9 289.3h.8M213.1 281.9h.8M223.6 281.4h.8M239.0 274.4h.8M239.4 287.3h.8M247.4 283.9h.8M229.4 286.6h.8M229.4 294.5h.8M236.4 288.0h.8M203.6 281.6h.8M246.0 285.4h.8M228.3 286.3h.8M231.8 281.4h.8M234.7 286.9h.8M216.7 287.0h.8M238.5 280.9h.8M218.5 271.7h.8M204.2 288.6h.8M240.7 287.4h.8M259.2 282.8h.8M240.4 289.2h.8M239.9 284.8h.8M232.5 270.7h.8M257.3 283.3h.8M250.8 273.8h.8M225.2 289.3h.8M231.8 274.4h.8M216.6 282.7h.8M233.6 279.8h.8M207.8 280.6h.8M222.6 291.0h.8M232.9 279.7h.8M205.0 283.3h.8M221.4 287.4h.8M241.8 279.5h.8M243.5 276.0h.8M217.8 283.1h.8M229.0 286.1h.8M229.5 277.7h.8M230.6 274.2h.8M229.8 282.2h.8M217.6 276.2h.8M245.9 290.6h.8M233.2 286.0h.8M219.6 294.6h.8M234.9 283.2h.8M241.2 285.0h.8M239.3 286.6h.8M256.5 290.1h.8M217.9 278.0h.8M223.9 280.2h.8M216.6 282.3h.8M212.6 277.7h.8M246.4 304.1h.8M234.3 285.4h.8M231.3 288.5h.8M244.6 295.0h.8M226.5 283.5h.8M211.3 280.8h.8M230.5 285.4h.8M220.3 278.9h.8M211.6 285.1h.8M253.0 278.1h.8M236.5 281.2h.8M240.0 283.1h.8M252.1 286.7h.8M233.9 280.6h.8M240.9 282.7h.8M226.8 286.8h.8M203.9 287.0h.8M241.1 282.5h.8M248.1 285.6h.8M226.4 284.6h.8M229.7 284.1h.8M207.3 286.1h.8M215.3 285.7h.8M250.0 289.5h.8M224.8 287.0h.8M221.3 281.4h.8M229.4 287.3h.8M217.0 280.4h.8M214.3 283.2h.8M209.1 282.1h.8M234.6 285.1h.8M224.0 291.3h.8M225.3 293.6h.8M240.7 291.8h.8M254.9 277.7h.8M224.2 285.7h.8M213.1 285.4h.8M214.7 274.8h.8M244.4 293.8h.8M217.5 284.9h.8M238.1 294.6h.8M249.5 285.6h.8M232.3 286.4h.8M230.3 282.6h.8M237.5 288.5h.8M252.4 289.8h.8M223.5 284.5h.8M233.2 282.4h.8M225.6 273.9h.8M229.1 279.6h.8M215.5 301.6h.8M250.0 281.3h.8M240.5 277.6h.8M237.4 292.0h.8M242.5 301.5h.8M239.2 281.2h.8M247.3 286.6h.8M225.3 288.3h.8M230.5 288.7h.8M229.8 291.3h.8M235.4 282.6h.8M212.8 275.4h.8M265.8 286.2h.8M220.8 278.2h.8M231.9 288.1h.8M249.3 281.4h.8M227.8 275.0h.8M242.7 288.8h.8M246.7 287.9h.8M204.3 290.9h.8M219.1 276.4h.8M236.3 278.8h.8M216.4 285.1h.8M247.6 285.8h.8M247.4 290.1h.8M241.9 274.3h.8M224.7 278.4h.8M224.8 292.8h.8M240.2 287.6h.8M205.2 275.2h.8M219.7 288.0h.8M242.0 296.6h.8M233.9 282.7h.8M210.4 282.9h.8M237.8 280.5h.8M241.7 288.0h.8M225.7 286.2h.8M204.6 280.8h.8M216.1 283.9h.8M232.2 285.6h.8M228.1 295.1h.8M209.5 288.6h.8M222.8 287.8h.8M226.5 290.4h.8M238.5 290.1h.8M209.9 284.9h.8M217.3 288.3h.8M245.2 288.6h.8M209.8 277.7h.8M203.6 279.5h.8M210.2 287.2h.8M223.1 288.8h.8M219.5 296.6h.8M230.5 284.2h.8M228.0 300.4h.8M213.7 283.7h.8M242.2 276.6h.8M217.2 294.0h.8M244.4 289.5h.8M216.2 289.7h.8M230.3 281.6h.8M246.0 291.7h.8M225.6 287.1h.8M239.4 284.8h.8M244.9 280.8h.8M209.4 291.2h.8M216.7 294.1h.8M230.4 276.8h.8M209.5 281.3h.8M230.4 282.8h.8M235.7 284.9h.8M229.3 271.1h.8M222.1 284.9h.8M233.9 295.3h.8M225.0 272.4h.8M230.7 281.6h.8M219.6 277.0h.8M249.1 279.2h.8M247.8 279.1h.8M240.7 284.3h.8M230.2 286.2h.8M239.5 282.6h.8M236.4 281.5h.8M228.0 272.5h.8M246.4 283.9h.8M252.3 286.3h.8M240.5 290.6h.8M235.8 284.9h.8M237.4 287.7h.8M222.4 287.7h.8M237.9 287.6h.8M227.1 273.4h.8M209.1 277.5h.8M229.3 289.0h.8M255.5 281.5h.8M231.2 275.8h.8M226.7 273.1h.8M215.1 281.6h.8M246.7 279.0h.8M238.1 277.3h.8M226.7 272.9h.8M250.6 282.5h.8M233.8 291.5h.8M239.8 273.9h.8M225.5 274.2h.8M253.0 284.8h.8M214.6 293.8h.8M245.6 276.8h.8M227.0 281.5h.8M214.6 278.1h.8M239.2 288.5h.8M217.6 276.0h.8M223.7 282.3h.8M239.3 282.6h.8M243.8 283.7h.8M254.8 297.1h.8M228.6 278.4h.8M235.1 284.7h.8M203.4 277.9h.8M231.3 286.8h.8M208.5 273.0h.8M225.0 293.7h.8M229.3 277.3h.8M237.5 278.1h.8M236.9 285.7h.8M240.1 293.3h.8M217.0 285.2h.8M203.7 284.3h.8M249.2 285.8h.8M228.8 270.4h.8M239.4 277.2h.8M219.7 278.6h.8M223.0 281.8h.8M224.8 295.5h.8M226.5 289.3h.8M238.1 285.7h.8M227.3 287.1h.8M227.6 290.4h.8M232.3 281.1h.8M229.1 289.3h.8M226.9 288.0h.8M247.1 290.5h.8M234.4 297.9h.8M255.2 289.6h.8M234.8 279.0h.8M219.0 282.4h.8M215.3 281.6h.8M231.5 277.1h.8M215.6 284.8h.8M226.2 285.0h.8M219.0 283.4h.8M246.4 287.2h.8M235.0 282.9h.8M229.4 291.6h.8M225.1 281.8h.8M217.8 284.2h.8M220.8 274.4h.8M230.5 284.0h.8M246.8 294.0h.8M238.7 292.2h.8M225.9 277.4h.8M233.5 291.9h.8M238.6 288.1h.8M211.3 296.3h.8M232.6 287.0h.8M219.7 287.5h.8M219.2 280.6h.8M240.3 286.2h.8M238.0 285.2h.8M240.3 295.4h.8M217.4 281.0h.8M234.0 290.7h.8M240.4 280.7h.8M219.9 288.2h.8M233.5 278.4h.8M227.8 277.4h.8M248.6 279.3h.8M223.7 277.5h.8M218.1 296.5h.8M236.4 289.6h.8M219.1 284.3h.8M238.9 291.3h.8M242.2 273.9h.8M238.6 292.3h.8M239.4 270.1h.8M224.9 278.9h.8M244.0 282.3h.8M234.1 278.2h.8M240.5 278.2h.8M217.1 281.8h.8M228.8 283.6h.8M203.3 286.7h.8M204.2 281.4h.8M252.8 289.8h.8M236.4 283.6h.8M210.4 281.9h.8M219.5 288.9h.8M217.3 289.6h.8M253.9 289.3h.8M232.2 274.1h.8M218.2 280.3h.8M241.4 274.7h.8M238.5 284.7h.8M246.0 296.7h.8M234.4 277.5h.8M237.5 277.2h.8M228.7 288.6h.8M235.6 284.9h.8M217.6 276.6h.8M216.0 289.4h.8M232.0 284.8h.8M239.5 289.9h.8M258.8 298.5h.8M234.5 292.5h.8M232.6 285.3h.8M241.4 282.4h.8M210.3 281.5h.8M223.3 279.6h.8M249.4 280.7h.8M230.6 294.7h.8M236.4 286.2h.8M227.2 285.8h.8M237.4 276.3h.8M256.2 281.7h.8M218.7 284.9h.8M236.3 276.6h.8M223.8 286.3h.8M236.5 301.0h.8M234.0 282.2h.8M248.1 286.3h.8M241.7 287.0h.8M215.4 276.0h.8M237.3 292.6h.8M240.0 278.8h.8M234.1 271.5h.8M230.3 276.7h.8M206.0 288.9h.8M232.6 283.0h.8M237.0 284.2h.8M245.2 282.7h.8M227.1 279.1h.8M215.0 292.2h.8M230.5 279.5h.8M235.9 284.4h.8M232.1 281.5h.8M206.8 283.8h.8M228.5 285.6h.8M226.2 286.1h.8M209.3 280.5h.8M228.7 278.6h.8M214.5 286.8h.8M223.4 275.0h.8M240.6 287.0h.8M242.8 288.2h.8M239.0 281.1h.8M237.1 281.7h.8M206.5 288.2h.8M218.5 286.2h.8M233.0 296.1h.8M251.8 286.7h.8M233.6 281.0h.8M212.5 283.5h.8M219.0 282.0h.8M226.7 284.7h.8M245.7 286.8h.8M242.0 280.8h.8M233.3 273.7h.8M225.1 297.9h.8M216.1 282.7h.8M224.2 277.7h.8M221.8 288.1h.8M219.8 289.2h.8M229.8 292.6h.8M233.1 286.0h.8M222.1 277.6h.8M252.3 285.7h.8M224.5 273.2h.8M222.6 279.9h.8M207.1 281.0h.8M231.0 278.9h.8M257.5 279.1h.8M225.8 278.5h.8M238.7 292.6h.8M244.4 287.3h.8M250.4 286.3h.8M246.3 283.1h.8M215.0 285.7h.8M238.1 281.4h.8M246.4 280.3h.8M240.6 293.2h.8M225.8 279.4h.8M227.8 288.2h.8M228.3 294.5h.8M210.4 292.5h.8M233.1 277.3h.8M253.2 279.1h.8M238.8 268.3h.8M238.4 294.2h.8M222.5 278.7h.8M214.7 283.5h.8M228.3 293.4h.8M237.2 294.8h.8M219.7 284.0h.8M234.1 287.5h.8M234.1 291.2h.8M250.2 287.8h.8M235.0 286.7h.8M251.8 286.9h.8M238.9 290.0h.8M214.7 284.0h.8M235.3 289.4h.8M238.9 281.4h.8M224.0 285.2h.8M235.9 281.6h.8M255.1 281.6h.8M215.8 288.2h.8M227.0 284.1h.8M240.4 276.0h.8M222.4 286.3h.8M223.2 271.7h.8M246.3 279.1h.8M234.5 271.8h.8M218.6 290.6h.8M230.4 285.7h.8M231.9 280.4h.8M233.8 288.6h.8M237.5 273.4h.8M215.0 288.3h.8M246.6 286.0h.8M217.4 297.2h.8M241.7 275.5h.8M244.1 287.2h.8M227.4 290.1h.8M229.7 287.1h.8M240.9 278.2h.8M243.8 281.6h.8M237.0 282.6h.8M208.2 286.1h.8M225.5 278.4h.8M244.2 288.1h.8M210.6 281.6h.8M214.4 284.1h.8M238.4 276.6h.8M223.3 282.2h.8M227.0 273.2h.8M227.2 281.3h.8M224.4 285.3h.8M237.2 274.8h.8M248.4 271.5h.8M218.9 280.6h.8M233.7 283.1h.8M222.5 283.3h.8M241.0 293.9h.8M230.0 273.6h.8M261.2 295.1h.8M237.0 275.5h.8M235.7 290.6h.8M248.4 281.4h.8M226.8 273.1h.8M224.7 296.6h.8M234.9 279.6h.8M224.9 286.9h.8M206.1 283.1h.8M222.8 284.7h.8M228.8 283.3h.8M242.3 284.4h.8M225.9 286.0h.8M209.6 284.4h.8M212.9 272.7h.8M250.1 272.7h.8M234.9 283.5h.8M247.4 289.4h.8M265.2 283.7h.8M216.6 290.1h.8M228.1 287.6h.8M203.5 273.8h.8M223.2 280.6h.8M222.4 289.4h.8M247.7 283.3h.8M229.3 288.9h.8M221.9 283.5h.8M259.8 286.9h.8M204.0 285.5h.8M246.7 276.2h.8M237.8 276.3h.8M223.6 285.7h.8M220.7 286.7h.8M229.9 293.0h.8M232.1 285.2h.8M234.1 287.5h.8M235.7 295.3h.8M235.4 283.7h.8M229.1 290.8h.8M240.7 279.6h.8M234.5 279.1h.8M205.2 269.5h.8M223.7 282.9h.8M251.6 271.8h.8M240.9 289.4h.8M256.4 278.6h.8M226.2 276.6h.8M216.9 287.3h.8M238.2 285.7h.8M226.2 287.3h.8M229.8 282.5h.8M215.6 293.8h.8M231.3 293.1h.8M243.0 286.9h.8M232.9 278.3h.8M235.5 289.5h.8M232.7 294.4h.8M246.5 290.1h.8M244.7 281.8h.8M225.4 278.7h.8M215.6 288.6h.8M232.2 282.0h.8M232.7 282.6h.8M237.8 279.8h.8M215.6 274.0h.8M248.9 284.8h.8M251.7 284.4h.8M215.6 287.9h.8M231.7 273.3h.8M223.7 287.5h.8M226.5 278.1h.8M253.5 277.0h.8M235.5 278.0h.8M234.1 293.0h.8M245.0 285.1h.8M203.4 278.2h.8M251.4 289.3h.8M257.1 287.9h.8M237.3 278.3h.8M203.4 274.9h.8M229.2 289.3h.8M251.7 290.1h.8M227.3 278.4h.8M208.4 281.1h.8M233.3 283.8h.8M204.6 278.3h.8M231.3 287.8h.8M227.5 283.6h.8M225.4 281.4h.8M246.1 283.4h.8M236.6 287.9h.8M248.1 291.7h.8M235.1 283.1h.8M224.2 275.0h.8M228.0 286.6h.8M227.0 272.6h.8M204.8 271.7h.8M238.9 287.8h.8M237.4 288.1h.8M240.5 286.5h.8M226.7 287.9h.8M239.5 282.4h.8M219.2 281.5h.8M229.7 287.5h.8M229.1 280.7h.8M225.3 282.9h.8M234.4 279.1h.8M249.5 273.9h.8M250.3 280.3h.8M225.2 277.4h.8M246.7 286.8h.8M204.6 284.0h.8M235.3 288.7h.8M223.9 283.2h.8M229.0 290.4h.8M240.9 290.7h.8M245.5 285.6h.8M238.7 278.8h.8M223.4 283.3h.8M222.2 279.8h.8M241.3 282.3h.8M230.3 285.8h.8M225.8 280.1h.8M229.2 289.4h.8M210.4 293.1h.8M242.6 284.9h.8M222.4 286.1h.8M232.8 284.7h.8M251.0 280.3h.8M256.0 283.1h.8M203.9 282.8h.8M236.4 281.4h.8M212.6 287.8h.8M218.8 284.1h.8M231.6 290.0h.8M239.8 290.3h.8M238.4 296.7h.8M223.3 287.4h.8M231.8 283.0h.8M259.8 283.2h.8M239.0 290.4h.8M205.5 284.3h.8M238.1 283.7h.8M212.0 286.1h.8M227.8 286.1h.8M249.5 281.1h.8M235.3 287.7h.8M215.0 283.4h.8M252.4 281.6h.8M224.4 285.9h.8M230.6 294.5h.8M247.9 280.7h.8M246.6 280.2h.8M245.4 285.8h.8M224.3 291.2h.8M217.7 289.9h.8M227.3 293.1h.8M241.5 290.8h.8M244.7 283.1h.8M246.7 276.9h.8M240.5 290.9h.8M213.8 296.6h.8M229.5 280.8h.8M244.8 292.1h.8M207.6 287.2h.8M213.7 290.9h.8M231.0 278.4h.8M231.0 287.1h.8M231.4 278.9h.8M245.5 267.5h.8M239.0 287.7h.8M238.9 286.9h.8M235.0 276.6h.8M246.3 287.0h.8M249.9 296.6h.8M254.6 298.1h.8M236.4 288.8h.8M238.1 273.9h.8M214.8 281.0h.8M223.3 284.0h.8M219.1 275.0h.8M255.3 284.7h.8M247.2 287.1h.8M207.3 279.0h.8M246.8 284.0h.8M224.9 283.1h.8M222.9 278.3h.8M238.6 282.9h.8M207.5 287.2h.8M208.0 292.6h.8M249.1 288.5h.8M237.8 272.0h.8M230.0 285.9h.8M241.0 282.7h.8M237.7 287.0h.8M216.6 291.5h.8M237.9 293.9h.8M231.0 273.9h.8M233.9 280.7h.8M220.4 294.9h.8M219.0 282.3h.8M255.0 284.1h.8M233.2 282.1h.8M236.4 284.4h.8M254.2 282.9h.8M237.3 282.0h.8M240.5 283.0h.8M209.9 288.9h.8M240.6 281.9h.8M252.9 269.7h.8M237.4 280.0h.8M217.1 290.5h.8M203.5 276.3h.8M236.9 293.9h.8M203.6 281.4h.8M226.8 283.5h.8M222.7 293.8h.8M219.4 290.5h.8M245.3 289.3h.8M213.1 291.1h.8M235.6 292.1h.8M238.6 281.0h.8M221.6 285.5h.8M221.8 273.6h.8M242.7 281.7h.8M226.4 299.9h.8M228.4 296.1h.8M246.0 277.4h.8M242.3 283.2h.8M255.5 287.1h.8M238.2 292.0h.8M228.7 283.4h.8M244.5 281.5h.8M235.3 282.3h.8M244.4 275.9h.8M234.5 280.3h.8M228.8 291.3h.8M235.6 276.9h.8M239.5 282.8h.8M246.3 280.1h.8M259.7 280.6h.8M232.2 283.6h.8M217.5 285.0h.8M218.4 279.4h.8M223.7 284.7h.8M237.9 277.0h.8M216.8 282.7h.8M225.6 288.7h.8M236.1 286.6h.8M225.1 285.3h.8M203.8 275.1h.8M240.5 272.1h.8M239.0 283.4h.8M253.8 285.5h.8M273.8 291.9h.8M236.1 286.0h.8M204.6 278.0h.8M220.7 282.3h.8M234.6 289.0h.8M240.4 286.7h.8M203.4 271.9h.8M244.2 291.6h.8M235.6 279.8h.8M237.6 297.2h.8M237.3 284.3h.8M213.7 295.0h.8M240.3 266.1h.8M235.7 285.3h.8M215.2 288.5h.8M239.7 291.2h.8M233.5 278.2h.8M241.8 278.0h.8M233.0 291.1h.8M213.8 286.8h.8M224.9 284.1h.8M225.0 291.3h.8M231.2 284.8h.8M243.4 270.4h.8M220.9 284.8h.8M238.0 282.6h.8M215.0 274.1h.8M250.0 279.1h.8M228.8 280.4h.8M228.9 282.8h.8M220.5 281.6h.8M253.6 292.8h.8M205.5 280.8h.8M246.2 297.5h.8M238.2 295.8h.8M207.4 288.4h.8M233.1 282.9h.8M215.9 287.5h.8M228.3 279.2h.8M224.0 281.7h.8M242.4 293.4h.8M242.4 283.9h.8M243.3 285.2h.8M218.3 277.0h.8M231.7 295.4h.8M210.1 290.6h.8M235.3 287.1h.8M216.8 288.4h.8M226.2 276.4h.8M203.9 278.2h.8M224.4 280.8h.8M222.4 279.7h.8M217.3 285.7h.8M236.1 289.7h.8M222.6 280.1h.8M230.6 286.4h.8M234.2 289.2h.8M221.2 295.8h.8M230.8 286.8h.8M223.1 276.4h.8M217.3 287.4h.8M224.3 290.2h.8M231.2 277.3h.8M234.3 289.3h.8M246.9 286.1h.8M245.3 273.4h.8M225.8 301.7h.8M249.6 281.9h.8M241.5 283.2h.8M223.0 278.6h.8M220.5 282.4h.8M245.2 279.7h.8M227.4 280.5h.8M245.3 279.8h.8M263.0 285.0h.8M218.7 284.6h.8M237.0 288.5h.8M246.3 289.6h.8M228.6 288.9h.8M212.5 289.1h.8M246.8 292.3h.8M244.5 281.1h.8M245.7 284.8h.8M218.5 290.2h.8M219.4 287.6h.8M231.8 289.0h.8M224.4 289.8h.8M237.2 287.0h.8M246.0 286.2h.8M234.7 285.3h.8M233.3 290.2h.8M248.4 288.4h.8M227.1 283.6h.8M204.6 288.3h.8M227.0 276.0h.8M248.4 284.6h.8M244.1 273.1h.8M240.2 296.7h.8M222.2 280.7h.8M231.2 274.2h.8M224.5 281.6h.8M225.6 284.6h.8M237.1 295.0h.8M218.7 282.1h.8M247.0 273.8h.8M225.9 287.4h.8M242.2 295.7h.8M249.2 283.1h.8M205.0 283.4h.8M221.9 289.1h.8M226.1 269.5h.8M203.3 280.3h.8M237.4 284.6h.8M234.6 278.7h.8M244.1 269.1h.8M226.1 277.5h.8M238.5 292.3h.8M217.0 287.4h.8M237.1 288.3h.8M205.8 282.0h.8M235.9 293.9h.8M228.8 284.4h.8M242.6 290.5h.8M265.0 284.6h.8M235.6 271.9h.8M237.8 277.1h.8M236.6 285.3h.8M237.6 292.0h.8M219.6 292.7h.8M222.1 286.2h.8M204.6 292.8h.8M223.9 283.0h.8M249.1 290.9h.8M224.3 275.2h.8M212.7 291.3h.8M239.0 285.2h.8M246.1 299.3h.8M231.8 292.7h.8M234.3 280.4h.8M246.7 299.6h.8M207.5 286.0h.8M252.3 291.1h.8M224.3 278.5h.8M234.5 282.1h.8M203.8 292.6h.8M241.4 280.1h.8M240.8 280.7h.8M240.6 273.7h.8M233.9 283.9h.8M247.6 279.3h.8M233.5 296.8h.8M242.7 269.1h.8M227.5 281.9h.8M235.5 285.7h.8M250.3 281.1h.8M220.6 280.2h.8M233.7 287.1h.8M214.8 299.0h.8M233.7 295.6h.8M229.3 275.9h.8M232.7 279.1h.8M231.7 290.5h.8M240.3 281.0h.8M230.1 285.5h.8M242.4 280.9h.8M231.8 283.7h.8M221.5 276.6h.8M243.9 271.1h.8M236.5 283.7h.8M232.6 266.1h.8M204.4 288.8h.8M226.1 293.7h.8M234.3 283.1h.8M236.5 288.9h.8M203.3 287.3h.8M209.0 279.6h.8M249.8 276.7h.8M227.3 274.3h.8M241.9 286.5h.8M233.7 286.8h.8M221.7 277.5h.8M213.5 275.2h.8M231.2 274.9h.8M241.7 280.3h.8M234.2 296.3h.8M207.0 288.3h.8M220.4 283.6h.8M228.4 294.1h.8M234.5 288.4h.8M244.1 298.9h.8M256.4 284.0h.8M208.4 282.0h.8M244.4 292.6h.8M239.9 280.6h.8M245.1 288.2h.8M232.0 282.5h.8M203.4 286.4h.8M223.7 281.3h.8M250.9 289.0h.8M235.1 280.8h.8M210.7 281.9h.8M244.8 283.0h.8M239.3 274.4h.8M215.4 285.3h.8M225.3 281.0h.8M225.4 287.1h.8M229.0 290.6h.8M220.6 278.6h.8M208.8 291.1h.8M236.1 283.6h.8M245.2 283.8h.8M228.9 289.7h.8M241.3 297.7h.8M208.0 280.9h.8M205.4 276.9h.8M225.4 282.4h.8M236.3 286.8h.8M232.2 283.1h.8M251.0 302.2h.8M239.6 285.3h.8M223.9 286.8h.8M239.0 300.1h.8M236.5 277.6h.8M238.8 284.6h.8M249.9 284.4h.8M232.2 291.4h.8M238.5 279.0h.8M248.7 272.9h.8M236.8 273.1h.8M241.7 288.6h.8M238.4 288.7h.8M239.6 291.1h.8M216.0 285.8h.8M212.2 303.7h.8M203.4 290.7h.8M228.4 293.3h.8M224.2 276.6h.8M226.8 283.0h.8M232.7 283.2h.8M239.8 293.5h.8M226.9 275.8h.8M234.6 294.8h.8M212.8 275.1h.8M218.9 285.0h.8M247.7 285.8h.8M238.4 283.6h.8M218.6 293.3h.8M240.3 293.8h.8M216.7 280.2h.8M227.0 280.3h.8M216.9 284.8h.8M223.4 282.5h.8M236.8 276.7h.8M231.1 292.5h.8M225.5 271.8h.8M232.9 285.1h.8M237.0 290.6h.8M241.7 295.3h.8M228.0 289.0h.8M243.4 289.2h.8M227.1 280.9h.8M232.6 293.5h.8M229.3 286.3h.8M228.0 288.4h.8M230.4 291.0h.8M222.4 286.0h.8M237.9 280.4h.8M227.9 283.1h.8M220.6 294.5h.8M242.8 291.0h.8M240.4 296.5h.8M243.4 283.1h.8M243.3 282.2h.8M227.0 290.3h.8M233.5 285.3h.8M237.6 291.5h.8M241.7 287.6h.8M235.2 282.3h.8M227.0 284.8h.8M221.6 281.5h.8M247.7 275.6h.8M244.7 279.1h.8M242.1 290.6h.8M203.9 282.7h.8M240.1 287.7h.8M228.3 285.1h.8M224.8 286.8h.8M214.5 279.9h.8M246.1 284.7h.8M240.6 285.7h.8M244.7 284.4h.8M226.4 288.7h.8M242.9 284.4h.8M245.0 282.2h.8M243.6 283.5h.8M221.0 288.0h.8M224.5 291.8h.8M233.8 281.0h.8M236.6 288.5h.8M208.5 294.5h.8M241.5 289.0h.8M221.9 280.9h.8M228.9 295.7h.8M241.6 284.4h.8M239.8 279.9h.8M254.4 285.7h.8M235.6 295.7h.8M231.7 292.2h.8M204.4 290.9h.8M214.1 278.0h.8M239.7 280.3h.8M241.7 290.1h.8M242.5 282.5h.8M233.9 277.5h.8M211.9 283.8h.8M203.6 275.9h.8M220.2 289.2h.8M226.0 294.9h.8M238.9 280.1h.8M247.1 274.4h.8M246.6 288.2h.8M212.8 286.7h.8M212.9 283.7h.8M212.1 281.0h.8M235.4 285.3h.8M237.4 284.4h.8M229.9 282.2h.8M235.2 293.2h.8M242.8 283.1h.8M234.0 279.3h.8M246.1 286.6h.8M244.1 280.4h.8M232.1 272.4h.8M240.1 285.5h.8M218.3 286.6h.8M237.2 268.1h.8M223.6 288.8h.8M250.0 291.2h.8M243.3 280.1h.8M204.2 280.7h.8M240.5 293.7h.8M240.4 272.8h.8M239.7 284.5h.8M204.3 289.3h.8M245.3 287.1h.8M239.5 282.5h.8M222.0 282.9h.8M244.5 291.6h.8M239.1 280.1h.8M244.0 277.8h.8M216.5 283.3h.8M213.2 286.0h.8M234.7 289.7h.8M218.3 288.5h.8M233.8 288.3h.8M211.5 279.1h.8M205.9 279.6h.8M234.2 293.3h.8M206.5 291.9h.8M239.6 276.2h.8M228.9 279.5h.8M235.0 286.7h.8M231.6 283.1h.8M246.5 288.6h.8M249.9 291.3h.8M229.0 289.5h.8M239.0 281.7h.8M250.4 274.5h.8M242.9 289.1h.8M224.4 281.1h.8M238.6 286.3h.8M231.0 291.1h.8M220.0 285.2h.8M230.6 289.5h.8M225.1 275.5h.8M223.5 283.6h.8M252.0 281.6h.8M229.0 295.8h.8M226.6 273.0h.8M245.4 279.6h.8M222.1 286.8h.8M235.7 275.2h.8M233.0 283.8h.8M221.5 275.0h.8M237.1 296.0h.8M254.7 284.2h.8M206.0 282.8h.8M220.3 281.7h.8M229.1 270.3h.8M203.6 277.1h.8M218.2 293.7h.8M233.3 295.8h.8M263.5 288.9h.8M245.8 286.9h.8M239.1 290.3h.8M241.0 276.2h.8M218.1 288.4h.8M238.6 292.6h.8M242.5 279.7h.8M216.3 289.3h.8M246.5 284.6h.8M217.6 293.8h.8M238.2 299.0h.8M223.4 277.4h.8M203.6 282.2h.8M207.8 281.9h.8M242.4 279.8h.8M234.1 280.1h.8M242.5 288.7h.8M225.9 275.9h.8M229.0 286.1h.8M203.7 285.8h.8M230.2 285.8h.8M214.5 281.4h.8M232.1 290.7h.8M235.3 297.3h.8M226.8 281.9h.8M252.3 287.5h.8M233.9 292.8h.8M221.5 284.6h.8M240.0 288.4h.8M233.1 283.4h.8M221.4 291.4h.8M219.8 295.1h.8M233.3 286.8h.8M209.4 283.5h.8M223.2 284.1h.8M235.4 280.2h.8M249.2 291.2h.8M240.7 280.3h.8M241.9 287.3h.8M203.8 282.7h.8M245.1 289.6h.8M233.5 280.2h.8M224.7 287.8h.8M234.1 284.2h.8M204.3 289.7h.8M244.7 289.9h.8M228.7 280.6h.8M208.2 284.4h.8M208.6 281.4h.8M216.6 286.2h.8M236.1 288.8h.8M204.4 285.3h.8M256.2 286.1h.8M216.4 275.3h.8M241.2 288.3h.8M208.2 279.8h.8M236.2 285.0h.8M234.9 282.0h.8M237.0 286.1h.8M244.0 290.3h.8M237.6 292.2h.8M203.7 280.7h.8M238.3 293.6h.8M221.0 285.1h.8M219.1 284.7h.8M240.4 284.3h.8M256.9 279.8h.8M246.1 296.7h.8M215.8 288.0h.8M230.8 287.1h.8M235.8 280.0h.8M213.0 282.9h.8M248.7 288.6h.8M240.5 278.8h.8M243.2 286.8h.8M230.7 283.1h.8M217.8 281.2h.8M236.4 287.7h.8M240.6 282.9h.8M204.5 297.9h.8M234.7 283.2h.8M223.6 286.9h.8M258.0 282.1h.8M236.1 289.4h.8M206.5 284.7h.8M235.9 285.9h.8M234.0 288.8h.8M238.2 299.7h.8M234.6 291.9h.8M238.3 285.0h.8M208.8 281.4h.8M233.7 276.5h.8M246.9 284.8h.8M236.4 263.5h.8M227.4 298.0h.8M230.7 291.6h.8M227.0 287.8h.8M240.0 278.4h.8M255.4 283.0h.8M233.2 284.0h.8M237.5 289.0h.8M220.1 286.7h.8M235.7 287.3h.8M237.9 292.2h.8M215.3 275.1h.8M216.4 285.6h.8M222.5 286.2h.8M221.0 286.4h.8M226.1 290.7h.8M230.9 281.2h.8M236.0 281.6h.8M251.2 283.1h.8M240.4 291.4h.8M233.0 277.2h.8M228.1 277.7h.8M243.6 278.5h.8M235.0 285.8h.8M230.7 282.6h.8M210.7 294.7h.8M238.9 291.1h.8M240.1 285.4h.8M238.6 282.1h.8M234.9 282.6h.8M212.7 285.8h.8M234.6 291.0h.8M226.9 297.9h.8M231.6 287.3h.8M216.8 265.9h.8M229.3 280.5h.8M248.5 287.5h.8M222.0 283.2h.8M232.1 281.1h.8M235.0 294.7h.8M236.7 289.1h.8M215.6 282.9h.8M226.8 287.6h.8M232.0 285.0h.8M203.4 289.7h.8M243.6 278.5h.8M248.5 277.7h.8M234.9 278.2h.8M239.2 289.8h.8M244.0 282.0h.8M245.0 284.4h.8M247.3 284.6h.8M210.8 283.3h.8M214.1 289.9h.8M212.8 287.0h.8M233.4 280.1h.8M237.8 280.5h.8M236.9 279.6h.8M232.4 290.8h.8M233.7 292.9h.8M217.9 289.4h.8M231.1 288.0h.8M229.2 277.2h.8M242.3 282.2h.8M228.6 280.4h.8M203.3 286.3h.8M216.5 284.9h.8M235.3 282.3h.8M203.3 289.4h.8M245.1 293.0h.8M229.8 280.2h.8M233.5 273.8h.8M226.1 293.9h.8M221.3 280.9h.8M236.8 295.4h.8M240.5 292.4h.8M226.6 279.2h.8M209.5 286.8h.8M236.2 278.1h.8M240.5 285.9h.8M214.1 292.7h.8M248.6 277.7h.8M238.9 281.9h.8M251.8 283.1h.8M226.1 287.2h.8M215.2 280.8h.8M236.0 283.8h.8M246.5 287.1h.8M225.9 274.6h.8M221.7 289.9h.8M229.4 286.3h.8M228.4 274.4h.8M222.3 299.6h.8M212.8 283.1h.8M246.9 287.1h.8M213.8 282.1h.8M209.3 287.6h.8M204.8 289.0h.8M238.6 278.7h.8M215.1 284.2h.8M234.4 290.6h.8M226.0 285.7h.8M223.9 301.1h.8M236.3 280.5h.8M237.0 287.1h.8M242.8 285.9h.8M263.5 276.0h.8M238.3 287.3h.8M242.1 286.2h.8M239.8 288.9h.8M242.1 276.7h.8M220.7 279.9h.8M246.9 279.2h.8M241.3 284.1h.8M211.0 286.5h.8M239.1 286.6h.8M223.4 296.2h.8M233.6 281.9h.8M232.1 283.0h.8M233.5 289.5h.8M254.9 270.6h.8M234.6 297.1h.8M240.6 287.0h.8M243.9 301.1h.8M219.6 274.3h.8M219.5 288.9h.8M212.7 288.6h.8M235.6 287.2h.8M237.0 276.4h.8M204.1 289.6h.8M226.9 287.8h.8M233.7 277.3h.8M234.6 284.2h.8M212.8 278.4h.8M221.5 281.1h.8M238.9 282.1h.8M236.8 284.0h.8M232.7 284.2h.8M223.8 295.7h.8M240.0 279.3h.8M242.6 270.8h.8M222.6 287.2h.8M233.8 291.4h.8M228.7 284.5h.8M237.1 287.9h.8M251.5 275.4h.8M237.2 287.3h.8M240.2 289.9h.8M251.0 288.4h.8M250.2 282.0h.8M234.7 290.0h.8M233.5 277.6h.8M219.5 277.3h.8M222.6 276.4h.8M225.4 281.2h.8M248.4 277.0h.8M238.4 290.4h.8M220.0 287.9h.8M246.5 285.0h.8M243.6 301.2h.8M239.4 288.8h.8M258.6 274.3h.8M244.2 293.0h.8M233.8 287.3h.8M227.8 283.7h.8M220.4 287.6h.8M232.6 274.7h.8M210.7 295.4h.8M257.9 280.3h.8M234.9 292.0h.8M252.4 276.4h.8M210.0 280.8h.8M241.9 289.5h.8M231.9 280.5h.8M233.8 287.3h.8M203.4 278.7h.8M233.5 287.6h.8M234.7 294.4h.8M234.9 281.6h.8M234.7 274.8h.8M226.7 292.8h.8M242.2 281.1h.8M245.3 282.8h.8M242.6 288.8h.8M228.5 280.4h.8M226.6 283.7h.8M215.5 290.3h.8M235.3 281.7h.8M243.9 284.6h.8M229.6 285.9h.8M227.6 283.5h.8M227.9 287.7h.8M243.4 282.3h.8M213.7 280.8h.8M216.6 286.5h.8M236.3 302.6h.8M215.2 284.7h.8M220.0 301.1h.8M239.7 281.8h.8M250.9 295.8h.8M236.8 284.3h.8M220.8 291.7h.8M226.3 289.9h.8M240.8 289.8h.8M244.3 289.7h.8M250.0 275.1h.8M221.3 280.6h.8M236.3 290.1h.8M238.8 281.2h.8M222.3 293.8h.8M236.4 284.0h.8M235.1 271.1h.8M207.2 284.7h.8M237.0 279.3h.8M220.3 284.2h.8M219.0 288.3h.8M229.1 283.6h.8M249.1 289.3h.8M241.4 274.8h.8M241.8 276.8h.8M241.5 287.6h.8M240.8 290.2h.8M217.6 289.4h.8M237.7 281.8h.8M246.9 293.4h.8M246.3 276.7h.8M210.0 280.8h.8M219.2 291.3h.8M236.2 283.5h.8M228.9 274.1h.8M244.7 297.6h.8M217.1 285.7h.8M217.9 295.8h.8M230.9 285.1h.8M246.0 281.7h.8M228.5 286.5h.8M217.8 283.1h.8M221.4 291.3h.8M241.3 293.8h.8M204.3 285.2h.8M224.4 280.3h.8M210.1 275.8h.8M230.6 280.6h.8M244.1 290.1h.8M241.4 286.7h.8M222.3 274.9h.8M225.9 280.9h.8M242.6 276.4h.8M205.4 284.9h.8M216.0 279.1h.8M228.0 285.5h.8M224.6 284.3h.8M242.9 281.2h.8M229.4 283.5h.8M234.5 294.4h.8M221.2 283.8h.8M239.6 290.2h.8M218.0 278.4h.8M215.7 274.3h.8M236.7 279.1h.8M233.8 286.7h.8M243.6 281.6h.8M232.8 288.9h.8M232.8 290.4h.8M208.1 285.1h.8M220.0 282.5h.8M256.2 285.8h.8M251.1 284.0h.8M215.8 281.0h.8M251.8 281.4h.8M221.9 282.9h.8M220.3 287.5h.8M222.6 281.0h.8M247.9 285.6h.8M234.3 280.1h.8M260.7 281.4h.8M233.7 295.0h.8M232.7 283.7h.8M237.2 286.8h.8M203.5 288.9h.8M235.5 282.1h.8M245.9 281.5h.8M216.9 273.3h.8M237.6 277.3h.8M251.2 281.1h.8M224.8 273.0h.8M244.1 286.5h.8M237.9 283.5h.8M223.8 288.5h.8M237.8 288.7h.8M204.1 294.4h.8M242.5 287.9h.8M234.2 290.2h.8M230.6 275.3h.8M213.7 280.7h.8M249.2 277.3h.8M258.7 278.0h.8M232.9 295.1h.8M235.5 281.0h.8M235.8 293.0h.8M234.0 289.2h.8M235.1 289.2h.8M251.7 287.4h.8M246.6 276.3h.8M231.1 281.1h.8M204.5 273.2h.8M238.2 288.6h.8M229.1 285.6h.8M232.3 284.0h.8M238.4 285.5h.8M226.7 276.8h.8M243.5 279.6h.8M244.4 289.0h.8M224.9 282.1h.8M239.7 289.5h.8M206.3 291.3h.8M225.0 281.9h.8M213.7 285.3h.8M225.9 286.0h.8M238.1 282.4h.8M231.7 278.5h.8M249.6 285.9h.8M242.1 284.2h.8M229.4 292.8h.8M210.8 275.8h.8M235.5 282.4h.8M235.8 284.8h.8M204.3 286.9h.8M224.2 288.7h.8M219.0 284.6h.8M219.0 292.8h.8M243.7 282.8h.8M240.3 289.8h.8M230.4 285.7h.8M231.4 286.2h.8M230.5 280.1h.8M229.8 290.9h.8M203.7 279.0h.8M234.6 286.3h.8M205.9 288.9h.8M232.9 288.5h.8M216.6 295.0h.8M207.3 273.1h.8M224.1 283.9h.8M233.2 279.7h.8M219.2 275.7h.8M241.6 289.9h.8M241.9 285.2h.8M239.8 292.0h.8M226.1 287.3h.8M231.4 275.7h.8M238.1 287.2h.8M244.6 284.5h.8M243.6 285.1h.8M226.3 283.7h.8M204.2 285.4h.8M222.0 293.6h.8M238.3 291.5h.8M242.2 265.9h.8M253.5 283.3h.8M222.4 285.5h.8M243.4 292.1h.8M247.4 274.4h.8M244.8 278.0h.8M210.7 285.8h.8M229.0 290.5h.8M248.0 293.7h.8M242.4 271.6h.8M239.7 292.4h.8M239.9 276.9h.8M232.8 280.9h.8M240.0 283.9h.8M246.4 284.9h.8M230.4 285.7h.8M237.7 285.3h.8M244.8 288.6h.8M222.2 285.9h.8M218.8 279.5h.8M220.4 280.3h.8M223.4 300.2h.8M215.5 292.9h.8M238.4 288.5h.8M240.2 283.0h.8M238.2 273.9h.8M237.5 283.0h.8M231.8 284.8h.8M221.7 277.7h.8M242.8 281.8h.8M234.8 290.4h.8M233.5 283.4h.8M241.0 279.5h.8M207.4 282.0h.8M203.5 280.7h.8M236.4 276.5h.8M229.2 290.3h.8M259.3 280.4h.8M237.1 277.1h.8M240.2 282.1h.8M240.5 291.2h.8M241.7 287.2h.8M231.9 279.2h.8M240.9 287.5h.8M224.2 293.5h.8M239.7 277.6h.8M243.8 277.5h.8M246.5 296.8h.8M209.3 289.1h.8M231.2 278.3h.8M232.3 282.0h.8M226.4 283.7h.8M226.7 278.9h.8M238.4 281.9h.8M211.2 279.1h.8M235.1 291.5h.8M248.5 287.1h.8M234.3 289.2h.8M222.3 276.6h.8M204.3 289.7h.8M241.6 297.0h.8M208.6 277.4h.8M223.6 284.3h.8M247.3 286.8h.8M203.7 273.4h.8M224.5 282.3h.8M241.3 294.0h.8M212.5 279.0h.8M255.5 282.1h.8M223.5 280.8h.8M238.0 283.8h.8M247.5 277.3h.8M226.8 279.8h.8M203.9 281.4h.8M235.8 274.8h.8M218.1 284.3h.8M229.3 295.2h.8M221.3 290.3h.8M215.5 285.2h.8M237.6 280.7h.8M251.2 287.5h.8M245.2 276.1h.8M243.9 288.1h.8M235.6 294.0h.8M217.2 290.3h.8M239.5 279.8h.8M212.5 285.0h.8M231.1 285.9h.8M235.7 287.5h.8M244.7 288.3h.8M230.8 279.8h.8M225.2 287.2h.8M234.8 290.4h.8M219.7 285.8h.8M237.7 277.3h.8M216.7 294.5h.8M208.2 295.2h.8M232.0 298.1h.8M240.1 291.1h.8M238.4 276.0h.8M223.8 283.1h.8M239.7 296.6h.8M234.4 283.7h.8M236.4 287.7h.8M221.1 277.1h.8M246.0 288.1h.8M233.4 285.2h.8M220.3 282.7h.8M204.4 281.1h.8M211.2 283.9h.8M246.6 287.2h.8M226.7 294.5h.8M212.7 288.6h.8M236.6 279.3h.8M226.4 278.9h.8M237.2 289.1h.8M209.5 287.8h.8M234.4 290.7h.8M233.5 292.2h.8M228.8 278.2h.8M245.8 295.1h.8M228.1 278.4h.8M227.9 286.3h.8M210.3 276.8h.8M231.6 291.2h.8M214.9 279.1h.8M240.2 289.5h.8M239.7 281.9h.8M222.0 279.1h.8M241.5 290.3h.8M224.2 286.9h.8M247.6 280.8h.8M222.1 287.3h.8M225.9 290.9h.8M226.9 280.1h.8M246.1 287.1h.8M238.2 296.5h.8M248.7 279.0h.8M238.2 289.5h.8M233.0 273.4h.8M215.4 276.6h.8M216.1 284.8h.8M218.9 287.6h.8M233.5 285.1h.8M222.2 298.6h.8M248.6 279.7h.8M238.0 279.9h.8M244.3 285.1h.8M222.7 282.7h.8M232.2 284.2h.8M253.6 279.3h.8M230.1 293.6h.8M229.9 280.7h.8M204.5 289.5h.8M238.8 284.3h.8M218.4 276.7h.8M228.1 288.0h.8M238.8 276.8h.8M245.9 290.6h.8M217.5 293.4h.8M236.9 278.9h.8M238.6 282.7h.8M226.0 280.6h.8M230.6 290.9h.8M219.8 284.7h.8M249.6 284.2h.8M228.8 280.3h.8M222.1 290.5h.8M214.8 295.9h.8M238.3 288.7h.8M213.8 279.8h.8M247.5 284.9h.8M240.5 286.7h.8M232.8 280.9h.8M223.0 284.9h.8M227.9 295.4h.8M204.2 281.1h.8M214.5 277.4h.8M224.0 284.9h.8M203.8 279.9h.8M204.3 288.5h.8M228.1 281.1h.8M237.9 289.3h.8M221.4 282.9h.8M237.5 288.2h.8M241.5 281.8h.8M241.5 282.9h.8M226.7 291.2h.8M225.1 285.8h.8M234.5 282.2h.8M215.0 273.3h.8M226.9 288.5h.8M227.1 290.0h.8M234.8 285.1h.8M237.8 269.5h.8M254.0 277.8h.8M216.9 272.9h.8M217.9 278.5h.8M233.2 279.1h.8M219.7 281.2h.8M226.8 296.8h.8M248.6 276.5h.8M230.8 292.6h.8M206.3 288.2h.8M242.4 285.3h.8M237.3 285.0h.8M253.6 290.8h.8M203.6 278.3h.8M231.9 288.8h.8M223.0 285.6h.8M233.1 273.1h.8M242.4 275.9h.8M213.7 284.8h.8M219.5 288.7h.8M237.0 297.8h.8M218.8 285.5h.8M232.1 275.1h.8M221.4 276.2h.8M239.4 285.3h.8M239.4 287.0h.8M220.9 276.7h.8M241.9 282.9h.8M234.7 284.7h.8M214.9 292.1h.8M240.1 286.1h.8M235.0 292.4h.8M221.2 280.6h.8M220.2 295.1h.8M249.8 281.3h.8M233.5 270.8h.8M222.1 281.5h.8M203.5 292.2h.8M229.3 294.0h.8M238.5 288.3h.8M246.1 280.5h.8M233.1 284.8h.8M250.8 296.2h.8M229.8 293.5h.8M242.3 270.7h.8M242.2 277.3h.8M229.4 276.0h.8M245.4 282.8h.8M253.3 283.3h.8M232.8 284.5h.8M218.1 296.9h.8M217.1 283.7h.8M229.3 281.6h.8M219.9 290.9h.8M222.2 276.0h.8M239.0 298.5h.8M230.4 287.2h.8M237.0 271.3h.8M228.8 286.5h.8M224.9 281.4h.8M239.2 291.8h.8M224.6 289.4h.8M213.7 288.3h.8M225.2 280.9h.8M218.5 296.5h.8M214.5 280.4h.8M224.7 297.6h.8M239.9 279.9h.8M246.4 278.5h.8M243.2 280.6h.8M241.7 286.3h.8M223.0 286.7h.8M235.6 294.9h.8M239.7 286.7h.8M236.5 286.4h.8M230.4 289.0h.8M212.6 286.6h.8M207.0 287.0h.8M214.6 293.1h.8M235.3 283.1h.8M215.1 285.8h.8M240.6 286.9h.8M228.4 281.5h.8M246.5 269.6h.8M237.6 277.8h.8M227.5 283.5h.8M229.9 278.9h.8M237.4 291.5h.8M204.8 289.1h.8M227.1 285.5h.8M243.6 279.1h.8M232.8 292.4h.8M224.6 280.7h.8M238.9 287.1h.8M213.1 295.9h.8M246.1 279.6h.8M220.3 281.5h.8M255.6 290.8h.8M230.2 292.3h.8M230.4 290.3h.8M244.0 283.4h.8M236.6 275.2h.8M227.8 298.8h.8M211.7 278.7h.8M227.7 294.2h.8M244.7 294.0h.8M226.8 282.3h.8M229.3 281.7h.8M237.0 284.0h.8M249.8 285.8h.8M212.8 274.6h.8M220.9 277.9h.8M234.3 280.1h.8M232.8 278.3h.8M229.1 287.7h.8M235.0 280.4h.8M226.2 296.0h.8M240.8 291.5h.8M215.9 295.9h.8M230.7 286.2h.8M238.8 277.3h.8M224.0 292.7h.8M237.0 275.7h.8M213.4 282.8h.8M244.6 293.3h.8M238.4 280.8h.8M252.0 283.3h.8M243.9 280.2h.8M214.3 290.8h.8M225.9 281.4h.8M238.5 278.8h.8M219.6 285.4h.8M244.2 282.7h.8M241.2 277.3h.8M243.7 293.9h.8M204.1 285.0h.8M205.4 284.5h.8M229.0 287.5h.8M204.4 294.8h.8M228.3 284.1h.8M251.9 293.9h.8M231.8 284.7h.8M235.4 285.1h.8M205.8 283.4h.8M246.3 291.5h.8M218.2 290.1h.8M234.6 287.9h.8M227.5 283.1h.8M218.9 279.6h.8M234.6 279.1h.8M242.8 279.3h.8M215.9 287.6h.8M233.4 280.6h.8M216.8 295.2h.8M223.7 277.1h.8M257.4 277.6h.8M234.5 275.9h.8M224.0 288.1h.8M226.1 281.9h.8M246.7 282.4h.8M240.6 281.6h.8M248.9 292.8h.8M235.0 275.6h.8M243.6 292.8h.8M247.1 282.4h.8M218.0 296.6h.8M227.1 283.7h.8M231.5 274.2h.8M203.7 290.8h.8M242.3 285.4h.8M218.2 277.2h.8M214.9 275.4h.8M225.6 290.4h.8M233.1 285.7h.8M249.8 285.6h.8M233.8 282.4h.8M251.4 280.9h.8M242.9 290.0h.8M240.4 272.3h.8M236.4 288.1h.8M222.3 289.8h.8M236.8 284.9h.8M242.9 287.8h.8M219.1 295.3h.8M251.3 286.8h.8M207.6 283.7h.8M234.5 287.7h.8M239.5 301.3h.8M237.0 272.7h.8M228.0 284.3h.8M208.9 271.7h.8M231.9 283.4h.8M233.8 288.8h.8M235.7 283.4h.8M209.7 279.7h.8M238.9 293.3h.8M218.6 282.8h.8M234.2 281.0h.8M236.6 283.7h.8M237.1 282.0h.8M251.5 289.3h.8M238.3 290.8h.8M240.6 283.7h.8M219.8 285.1h.8M224.2 286.5h.8M227.0 288.6h.8M214.6 281.4h.8M239.0 280.9h.8M235.4 288.0h.8M248.0 275.3h.8M237.9 277.5h.8M212.6 286.6h.8M235.2 276.8h.8M209.8 286.9h.8M245.1 279.4h.8M243.1 282.7h.8M231.5 295.4h.8M210.2 289.8h.8M254.1 280.4h.8M241.6 284.8h.8M213.2 286.9h.8M216.8 295.9h.8M206.4 283.7h.8M242.2 292.7h.8M239.4 283.9h.8M229.8 269.1h.8M205.6 286.8h.8M235.6 282.2h.8M217.5 283.3h.8M211.7 284.8h.8M224.6 286.8h.8M229.8 284.1h.8M233.2 279.7h.8M229.9 278.9h.8M252.6 287.0h.8M245.5 279.0h.8M237.5 285.9h.8M260.4 275.4h.8M234.1 277.9h.8M258.4 288.7h.8M224.7 282.6h.8M213.6 280.6h.8M229.6 275.8h.8M216.7 283.6h.8M230.4 279.5h.8M226.1 290.2h.8M241.1 276.5h.8M229.5 281.6h.8M241.0 285.0h.8M248.8 286.9h.8M209.6 283.2h.8M246.1 291.9h.8M233.5 279.1h.8M223.3 292.8h.8M252.4 277.5h.8M238.4 272.7h.8M215.7 278.1h.8M235.8 282.6h.8M204.9 288.1h.8M252.0 296.4h.8M252.3 293.6h.8M211.7 284.4h.8M234.0 282.5h.8M221.8 280.2h.8M260.3 292.5h.8M256.2 289.6h.8M235.0 281.2h.8M252.1 283.0h.8M210.2 276.4h.8M215.7 294.5h.8M219.1 289.7h.8M203.9 296.3h.8M245.2 282.5h.8M218.9 288.7h.8M220.6 282.2h.8M247.5 285.2h.8M225.8 288.6h.8M237.9 291.6h.8M239.9 281.2h.8M248.7 275.8h.8M216.7 290.0h.8M224.9 283.3h.8M228.5 279.9h.8M228.5 279.2h.8M220.9 277.7h.8M236.7 284.8h.8M223.4 267.9h.8M244.9 274.9h.8M210.1 279.1h.8M241.8 277.6h.8M208.4 278.3h.8M238.9 297.4h.8M245.1 289.3h.8M203.6 283.0h.8M225.6 287.7h.8M210.9 280.0h.8M245.8 295.8h.8M237.2 276.6h.8M243.6 271.9h.8M237.5 289.1h.8M238.8 280.1h.8M236.2 282.3h.8M211.8 278.5h.8M223.4 276.2h.8M242.9 278.4h.8M248.2 278.1h.8M221.9 280.0h.8M238.6 292.9h.8M242.6 282.0h.8M207.5 284.3h.8M216.5 284.6h.8M217.7 283.1h.8M251.4 288.0h.8M241.8 290.9h.8M222.0 289.3h.8M232.5 286.4h.8M237.9 279.9h.8M245.8 290.8h.8M234.4 273.4h.8M260.1 293.9h.8M228.9 280.7h.8M242.4 288.9h.8M229.3 282.5h.8M221.0 281.4h.8M232.2 286.5h.8M233.6 277.8h.8M238.3 275.5h.8M233.8 284.2h.8M253.8 293.4h.8M228.4 284.2h.8M242.5 289.3h.8M224.9 272.4h.8M218.6 295.8h.8M231.6 284.7h.8M231.0 278.9h.8M223.7 274.0h.8M242.5 296.8h.8M213.3 284.3h.8M252.2 286.6h.8M242.8 285.5h.8M233.7 286.0h.8M222.2 276.4h.8M224.9 282.1h.8M225.9 277.3h.8M234.0 278.2h.8M232.1 275.4h.8M238.7 270.6h.8M223.0 279.5h.8M234.9 278.2h.8M218.3 302.8h.8M224.5 278.5h.8M249.4 286.3h.8M225.3 281.9h.8M240.0 284.7h.8M245.8 292.7h.8M204.4 275.0h.8M233.4 294.2h.8M244.8 300.2h.8M254.2 279.4h.8M234.2 283.3h.8M237.2 296.0h.8M236.0 276.5h.8M225.1 283.1h.8M242.4 278.5h.8M230.0 291.6h.8M204.2 283.7h.8M243.9 273.3h.8M232.4 288.5h.8M245.8 280.9h.8M236.2 290.3h.8M245.3 284.4h.8M228.0 286.9h.8M240.0 295.9h.8M204.6 273.9h.8M234.9 278.2h.8M237.7 283.4h.8M222.9 285.9h.8M247.9 277.5h.8M222.8 286.3h.8M224.3 280.2h.8M247.8 279.2h.8M237.9 282.0h.8M243.4 288.2h.8M215.0 289.6h.8M205.7 293.2h.8M236.2 290.9h.8M239.9 283.0h.8M236.0 280.1h.8M241.7 283.5h.8M248.2 286.6h.8M234.3 282.3h.8M240.9 270.1h.8M214.1 293.6h.8M243.8 286.2h.8M236.0 277.0h.8M230.8 287.9h.8M230.5 287.5h.8M249.4 273.5h.8M213.5 286.7h.8M226.8 287.0h.8M236.6 289.4h.8M214.3 281.5h.8M228.8 284.2h.8M204.2 287.5h.8M238.5 286.3h.8M238.1 277.6h.8M255.6 277.4h.8M213.2 278.5h.8M231.7 280.6h.8M229.8 284.7h.8M250.0 283.2h.8M225.6 295.7h.8M241.5 283.7h.8M242.8 290.7h.8M222.0 278.1h.8M224.0 295.3h.8M243.6 291.8h.8M228.9 293.7h.8M229.7 285.5h.8M227.8 276.9h.8M235.9 281.7h.8M241.3 283.2h.8M231.6 284.7h.8M222.6 283.9h.8M218.9 288.5h.8M232.8 279.6h.8M234.7 303.8h.8M245.6 283.1h.8M237.3 289.5h.8M204.1 289.1h.8M240.9 285.9h.8M204.3 280.6h.8M233.9 297.1h.8M239.1 282.6h.8M231.9 287.8h.8M227.1 280.2h.8M237.3 288.0h.8M245.7 289.6h.8M232.1 280.3h.8M230.3 291.1h.8M222.9 284.6h.8M220.4 275.0h.8M222.2 279.6h.8M256.5 276.8h.8M226.7 276.3h.8M239.8 287.8h.8M241.2 288.0h.8M237.4 281.6h.8M226.2 276.7h.8M241.2 284.3h.8M238.9 289.7h.8M229.2 285.6h.8M246.1 276.6h.8M244.8 289.2h.8M226.2 291.2h.8M247.6 285.7h.8M246.7 270.9h.8M248.4 284.8h.8M221.0 284.7h.8M204.3 279.5h.8M244.7 275.3h.8M237.4 289.0h.8M214.5 288.8h.8M206.1 280.9h.8M229.1 290.0h.8M206.2 277.2h.8M235.1 278.9h.8M245.8 272.8h.8M233.2 281.8h.8M233.1 282.2h.8M221.3 291.7h.8M216.8 285.4h.8M235.1 286.5h.8M240.3 274.4h.8M222.4 281.5h.8M227.8 284.8h.8M230.8 290.5h.8M225.2 282.3h.8M234.8 287.5h.8M214.6 289.9h.8M237.9 280.6h.8M238.0 282.0h.8M234.7 274.4h.8M203.7 280.0h.8M233.3 282.9h.8M219.0 284.2h.8M234.3 295.2h.8M236.7 286.2h.8M212.1 288.5h.8M248.3 288.6h.8M238.2 284.6h.8M245.1 271.5h.8M240.0 288.0h.8M239.3 287.1h.8M236.6 284.8h.8M219.3 281.9h.8M236.7 280.3h.8M239.2 287.8h.8M229.3 302.6h.8M213.0 295.7h.8M204.2 282.9h.8M236.6 290.2h.8M215.2 312.8h.8M216.8 291.3h.8M235.2 301.0h.8M207.6 302.6h.8M204.9 288.0h.8M228.7 305.6h.8M213.4 291.5h.8M245.6 303.4h.8M216.0 290.7h.8M211.2 301.6h.8M239.7 299.1h.8M232.9 291.6h.8M234.4 296.2h.8M243.2 307.6h.8M234.7 301.0h.8M232.0 291.0h.8M215.3 286.6h.8M235.8 290.5h.8M220.9 301.6h.8M262.9 294.1h.8M255.0 296.2h.8M251.2 285.9h.8M220.6 308.3h.8M225.1 284.1h.8M205.4 306.2h.8M235.0 304.5h.8M226.5 280.5h.8M226.1 307.9h.8M219.2 296.8h.8M204.7 287.9h.8M230.0 289.9h.8M229.9 301.9h.8M237.7 299.3h.8M216.8 306.3h.8M240.0 289.6h.8M260.4 289.7h.8M251.0 297.7h.8M218.8 285.9h.8M206.7 304.2h.8M228.5 306.4h.8M239.3 290.0h.8M217.0 287.0h.8M244.1 288.3h.8M266.3 309.4h.8M242.1 292.2h.8M229.6 296.5h.8M220.5 302.6h.8M206.0 293.4h.8M223.8 285.3h.8M220.0 289.3h.8M217.4 289.5h.8M252.9 288.5h.8M245.2 280.3h.8M224.8 289.8h.8M222.1 297.1h.8M229.2 306.3h.8M227.8 315.1h.8M222.9 305.6h.8M228.2 277.7h.8M240.6 302.8h.8M229.6 311.0h.8M248.9 291.3h.8M233.9 282.2h.8M232.6 293.2h.8M224.0 282.8h.8M245.8 288.7h.8M238.5 303.9h.8M226.1 294.5h.8M218.1 294.2h.8M235.0 289.5h.8M219.2 302.2h.8M238.4 296.7h.8M229.3 297.7h.8M249.2 291.7h.8M215.1 294.6h.8M247.5 288.3h.8M215.1 304.1h.8M217.8 293.4h.8M250.8 295.4h.8M230.8 310.6h.8M231.4 288.2h.8M207.3 282.8h.8M220.4 295.4h.8M214.1 291.6h.8M227.1 301.6h.8M252.9 284.3h.8M225.3 286.4h.8M204.2 293.1h.8M222.4 294.5h.8M249.1 279.2h.8M225.4 314.5h.8M226.3 291.4h.8M231.8 272.6h.8M260.6 295.6h.8M239.1 286.7h.8M223.3 303.9h.8M223.5 287.6h.8M221.4 293.8h.8M207.9 296.7h.8M203.6 300.3h.8M253.0 288.9h.8M237.8 292.1h.8M227.1 299.4h.8M231.8 278.7h.8M204.0 302.0h.8M216.6 289.8h.8M232.1 304.6h.8M232.4 291.6h.8M219.9 302.3h.8M226.2 298.4h.8M241.2 300.5h.8M254.7 289.7h.8M235.5 297.1h.8M253.3 290.7h.8M208.8 302.8h.8M221.4 300.5h.8M224.9 301.1h.8M211.0 291.2h.8M237.3 279.0h.8M215.8 298.9h.8M220.6 285.3h.8M221.4 294.0h.8M208.8 300.3h.8M255.3 286.9h.8M224.9 292.2h.8M239.1 296.5h.8M228.6 280.5h.8M216.6 297.1h.8M230.7 279.0h.8M222.1 297.1h.8M228.2 309.9h.8M256.3 288.8h.8M210.1 303.7h.8M204.2 304.7h.8M218.7 273.3h.8M222.7 308.4h.8M210.6 297.3h.8M223.2 269.4h.8M233.2 281.2h.8M222.2 296.5h.8M217.2 277.5h.8M233.5 288.1h.8M241.9 302.0h.8M249.2 292.5h.8M220.6 304.7h.8M227.1 286.7h.8M255.6 280.1h.8M234.6 293.4h.8M240.1 300.9h.8M220.0 294.7h.8M248.9 299.6h.8M208.1 298.7h.8M215.1 299.4h.8M244.2 291.0h.8M240.1 284.4h.8M235.3 292.1h.8M210.0 283.8h.8M241.3 308.5h.8M204.0 289.2h.8M227.2 288.6h.8M253.3 276.2h.8M239.3 299.6h.8M241.8 309.2h.8M221.4 302.8h.8M225.9 284.7h.8M236.1 291.5h.8M216.4 296.6h.8M236.7 292.6h.8M259.9 289.9h.8M247.0 293.4h.8M228.4 294.7h.8M258.2 308.2h.8M235.3 286.4h.8M235.8 298.6h.8M223.3 283.4h.8M235.0 289.2h.8M249.7 298.3h.8M252.0 286.1h.8M229.0 297.7h.8M230.0 295.7h.8M238.6 296.2h.8M225.0 280.4h.8M231.1 309.8h.8M225.6 311.8h.8M206.7 299.4h.8M230.1 286.5h.8M225.7 287.4h.8M250.1 294.7h.8M204.7 299.1h.8M234.2 298.6h.8M215.9 295.5h.8M220.0 303.5h.8M228.0 301.0h.8M230.4 294.2h.8M241.7 309.3h.8M228.6 302.9h.8M214.3 302.4h.8M223.7 295.2h.8M254.0 293.9h.8M254.8 296.3h.8M222.5 305.4h.8M204.3 304.2h.8M212.1 288.5h.8M206.9 284.7h.8M218.5 297.3h.8M245.4 306.9h.8M222.9 297.4h.8M216.6 279.7h.8M222.3 298.7h.8M226.5 291.1h.8M221.2 292.3h.8M249.9 295.7h.8M247.7 298.0h.8M244.6 297.1h.8M228.8 285.1h.8M249.1 280.7h.8M218.0 287.3h.8M224.6 305.0h.8M212.6 308.8h.8M233.5 305.7h.8M227.1 292.8h.8M230.9 307.6h.8M204.1 293.2h.8M232.3 303.6h.8M234.2 295.9h.8M239.8 282.3h.8M224.8 305.5h.8M251.8 300.7h.8M245.5 293.6h.8M212.0 296.5h.8M228.4 282.6h.8M210.5 310.2h.8M245.6 288.6h.8M218.0 292.6h.8M204.4 265.8h.8M242.8 286.6h.8M232.8 298.4h.8M230.4 295.6h.8M215.2 301.7h.8M203.8 300.0h.8M250.2 285.6h.8M253.3 284.8h.8M221.6 300.5h.8M223.7 278.2h.8M204.2 301.4h.8M211.1 295.0h.8M283.9 288.9h.8M229.0 305.9h.8M233.4 287.5h.8M237.7 281.4h.8M240.1 297.7h.8M204.3 288.7h.8M211.9 301.4h.8M215.9 300.8h.8M204.3 292.6h.8M203.6 295.0h.8M208.5 297.4h.8M249.9 302.0h.8M204.1 297.3h.8M241.7 302.4h.8M223.0 306.1h.8M207.0 301.1h.8M225.8 292.2h.8M244.7 282.0h.8M212.9 286.8h.8M215.0 287.8h.8M230.0 279.5h.8M227.6 300.8h.8M227.9 300.2h.8M221.9 298.5h.8M223.5 299.0h.8M230.6 304.7h.8M218.7 299.4h.8M223.4 298.7h.8M213.6 302.3h.8M225.7 285.1h.8M212.9 273.4h.8M231.8 294.4h.8M204.8 289.1h.8M242.3 298.9h.8M226.9 308.3h.8M263.8 298.9h.8M217.6 289.9h.8M220.3 295.6h.8M212.7 294.4h.8M229.8 297.0h.8M244.6 297.3h.8M203.3 284.9h.8M239.7 299.9h.8M226.5 291.3h.8M224.0 300.9h.8M232.3 289.3h.8M218.4 304.3h.8M227.3 310.3h.8M212.5 298.2h.8M225.5 286.5h.8M247.3 301.1h.8M243.6 307.9h.8M216.0 298.1h.8M220.2 290.9h.8M228.3 298.4h.8M222.6 297.1h.8M203.4 298.5h.8M223.4 302.6h.8M259.9 294.4h.8M237.2 292.2h.8M238.9 302.9h.8M226.8 288.3h.8M234.2 287.0h.8M212.6 286.8h.8M239.6 286.0h.8M211.9 275.8h.8M228.4 293.7h.8M234.7 291.1h.8M242.3 296.8h.8M242.8 305.1h.8M208.7 284.2h.8M226.3 293.0h.8M221.8 295.4h.8M224.1 309.0h.8M221.3 300.3h.8M223.1 274.8h.8M244.6 302.4h.8M237.1 296.6h.8M226.4 293.6h.8M226.1 298.8h.8M223.8 286.3h.8M257.4 289.7h.8M248.2 299.4h.8M204.3 304.5h.8M244.8 285.3h.8M204.8 298.0h.8M229.0 302.5h.8M209.8 287.6h.8M235.8 295.6h.8M203.4 305.2h.8M231.4 284.8h.8M242.0 287.4h.8M240.7 284.3h.8M245.7 300.5h.8M221.7 288.6h.8M224.8 296.8h.8M204.4 307.0h.8M219.8 289.7h.8M237.3 288.8h.8M243.7 315.6h.8M217.5 304.4h.8M240.5 288.0h.8M248.6 302.1h.8M223.1 279.4h.8M234.6 290.6h.8M213.8 291.5h.8M219.3 303.3h.8M244.9 288.7h.8M221.6 282.8h.8M250.6 286.0h.8M210.8 299.0h.8M231.4 279.7h.8M218.2 302.8h.8M210.1 293.2h.8M246.9 304.5h.8M231.6 285.7h.8M208.8 289.1h.8M225.2 289.7h.8M214.8 296.1h.8M247.8 281.0h.8M231.1 287.8h.8M232.5 296.5h.8M230.2 285.8h.8M229.8 308.7h.8M222.9 309.5h.8M207.3 289.6h.8M254.0 299.0h.8M234.2 297.0h.8M242.9 295.4h.8M229.6 287.9h.8M231.7 277.9h.8M218.9 290.2h.8M229.3 279.9h.8M233.5 308.2h.8M220.2 296.7h.8M222.9 293.3h.8M243.6 302.2h.8M216.1 290.6h.8M220.8 296.9h.8M226.4 284.1h.8M221.6 286.1h.8M236.7 285.2h.8M213.0 287.9h.8M226.4 291.0h.8M220.9 304.2h.8M231.6 296.9h.8M236.8 300.9h.8M265.2 290.7h.8M239.9 289.7h.8M227.1 293.4h.8M204.8 300.0h.8M226.3 293.5h.8M216.8 304.1h.8M224.4 292.5h.8M233.7 296.8h.8M235.7 285.6h.8M235.7 302.5h.8M225.0 287.3h.8M226.9 302.9h.8M248.7 301.3h.8M230.2 311.3h.8M208.9 301.4h.8M240.0 292.4h.8M233.5 296.2h.8M214.5 283.8h.8M215.0 312.8h.8M224.3 307.1h.8M253.7 293.3h.8M255.3 289.2h.8M221.5 301.5h.8M210.1 308.3h.8M217.9 289.7h.8M204.1 288.2h.8M238.0 305.2h.8M211.4 292.8h.8M216.1 287.6h.8M234.9 305.5h.8M237.3 302.3h.8M211.9 303.3h.8M218.7 284.7h.8M233.2 282.6h.8M230.6 294.4h.8M232.7 290.0h.8M229.8 291.0h.8M205.8 293.8h.8M230.2 290.3h.8M223.9 313.9h.8M251.2 282.2h.8M216.5 300.9h.8M244.5 304.9h.8M245.8 301.5h.8M242.1 300.9h.8M236.9 293.9h.8M242.8 296.1h.8M240.9 291.6h.8M238.5 270.6h.8M244.4 300.2h.8M231.5 301.2h.8M217.3 286.6h.8M251.1 304.9h.8M211.2 290.6h.8M235.5 304.6h.8M245.5 288.1h.8M236.0 305.7h.8M213.0 293.5h.8M220.5 313.1h.8M204.2 304.8h.8M231.2 312.6h.8M250.5 303.7h.8M205.6 296.2h.8M218.9 316.6h.8M213.8 304.6h.8M238.8 274.6h.8M219.5 287.5h.8M244.4 319.1h.8M241.1 297.6h.8M254.7 300.2h.8M246.3 278.2h.8M228.8 279.4h.8M216.6 286.4h.8M236.3 276.1h.8M217.6 294.8h.8M222.2 294.7h.8M222.4 283.5h.8M242.0 287.3h.8M220.5 296.0h.8M229.8 279.0h.8M211.5 287.6h.8M224.7 295.5h.8M214.4 288.8h.8M247.6 300.4h.8M204.3 286.1h.8M229.5 303.8h.8M231.9 296.5h.8M244.3 306.6h.8M229.4 302.5h.8M268.1 299.6h.8M235.8 280.5h.8M238.8 279.1h.8M238.4 305.0h.8M229.0 288.6h.8M250.3 285.2h.8M221.9 291.8h.8M210.1 298.7h.8M294.6 251.1h.8M312.3 249.2h.8M261.5 250.9h.8M289.2 233.8h.8M278.5 247.1h.8M285.0 240.1h.8M297.2 230.6h.8M281.3 252.5h.8M294.4 245.4h.8M268.9 248.9h.8M307.6 241.4h.8M269.0 250.7h.8M292.3 250.0h.8M286.6 250.1h.8M282.3 252.5h.8M297.0 232.6h.8M278.1 251.8h.8M288.9 249.9h.8M309.5 241.8h.8M309.8 248.0h.8M291.9 246.6h.8M271.8 243.1h.8M289.8 244.0h.8M272.0 246.8h.8M278.9 242.5h.8M306.2 242.8h.8M264.2 253.2h.8M261.5 254.8h.8M288.9 244.8h.8M277.7 242.1h.8M276.1 253.5h.8M273.2 254.1h.8M297.4 233.2h.8M252.6 248.7h.8M284.7 245.6h.8M292.2 248.2h.8M282.6 249.3h.8M300.6 238.8h.8M294.2 237.9h.8M279.8 251.6h.8M268.4 262.1h.8M271.7 250.3h.8M248.9 251.1h.8M290.6 240.5h.8M295.1 246.1h.8M257.3 261.2h.8M284.4 253.1h.8M303.5 235.6h.8M306.8 239.7h.8M276.8 264.1h.8M299.1 241.3h.8M296.9 242.2h.8M282.6 248.3h.8M298.2 244.2h.8M273.9 252.2h.8M292.5 240.5h.8M271.8 240.5h.8M290.7 239.8h.8M307.3 241.2h.8M280.1 247.3h.8M283.8 256.0h.8M291.9 252.6h.8M313.4 250.6h.8M263.2 252.1h.8M310.7 243.8h.8M277.2 253.2h.8M291.4 244.7h.8M293.5 243.3h.8M279.6 252.1h.8M276.7 238.8h.8M285.3 241.1h.8M266.6 254.0h.8M287.2 252.2h.8M283.4 254.8h.8M294.0 252.1h.8M289.3 244.4h.8M282.0 250.9h.8M279.0 243.9h.8M286.4 251.7h.8M319.0 225.4h.8M261.4 257.9h.8M271.8 250.9h.8M311.3 237.0h.8M301.6 254.1h.8M262.3 256.0h.8M289.1 240.3h.8M287.5 249.0h.8M293.3 249.0h.8M288.3 256.7h.8M271.0 239.2h.8M313.4 235.0h.8M296.1 239.7h.8M250.4 259.6h.8M277.6 244.2h.8M304.2 232.7h.8M287.4 256.7h.8M278.1 243.0h.8M285.9 236.5h.8M270.9 254.0h.8M276.9 253.9h.8M315.0 235.5h.8M302.5 246.0h.8M269.6 258.2h.8M281.3 246.6h.8M296.9 252.3h.8M292.2 242.3h.8M248.7 246.1h.8M283.2 244.3h.8M264.6 256.0h.8M304.3 245.8h.8M287.8 242.8h.8M284.7 242.2h.8M268.2 247.7h.8M260.9 263.8h.8M290.8 238.4h.8M311.7 235.6h.8M291.3 252.0h.8M306.1 245.1h.8M288.7 243.7h.8M316.5 240.6h.8M262.2 249.8h.8M297.7 245.3h.8M317.7 238.3h.8M289.6 247.6h.8M303.1 250.9h.8M296.6 235.1h.8M282.8 248.7h.8M267.5 265.5h.8M316.6 242.7h.8M316.2 230.8h.8M279.1 262.5h.8M278.7 256.8h.8M281.5 241.3h.8M263.1 252.7h.8M269.0 252.2h.8M263.9 259.0h.8M291.0 248.2h.8M310.9 235.6h.8M289.9 237.6h.8M245.9 253.7h.8M246.9 261.4h.8M287.0 249.7h.8M267.3 243.1h.8M277.0 248.5h.8M284.6 251.5h.8M278.4 254.8h.8M303.8 234.9h.8M303.4 246.2h.8M275.8 249.5h.8M266.7 251.0h.8M297.3 248.2h.8M306.9 239.7h.8M285.7 241.2h.8M275.7 243.7h.8M296.7 242.0h.8M262.8 247.0h.8M292.7 245.1h.8M273.5 247.8h.8M291.0 250.2h.8M278.6 251.4h.8M298.0 239.6h.8M297.6 247.4h.8M281.2 240.8h.8M271.6 255.5h.8M300.4 240.1h.8M297.9 236.4h.8M291.8 245.0h.8M302.9 243.2h.8M294.8 242.0h.8M283.1 242.1h.8M308.4 242.9h.8M276.9 247.6h.8M287.9 249.9h.8M289.3 254.4h.8M272.4 253.1h.8M270.1 251.2h.8M285.3 261.4h.8M283.9 248.1h.8M307.7 228.0h.8M313.4 237.4h.8M286.8 242.9h.8M285.1 244.7h.8M295.3 253.3h.8M278.0 234.2h.8M303.9 239.9h.8M289.2 257.5h.8M312.5 241.0h.8M292.8 246.2h.8M259.9 254.8h.8M285.2 247.3h.8M300.3 245.5h.8M304.1 236.4h.8M281.0 244.3h.8M255.1 238.4h.8M275.2 254.0h.8M294.8 246.5h.8M293.0 246.7h.8M289.4 246.0h.8M309.6 237.3h.8M281.7 249.6h.8M306.0 239.6h.8M306.6 244.8h.8M320.2 235.9h.8M293.7 253.0h.8M303.8 234.5h.8M260.7 249.0h.8M305.5 245.6h.8M289.3 238.6h.8M304.4 242.8h.8M301.3 238.2h.8M292.6 248.3h.8M303.6 240.5h.8M277.2 246.3h.8M300.3 245.0h.8M267.9 250.0h.8M278.8 236.3h.8M298.5 247.1h.8M288.2 233.6h.8M278.8 248.9h.8M282.3 246.8h.8M282.9 248.5h.8M303.1 248.6h.8M296.0 238.1h.8M262.4 247.4h.8M313.7 242.6h.8M280.9 243.9h.8M292.2 252.6h.8M278.1 243.5h.8M266.9 256.8h.8M312.6 245.8h.8M318.6 242.3h.8M296.0 239.0h.8M295.8 247.1h.8M300.8 249.8h.8M263.8 255.9h.8M296.7 252.1h.8M313.3 234.2h.8M287.8 245.7h.8M301.2 255.6h.8M263.4 248.9h.8M283.5 238.6h.8M293.8 245.2h.8M273.7 244.7h.8M287.0 247.5h.8M295.7 251.1h.8M284.3 241.3h.8M287.2 243.0h.8M284.7 232.9h.8M300.7 236.5h.8M292.7 245.6h.8M302.0 242.8h.8M319.0 233.3h.8M300.0 246.2h.8M307.2 256.6h.8M273.1 254.8h.8M299.2 252.4h.8M307.4 244.1h.8M273.8 244.8h.8M302.2 249.0h.8M302.6 247.3h.8M282.6 238.0h.8M286.8 243.2h.8M310.1 241.9h.8M295.8 247.9h.8M285.3 233.0h.8M267.6 255.9h.8M278.6 250.1h.8M300.7 250.8h.8M304.1 240.7h.8M293.5 249.3h.8M287.3 245.0h.8M266.8 251.3h.8M278.1 247.1h.8M290.3 241.5h.8M272.1 244.4h.8M254.9 256.0h.8M264.8 247.6h.8M289.1 247.9h.8M286.8 246.9h.8M289.9 237.8h.8M314.7 233.8h.8M273.6 253.1h.8M297.3 231.0h.8M285.7 254.2h.8M281.7 241.5h.8M302.3 235.2h.8M294.0 253.0h.8M266.6 237.6h.8M262.0 250.9h.8M286.8 246.5h.8M282.0 245.5h.8M275.4 246.2h.8M289.7 246.6h.8M296.4 234.5h.8M305.8 238.6h.8M288.2 238.2h.8M285.9 241.5h.8M286.9 239.0h.8M265.6 255.8h.8M277.0 252.7h.8M292.3 243.0h.8M295.9 245.2h.8M298.9 248.9h.8M285.9 252.3h.8M293.2 240.4h.8M298.7 244.9h.8M294.0 253.6h.8M295.7 244.8h.8M293.5 246.8h.8M281.4 239.7h.8M294.0 247.0h.8M281.9 237.9h.8M264.0 258.5h.8M280.8 257.9h.8M302.1 246.5h.8M282.6 247.0h.8M318.3 227.4h.8M266.8 261.4h.8M275.0 238.1h.8M313.3 231.8h.8M312.5 244.0h.8M303.2 232.5h.8M297.0 258.0h.8M289.7 254.4h.8M264.0 258.6h.8M289.5 245.0h.8M284.9 238.8h.8M296.4 235.9h.8M273.5 247.3h.8M277.9 243.4h.8M273.8 259.2h.8M283.8 245.0h.8M267.3 248.0h.8M284.7 246.8h.8M292.9 240.2h.8M296.4 246.8h.8M281.4 245.8h.8M286.9 250.4h.8M273.7 255.0h.8M290.0 259.6h.8M304.5 233.5h.8M267.7 254.6h.8M297.3 244.3h.8M290.7 257.1h.8M266.3 252.0h.8M302.1 252.5h.8M267.0 257.0h.8M283.2 256.7h.8M305.6 244.8h.8M291.2 254.4h.8M283.1 235.4h.8M283.7 243.8h.8M285.9 241.1h.8M293.8 252.4h.8M282.7 247.2h.8M299.5 238.6h.8M302.8 255.0h.8M265.2 257.2h.8M277.7 251.4h.8M272.2 240.4h.8M287.6 252.6h.8M277.7 252.5h.8M280.2 256.1h.8M293.1 252.1h.8M274.9 251.0h.8M268.8 252.0h.8M271.8 237.9h.8M281.6 253.1h.8M304.1 233.4h.8M301.0 250.4h.8M315.8 243.9h.8M293.0 248.7h.8M290.0 250.4h.8M301.3 233.9h.8M301.8 233.2h.8M274.6 243.8h.8M305.6 244.3h.8M279.4 250.9h.8M265.2 245.2h.8M265.8 254.5h.8M297.2 245.3h.8M288.9 240.8h.8M293.1 247.4h.8M297.3 246.8h.8M311.1 253.3h.8M295.5 239.7h.8M290.0 253.0h.8M285.2 246.5h.8M305.7 242.4h.8M275.2 250.6h.8M278.5 245.0h.8M304.1 234.2h.8M280.9 254.3h.8M264.7 247.5h.8M258.3 257.8h.8M291.1 251.5h.8M310.5 245.0h.8M292.8 244.7h.8M265.9 264.2h.8M297.9 238.4h.8M287.4 238.9h.8M298.6 243.5h.8M267.4 240.6h.8M294.1 243.9h.8M270.4 242.7h.8M275.9 251.2h.8M278.8 238.8h.8M310.2 240.2h.8M297.9 237.6h.8M313.4 233.3h.8M315.1 247.5h.8M290.1 246.3h.8M312.5 244.7h.8M277.6 237.7h.8M276.0 248.3h.8M280.0 247.8h.8M297.0 285.0h.8M268.6 284.0h.8M274.9 289.5h.8M242.6 278.7h.8M285.5 284.8h.8M260.1 292.7h.8M253.5 291.9h.8M253.1 282.0h.8M240.7 276.4h.8M244.3 289.2h.8M247.4 314.7h.8M270.3 260.4h.8M269.3 294.5h.8M266.2 249.3h.8M282.6 283.2h.8M257.8 280.8h.8M271.3 277.5h.8M298.2 282.0h.8M255.5 290.5h.8M255.0 291.1h.8M249.3 293.0h.8M266.3 285.9h.8M259.4 278.5h.8M280.8 259.4h.8M276.1 272.1h.8M234.1 294.4h.8M238.3 299.1h.8M274.5 277.1h.8M317.6 285.0h.8M280.1 282.0h.8M268.4 277.6h.8M292.1 273.0h.8M279.6 291.5h.8M266.2 287.9h.8M293.0 273.3h.8M267.8 295.4h.8M266.0 251.0h.8M278.2 284.3h.8M253.0 292.5h.8M261.4 291.4h.8M242.9 278.2h.8M293.3 293.3h.8M255.8 287.0h.8M264.3 294.9h.8M248.8 279.5h.8M287.2 280.4h.8M290.1 299.8h.8M271.1 297.8h.8M249.6 295.4h.8M276.4 262.1h.8M315.7 310.6h.8M306.1 297.1h.8M299.2 295.6h.8M281.3 275.0h.8M307.5 289.7h.8M272.1 279.0h.8M232.6 266.0h.8M297.9 292.1h.8M263.6 277.0h.8M269.8 302.8h.8M295.7 277.5h.8M252.1 281.3h.8M313.5 304.4h.8M255.9 288.9h.8M253.9 273.4h.8M240.3 278.0h.8M309.5 297.6h.8M290.6 282.0h.8M251.0 287.0h.8M269.8 296.8h.8M294.3 280.7h.8M280.2 272.4h.8M267.2 281.2h.8M238.3 280.6h.8M205.9 293.3h.8M233.5 275.4h.8M242.7 299.5h.8M260.6 277.2h.8M252.8 285.7h.8M252.5 292.0h.8M265.7 261.9h.8M261.7 284.4h.8M271.5 276.1h.8M244.4 281.0h.8M275.2 274.7h.8M259.0 303.0h.8M265.5 288.2h.8M272.8 278.3h.8M268.4 282.4h.8M276.2 290.6h.8M299.6 279.2h.8M279.7 278.1h.8M281.8 301.5h.8M287.6 284.7h.8M250.4 269.0h.8M246.1 293.3h.8M283.2 276.7h.8M230.8 295.0h.8M250.2 283.3h.8M304.5 300.0h.8M310.4 277.4h.8M278.1 264.8h.8M309.0 301.8h.8M288.2 314.2h.8M273.3 256.5h.8M266.8 301.5h.8M288.4 315.0h.8M250.6 287.4h.8M259.9 280.5h.8M258.1 283.1h.8M269.0 272.5h.8M293.0 284.8h.8M286.1 285.4h.8M267.7 293.6h.8M280.7 290.7h.8M254.4 293.8h.8M284.1 284.0h.8M299.4 311.2h.8M265.0 271.5h.8M250.7 289.0h.8M216.3 291.5h.8M268.7 300.6h.8M247.8 291.1h.8M265.1 291.7h.8M288.7 274.2h.8M252.9 304.5h.8M268.7 288.1h.8M264.3 288.7h.8M274.5 292.9h.8M266.8 275.9h.8M293.4 302.3h.8M280.4 271.1h.8M246.4 285.5h.8M306.3 300.8h.8M273.5 293.6h.8M281.1 297.4h.8M264.4 289.0h.8M310.7 308.8h.8M307.4 256.1h.8M254.4 272.3h.8M281.0 269.3h.8M258.0 270.4h.8M292.0 290.7h.8M286.8 284.2h.8M293.8 281.5h.8M281.3 278.3h.8M268.8 282.9h.8M281.8 295.4h.8M296.1 285.4h.8M264.8 262.0h.8M261.1 273.0h.8M207.9 274.2h.8M291.6 269.6h.8M300.3 301.2h.8M304.9 286.5h.8M304.2 249.4h.8M270.4 296.0h.8M290.9 299.1h.8M250.7 290.3h.8M313.4 318.4h.8M275.5 291.3h.8M296.9 290.2h.8M267.9 297.1h.8M256.6 299.8h.8M277.8 268.1h.8M268.7 313.5h.8M285.0 285.5h.8M273.1 305.3h.8M248.7 277.7h.8M246.2 271.8h.8M305.0 298.1h.8M268.6 301.3h.8M296.1 280.3h.8M258.3 276.7h.8M260.7 287.8h.8M269.7 283.2h.8M267.5 291.5h.8M266.7 280.1h.8M318.3 279.5h.8M280.2 268.5h.8M250.3 299.0h.8M281.7 276.4h.8M310.3 277.5h.8M269.8 303.5h.8M312.4 289.6h.8M283.5 282.1h.8M297.7 281.5h.8M261.8 275.8h.8M273.6 281.7h.8M302.2 281.9h.8M273.0 284.7h.8M245.4 279.2h.8M291.4 269.1h.8M222.7 267.8h.8M280.7 286.0h.8M268.1 287.5h.8M305.0 275.5h.8M269.4 297.2h.8M295.6 268.3h.8M271.2 301.4h.8M297.5 298.2h.8M282.7 281.0h.8M305.3 274.8h.8M261.9 283.0h.8M245.6 274.4h.8M258.6 255.2h.8M288.9 279.9h.8M275.1 277.6h.8M248.8 297.5h.8M267.4 293.7h.8M266.3 296.4h.8M249.0 311.6h.8M241.3 282.6h.8M261.7 295.6h.8M259.4 297.4h.8M292.7 286.8h.8M241.7 269.4h.8M288.5 292.1h.8M252.6 282.9h.8M246.3 299.6h.8M266.4 310.8h.8M259.2 303.8h.8M269.4 290.4h.8M283.5 302.1h.8M258.1 285.8h.8M258.3 280.0h.8M256.0 287.3h.8M253.9 282.5h.8M290.6 295.1h.8M289.7 269.8h.8M276.6 270.3h.8M283.9 297.2h.8M298.1 268.4h.8M288.7 286.5h.8M264.9 287.9h.8M280.7 266.1h.8M283.8 270.1h.8M271.2 295.8h.8M262.7 290.0h.8M288.3 281.9h.8M281.5 257.5h.8M268.7 295.7h.8M278.4 290.2h.8M267.1 292.2h.8M243.0 282.7h.8M282.5 307.9h.8M286.4 281.4h.8M273.3 257.8h.8M296.1 266.3h.8M282.0 285.6h.8M271.7 264.8h.8M226.3 269.6h.8M246.9 289.1h.8M277.6 267.7h.8M310.4 294.4h.8M253.8 293.1h.8M249.3 272.0h.8M277.1 296.9h.8M256.4 269.1h.8M261.6 291.0h.8M308.6 260.9h.8M230.2 262.1h.8M277.4 278.1h.8M254.3 283.7h.8M270.1 257.1h.8M265.9 284.7h.8M256.5 292.8h.8M262.6 284.1h.8M268.9 298.3h.8M292.8 276.6h.8M248.6 274.3h.8M240.5 277.0h.8M269.6 258.1h.8M294.0 298.7h.8M296.1 297.0h.8M231.5 287.2h.8M266.7 276.0h.8M278.3 287.0h.8M269.3 290.9h.8M251.4 284.2h.8M271.3 287.7h.8M275.1 284.2h.8M260.1 288.2h.8M275.5 273.3h.8M249.4 270.8h.8M265.9 287.9h.8M273.7 276.5h.8M283.0 288.2h.8M285.6 278.4h.8M256.2 263.8h.8M285.5 317.7h.8M279.4 263.5h.8M275.3 273.3h.8M266.4 286.1h.8M265.9 293.7h.8M292.4 289.1h.8M306.3 277.6h.8M246.1 278.7h.8M304.5 284.3h.8M249.7 281.3h.8M265.0 302.7h.8M257.6 284.5h.8M254.3 288.2h.8M276.0 284.5h.8M282.1 284.9h.8M264.5 291.8h.8M268.6 296.0h.8M294.2 260.6h.8M251.6 277.8h.8M296.5 273.3h.8M293.5 280.3h.8M278.7 293.0h.8M253.3 296.2h.8M288.4 270.5h.8M270.0 299.3h.8M274.8 302.1h.8M243.3 279.8h.8M248.7 285.7h.8M247.1 302.9h.8M261.5 302.6h.8M257.6 292.9h.8M249.9 293.8h.8M294.8 291.0h.8M236.6 294.1h.8M269.9 287.6h.8M244.6 279.9h.8M284.0 291.1h.8M268.1 289.3h.8M285.0 290.2h.8M301.1 269.1h.8M282.2 303.4h.8M311.5 298.4h.8M261.5 282.5h.8M275.8 286.1h.8M308.7 295.2h.8M277.9 279.4h.8M253.6 290.2h.8M276.4 270.1h.8M245.4 267.4h.8M292.3 289.4h.8M275.9 303.4h.8M274.4 265.8h.8M234.0 286.1h.8M276.3 286.9h.8M253.9 297.7h.8M277.7 267.4h.8M295.1 305.0h.8M234.6 299.5h.8M262.0 297.0h.8M289.9 306.7h.8M271.0 292.3h.8M264.1 292.4h.8M262.7 297.9h.8M270.9 273.1h.8M252.7 260.3h.8M281.9 290.6h.8M303.2 293.7h.8M269.1 286.9h.8M258.3 295.9h.8M311.1 280.0h.8M242.6 303.8h.8M229.5 316.6h.8M273.3 273.5h.8M295.5 293.8h.8M263.1 294.5h.8M259.4 276.8h.8M276.9 288.7h.8M285.4 300.3h.8M320.5 287.8h.8M255.4 281.0h.8M259.3 303.5h.8M272.8 283.6h.8M312.0 277.8h.8M238.5 275.3h.8M282.6 270.0h.8M300.5 301.1h.8M299.6 290.0h.8M261.3 269.1h.8M273.0 295.1h.8M281.4 278.3h.8M286.7 278.5h.8M284.5 274.5h.8M239.9 292.6h.8M249.5 304.4h.8M319.3 285.0h.8M270.5 277.9h.8M278.5 285.2h.8M264.4 281.7h.8M260.7 266.7h.8M297.9 285.7h.8M282.3 267.5h.8M254.0 275.2h.8M275.8 276.3h.8M302.9 275.9h.8M288.5 298.7h.8M296.7 291.8h.8M274.5 294.5h.8M270.8 285.8h.8M267.3 288.7h.8M243.8 281.4h.8M261.0 309.4h.8M266.1 297.9h.8M287.8 269.6h.8M285.1 278.1h.8M233.5 294.4h.8M286.6 268.0h.8M231.1 294.9h.8M266.9 270.9h.8M260.0 301.5h.8M266.6 277.4h.8M287.3 275.7h.8M244.4 290.6h.8M269.3 285.0h.8M293.4 265.3h.8M262.0 284.5h.8M300.9 287.1h.8M273.1 253.2h.8M255.1 272.9h.8M249.7 309.3h.8M277.8 279.4h.8M308.3 283.9h.8M288.5 295.1h.8M252.7 304.7h.8M286.3 294.3h.8M305.9 274.1h.8M262.1 273.2h.8M280.0 286.3h.8M270.9 289.6h.8M292.1 291.7h.8M234.2 265.4h.8M251.7 281.7h.8M255.7 289.1h.8M277.0 290.9h.8M292.4 276.9h.8M272.3 269.2h.8M292.0 294.7h.8M249.0 293.1h.8M266.8 306.4h.8M254.5 282.9h.8M262.7 295.0h.8M280.8 297.7h.8M278.0 268.9h.8M290.8 273.4h.8M262.9 288.7h.8M284.2 298.5h.8M233.2 289.3h.8M275.4 289.6h.8M296.5 303.9h.8M268.9 266.8h.8M260.5 274.4h.8M275.8 287.2h.8M314.6 286.4h.8M275.5 299.6h.8M301.6 298.8h.8M271.9 277.4h.8M253.9 277.9h.8M249.9 302.1h.8M289.8 269.2h.8M268.8 280.2h.8M278.8 291.2h.8M264.4 291.5h.8M240.9 287.5h.8M245.0 298.3h.8M262.7 292.4h.8M282.0 286.2h.8M283.8 285.5h.8M268.6 283.6h.8M246.8 295.9h.8M282.6 283.9h.8M276.7 295.4h.8M266.9 311.1h.8M258.2 287.0h.8M267.4 295.7h.8M274.8 274.6h.8M271.8 274.3h.8M271.1 249.6h.8M256.6 286.1h.8M279.4 310.5h.8M291.2 276.1h.8M275.3 309.5h.8M302.3 281.2h.8M278.8 284.2h.8M225.6 305.8h.8M264.3 304.0h.8M274.9 311.9h.8M292.8 274.4h.8M290.2 282.0h.8M269.9 287.3h.8M295.2 286.6h.8M268.0 266.5h.8M278.6 304.7h.8M270.7 284.7h.8M259.7 310.4h.8M282.7 272.5h.8M273.8 288.6h.8M264.5 300.1h.8M283.1 261.6h.8M248.1 268.1h.8M274.1 284.3h.8M285.6 285.3h.8M280.9 275.3h.8M272.2 300.0h.8M289.1 284.6h.8M246.8 276.4h.8M281.1 276.4h.8M275.6 288.2h.8M283.4 279.3h.8M261.3 293.8h.8M272.9 298.8h.8M259.5 297.4h.8M279.6 282.1h.8M266.8 280.4h.8M292.5 315.6h.8M276.2 297.9h.8M261.5 288.8h.8M267.4 273.7h.8M264.6 280.2h.8M283.0 282.4h.8M273.2 270.8h.8M277.4 298.8h.8M243.8 266.1h.8M266.2 286.1h.8M276.2 288.0h.8M285.8 268.9h.8M268.6 304.8h.8M298.1 281.1h.8M281.8 288.1h.8M278.6 286.6h.8M279.3 296.5h.8M238.9 293.7h.8M267.5 294.9h.8M272.8 269.8h.8M294.4 305.0h.8M295.2 292.2h.8M274.3 287.2h.8M244.0 280.2h.8M299.3 302.7h.8M269.8 282.3h.8M300.5 291.3h.8M270.6 289.7h.8M250.5 298.5h.8M223.3 259.8h.8M250.7 264.0h.8M305.8 277.0h.8M270.3 280.6h.8M241.2 274.9h.8M250.6 284.4h.8M256.6 267.9h.8M268.4 246.8h.8M287.7 248.4h.8M288.6 252.9h.8M301.5 259.4h.8M235.8 262.5h.8M254.2 263.6h.8M262.9 267.5h.8M245.1 264.1h.8M225.8 273.5h.8M287.1 236.7h.8M269.2 252.2h.8M262.1 284.4h.8M247.9 268.3h.8M280.0 248.9h.8M272.6 269.0h.8M241.7 266.3h.8M255.9 275.4h.8M274.9 255.9h.8M238.0 278.5h.8M251.1 259.0h.8M277.0 262.1h.8M241.7 268.0h.8M270.4 247.7h.8M248.5 277.3h.8M277.3 264.3h.8M245.8 278.3h.8M253.4 267.7h.8M262.4 269.0h.8M259.6 259.1h.8M266.2 263.2h.8M295.1 272.2h.8M257.6 265.0h.8M252.7 280.6h.8M236.8 267.4h.8M251.6 258.4h.8M238.0 265.0h.8M273.5 251.9h.8M290.0 250.9h.8M267.3 272.1h.8M250.4 272.3h.8M301.6 241.2h.8M254.7 261.3h.8M280.9 241.7h.8M280.5 236.4h.8M258.1 260.5h.8M259.1 246.0h.8M261.9 262.2h.8M275.9 257.2h.8M255.9 264.7h.8M274.2 269.5h.8M287.8 248.5h.8M263.7 281.5h.8M289.2 231.7h.8M254.0 280.5h.8M288.3 262.5h.8M260.2 260.6h.8M249.2 270.6h.8M301.4 247.3h.8M268.8 244.5h.8M249.9 238.4h.8M270.1 244.2h.8M269.4 280.7h.8M277.8 260.2h.8M261.2 276.9h.8M267.3 259.7h.8M236.4 263.9h.8M253.1 272.3h.8M241.9 274.4h.8M260.9 267.0h.8M246.2 276.7h.8M301.4 253.9h.8M281.5 245.8h.8M243.8 275.7h.8M245.4 262.1h.8M277.4 261.7h.8M247.5 260.5h.8M274.8 245.8h.8M271.3 266.3h.8M280.1 251.0h.8M268.4 256.2h.8M265.9 270.6h.8M253.7 250.8h.8M245.8 259.5h.8M239.1 271.9h.8M268.5 266.3h.8M265.4 276.4h.8M251.7 291.7h.8M254.5 265.0h.8M251.7 270.0h.8M258.8 260.2h.8M295.7 247.5h.8M268.1 273.6h.8M249.6 273.5h.8M261.4 249.2h.8M285.9 261.5h.8M248.6 258.1h.8M267.1 269.1h.8M263.4 260.1h.8M255.1 280.1h.8M293.5 256.6h.8M245.5 284.0h.8M243.5 275.6h.8M282.2 255.1h.8M240.1 282.9h.8M251.8 269.5h.8M240.7 275.3h.8M291.0 247.5h.8M256.3 264.2h.8M264.1 274.2h.8M263.2 267.5h.8M289.5 257.3h.8M277.7 252.7h.8M264.2 274.5h.8M266.6 270.9h.8M303.9 252.8h.8M310.2 250.4h.8M242.8 272.5h.8M245.5 260.5h.8M300.4 245.1h.8M254.8 261.8h.8M254.5 246.2h.8M261.8 278.8h.8M255.7 269.7h.8M268.5 247.4h.8M266.4 256.8h.8M250.4 268.7h.8M269.0 267.3h.8M246.0 272.3h.8M234.9 289.3h.8M242.3 274.7h.8M288.8 248.6h.8M254.1 266.0h.8M299.4 236.5h.8M253.8 260.9h.8M289.1 236.2h.8M259.2 255.5h.8M285.2 253.7h.8M265.3 274.0h.8M282.9 241.4h.8M263.0 297.9h.8M259.8 249.4h.8M267.5 270.5h.8M266.8 274.0h.8M251.6 265.0h.8M265.9 260.1h.8M266.5 257.1h.8M297.1 275.2h.8M267.3 258.5h.8M282.9 264.1h.8M276.3 246.3h.8M279.8 259.6h.8M248.6 284.8h.8M255.1 285.2h.8M295.4 241.9h.8M244.8 280.9h.8M254.9 254.4h.8M257.3 252.3h.8M276.8 252.1h.8M247.7 272.3h.8M286.0 251.8h.8M271.7 236.2h.8M265.7 243.8h.8M273.4 262.4h.8M275.2 264.5h.8M244.2 267.4h.8M236.9 285.8h.8M246.1 259.3h.8M260.0 263.8h.8M274.7 263.1h.8M258.1 271.0h.8M275.5 247.5h.8M293.8 254.9h.8M272.2 256.8h.8M266.6 254.7h.8M254.2 263.4h.8M252.9 271.2h.8M234.1 255.4h.8M271.7 262.7h.8M282.4 255.3h.8M277.6 250.2h.8M249.5 250.8h.8M281.2 245.4h.8M267.6 236.0h.8M263.2 262.4h.8M264.9 266.0h.8M264.7 279.2h.8M277.9 244.2h.8M287.4 241.3h.8M267.0 292.5h.8M259.6 258.6h.8M280.0 266.3h.8M289.8 261.5h.8M256.5 248.4h.8M290.1 248.9h.8M282.7 250.3h.8M261.5 256.0h.8M274.1 251.6h.8M239.2 280.4h.8M262.9 275.1h.8M270.3 270.3h.8M290.9 230.8h.8M278.6 258.4h.8M263.3 268.2h.8M260.4 267.6h.8M267.9 267.1h.8M247.9 274.3h.8M269.6 267.5h.8M257.1 261.8h.8M236.8 273.2h.8M288.8 231.6h.8M270.8 255.1h.8M236.1 266.0h.8M251.3 271.0h.8M283.9 245.0h.8M239.9 276.7h.8M255.5 260.3h.8M271.0 272.5h.8M273.7 266.4h.8M280.3 239.9h.8M246.5 272.0h.8M295.2 244.8h.8M279.6 271.5h.8M288.5 260.0h.8M270.8 256.8h.8M290.0 259.0h.8M284.5 247.6h.8M247.3 274.1h.8M242.7 276.4h.8M273.9 253.2h.8M269.8 266.2h.8M261.0 263.2h.8M281.2 245.6h.8M281.4 251.2h.8M231.7 287.5h.8M262.7 273.8h.8M294.7 232.2h.8M250.0 269.2h.8M270.1 262.5h.8M261.6 280.2h.8M262.8 255.0h.8M272.9 244.2h.8M274.3 253.3h.8M240.7 261.3h.8M250.2 256.8h.8M276.9 251.7h.8M272.1 266.9h.8M284.2 244.0h.8M284.8 262.8h.8M246.1 291.0h.8M279.6 245.3h.8M256.8 268.5h.8M268.1 236.3h.8M275.4 271.2h.8M264.9 258.1h.8M261.6 264.5h.8M261.8 273.1h.8M258.6 281.4h.8M261.7 278.7h.8M252.6 278.2h.8M292.2 252.7h.8M245.1 246.2h.8M247.1 290.6h.8M290.1 243.7h.8M271.3 255.2h.8M274.9 237.6h.8M277.9 273.8h.8M264.6 248.7h.8M259.5 240.5h.8M258.2 282.0h.8M284.4 249.4h.8M249.4 275.1h.8M286.7 226.1h.8M277.6 253.4h.8M220.7 235.0h.8M308.8 280.1h.8M248.8 235.4h.8M288.9 274.5h.8M205.5 291.6h.8M290.8 262.1h.8M256.0 275.9h.8M227.4 284.7h.8M220.7 251.4h.8M210.4 265.7h.8M281.5 262.3h.8M260.2 278.5h.8M291.6 269.5h.8M236.3 249.3h.8M299.8 280.7h.8M229.8 240.5h.8M219.7 303.0h.8M266.9 244.6h.8M251.2 279.8h.8M227.0 237.4h.8M307.1 250.8h.8M205.0 257.2h.8M217.4 266.5h.8M208.5 230.3h.8M264.4 254.8h.8M214.3 251.9h.8M203.9 319.2h.8M295.8 311.1h.8M227.0 285.5h.8M272.5 229.8h.8M213.1 241.6h.8M234.8 312.2h.8M228.7 318.9h.8M270.9 292.8h.8M224.4 247.2h.8M238.5 265.6h.8M229.2 277.8h.8M289.7 226.0h.8M254.4 257.6h.8M223.8 252.8h.8M232.0 314.3h.8M267.8 244.6h.8M220.1 259.4h.8M280.0 259.7h.8M299.8 296.9h.8M250.7 256.7h.8M275.6 249.7h.8M310.8 254.6h.8" stroke="#000" stroke-width="0.8" opacity="0.85" fill="none"/>
<rect x="203.00" y="224.60" width="118.20" height="95.20" fill="none" stroke="#444" stroke-width="1"/>
<line x1="255.20" y1="224.60" x2="255.20" y2="319.80" stroke="#222" stroke-width="1"/>
<line x1="203.00" y1="274.00" x2="321.20" y2="274.00" stroke="#222" stroke-width="1"/>
<text transform="translate(206.00,219.70) scale(0.994,1)" font-size="7.26" font-weight="bold" fill="#000" stroke="#000" stroke-width="0.12">MLLAF4-transduced CD34+ cells</text>
<text transform="translate(188.50,232.20) scale(0.817,1)" font-size="6.93" fill="#000" stroke="#000" stroke-width="0.12">10<tspan dy="-2.63" font-size="4.30">5</tspan></text>
<text transform="translate(187.00,311.20) scale(0.817,1)" font-size="6.93" fill="#000" stroke="#000" stroke-width="0.12">10<tspan dy="-2.63" font-size="4.30">2</tspan></text>
<text transform="translate(213.50,333.20) scale(0.817,1)" font-size="6.93" fill="#000" stroke="#000" stroke-width="0.12">10<tspan dy="-2.63" font-size="4.30">2</tspan></text>
<text transform="translate(314.50,333.20) scale(0.817,1)" font-size="6.93" fill="#000" stroke="#000" stroke-width="0.12">10<tspan dy="-2.63" font-size="4.30">5</tspan></text>
<text transform="translate(206.50,234.80) scale(0.939,1)" font-size="9.02" font-weight="bold" fill="#000" stroke="#000" stroke-width="0.12">0.3%</text>
<text transform="translate(321.00,234.80) scale(0.949,1)" font-size="9.02" text-anchor="end" font-weight="bold" fill="#000" stroke="#000" stroke-width="0.12">6.7%</text>
<text transform="translate(205.40,317.00) scale(0.875,1)" font-size="9.02" font-weight="bold" fill="#000" stroke="#000" stroke-width="0.12">85%</text>
<text transform="translate(321.50,316.60) scale(0.974,1)" font-size="9.02" text-anchor="end" font-weight="bold" fill="#000" stroke="#000" stroke-width="0.12">8%</text>
<line x1="204.74" y1="319.80" x2="204.74" y2="321.60" stroke="#333" stroke-width="0.6"/>
<line x1="206.42" y1="319.80" x2="206.42" y2="321.60" stroke="#333" stroke-width="0.6"/>
<line x1="207.93" y1="319.80" x2="207.93" y2="322.80" stroke="#333" stroke-width="0.6"/>
<line x1="217.81" y1="319.80" x2="217.81" y2="321.60" stroke="#333" stroke-width="0.6"/>
<line x1="223.59" y1="319.80" x2="223.59" y2="321.60" stroke="#333" stroke-width="0.6"/>
<line x1="227.69" y1="319.80" x2="227.69" y2="321.60" stroke="#333" stroke-width="0.6"/>
<line x1="230.87" y1="319.80" x2="230.87" y2="321.60" stroke="#333" stroke-width="0.6"/>
<line x1="233.47" y1="319.80" x2="233.47" y2="321.60" stroke="#333" stroke-width="0.6"/>
<line x1="235.67" y1="319.80" x2="235.67" y2="321.60" stroke="#333" stroke-width="0.6"/>
<line x1="237.58" y1="319.80" x2="237.58" y2="321.60" stroke="#333" stroke-width="0.6"/>
<line x1="239.26" y1="319.80" x2="239.26" y2="321.60" stroke="#333" stroke-width="0.6"/>
<line x1="240.76" y1="319.80" x2="240.76" y2="322.80" stroke="#333" stroke-width="0.6"/>
<line x1="250.64" y1="319.80" x2="250.64" y2="321.60" stroke="#333" stroke-width="0.6"/>
<line x1="256.42" y1="319.80" x2="256.42" y2="321.60" stroke="#333" stroke-width="0.6"/>
<line x1="260.53" y1="319.80" x2="260.53" y2="321.60" stroke="#333" stroke-width="0.6"/>
<line x1="263.71" y1="319.80" x2="263.71" y2="321.60" stroke="#333" stroke-width="0.6"/>
<line x1="266.31" y1="319.80" x2="266.31" y2="321.60" stroke="#333" stroke-width="0.6"/>
<line x1="268.51" y1="319.80" x2="268.51" y2="321.60" stroke="#333" stroke-width="0.6"/>
<line x1="270.41" y1="319.80" x2="270.41" y2="321.60" stroke="#333" stroke-width="0.6"/>
<line x1="272.09" y1="319.80" x2="272.09" y2="321.60" stroke="#333" stroke-width="0.6"/>
<line x1="273.59" y1="319.80" x2="273.59" y2="322.80" stroke="#333" stroke-width="0.6"/>
<line x1="283.48" y1="319.80" x2="283.48" y2="321.60" stroke="#333" stroke-width="0.6"/>
<line x1="289.26" y1="319.80" x2="289.26" y2="321.60" stroke="#333" stroke-width="0.6"/>
<line x1="293.36" y1="319.80" x2="293.36" y2="321.60" stroke="#333" stroke-width="0.6"/>
<line x1="296.54" y1="319.80" x2="296.54" y2="321.60" stroke="#333" stroke-width="0.6"/>
<line x1="299.14" y1="319.80" x2="299.14" y2="321.60" stroke="#333" stroke-width="0.6"/>
<line x1="301.34" y1="319.80" x2="301.34" y2="321.60" stroke="#333" stroke-width="0.6"/>
<line x1="303.24" y1="319.80" x2="303.24" y2="321.60" stroke="#333" stroke-width="0.6"/>
<line x1="304.92" y1="319.80" x2="304.92" y2="321.60" stroke="#333" stroke-width="0.6"/>
<line x1="306.43" y1="319.80" x2="306.43" y2="322.80" stroke="#333" stroke-width="0.6"/>
<line x1="316.31" y1="319.80" x2="316.31" y2="321.60" stroke="#333" stroke-width="0.6"/>
<line x1="203.00" y1="318.40" x2="201.20" y2="318.40" stroke="#333" stroke-width="0.6"/>
<line x1="203.00" y1="317.04" x2="201.20" y2="317.04" stroke="#333" stroke-width="0.6"/>
<line x1="203.00" y1="315.83" x2="200.00" y2="315.83" stroke="#333" stroke-width="0.6"/>
<line x1="203.00" y1="307.87" x2="201.20" y2="307.87" stroke="#333" stroke-width="0.6"/>
<line x1="203.00" y1="303.22" x2="201.20" y2="303.22" stroke="#333" stroke-width="0.6"/>
<line x1="203.00" y1="299.91" x2="201.20" y2="299.91" stroke="#333" stroke-width="0.6"/>
<line x1="203.00" y1="297.35" x2="201.20" y2="297.35" stroke="#333" stroke-width="0.6"/>
<line x1="203.00" y1="295.26" x2="201.20" y2="295.26" stroke="#333" stroke-width="0.6"/>
<line x1="203.00" y1="293.49" x2="201.20" y2="293.49" stroke="#333" stroke-width="0.6"/>
<line x1="203.00" y1="291.95" x2="201.20" y2="291.95" stroke="#333" stroke-width="0.6"/>
<line x1="203.00" y1="290.60" x2="201.20" y2="290.60" stroke="#333" stroke-width="0.6"/>
<line x1="203.00" y1="289.39" x2="200.00" y2="289.39" stroke="#333" stroke-width="0.6"/>
<line x1="203.00" y1="281.43" x2="201.20" y2="281.43" stroke="#333" stroke-width="0.6"/>
<line x1="203.00" y1="276.77" x2="201.20" y2="276.77" stroke="#333" stroke-width="0.6"/>
<line x1="203.00" y1="273.47" x2="201.20" y2="273.47" stroke="#333" stroke-width="0.6"/>
<line x1="203.00" y1="270.91" x2="201.20" y2="270.91" stroke="#333" stroke-width="0.6"/>
<line x1="203.00" y1="268.81" x2="201.20" y2="268.81" stroke="#333" stroke-width="0.6"/>
<line x1="203.00" y1="267.04" x2="201.20" y2="267.04" stroke="#333" stroke-width="0.6"/>
<line x1="203.00" y1="265.51" x2="201.20" y2="265.51" stroke="#333" stroke-width="0.6"/>
<line x1="203.00" y1="264.15" x2="201.20" y2="264.15" stroke="#333" stroke-width="0.6"/>
<line x1="203.00" y1="262.94" x2="200.00" y2="262.94" stroke="#333" stroke-width="0.6"/>
<line x1="203.00" y1="254.98" x2="201.20" y2="254.98" stroke="#333" stroke-width="0.6"/>
<line x1="203.00" y1="250.33" x2="201.20" y2="250.33" stroke="#333" stroke-width="0.6"/>
<line x1="203.00" y1="247.02" x2="201.20" y2="247.02" stroke="#333" stroke-width="0.6"/>
<line x1="203.00" y1="244.46" x2="201.20" y2="244.46" stroke="#333" stroke-width="0.6"/>
<line x1="203.00" y1="242.37" x2="201.20" y2="242.37" stroke="#333" stroke-width="0.6"/>
<line x1="203.00" y1="240.60" x2="201.20" y2="240.60" stroke="#333" stroke-width="0.6"/>
<line x1="203.00" y1="239.06" x2="201.20" y2="239.06" stroke="#333" stroke-width="0.6"/>
<line x1="203.00" y1="237.71" x2="201.20" y2="237.71" stroke="#333" stroke-width="0.6"/>
<line x1="203.00" y1="236.50" x2="200.00" y2="236.50" stroke="#333" stroke-width="0.6"/>
<line x1="203.00" y1="228.54" x2="201.20" y2="228.54" stroke="#333" stroke-width="0.6"/>
<line x1="63.20" y1="337.50" x2="317.20" y2="337.50" stroke="#000" stroke-width="1"/>
<polygon points="322.50,337.50 316.20,334.70 316.20,340.30" fill="#000"/>
<text transform="translate(189.80,346.70) scale(0.911,1)" font-size="9.46" text-anchor="middle" font-weight="bold" fill="#000" stroke="#000" stroke-width="0.12">Annexin-V PE</text>
<text transform="translate(8.40,381.20) scale(0.962,1)" font-size="11.22" font-weight="bold" fill="#000" stroke="#000" stroke-width="0.12">E</text>
<line x1="27.80" y1="434.60" x2="27.80" y2="393.70" stroke="#222" stroke-width="1"/>
<polygon points="27.80,388.90 24.90,394.70 30.70,394.70" fill="#222"/>
<text transform="translate(23.90,411.30) rotate(-90) scale(0.798,1)" font-size="7.92" text-anchor="middle" fill="#111" stroke="#111" stroke-width="0.12">SSC</text>
<path d="M64.6 427.8h.8M63.0 428.3h.8M65.8 427.3h.8M63.9 428.1h.8M68.5 419.1h.8M66.4 423.2h.8M70.5 421.4h.8M65.7 431.3h.8M67.0 426.2h.8M66.4 425.1h.8M64.3 428.4h.8M67.4 425.5h.8M65.6 422.3h.8M64.5 426.9h.8M64.5 429.7h.8M64.4 429.5h.8M64.1 427.0h.8M67.0 424.2h.8M64.3 426.2h.8M66.7 425.0h.8M70.3 417.0h.8M72.1 417.4h.8M67.7 427.7h.8M63.8 428.3h.8M63.9 426.3h.8M67.0 422.1h.8M62.8 428.5h.8M65.0 427.0h.8M65.2 426.9h.8M63.3 428.8h.8M67.4 425.1h.8M68.2 421.6h.8M69.8 417.0h.8M66.4 426.2h.8M69.3 427.0h.8M65.4 428.3h.8M68.0 424.1h.8M68.9 419.7h.8M62.9 423.7h.8M67.5 425.2h.8M64.0 428.5h.8M64.4 426.7h.8M63.6 428.9h.8M64.1 427.1h.8M63.6 429.7h.8M66.6 430.7h.8M66.6 425.5h.8M65.2 424.9h.8M67.0 426.3h.8M68.4 420.7h.8M64.7 427.9h.8M65.3 429.9h.8M65.4 430.7h.8M66.4 429.5h.8M69.9 422.7h.8M67.9 426.9h.8M67.9 427.5h.8M65.0 427.4h.8M65.2 426.6h.8M69.1 419.2h.8M71.0 420.1h.8M65.3 427.3h.8M67.5 424.2h.8M68.9 422.0h.8M63.5 428.0h.8M69.0 421.4h.8M65.5 430.8h.8M68.2 420.9h.8M67.3 422.6h.8M67.8 423.4h.8M67.5 424.3h.8M70.3 418.2h.8M67.7 427.6h.8M64.4 427.6h.8M67.0 429.9h.8M65.0 427.6h.8M65.2 423.0h.8M64.5 426.5h.8M65.3 427.1h.8M64.1 429.1h.8M69.1 418.4h.8M64.8 428.3h.8M64.3 428.8h.8M66.3 426.8h.8M65.9 428.7h.8M64.9 426.8h.8M64.7 430.0h.8M65.5 425.5h.8M69.7 421.2h.8M64.2 428.5h.8M63.2 427.8h.8M67.5 424.3h.8M68.8 426.5h.8M66.2 421.8h.8M63.0 428.3h.8M70.0 417.7h.8M70.7 422.6h.8M62.5 428.6h.8M66.7 423.8h.8M63.7 430.6h.8M64.2 424.8h.8M64.6 426.5h.8M67.5 429.9h.8M67.7 427.0h.8M69.5 419.8h.8M66.2 423.7h.8M69.4 420.6h.8M65.8 426.0h.8M66.2 428.0h.8M69.3 423.2h.8M65.7 430.2h.8M64.3 429.6h.8M65.6 428.3h.8M66.0 427.5h.8M65.2 429.1h.8M66.8 428.7h.8M62.4 430.9h.8M67.8 422.8h.8M64.1 425.6h.8M70.9 416.9h.8M66.7 425.1h.8M68.8 423.1h.8M64.0 429.2h.8M68.1 421.0h.8M64.7 429.5h.8M66.9 427.3h.8M66.0 426.0h.8M66.0 430.7h.8M67.8 423.4h.8M66.4 427.7h.8M63.7 426.0h.8M66.6 426.2h.8M66.9 426.1h.8M66.1 427.0h.8M63.5 428.6h.8M67.3 420.6h.8M67.3 424.6h.8M68.3 421.5h.8M64.3 427.6h.8M64.6 427.4h.8M69.1 422.6h.8M64.2 427.3h.8M67.5 423.9h.8M66.7 422.8h.8M70.2 421.7h.8M65.7 427.7h.8M64.4 431.9h.8M68.0 422.3h.8M67.0 424.6h.8M64.4 430.5h.8M65.0 427.4h.8M66.4 427.8h.8M66.6 423.6h.8M64.2 425.9h.8M66.1 425.6h.8M65.1 429.5h.8M67.9 421.3h.8M65.4 424.1h.8M69.3 423.0h.8M68.4 426.7h.8M64.1 429.7h.8M65.4 426.3h.8M67.9 422.4h.8M65.4 427.4h.8M67.9 420.8h.8M67.4 423.9h.8M65.6 427.0h.8M61.7 431.1h.8M66.0 422.5h.8M65.2 426.9h.8M68.8 423.5h.8M65.2 425.8h.8M67.4 422.4h.8M66.1 429.2h.8M68.2 425.6h.8M71.3 416.1h.8M63.4 427.4h.8M66.5 424.0h.8M64.2 430.0h.8M68.0 420.8h.8M66.2 429.2h.8M65.4 424.5h.8M68.0 426.4h.8M62.4 429.2h.8M68.2 419.4h.8M64.1 425.6h.8M68.7 419.2h.8M65.4 428.4h.8M67.8 422.6h.8M65.3 426.1h.8M65.5 428.9h.8M66.4 426.1h.8M66.4 427.3h.8M69.3 421.5h.8M62.9 429.6h.8M63.5 429.3h.8M66.2 428.9h.8M65.8 429.3h.8M68.9 423.8h.8M64.2 430.7h.8M69.1 422.7h.8M63.8 426.6h.8M65.8 427.2h.8M64.0 430.2h.8M65.3 424.1h.8M65.4 427.6h.8M68.2 421.5h.8M67.5 423.0h.8M66.8 427.1h.8M64.7 428.2h.8M67.2 425.6h.8M66.3 427.5h.8M64.9 427.0h.8M61.7 429.8h.8M65.7 424.1h.8M64.9 426.1h.8M65.0 430.9h.8M64.6 426.6h.8M66.8 428.6h.8M63.0 427.5h.8M65.1 427.6h.8M65.9 426.9h.8M66.7 424.1h.8M68.2 421.3h.8M69.0 420.6h.8M65.1 429.9h.8M67.8 423.4h.8M64.1 425.1h.8M64.9 428.6h.8M66.8 425.7h.8M67.0 421.8h.8M70.5 419.4h.8M65.9 429.3h.8M64.7 426.0h.8M66.6 423.3h.8M67.7 423.4h.8M67.7 423.5h.8M64.3 426.1h.8M67.1 422.4h.8M64.5 428.5h.8M66.7 423.8h.8M67.4 424.7h.8M66.3 424.9h.8M64.0 426.1h.8M65.0 428.9h.8M69.7 422.5h.8M68.2 420.2h.8M70.0 417.1h.8M67.5 423.1h.8M69.9 418.6h.8M64.1 427.6h.8M62.7 429.0h.8M65.5 427.0h.8M66.1 428.1h.8M68.6 422.4h.8M68.3 422.6h.8M66.7 424.7h.8M63.9 427.9h.8M63.9 427.6h.8M68.6 422.2h.8M64.7 427.8h.8M66.4 428.1h.8M64.2 430.0h.8M65.6 422.2h.8M70.0 418.9h.8M65.7 428.2h.8M64.6 426.1h.8M68.4 423.2h.8M66.4 423.2h.8M67.3 423.9h.8M68.9 420.6h.8M66.5 426.6h.8M66.4 425.5h.8M65.0 427.1h.8M65.2 431.2h.8M68.2 423.0h.8M67.2 422.8h.8M64.2 429.1h.8M65.9 426.0h.8M68.9 418.7h.8M71.6 417.5h.8M64.7 429.3h.8M68.6 422.2h.8M68.3 423.5h.8M65.9 426.6h.8M64.3 426.0h.8M64.4 427.6h.8M69.4 419.0h.8M66.3 426.9h.8M68.1 421.4h.8M67.7 423.0h.8M66.1 428.4h.8M69.8 421.1h.8M66.0 426.0h.8M67.7 423.7h.8M64.9 430.5h.8M66.8 422.5h.8M65.0 427.5h.8M63.0 429.3h.8M64.5 429.5h.8M67.7 424.3h.8M66.4 424.1h.8M66.7 423.3h.8M65.7 429.5h.8M68.0 422.5h.8M64.4 426.5h.8M66.6 423.8h.8M70.4 419.3h.8M68.0 426.9h.8M67.7 423.7h.8M64.7 426.2h.8M69.9 418.9h.8M65.8 422.7h.8M69.3 421.3h.8M68.7 422.3h.8M65.1 422.8h.8M65.8 424.6h.8M66.9 425.1h.8M65.2 426.6h.8M67.2 424.8h.8M66.0 430.6h.8M68.3 422.2h.8M66.9 431.2h.8M66.8 427.8h.8M65.6 429.9h.8M66.4 426.2h.8M65.9 429.0h.8M62.7 429.5h.8M67.7 421.9h.8M65.3 426.0h.8M70.2 421.1h.8M64.7 424.8h.8M63.6 431.0h.8M64.1 426.3h.8M64.3 431.6h.8M62.8 428.9h.8M70.5 417.6h.8M67.9 421.7h.8M68.0 422.8h.8M70.3 417.3h.8M66.5 427.5h.8M68.6 424.3h.8M68.5 422.1h.8M65.9 425.1h.8M64.0 432.5h.8M67.6 424.0h.8M64.9 425.7h.8M64.0 426.2h.8M65.2 425.1h.8M69.9 418.0h.8M68.5 421.0h.8M68.1 426.7h.8M65.4 429.0h.8M67.0 422.9h.8M65.7 425.1h.8M68.4 422.4h.8M68.6 420.4h.8M66.8 424.4h.8M64.3 428.0h.8M66.6 425.9h.8M63.4 428.1h.8M67.6 422.8h.8M64.6 428.7h.8M65.9 426.5h.8M68.6 419.3h.8M65.8 426.8h.8M64.9 426.6h.8M66.9 423.8h.8M69.2 420.3h.8M67.0 427.0h.8M65.0 425.3h.8M64.2 429.1h.8M65.7 426.8h.8M65.9 425.1h.8M69.0 419.1h.8M64.9 429.0h.8M65.6 424.0h.8M69.7 418.5h.8M66.6 424.8h.8M66.8 424.9h.8M70.5 419.2h.8M66.5 427.8h.8M63.7 430.8h.8M67.3 427.9h.8M64.9 427.4h.8M66.8 426.8h.8M69.4 418.9h.8M67.3 420.6h.8M69.5 417.0h.8M66.1 425.4h.8M63.6 428.2h.8M66.3 427.2h.8M66.7 425.1h.8M64.4 429.0h.8M63.7 429.0h.8M65.6 429.0h.8M67.8 423.8h.8M68.3 423.3h.8M66.3 425.3h.8M67.0 426.9h.8M66.8 425.0h.8M68.1 420.4h.8M65.8 430.0h.8M70.3 420.8h.8M67.5 425.0h.8M67.3 423.8h.8M68.1 427.0h.8M63.3 430.9h.8M66.0 428.2h.8M70.1 422.4h.8M68.3 425.8h.8M66.4 425.7h.8M70.1 420.1h.8M65.8 421.3h.8M68.4 421.2h.8M69.3 421.2h.8M66.8 424.3h.8M66.9 425.3h.8M64.5 425.6h.8M68.8 425.3h.8M64.8 429.8h.8M71.0 417.4h.8M65.2 427.6h.8M70.1 419.3h.8M67.2 423.9h.8M63.2 430.4h.8M68.1 422.7h.8M65.7 427.4h.8M66.1 425.5h.8M61.7 428.6h.8M65.1 424.4h.8M65.9 426.4h.8M65.1 426.4h.8M63.3 425.1h.8M70.1 420.1h.8M72.9 417.9h.8M65.9 427.7h.8M63.3 432.1h.8M66.6 428.6h.8M70.9 420.2h.8M63.9 428.2h.8M64.7 427.4h.8M66.5 424.3h.8M67.6 427.3h.8M65.8 424.5h.8M67.3 424.5h.8M67.0 424.5h.8M67.3 423.2h.8M68.0 421.9h.8M68.6 419.2h.8M64.8 428.2h.8M69.2 420.6h.8M62.9 427.3h.8M65.9 424.6h.8M69.6 418.8h.8M64.0 423.7h.8M64.8 428.8h.8M66.0 425.6h.8M64.5 426.6h.8M65.7 424.4h.8M65.1 428.5h.8M66.7 425.7h.8M69.0 420.9h.8M62.9 426.6h.8M66.1 425.0h.8M66.5 427.3h.8M64.7 427.4h.8M65.4 428.8h.8M68.6 423.5h.8M65.4 425.9h.8M65.3 425.5h.8M67.4 425.7h.8M69.0 423.7h.8M65.7 423.3h.8M70.5 421.9h.8M62.9 429.9h.8M65.9 424.1h.8M65.3 426.1h.8M66.3 423.9h.8M66.7 423.8h.8M70.5 418.6h.8M67.0 424.7h.8M66.1 426.4h.8M64.0 426.3h.8M65.4 429.5h.8M66.7 428.5h.8M65.2 425.2h.8M67.4 426.0h.8M62.2 432.0h.8M66.4 424.0h.8M65.1 428.2h.8M64.2 426.5h.8M63.9 429.1h.8M65.4 430.0h.8M64.7 432.4h.8M71.4 424.8h.8M69.0 424.3h.8M64.2 431.1h.8M67.2 423.8h.8M64.2 425.7h.8M64.8 430.2h.8M67.2 429.0h.8M67.4 422.1h.8M64.7 426.8h.8M66.2 423.5h.8M69.7 420.8h.8M70.0 417.9h.8M63.7 427.0h.8M64.7 427.7h.8M69.1 419.6h.8M68.0 419.0h.8M64.7 427.5h.8M68.3 426.3h.8M62.9 428.1h.8M64.6 427.5h.8M70.1 419.9h.8M67.6 424.5h.8M67.2 424.5h.8M66.7 423.9h.8M70.3 419.0h.8M67.2 422.6h.8M64.9 424.9h.8M65.5 428.7h.8M67.5 420.6h.8M65.0 428.7h.8M65.3 428.6h.8M64.8 429.6h.8M68.7 422.0h.8M69.4 418.3h.8M63.3 428.4h.8M65.0 428.4h.8M67.0 426.8h.8M64.6 426.4h.8M64.1 427.9h.8M66.6 424.9h.8M67.3 424.2h.8M61.1 429.0h.8M67.4 420.3h.8M69.1 421.0h.8M69.5 417.8h.8M65.2 429.0h.8M65.2 431.0h.8M63.4 429.9h.8M62.3 427.8h.8M66.1 424.3h.8M68.0 425.1h.8M64.7 429.1h.8M65.2 429.5h.8M67.3 424.6h.8M65.4 429.0h.8M66.0 426.1h.8M67.9 420.9h.8M67.0 425.8h.8M67.8 422.8h.8M66.1 424.7h.8M66.4 422.5h.8M64.1 428.1h.8M69.7 415.7h.8M64.3 429.5h.8M64.2 431.5h.8M64.4 425.4h.8M68.8 418.9h.8M65.0 427.8h.8M66.3 422.2h.8M70.0 417.8h.8M67.3 425.2h.8M66.2 423.1h.8M64.6 427.4h.8M69.0 422.3h.8M69.6 418.8h.8M66.7 428.1h.8M66.1 427.3h.8M64.9 425.5h.8M67.8 424.0h.8M65.7 426.2h.8M61.9 428.5h.8M65.5 431.5h.8M66.8 426.8h.8M66.7 424.4h.8M66.5 424.4h.8M67.0 425.2h.8M66.1 426.5h.8M66.1 425.8h.8M63.7 428.1h.8M67.2 425.7h.8M66.9 424.1h.8M69.6 422.5h.8M62.6 428.6h.8M67.5 422.0h.8M68.3 423.5h.8M66.4 422.9h.8M65.6 427.0h.8M62.8 430.5h.8M68.5 419.5h.8M65.5 426.9h.8M64.4 426.6h.8M64.8 430.1h.8M65.7 425.4h.8M64.7 428.3h.8M66.6 428.2h.8M66.5 428.3h.8M71.3 419.6h.8M67.6 427.5h.8M65.8 428.6h.8M65.5 428.0h.8M66.8 426.9h.8M63.8 424.7h.8M66.2 423.8h.8M67.8 428.4h.8M65.0 427.5h.8M66.2 417.8h.8M65.8 424.3h.8M66.8 426.2h.8M69.4 420.3h.8M65.1 428.5h.8M66.6 428.1h.8M66.5 426.9h.8M67.2 421.8h.8M63.7 431.0h.8M65.3 429.2h.8" stroke="#000" stroke-width="0.8" opacity="0.9" fill="none"/>
<path d="M71.6 416.7h.6M68.1 425.3h.6M69.0 420.3h.6M69.9 426.4h.6M64.7 404.2h.6M58.9 412.3h.6M69.2 423.5h.6M67.5 418.4h.6M68.8 422.5h.6M64.6 425.8h.6M70.0 417.3h.6M69.2 419.0h.6M68.2 418.4h.6M69.1 423.7h.6M70.0 411.5h.6M63.4 427.2h.6M71.6 428.3h.6M69.6 425.4h.6M64.1 428.8h.6M62.5 402.1h.6M64.5 423.6h.6M70.3 418.2h.6M62.6 402.8h.6M64.4 419.8h.6M70.4 419.8h.6M65.2 431.0h.6M63.8 416.0h.6M64.3 409.0h.6M63.4 418.8h.6M61.0 423.2h.6M63.5 422.0h.6M67.4 403.6h.6M76.2 419.2h.6M72.9 415.8h.6M68.8 419.4h.6M70.9 428.9h.6M64.5 426.6h.6M69.7 426.1h.6M72.7 421.2h.6M73.3 420.1h.6M67.0 419.5h.6M69.1 422.0h.6M73.4 423.9h.6M70.5 408.2h.6M68.0 406.1h.6M69.5 422.1h.6M73.1 417.4h.6" stroke="#000" stroke-width="0.6" opacity="0.4" fill="none"/>
<path d="M88.6 429.4h.6M83.4 431.9h.6M80.5 432.6h.6M94.9 421.2h.6M94.3 428.8h.6M86.6 428.4h.6M95.0 430.0h.6M81.3 425.1h.6M79.7 427.4h.6M79.9 429.1h.6M86.6 431.2h.6M89.1 424.1h.6M94.0 427.2h.6M94.7 427.5h.6M91.4 426.7h.6M84.1 428.1h.6M91.6 430.9h.6M90.1 432.8h.6M81.0 430.5h.6M79.5 429.5h.6M86.7 422.5h.6M92.3 432.6h.6M92.6 428.4h.6M82.4 429.9h.6M84.8 426.3h.6" stroke="#000" stroke-width="0.6" opacity="0.3" fill="none"/>
<rect x="44.00" y="390.60" width="52.20" height="44.40" fill="none" stroke="#777" stroke-width="0.9"/>
<rect x="59.00" y="407.30" width="16.80" height="24.70" fill="none" stroke="#666" stroke-width="0.8"/>
<text transform="translate(70.60,387.10) scale(0.800,1)" font-size="7.59" text-anchor="middle" font-weight="bold" fill="#000" stroke="#000" stroke-width="0.12">GFP-</text>
<text transform="translate(42.80,394.80) scale(0.713,1)" font-size="5.72" text-anchor="end" fill="#222" stroke="#222" stroke-width="0.12">250</text>
<text transform="translate(42.80,427.80) scale(0.755,1)" font-size="5.72" text-anchor="end" fill="#222" stroke="#222" stroke-width="0.12">50</text>
<text transform="translate(52.00,441.80) scale(0.817,1)" font-size="5.72" fill="#222" stroke="#222" stroke-width="0.12">10<tspan dy="-2.17" font-size="3.55">1</tspan></text>
<text transform="translate(92.20,441.80) scale(0.817,1)" font-size="5.72" fill="#222" stroke="#222" stroke-width="0.12">10<tspan dy="-2.17" font-size="3.55">4</tspan></text>
<line x1="46.00" y1="435.00" x2="46.00" y2="437.00" stroke="#666" stroke-width="0.5"/>
<line x1="50.49" y1="435.00" x2="50.49" y2="436.20" stroke="#666" stroke-width="0.5"/>
<line x1="53.12" y1="435.00" x2="53.12" y2="436.20" stroke="#666" stroke-width="0.5"/>
<line x1="54.98" y1="435.00" x2="54.98" y2="436.20" stroke="#666" stroke-width="0.5"/>
<line x1="56.42" y1="435.00" x2="56.42" y2="436.20" stroke="#666" stroke-width="0.5"/>
<line x1="57.61" y1="435.00" x2="57.61" y2="436.20" stroke="#666" stroke-width="0.5"/>
<line x1="58.60" y1="435.00" x2="58.60" y2="436.20" stroke="#666" stroke-width="0.5"/>
<line x1="59.47" y1="435.00" x2="59.47" y2="436.20" stroke="#666" stroke-width="0.5"/>
<line x1="60.23" y1="435.00" x2="60.23" y2="436.20" stroke="#666" stroke-width="0.5"/>
<line x1="60.91" y1="435.00" x2="60.91" y2="437.00" stroke="#666" stroke-width="0.5"/>
<line x1="65.40" y1="435.00" x2="65.40" y2="436.20" stroke="#666" stroke-width="0.5"/>
<line x1="68.03" y1="435.00" x2="68.03" y2="436.20" stroke="#666" stroke-width="0.5"/>
<line x1="69.89" y1="435.00" x2="69.89" y2="436.20" stroke="#666" stroke-width="0.5"/>
<line x1="71.34" y1="435.00" x2="71.34" y2="436.20" stroke="#666" stroke-width="0.5"/>
<line x1="72.52" y1="435.00" x2="72.52" y2="436.20" stroke="#666" stroke-width="0.5"/>
<line x1="73.52" y1="435.00" x2="73.52" y2="436.20" stroke="#666" stroke-width="0.5"/>
<line x1="74.38" y1="435.00" x2="74.38" y2="436.20" stroke="#666" stroke-width="0.5"/>
<line x1="75.15" y1="435.00" x2="75.15" y2="436.20" stroke="#666" stroke-width="0.5"/>
<line x1="75.83" y1="435.00" x2="75.83" y2="437.00" stroke="#666" stroke-width="0.5"/>
<line x1="80.32" y1="435.00" x2="80.32" y2="436.20" stroke="#666" stroke-width="0.5"/>
<line x1="82.94" y1="435.00" x2="82.94" y2="436.20" stroke="#666" stroke-width="0.5"/>
<line x1="84.81" y1="435.00" x2="84.81" y2="436.20" stroke="#666" stroke-width="0.5"/>
<line x1="86.25" y1="435.00" x2="86.25" y2="436.20" stroke="#666" stroke-width="0.5"/>
<line x1="87.43" y1="435.00" x2="87.43" y2="436.20" stroke="#666" stroke-width="0.5"/>
<line x1="88.43" y1="435.00" x2="88.43" y2="436.20" stroke="#666" stroke-width="0.5"/>
<line x1="89.30" y1="435.00" x2="89.30" y2="436.20" stroke="#666" stroke-width="0.5"/>
<line x1="90.06" y1="435.00" x2="90.06" y2="436.20" stroke="#666" stroke-width="0.5"/>
<line x1="90.74" y1="435.00" x2="90.74" y2="437.00" stroke="#666" stroke-width="0.5"/>
<line x1="95.23" y1="435.00" x2="95.23" y2="436.20" stroke="#666" stroke-width="0.5"/>
<path d="M131.3 422.3h.8M130.4 426.1h.8M130.2 424.3h.8M131.0 424.6h.8M128.9 429.5h.8M129.3 426.3h.8M129.9 428.4h.8M134.2 420.9h.8M130.9 423.1h.8M129.8 426.5h.8M131.3 428.0h.8M129.5 424.1h.8M130.2 426.2h.8M128.1 427.3h.8M130.9 424.2h.8M129.2 427.1h.8M130.0 425.6h.8M134.7 417.9h.8M128.6 425.9h.8M125.2 426.6h.8M130.7 422.5h.8M131.4 420.7h.8M129.3 421.7h.8M131.0 423.1h.8M132.2 423.5h.8M127.7 428.0h.8M131.8 420.9h.8M131.1 425.3h.8M129.2 425.2h.8M133.5 420.1h.8M130.4 425.2h.8M130.1 424.0h.8M128.3 427.8h.8M129.4 426.1h.8M129.3 428.8h.8M129.9 426.2h.8M129.4 427.7h.8M130.6 424.4h.8M132.7 420.3h.8M128.8 429.2h.8M130.9 424.5h.8M127.6 429.8h.8M130.2 424.9h.8M130.2 428.9h.8M134.0 417.8h.8M129.2 425.2h.8M132.9 418.6h.8M135.7 416.5h.8M131.9 423.8h.8M127.2 427.2h.8M129.4 424.9h.8M130.3 423.9h.8M131.7 425.1h.8M128.8 425.2h.8M125.5 431.0h.8M132.0 429.2h.8M133.1 418.6h.8M125.9 429.3h.8M132.7 422.3h.8M130.3 426.1h.8M131.3 421.7h.8M135.3 418.0h.8M129.8 428.4h.8M128.2 429.1h.8M129.9 424.3h.8M130.6 424.6h.8M132.0 424.6h.8M125.5 428.2h.8M129.9 424.5h.8M124.3 426.8h.8M127.3 426.1h.8M127.1 427.9h.8M128.4 427.4h.8M128.7 426.0h.8M127.8 427.5h.8M133.8 416.8h.8M130.2 424.7h.8M133.4 416.9h.8M129.0 424.3h.8M130.1 424.1h.8M128.6 430.2h.8M126.2 429.8h.8M128.5 427.6h.8M131.8 423.8h.8M129.9 425.7h.8M131.1 425.3h.8M132.2 420.9h.8M131.5 424.0h.8M127.6 429.4h.8M130.0 429.8h.8M128.1 426.8h.8M129.8 425.9h.8M130.2 428.4h.8M129.8 425.5h.8M127.8 427.4h.8M130.6 425.4h.8M131.1 424.4h.8M128.7 428.0h.8M130.5 422.5h.8M128.2 429.3h.8M131.0 425.8h.8M130.0 426.2h.8M129.8 425.0h.8M130.4 426.2h.8M130.9 423.3h.8M132.1 422.2h.8M129.1 425.8h.8M134.6 420.6h.8M128.2 426.5h.8M131.5 426.9h.8M131.0 422.7h.8M133.5 422.3h.8M130.2 425.4h.8M130.9 427.2h.8M127.6 427.0h.8M127.7 429.1h.8M127.1 427.9h.8M131.9 424.7h.8M131.1 426.1h.8M129.5 428.4h.8M130.8 423.3h.8M131.3 422.0h.8M128.6 426.9h.8M127.1 429.9h.8M132.4 421.8h.8M134.9 416.2h.8M129.7 424.6h.8M130.5 428.4h.8M127.3 425.0h.8M130.9 420.5h.8M128.7 429.3h.8M129.3 426.0h.8M130.1 428.7h.8M127.3 430.4h.8M128.4 426.1h.8M126.6 428.7h.8M132.0 425.2h.8M129.5 424.8h.8M126.1 429.2h.8M129.0 426.1h.8M129.1 429.8h.8M131.6 425.3h.8M129.2 424.6h.8M130.7 422.8h.8M134.1 417.9h.8M134.1 419.0h.8M128.8 426.4h.8M128.8 425.7h.8M132.2 427.9h.8M132.1 423.4h.8M128.5 430.2h.8M128.6 427.2h.8M129.1 428.7h.8M129.8 427.9h.8M129.5 430.6h.8M131.4 422.6h.8M127.9 427.6h.8M130.1 428.4h.8M133.6 419.0h.8M129.5 425.2h.8M132.3 418.1h.8M132.5 423.2h.8M133.2 420.3h.8M130.4 428.9h.8M128.3 426.7h.8M127.6 426.4h.8M125.7 429.8h.8M128.4 426.7h.8M131.3 426.5h.8M128.6 426.8h.8M132.1 421.1h.8M131.3 426.3h.8M131.4 421.9h.8M133.3 420.3h.8M128.0 429.6h.8M134.4 417.8h.8M130.8 425.1h.8M128.1 426.6h.8M136.3 417.0h.8M131.5 425.5h.8M133.7 420.2h.8M130.2 424.5h.8M134.5 417.2h.8M126.7 427.6h.8M130.8 424.9h.8M130.9 421.6h.8M129.5 427.6h.8M129.8 422.6h.8M128.7 428.2h.8M129.5 430.7h.8M134.3 418.8h.8M128.2 429.7h.8M128.9 429.3h.8M129.9 425.6h.8M128.7 423.4h.8M130.3 427.8h.8M132.9 426.1h.8M128.5 424.4h.8M129.5 425.0h.8M128.6 427.7h.8M126.4 427.2h.8M132.6 423.6h.8M131.1 424.3h.8M131.1 425.3h.8M133.1 420.6h.8M132.4 420.1h.8M129.9 422.5h.8M129.4 429.8h.8M129.0 423.0h.8M128.9 422.2h.8M131.2 426.5h.8M133.3 418.8h.8M129.7 428.8h.8M132.5 421.3h.8M132.6 421.5h.8M126.7 427.9h.8M130.5 422.2h.8M131.4 426.3h.8M134.3 420.1h.8M127.8 428.5h.8M127.0 428.4h.8M131.1 423.3h.8M128.5 428.3h.8M127.1 428.2h.8M133.3 419.9h.8M128.6 430.4h.8M130.1 427.0h.8M129.7 425.4h.8M127.3 430.7h.8M133.2 420.1h.8M130.6 423.5h.8M131.2 425.7h.8M129.3 423.8h.8M127.7 429.5h.8M129.4 423.1h.8M126.8 428.9h.8M129.7 427.9h.8M128.7 426.2h.8M128.4 422.9h.8M130.0 426.1h.8M129.3 424.4h.8M130.3 426.9h.8M128.6 427.7h.8M130.2 423.9h.8M131.1 424.6h.8M131.6 426.6h.8M130.8 423.8h.8M132.5 424.9h.8M129.9 426.0h.8M131.4 420.8h.8M131.0 425.8h.8M128.1 427.2h.8M129.7 426.1h.8M131.1 426.7h.8M128.7 426.8h.8M134.4 416.9h.8M128.9 426.3h.8M130.4 425.4h.8M134.2 418.2h.8M128.4 425.2h.8" stroke="#333" stroke-width="0.8" opacity="0.55" fill="none"/>
<path d="M159.6 427.4h.8M157.4 424.9h.8M155.7 430.4h.8M144.2 426.6h.8M142.8 424.2h.8M158.5 425.7h.8M150.2 425.8h.8M157.9 428.1h.8M140.6 426.6h.8M159.4 425.6h.8M149.4 427.1h.8M151.1 419.4h.8M139.9 431.1h.8M156.6 425.7h.8M155.6 423.7h.8M159.6 426.2h.8M146.5 424.7h.8M139.1 422.3h.8M142.3 433.0h.8M155.5 427.9h.8M155.1 427.5h.8M153.5 425.0h.8M147.3 423.5h.8M149.3 425.3h.8M140.2 430.4h.8M152.4 428.0h.8M157.6 426.8h.8M144.1 421.0h.8M140.9 426.3h.8M150.5 427.2h.8M153.8 423.1h.8M152.4 422.1h.8M138.9 431.3h.8M151.9 423.9h.8M151.6 424.0h.8M158.2 427.9h.8M144.2 430.6h.8M140.8 430.0h.8M139.6 425.4h.8M148.7 428.2h.8M140.8 430.8h.8M155.0 423.2h.8M145.8 422.2h.8M155.5 422.6h.8M152.6 424.1h.8M146.7 428.4h.8M140.1 429.9h.8M158.8 425.4h.8M151.0 428.4h.8M145.4 427.2h.8M151.1 424.6h.8M156.6 427.3h.8M150.4 420.6h.8M158.7 425.1h.8M149.5 428.7h.8M158.9 428.4h.8M141.0 423.3h.8M150.4 427.1h.8M154.5 429.2h.8M158.2 427.6h.8M149.7 418.4h.8M149.3 422.7h.8M143.3 428.4h.8M154.7 429.5h.8M150.0 423.3h.8M144.3 425.1h.8M154.3 429.9h.8M150.2 429.5h.8M156.6 426.8h.8M156.0 428.3h.8M142.1 427.7h.8M156.7 427.8h.8M145.6 425.6h.8M139.7 424.0h.8M145.4 428.2h.8M140.5 428.4h.8M140.0 428.0h.8M152.4 427.7h.8M157.8 428.9h.8M152.6 425.7h.8M138.9 431.8h.8M145.4 427.2h.8M147.9 428.7h.8M154.3 425.2h.8M149.0 423.6h.8M153.4 425.9h.8M145.8 429.7h.8M146.4 424.5h.8M146.0 423.9h.8M157.9 425.0h.8M144.1 429.7h.8M159.0 428.3h.8M147.1 430.2h.8M152.6 421.4h.8M141.0 422.5h.8M144.9 428.1h.8M139.7 427.3h.8M140.5 426.3h.8M157.4 425.9h.8M140.2 425.9h.8M138.6 429.0h.8M147.6 426.6h.8M151.5 421.6h.8M159.9 426.1h.8M143.4 423.0h.8M145.2 425.0h.8M154.3 428.3h.8M152.8 427.8h.8M147.7 427.7h.8M157.1 427.5h.8M148.4 423.4h.8M144.5 427.7h.8M159.8 429.3h.8M145.3 426.0h.8M155.4 427.3h.8M145.5 424.2h.8M158.1 425.5h.8M154.7 431.6h.8M145.8 424.8h.8M151.6 426.2h.8M155.8 419.9h.8M157.2 421.3h.8M154.8 430.6h.8M140.7 428.5h.8M153.3 424.7h.8M140.7 426.6h.8M141.0 424.1h.8M145.9 425.9h.8M148.6 428.6h.8M143.4 422.7h.8M140.8 426.7h.8M141.6 429.3h.8M143.3 423.8h.8M152.5 426.4h.8M140.7 428.8h.8M139.5 426.6h.8M153.6 426.5h.8M140.2 425.4h.8M142.5 426.4h.8M153.0 424.5h.8M152.2 426.0h.8M140.8 428.3h.8M139.5 424.2h.8M151.9 430.6h.8M138.8 422.4h.8M151.7 430.1h.8M142.2 425.1h.8M138.7 424.0h.8M142.7 432.2h.8M143.7 424.7h.8M151.2 425.2h.8M157.4 425.7h.8M150.9 422.9h.8M153.7 425.2h.8M143.6 425.3h.8M157.1 426.5h.8M143.6 422.7h.8M140.8 428.7h.8M143.8 421.7h.8M154.5 425.9h.8M155.1 420.6h.8M141.3 427.3h.8M149.5 424.1h.8M146.2 420.9h.8M140.5 429.1h.8M141.8 427.6h.8M158.9 425.6h.8M154.9 427.5h.8M146.8 425.1h.8M144.0 425.8h.8M147.5 428.6h.8M159.3 424.8h.8M142.5 428.3h.8M143.9 428.5h.8M155.9 428.9h.8M145.9 427.5h.8M152.1 424.4h.8M145.2 425.7h.8M143.8 430.3h.8M144.0 425.1h.8M159.7 431.4h.8M146.0 425.2h.8M154.4 423.8h.8M148.1 429.8h.8M152.2 427.5h.8M152.6 426.1h.8M148.9 433.4h.8M143.5 425.3h.8M140.2 423.7h.8M139.5 423.8h.8M140.7 427.7h.8M153.4 428.1h.8M148.6 426.8h.8M146.8 426.9h.8M151.6 429.4h.8M146.5 425.2h.8M151.4 428.0h.8M144.8 427.1h.8M148.9 427.0h.8M148.1 427.0h.8M145.8 422.3h.8M138.8 423.7h.8M146.7 426.8h.8M155.3 426.2h.8M148.1 425.5h.8M158.1 421.0h.8M153.3 427.4h.8M139.8 425.4h.8M153.0 421.8h.8M150.6 431.9h.8M150.0 430.2h.8M139.4 427.8h.8M142.1 426.4h.8M144.7 422.9h.8M147.4 430.7h.8M148.5 430.8h.8M150.7 421.5h.8M156.0 425.6h.8M141.4 425.9h.8M143.2 425.2h.8M156.9 424.7h.8M155.1 425.1h.8M154.9 426.0h.8M154.9 430.6h.8M142.6 424.6h.8M141.6 430.9h.8M150.7 426.9h.8M156.5 429.4h.8M153.0 426.7h.8M145.1 424.8h.8M141.1 426.8h.8M144.2 427.0h.8M148.3 426.8h.8M157.6 426.1h.8M159.5 428.0h.8M154.0 427.1h.8M144.9 426.7h.8M145.6 428.3h.8M153.3 427.9h.8M149.4 420.9h.8M151.7 426.0h.8M144.6 425.8h.8M148.6 425.1h.8M145.4 425.6h.8M139.8 430.7h.8M141.0 426.4h.8M148.1 427.4h.8M152.2 427.7h.8M155.5 424.4h.8M154.3 428.5h.8M141.4 425.8h.8M141.1 431.3h.8M139.0 425.7h.8M141.9 425.3h.8M152.2 430.2h.8M151.6 429.2h.8M152.6 421.0h.8M151.8 426.6h.8M148.2 429.5h.8M145.0 429.4h.8" stroke="#000" stroke-width="0.8" opacity="0.65" fill="none"/>
<path d="M151.8 428.2h.8M152.8 428.3h.8M152.5 428.0h.8M155.3 425.9h.8M155.5 424.0h.8M155.5 428.8h.8M151.8 425.0h.8M151.7 426.8h.8M153.5 426.1h.8M153.8 425.4h.8M154.5 425.7h.8M155.9 428.0h.8M149.7 426.3h.8M149.9 428.9h.8M155.8 428.3h.8M154.7 425.5h.8M149.9 427.9h.8M149.7 430.7h.8M159.0 426.7h.8M148.8 429.1h.8M151.5 425.0h.8M155.3 428.0h.8M149.3 432.5h.8M151.0 426.0h.8M152.8 428.5h.8M158.3 428.4h.8M153.1 432.3h.8M156.4 427.1h.8M157.0 427.8h.8M155.7 427.7h.8M150.3 429.5h.8M153.2 429.6h.8M149.5 431.4h.8M152.1 428.3h.8M156.0 424.9h.8M153.1 428.6h.8M156.3 430.0h.8M153.0 431.1h.8M156.2 427.5h.8M157.8 422.7h.8M150.0 431.4h.8M153.8 427.5h.8M153.7 427.7h.8M151.6 426.7h.8M149.5 427.9h.8M156.3 425.0h.8M154.8 423.6h.8M154.3 427.7h.8M153.3 431.2h.8M152.8 428.7h.8M151.3 426.9h.8M152.1 424.1h.8M153.6 427.1h.8M155.3 430.7h.8M155.4 429.7h.8M149.3 424.8h.8M152.6 426.9h.8M150.6 425.0h.8M150.3 426.1h.8M156.3 425.3h.8M152.5 428.9h.8M157.5 429.9h.8M152.7 427.9h.8M159.2 427.3h.8M150.6 426.2h.8M151.3 428.0h.8M153.2 425.6h.8M152.5 428.2h.8M154.9 429.9h.8M146.3 426.6h.8M158.9 426.0h.8M154.7 429.4h.8M156.9 427.4h.8M150.8 426.5h.8M158.2 427.9h.8M148.1 428.5h.8M155.2 427.6h.8M159.2 427.7h.8M153.7 429.4h.8M154.7 427.0h.8M156.4 424.0h.8M155.9 428.9h.8M154.5 432.2h.8M148.5 424.3h.8M147.3 426.8h.8M153.3 427.6h.8M154.4 426.2h.8M156.8 424.7h.8M153.9 427.9h.8M152.8 430.3h.8M157.2 427.0h.8M155.3 431.7h.8M152.6 428.4h.8M154.2 424.9h.8M152.7 428.7h.8M152.2 427.0h.8M156.0 427.5h.8M152.0 425.6h.8M153.7 430.5h.8M155.6 429.5h.8M152.6 426.4h.8M156.4 428.4h.8M160.3 427.6h.8M149.1 424.3h.8M154.7 430.7h.8M151.3 427.0h.8M153.3 427.9h.8M146.8 428.2h.8M154.3 426.3h.8M153.8 427.9h.8M151.9 427.7h.8M158.1 427.1h.8M151.8 427.2h.8M150.7 429.3h.8M149.1 429.3h.8M157.1 426.8h.8M153.7 426.8h.8M152.3 427.5h.8M153.2 428.3h.8M149.8 423.4h.8M152.9 429.3h.8M154.9 431.2h.8M155.4 424.8h.8M156.6 425.4h.8M152.9 427.2h.8M155.8 426.2h.8M152.2 428.2h.8M154.3 428.1h.8M152.2 425.2h.8" stroke="#000" stroke-width="0.8" opacity="0.8" fill="none"/>
<path d="M152.0 425.9h.6M158.0 412.6h.6M155.1 419.7h.6M147.1 427.6h.6M155.2 417.8h.6M136.4 425.8h.6M150.5 412.3h.6M155.0 417.6h.6M150.4 425.5h.6M147.5 416.5h.6M158.9 418.4h.6M136.6 425.7h.6M147.7 416.8h.6M136.5 425.1h.6M148.5 412.2h.6M150.2 418.3h.6M146.5 418.3h.6M148.9 417.4h.6M141.4 417.1h.6M152.6 415.9h.6M148.7 412.2h.6M139.0 425.7h.6M148.8 421.5h.6M155.8 414.5h.6M140.6 419.0h.6M146.2 407.4h.6M152.7 424.7h.6M158.8 422.2h.6M159.5 415.1h.6M156.6 414.5h.6M158.1 424.2h.6M138.0 424.3h.6M159.2 410.0h.6M140.1 423.5h.6M148.0 426.2h.6M158.0 417.2h.6M136.1 416.4h.6M152.5 416.4h.6M145.6 414.4h.6M156.7 414.9h.6M155.0 422.9h.6M152.7 426.2h.6M136.7 421.3h.6M141.7 418.9h.6M148.5 422.2h.6M136.9 426.5h.6M142.5 423.8h.6M155.6 430.8h.6M148.2 415.5h.6M152.0 415.0h.6M141.8 424.0h.6M142.6 413.2h.6M152.5 418.9h.6M152.6 425.3h.6M148.2 420.9h.6M137.7 423.7h.6M142.8 423.7h.6M144.9 423.9h.6M157.2 422.8h.6M149.7 418.5h.6M145.8 424.2h.6M151.9 429.7h.6M158.6 417.4h.6M152.9 415.4h.6M156.1 425.2h.6M136.7 418.7h.6M142.6 414.0h.6M154.0 423.1h.6M142.4 413.9h.6M154.2 416.0h.6M152.2 424.2h.6M158.8 409.9h.6M156.7 418.6h.6M146.7 426.1h.6M150.6 415.8h.6M142.6 425.5h.6M157.8 424.9h.6M156.3 410.1h.6M158.7 418.3h.6M152.8 420.7h.6M149.6 426.0h.6M142.3 417.9h.6M150.2 420.2h.6M139.7 410.9h.6M141.0 415.6h.6M136.3 412.0h.6M138.5 413.5h.6M150.2 413.3h.6M143.8 429.4h.6M143.8 420.0h.6M143.7 425.4h.6M149.7 419.7h.6M136.1 419.3h.6M146.7 427.9h.6M137.8 417.1h.6M157.0 417.4h.6M154.7 411.9h.6M152.9 421.6h.6M158.9 420.5h.6M150.2 418.9h.6M143.3 421.2h.6M140.2 418.5h.6M156.7 415.9h.6M157.3 416.0h.6M153.3 432.0h.6M146.3 420.6h.6M138.8 427.1h.6M136.9 415.1h.6M157.6 416.8h.6M144.7 417.5h.6M141.1 414.0h.6M149.5 420.5h.6M155.2 417.9h.6M158.6 414.8h.6M156.8 412.6h.6M138.0 426.8h.6M139.3 418.9h.6M137.7 429.0h.6M154.8 413.2h.6M141.2 416.1h.6M138.6 417.5h.6M155.4 419.4h.6M153.0 427.1h.6M159.2 409.0h.6M152.6 411.0h.6M146.3 406.8h.6M155.3 419.3h.6M153.9 422.9h.6M146.9 415.9h.6M142.7 429.6h.6M152.5 407.4h.6M157.4 422.3h.6M149.3 424.3h.6M141.5 411.6h.6M159.2 418.4h.6M137.3 434.4h.6M152.3 419.6h.6M143.9 424.6h.6M148.3 425.6h.6M144.5 431.7h.6M141.0 418.0h.6M156.3 412.1h.6M152.1 426.9h.6M149.8 418.1h.6M157.7 415.6h.6M137.6 423.2h.6M140.4 418.6h.6M146.7 417.7h.6M151.5 418.8h.6M145.2 422.0h.6M145.3 413.6h.6M159.2 423.8h.6M153.0 421.6h.6M144.3 423.7h.6M143.4 423.8h.6M144.7 410.3h.6M157.6 408.3h.6M146.0 417.2h.6M140.6 424.0h.6M149.1 425.3h.6" stroke="#000" stroke-width="0.6" opacity="0.45" fill="none"/>
<rect x="108.60" y="390.60" width="52.40" height="44.40" fill="none" stroke="#777" stroke-width="0.9"/>
<rect x="137.70" y="406.80" width="22.90" height="25.20" fill="none" stroke="#666" stroke-width="0.8"/>
<text transform="translate(135.30,387.10) scale(0.774,1)" font-size="7.59" text-anchor="middle" font-weight="bold" fill="#000" stroke="#000" stroke-width="0.12">GFP+</text>
<text transform="translate(107.40,394.80) scale(0.713,1)" font-size="5.72" text-anchor="end" fill="#222" stroke="#222" stroke-width="0.12">250</text>
<text transform="translate(107.40,427.80) scale(0.755,1)" font-size="5.72" text-anchor="end" fill="#222" stroke="#222" stroke-width="0.12">50</text>
<text transform="translate(116.60,441.80) scale(0.817,1)" font-size="5.72" fill="#222" stroke="#222" stroke-width="0.12">10<tspan dy="-2.17" font-size="3.55">1</tspan></text>
<text transform="translate(157.00,441.80) scale(0.817,1)" font-size="5.72" fill="#222" stroke="#222" stroke-width="0.12">10<tspan dy="-2.17" font-size="3.55">4</tspan></text>
<line x1="110.60" y1="435.00" x2="110.60" y2="437.00" stroke="#666" stroke-width="0.5"/>
<line x1="115.11" y1="435.00" x2="115.11" y2="436.20" stroke="#666" stroke-width="0.5"/>
<line x1="117.74" y1="435.00" x2="117.74" y2="436.20" stroke="#666" stroke-width="0.5"/>
<line x1="119.61" y1="435.00" x2="119.61" y2="436.20" stroke="#666" stroke-width="0.5"/>
<line x1="121.06" y1="435.00" x2="121.06" y2="436.20" stroke="#666" stroke-width="0.5"/>
<line x1="122.25" y1="435.00" x2="122.25" y2="436.20" stroke="#666" stroke-width="0.5"/>
<line x1="123.25" y1="435.00" x2="123.25" y2="436.20" stroke="#666" stroke-width="0.5"/>
<line x1="124.12" y1="435.00" x2="124.12" y2="436.20" stroke="#666" stroke-width="0.5"/>
<line x1="124.89" y1="435.00" x2="124.89" y2="436.20" stroke="#666" stroke-width="0.5"/>
<line x1="125.57" y1="435.00" x2="125.57" y2="437.00" stroke="#666" stroke-width="0.5"/>
<line x1="130.08" y1="435.00" x2="130.08" y2="436.20" stroke="#666" stroke-width="0.5"/>
<line x1="132.71" y1="435.00" x2="132.71" y2="436.20" stroke="#666" stroke-width="0.5"/>
<line x1="134.59" y1="435.00" x2="134.59" y2="436.20" stroke="#666" stroke-width="0.5"/>
<line x1="136.04" y1="435.00" x2="136.04" y2="436.20" stroke="#666" stroke-width="0.5"/>
<line x1="137.22" y1="435.00" x2="137.22" y2="436.20" stroke="#666" stroke-width="0.5"/>
<line x1="138.22" y1="435.00" x2="138.22" y2="436.20" stroke="#666" stroke-width="0.5"/>
<line x1="139.09" y1="435.00" x2="139.09" y2="436.20" stroke="#666" stroke-width="0.5"/>
<line x1="139.86" y1="435.00" x2="139.86" y2="436.20" stroke="#666" stroke-width="0.5"/>
<line x1="140.54" y1="435.00" x2="140.54" y2="437.00" stroke="#666" stroke-width="0.5"/>
<line x1="145.05" y1="435.00" x2="145.05" y2="436.20" stroke="#666" stroke-width="0.5"/>
<line x1="147.69" y1="435.00" x2="147.69" y2="436.20" stroke="#666" stroke-width="0.5"/>
<line x1="149.56" y1="435.00" x2="149.56" y2="436.20" stroke="#666" stroke-width="0.5"/>
<line x1="151.01" y1="435.00" x2="151.01" y2="436.20" stroke="#666" stroke-width="0.5"/>
<line x1="152.19" y1="435.00" x2="152.19" y2="436.20" stroke="#666" stroke-width="0.5"/>
<line x1="153.20" y1="435.00" x2="153.20" y2="436.20" stroke="#666" stroke-width="0.5"/>
<line x1="154.06" y1="435.00" x2="154.06" y2="436.20" stroke="#666" stroke-width="0.5"/>
<line x1="154.83" y1="435.00" x2="154.83" y2="436.20" stroke="#666" stroke-width="0.5"/>
<line x1="155.51" y1="435.00" x2="155.51" y2="437.00" stroke="#666" stroke-width="0.5"/>
<line x1="160.02" y1="435.00" x2="160.02" y2="436.20" stroke="#666" stroke-width="0.5"/>
<path d="M194.8 427.8h.8M196.5 427.6h.8M195.5 428.5h.8M192.4 428.7h.8M196.0 426.5h.8M195.4 425.1h.8M199.0 420.5h.8M192.8 432.2h.8M198.5 420.6h.8M200.6 418.5h.8M196.0 422.5h.8M194.0 427.7h.8M195.2 426.3h.8M195.5 427.5h.8M196.4 426.1h.8M199.1 417.6h.8M196.3 429.5h.8M198.1 426.5h.8M198.2 424.3h.8M196.0 427.4h.8M195.2 428.1h.8M198.2 421.2h.8M198.0 421.3h.8M197.1 422.8h.8M195.3 427.0h.8M197.6 425.9h.8M196.2 426.4h.8M194.3 430.2h.8M197.7 427.5h.8M195.9 422.8h.8M198.4 424.0h.8M197.3 422.2h.8M198.6 424.3h.8M191.8 432.3h.8M193.6 429.4h.8M197.8 426.5h.8M197.7 430.7h.8M194.4 425.9h.8M196.3 426.5h.8M198.1 425.7h.8M193.8 430.2h.8M197.5 426.2h.8M199.1 421.6h.8M193.5 432.5h.8M193.5 427.4h.8M199.0 425.3h.8M194.1 426.8h.8M195.0 429.8h.8M197.3 426.0h.8M196.9 428.5h.8M193.8 429.3h.8M195.5 427.2h.8M195.8 429.2h.8M193.7 428.1h.8M191.8 429.7h.8M198.9 421.4h.8M198.7 421.4h.8M196.2 426.1h.8M195.4 425.2h.8M198.5 420.0h.8M192.2 430.9h.8M196.3 424.2h.8M200.7 423.0h.8M195.7 430.8h.8M196.8 428.9h.8M197.5 426.5h.8M196.1 426.4h.8M195.9 432.2h.8M195.1 430.7h.8M196.5 425.5h.8M194.3 432.4h.8M193.1 427.2h.8M195.5 426.9h.8M196.0 425.2h.8M197.3 425.1h.8M190.7 432.3h.8M195.3 428.6h.8M195.5 424.7h.8M193.7 427.6h.8M199.1 419.5h.8M199.4 421.2h.8M195.4 427.8h.8M193.1 429.9h.8M193.8 426.5h.8M196.2 426.3h.8M192.7 427.7h.8M196.4 423.2h.8M200.9 415.7h.8M195.2 422.5h.8M193.2 430.1h.8M194.9 423.3h.8M191.2 429.0h.8M201.0 419.0h.8M196.9 425.9h.8M195.2 424.2h.8M195.2 425.6h.8M195.3 424.2h.8M197.1 422.5h.8M194.3 428.4h.8M195.4 425.7h.8M194.4 431.9h.8M198.6 422.0h.8M196.8 424.0h.8M192.8 426.7h.8M196.0 425.9h.8M196.9 424.5h.8M197.4 423.4h.8M196.6 426.7h.8M195.8 424.4h.8M198.2 422.1h.8M196.4 427.9h.8M191.9 430.3h.8M194.2 424.8h.8M196.5 422.5h.8M194.3 429.1h.8M200.8 416.5h.8M192.2 431.7h.8M193.0 428.6h.8M196.4 428.2h.8M197.5 424.4h.8M192.1 427.8h.8M194.7 425.5h.8M197.2 427.2h.8M202.0 417.6h.8M196.0 425.1h.8M195.2 428.0h.8M198.7 421.3h.8M195.0 425.4h.8M190.6 430.5h.8M191.2 429.0h.8M195.9 424.3h.8M198.4 423.1h.8M198.8 420.6h.8M195.4 425.0h.8M197.2 424.5h.8M194.7 426.4h.8M199.3 421.9h.8M195.3 426.9h.8M192.3 427.1h.8M198.5 420.3h.8M199.0 426.0h.8M197.4 424.3h.8M198.8 420.6h.8M196.4 421.5h.8M196.0 425.7h.8M199.2 423.0h.8M199.6 418.1h.8M194.7 427.6h.8M194.7 426.1h.8M194.1 430.2h.8M197.3 425.2h.8M195.2 432.2h.8M198.3 422.1h.8M194.7 427.0h.8M195.9 426.9h.8M199.4 422.5h.8M196.4 428.6h.8M196.9 425.2h.8M195.9 423.7h.8M191.9 427.3h.8M196.3 430.6h.8M197.8 421.0h.8M196.0 425.6h.8M195.9 430.8h.8M197.6 424.3h.8M194.1 425.2h.8M196.5 427.1h.8M200.1 420.4h.8M194.1 424.9h.8M195.3 427.8h.8M197.8 425.8h.8M195.7 427.5h.8M198.6 422.1h.8M194.4 426.5h.8M193.7 426.6h.8M198.0 421.7h.8M197.1 424.1h.8M193.8 432.2h.8M198.6 424.1h.8M199.0 420.4h.8M191.0 428.7h.8M195.3 424.5h.8M196.8 426.4h.8M195.3 427.9h.8M193.1 429.9h.8M196.6 425.0h.8M195.5 429.4h.8M197.0 432.6h.8M198.6 420.0h.8M193.7 430.9h.8M199.9 417.5h.8M196.8 427.3h.8M196.0 421.6h.8M195.1 427.1h.8M192.6 431.0h.8M196.7 425.1h.8M195.9 427.6h.8M192.3 428.1h.8M194.5 429.6h.8M195.1 426.9h.8M197.2 421.9h.8M200.0 416.5h.8M196.7 421.0h.8M194.1 429.3h.8M198.8 422.7h.8M196.5 427.1h.8M198.9 423.5h.8M194.2 425.9h.8M193.3 427.3h.8M195.9 431.0h.8M194.2 424.9h.8M191.1 431.8h.8M192.8 424.8h.8M194.8 426.3h.8M192.9 429.1h.8M194.5 428.6h.8M195.2 426.1h.8M194.0 429.7h.8M193.0 427.5h.8M196.6 426.8h.8M197.8 428.1h.8M194.2 430.1h.8M198.0 420.3h.8M199.2 422.7h.8M195.2 426.7h.8M193.7 430.4h.8M195.4 425.7h.8M198.4 423.2h.8M193.9 428.0h.8M202.2 415.3h.8M192.7 429.9h.8M195.7 429.0h.8M194.1 431.5h.8M194.1 425.7h.8M195.5 426.8h.8M193.5 429.8h.8M191.6 429.0h.8M198.8 418.1h.8M197.1 424.3h.8M197.8 421.8h.8M197.7 428.5h.8M200.0 422.2h.8M194.1 429.3h.8M194.5 427.8h.8M193.4 427.0h.8M194.0 424.9h.8M194.4 430.2h.8M193.7 430.2h.8M198.4 425.0h.8M197.9 422.6h.8M193.5 424.3h.8M192.1 428.5h.8M192.8 431.8h.8M194.7 428.8h.8M199.4 421.8h.8M194.0 431.4h.8M196.5 428.4h.8M194.3 424.3h.8M196.7 423.4h.8M197.4 424.3h.8M194.2 426.0h.8M195.0 428.1h.8M197.1 427.8h.8M196.6 419.5h.8M195.7 421.4h.8M197.2 429.6h.8M200.1 421.4h.8M192.9 428.8h.8M195.7 428.2h.8M197.2 423.9h.8M200.1 417.3h.8M197.9 424.7h.8M195.0 427.1h.8M197.5 424.8h.8M192.6 430.1h.8M194.4 427.2h.8M200.2 426.1h.8M197.2 427.8h.8M195.2 431.1h.8M197.6 422.7h.8M192.8 430.8h.8M197.5 423.3h.8M197.6 426.1h.8M193.3 429.6h.8M192.2 430.3h.8M193.7 431.0h.8M193.7 430.7h.8M194.7 429.0h.8M201.4 417.3h.8M196.7 428.6h.8M197.2 420.9h.8M196.0 428.4h.8M198.0 420.1h.8M195.0 423.1h.8M195.6 428.8h.8M192.8 429.6h.8M194.7 431.9h.8M193.7 429.6h.8M197.7 424.6h.8M201.5 419.9h.8M198.3 420.1h.8M196.3 428.6h.8M197.1 425.0h.8M198.8 420.9h.8M195.8 429.1h.8M196.1 427.4h.8M194.8 428.5h.8M196.9 424.0h.8M193.8 428.8h.8M195.3 428.6h.8M200.0 423.8h.8M198.1 425.5h.8M194.7 428.6h.8M197.6 428.1h.8M197.2 429.2h.8M195.3 430.7h.8M199.5 422.6h.8M195.5 426.5h.8M195.5 425.4h.8M196.1 428.5h.8M197.6 421.3h.8M200.3 419.4h.8M195.5 426.4h.8M197.5 424.8h.8M195.1 426.0h.8M194.0 425.8h.8M194.5 429.0h.8M194.9 428.0h.8M197.3 424.0h.8M195.5 432.8h.8M196.0 423.3h.8M198.6 422.5h.8M199.5 420.1h.8M194.3 428.6h.8M199.9 422.9h.8M192.6 429.2h.8M195.1 427.3h.8M198.7 423.4h.8M199.1 424.4h.8M192.5 428.4h.8M194.4 423.9h.8M194.7 428.8h.8M194.0 424.2h.8M197.0 426.8h.8M196.0 427.3h.8M194.2 429.7h.8M190.9 430.8h.8M193.1 431.6h.8M196.9 428.7h.8M194.6 426.9h.8M197.1 426.8h.8M196.9 426.6h.8M195.3 422.4h.8M195.3 430.6h.8M194.0 426.4h.8M192.6 428.3h.8M195.9 424.6h.8M194.4 430.2h.8M196.8 425.7h.8M195.0 430.1h.8M196.0 426.2h.8M195.4 423.5h.8M193.0 429.3h.8M194.8 428.5h.8M195.7 427.4h.8M196.6 423.8h.8M196.9 428.5h.8M192.3 431.2h.8M196.5 427.2h.8M193.9 428.5h.8M197.1 428.6h.8M192.5 429.6h.8M198.7 421.2h.8M196.2 426.1h.8M195.7 429.5h.8M197.7 421.9h.8M193.6 429.8h.8M196.3 425.6h.8M194.7 424.6h.8M197.4 418.5h.8M197.3 422.8h.8M195.4 430.6h.8M197.4 428.8h.8M195.7 427.4h.8M200.3 420.8h.8M194.4 428.9h.8M195.7 425.3h.8M193.4 433.7h.8M195.9 425.9h.8M195.0 429.1h.8M199.0 420.4h.8M198.4 429.9h.8M197.3 420.8h.8M198.6 426.6h.8M197.7 427.1h.8M199.2 419.0h.8M196.1 426.1h.8M194.8 429.7h.8M198.3 425.2h.8M197.5 426.3h.8M195.8 429.4h.8M195.2 426.4h.8M195.8 424.3h.8M196.4 427.4h.8M195.7 427.2h.8M194.7 429.5h.8M197.7 422.4h.8M193.9 427.6h.8M199.1 425.7h.8M196.5 428.8h.8M193.8 426.8h.8M195.2 426.5h.8M195.5 429.1h.8M197.4 424.6h.8M195.5 430.4h.8M199.2 420.8h.8M196.1 425.5h.8M196.9 425.1h.8M195.1 429.1h.8M192.2 428.2h.8M192.8 432.5h.8M194.8 428.6h.8M196.0 431.1h.8M193.7 429.0h.8M199.6 418.0h.8M196.0 425.0h.8M198.7 423.9h.8M194.3 429.7h.8M196.0 422.6h.8M195.5 429.1h.8M194.1 427.1h.8M195.1 426.7h.8M200.8 420.4h.8M198.9 421.5h.8M193.7 429.5h.8M198.5 420.4h.8M195.7 427.0h.8M194.2 431.8h.8M196.0 425.2h.8M195.6 425.9h.8M197.2 426.5h.8M197.6 421.1h.8M197.4 422.0h.8M192.5 429.9h.8M199.4 418.5h.8M193.8 428.6h.8M193.5 430.1h.8M200.9 418.6h.8M192.1 431.7h.8M195.8 425.1h.8M196.7 422.6h.8M195.2 427.6h.8M197.4 429.8h.8M194.7 425.4h.8M197.1 422.5h.8M195.8 426.2h.8M198.6 424.9h.8M199.9 417.2h.8M195.8 429.1h.8M193.9 429.3h.8M194.2 426.5h.8M195.5 428.4h.8M195.7 426.7h.8M197.4 419.4h.8M196.1 425.0h.8M198.0 430.9h.8M195.7 429.1h.8M194.6 424.3h.8M192.2 428.2h.8M191.7 428.6h.8M193.9 428.6h.8M196.2 427.5h.8M193.2 428.9h.8M195.8 425.7h.8M194.5 426.1h.8M194.3 429.2h.8M198.6 424.0h.8M194.4 428.7h.8M194.0 432.2h.8M199.0 420.7h.8M191.7 431.4h.8M193.3 430.2h.8M198.5 420.8h.8M198.6 421.1h.8M198.1 421.3h.8M199.4 420.2h.8M196.4 427.9h.8M196.1 427.0h.8M198.2 422.6h.8M197.6 424.4h.8M199.9 419.4h.8M193.8 430.5h.8M197.9 421.4h.8M195.6 430.5h.8M195.4 429.7h.8M195.6 428.1h.8M195.1 426.9h.8M196.0 424.5h.8M196.6 424.3h.8M198.3 423.8h.8M198.3 425.5h.8M195.4 427.2h.8M197.0 429.9h.8M193.2 429.0h.8M193.9 427.3h.8M196.7 425.3h.8M195.5 426.9h.8M193.9 428.0h.8M199.1 421.9h.8M196.4 425.4h.8M194.6 429.1h.8M200.9 417.2h.8M197.2 429.5h.8M197.7 428.2h.8M199.9 420.7h.8M192.7 427.9h.8M197.9 423.1h.8M191.5 431.8h.8M196.7 423.8h.8M197.4 424.8h.8M195.2 425.2h.8M198.2 422.8h.8M197.6 425.1h.8M195.0 427.9h.8M197.1 427.8h.8M195.0 427.2h.8M194.1 428.7h.8M195.3 426.6h.8M191.1 429.8h.8M195.1 425.7h.8M195.8 426.8h.8M196.3 423.0h.8M199.7 421.2h.8M197.6 427.6h.8M198.6 422.5h.8M194.0 431.3h.8M198.6 425.3h.8M194.3 429.4h.8M197.0 427.4h.8M195.8 428.7h.8M191.8 428.2h.8M195.1 427.8h.8M194.8 427.2h.8M195.0 428.5h.8M193.3 429.9h.8M196.4 426.8h.8M198.9 421.4h.8M195.8 425.9h.8M194.1 428.3h.8M197.8 423.5h.8M193.7 430.4h.8M193.4 428.2h.8M197.1 426.9h.8M193.9 428.7h.8M197.2 424.6h.8M200.8 417.1h.8M194.5 425.4h.8M193.6 429.5h.8M197.2 428.7h.8M199.5 421.1h.8M196.7 422.9h.8M192.7 429.5h.8M193.3 428.9h.8M196.3 424.6h.8M193.0 428.8h.8M195.9 421.9h.8M199.7 422.7h.8M195.6 430.8h.8M198.3 423.3h.8M195.8 421.9h.8M200.7 421.5h.8M192.2 430.9h.8M193.4 428.4h.8M195.0 428.4h.8M195.8 429.8h.8M195.1 426.2h.8M199.8 425.0h.8M195.6 425.9h.8M194.2 429.9h.8M197.2 425.3h.8M195.0 427.8h.8M198.4 425.3h.8M192.5 429.6h.8M195.1 425.2h.8M193.5 427.1h.8M195.3 429.9h.8M193.7 427.7h.8M197.6 422.9h.8M197.3 423.9h.8M196.5 428.5h.8M195.0 425.2h.8M201.4 421.2h.8M195.7 423.1h.8M194.1 426.4h.8M195.6 427.2h.8M193.7 430.9h.8M192.7 430.8h.8M197.5 422.2h.8M199.1 423.4h.8M197.4 428.3h.8M199.1 418.2h.8M200.3 420.6h.8M195.5 428.9h.8M198.3 423.3h.8M197.5 424.3h.8M193.7 431.3h.8M192.5 431.5h.8M195.9 430.2h.8M198.3 423.5h.8M196.6 425.9h.8M195.6 429.2h.8M197.1 425.4h.8M193.6 428.6h.8M195.5 428.4h.8M196.0 425.1h.8M194.4 427.1h.8M193.3 428.6h.8M195.4 430.6h.8M197.6 426.1h.8M195.8 428.4h.8M194.5 430.3h.8M199.2 424.1h.8M195.3 425.1h.8M198.0 420.0h.8M201.0 423.9h.8M195.8 428.4h.8M194.6 429.2h.8M195.7 427.0h.8M195.9 426.2h.8M196.4 429.8h.8M193.1 429.3h.8M195.5 428.3h.8M197.5 424.9h.8M195.5 429.8h.8M195.8 426.5h.8M196.9 425.0h.8M194.5 428.6h.8M194.6 427.6h.8M192.8 429.9h.8M195.4 426.9h.8M195.5 431.1h.8M197.2 427.4h.8M199.8 421.5h.8M195.9 424.6h.8M193.6 432.4h.8M196.3 431.6h.8M194.9 432.1h.8M196.0 428.4h.8M196.7 426.8h.8M194.4 426.8h.8M195.5 429.4h.8M197.1 425.8h.8M193.0 429.0h.8M199.2 420.6h.8M195.8 426.8h.8M197.7 426.2h.8M195.4 433.9h.8M193.0 425.2h.8M195.1 428.8h.8M199.6 419.5h.8M195.2 427.0h.8M194.8 425.1h.8M194.5 427.1h.8M192.9 431.0h.8M194.8 426.0h.8M191.9 432.5h.8M195.1 425.8h.8M197.9 420.0h.8M194.3 425.4h.8M193.7 428.5h.8M196.4 422.6h.8M195.6 428.6h.8M196.0 431.6h.8M196.1 429.5h.8M197.0 425.7h.8M192.5 427.7h.8M195.2 429.5h.8M195.8 423.6h.8M193.6 424.4h.8M193.6 431.9h.8M194.6 428.6h.8M196.0 424.7h.8M196.4 426.7h.8M194.3 429.3h.8M197.4 420.8h.8M192.9 430.1h.8M193.0 431.3h.8M197.3 421.9h.8M195.7 426.2h.8M196.7 421.2h.8M196.2 424.5h.8M195.7 427.6h.8M196.8 424.2h.8M197.0 422.7h.8M193.9 429.1h.8M194.9 429.6h.8M194.7 429.8h.8M195.2 429.1h.8M195.7 428.6h.8M196.4 426.0h.8M196.8 422.0h.8M196.3 425.2h.8M192.6 429.1h.8M195.1 426.6h.8M193.8 427.9h.8M193.1 425.2h.8M191.3 426.1h.8M195.2 425.8h.8M195.8 426.2h.8M195.9 426.9h.8M194.6 427.2h.8M199.9 423.8h.8M194.9 425.0h.8M197.9 421.6h.8M198.0 423.5h.8M195.1 427.3h.8M197.3 423.6h.8M197.6 421.4h.8M193.9 423.0h.8M196.0 429.9h.8M196.5 427.6h.8M193.9 425.7h.8M192.8 430.9h.8M196.8 424.5h.8M195.0 428.8h.8M193.4 428.9h.8M197.3 421.3h.8M196.4 425.1h.8M194.0 430.5h.8M197.2 425.4h.8M191.5 429.4h.8M199.8 421.2h.8M196.9 424.1h.8M197.9 426.4h.8M197.5 424.9h.8M197.8 426.5h.8M192.8 429.2h.8M193.7 431.6h.8M194.5 427.0h.8M198.5 426.5h.8M198.1 420.6h.8M196.1 429.9h.8M198.9 422.9h.8M191.2 428.5h.8M199.5 418.6h.8M194.8 426.4h.8M194.3 429.1h.8M193.2 430.6h.8M197.7 422.6h.8M194.7 424.2h.8M191.6 426.2h.8M195.1 425.9h.8M195.3 426.0h.8M192.1 430.7h.8M193.7 429.5h.8M197.2 423.2h.8M195.8 422.4h.8M196.9 420.5h.8" stroke="#000" stroke-width="0.8" opacity="0.9" fill="none"/>
<path d="M203.2 423.0h.6M200.6 414.1h.6M203.4 419.4h.6M204.3 417.5h.6M201.4 424.9h.6M198.0 426.2h.6M195.5 431.1h.6M199.4 422.8h.6M200.2 417.3h.6M196.6 413.8h.6M206.2 402.5h.6M196.9 409.6h.6M191.6 427.1h.6M194.8 418.2h.6M202.2 428.0h.6M197.8 405.3h.6M196.3 426.8h.6M209.9 404.4h.6M198.8 421.2h.6M203.9 417.8h.6M204.4 413.4h.6M202.9 409.1h.6M199.1 416.2h.6M202.1 422.1h.6M197.6 413.6h.6M194.5 426.6h.6M202.2 416.9h.6M204.4 423.2h.6M201.0 416.8h.6M199.8 420.3h.6M201.4 414.8h.6M199.8 411.7h.6M198.5 426.1h.6M198.5 413.3h.6M196.8 420.9h.6M205.8 416.4h.6M200.6 417.6h.6M200.9 409.7h.6M205.2 412.9h.6M194.1 419.4h.6M207.0 410.6h.6M199.8 410.2h.6M197.9 401.5h.6M201.8 409.3h.6M199.4 429.3h.6M193.3 416.8h.6M201.3 407.4h.6M193.6 406.2h.6M197.9 412.2h.6M197.0 401.4h.6M197.6 419.4h.6M198.1 407.4h.6M198.7 425.0h.6M201.2 426.1h.6M204.0 406.4h.6M196.9 418.8h.6M200.4 409.1h.6M198.6 406.4h.6M200.5 420.2h.6M190.8 423.1h.6M198.7 433.9h.6M191.8 425.8h.6M204.2 419.5h.6M203.3 419.1h.6M198.4 406.8h.6M201.4 429.5h.6M199.0 417.8h.6M200.1 412.0h.6M199.6 417.3h.6M203.6 410.0h.6" stroke="#000" stroke-width="0.6" opacity="0.4" fill="none"/>
<rect x="175.30" y="390.60" width="51.20" height="44.40" fill="none" stroke="#777" stroke-width="0.9"/>
<rect x="188.30" y="407.30" width="19.70" height="26.40" fill="none" stroke="#666" stroke-width="0.8"/>
<text transform="translate(201.40,387.10) scale(0.869,1)" font-size="7.59" text-anchor="middle" font-weight="bold" fill="#000" stroke="#000" stroke-width="0.12">MLLAF4-</text>
<text transform="translate(174.10,394.80) scale(0.713,1)" font-size="5.72" text-anchor="end" fill="#222" stroke="#222" stroke-width="0.12">250</text>
<text transform="translate(174.10,427.80) scale(0.755,1)" font-size="5.72" text-anchor="end" fill="#222" stroke="#222" stroke-width="0.12">50</text>
<text transform="translate(183.30,441.80) scale(0.817,1)" font-size="5.72" fill="#222" stroke="#222" stroke-width="0.12">10<tspan dy="-2.17" font-size="3.55">1</tspan></text>
<text transform="translate(222.50,441.80) scale(0.817,1)" font-size="5.72" fill="#222" stroke="#222" stroke-width="0.12">10<tspan dy="-2.17" font-size="3.55">4</tspan></text>
<line x1="177.30" y1="435.00" x2="177.30" y2="437.00" stroke="#666" stroke-width="0.5"/>
<line x1="181.70" y1="435.00" x2="181.70" y2="436.20" stroke="#666" stroke-width="0.5"/>
<line x1="184.28" y1="435.00" x2="184.28" y2="436.20" stroke="#666" stroke-width="0.5"/>
<line x1="186.11" y1="435.00" x2="186.11" y2="436.20" stroke="#666" stroke-width="0.5"/>
<line x1="187.52" y1="435.00" x2="187.52" y2="436.20" stroke="#666" stroke-width="0.5"/>
<line x1="188.68" y1="435.00" x2="188.68" y2="436.20" stroke="#666" stroke-width="0.5"/>
<line x1="189.66" y1="435.00" x2="189.66" y2="436.20" stroke="#666" stroke-width="0.5"/>
<line x1="190.51" y1="435.00" x2="190.51" y2="436.20" stroke="#666" stroke-width="0.5"/>
<line x1="191.26" y1="435.00" x2="191.26" y2="436.20" stroke="#666" stroke-width="0.5"/>
<line x1="191.93" y1="435.00" x2="191.93" y2="437.00" stroke="#666" stroke-width="0.5"/>
<line x1="196.33" y1="435.00" x2="196.33" y2="436.20" stroke="#666" stroke-width="0.5"/>
<line x1="198.91" y1="435.00" x2="198.91" y2="436.20" stroke="#666" stroke-width="0.5"/>
<line x1="200.74" y1="435.00" x2="200.74" y2="436.20" stroke="#666" stroke-width="0.5"/>
<line x1="202.15" y1="435.00" x2="202.15" y2="436.20" stroke="#666" stroke-width="0.5"/>
<line x1="203.31" y1="435.00" x2="203.31" y2="436.20" stroke="#666" stroke-width="0.5"/>
<line x1="204.29" y1="435.00" x2="204.29" y2="436.20" stroke="#666" stroke-width="0.5"/>
<line x1="205.14" y1="435.00" x2="205.14" y2="436.20" stroke="#666" stroke-width="0.5"/>
<line x1="205.89" y1="435.00" x2="205.89" y2="436.20" stroke="#666" stroke-width="0.5"/>
<line x1="206.56" y1="435.00" x2="206.56" y2="437.00" stroke="#666" stroke-width="0.5"/>
<line x1="210.96" y1="435.00" x2="210.96" y2="436.20" stroke="#666" stroke-width="0.5"/>
<line x1="213.54" y1="435.00" x2="213.54" y2="436.20" stroke="#666" stroke-width="0.5"/>
<line x1="215.36" y1="435.00" x2="215.36" y2="436.20" stroke="#666" stroke-width="0.5"/>
<line x1="216.78" y1="435.00" x2="216.78" y2="436.20" stroke="#666" stroke-width="0.5"/>
<line x1="217.94" y1="435.00" x2="217.94" y2="436.20" stroke="#666" stroke-width="0.5"/>
<line x1="218.92" y1="435.00" x2="218.92" y2="436.20" stroke="#666" stroke-width="0.5"/>
<line x1="219.77" y1="435.00" x2="219.77" y2="436.20" stroke="#666" stroke-width="0.5"/>
<line x1="220.52" y1="435.00" x2="220.52" y2="436.20" stroke="#666" stroke-width="0.5"/>
<line x1="221.19" y1="435.00" x2="221.19" y2="437.00" stroke="#666" stroke-width="0.5"/>
<line x1="225.59" y1="435.00" x2="225.59" y2="436.20" stroke="#666" stroke-width="0.5"/>
<path d="M261.1 425.4h.8M266.3 421.1h.8M261.5 427.1h.8M262.6 426.4h.8M262.2 424.7h.8M263.2 425.7h.8M263.5 424.9h.8M262.1 426.1h.8M266.2 421.3h.8M261.7 425.5h.8M264.2 423.0h.8M267.4 419.9h.8M262.7 428.9h.8M258.7 426.3h.8M260.9 429.7h.8M262.1 427.5h.8M260.3 428.0h.8M265.0 421.4h.8M266.0 423.2h.8M261.5 423.9h.8M263.8 423.7h.8M262.9 424.3h.8M264.4 419.8h.8M259.4 425.8h.8M264.5 421.1h.8M263.5 427.8h.8M262.1 424.3h.8M265.1 426.8h.8M265.9 421.8h.8M265.8 423.9h.8M266.8 417.9h.8M261.1 428.7h.8M263.3 424.8h.8M259.2 426.5h.8M265.9 423.2h.8M264.1 422.9h.8M263.5 426.3h.8M265.1 425.9h.8M265.3 423.8h.8M261.2 428.5h.8M262.1 422.9h.8M265.1 417.9h.8M264.2 427.1h.8M267.4 423.0h.8M262.1 426.4h.8M262.8 427.0h.8M260.4 429.8h.8M263.1 424.4h.8M259.2 428.4h.8M262.5 428.0h.8M259.8 428.4h.8M261.7 426.9h.8M266.7 421.9h.8M264.7 421.9h.8M265.1 422.2h.8M262.1 425.3h.8M262.2 425.7h.8M263.1 424.8h.8M261.0 426.6h.8M261.6 425.0h.8M260.8 429.3h.8M264.0 424.8h.8M262.5 423.0h.8M265.0 423.6h.8M264.1 424.5h.8M263.5 423.8h.8M262.5 427.6h.8M264.6 421.8h.8M263.8 427.3h.8M260.8 426.2h.8M263.0 425.0h.8M266.6 422.0h.8M268.5 419.9h.8M264.7 421.2h.8M263.3 426.6h.8M261.6 426.5h.8M264.7 421.6h.8M263.6 425.7h.8M265.5 419.4h.8M261.1 426.9h.8M263.8 423.8h.8M266.6 422.1h.8M268.1 421.2h.8M264.4 423.5h.8M265.2 423.3h.8M263.1 422.5h.8M263.1 426.4h.8M262.4 426.1h.8M261.3 425.4h.8M267.0 420.0h.8M267.9 420.3h.8M263.5 423.6h.8M259.7 428.3h.8M262.8 427.1h.8M261.3 423.4h.8M258.8 426.2h.8M262.1 427.3h.8M265.1 417.7h.8M261.1 426.5h.8M264.7 423.0h.8M263.9 424.2h.8M260.9 432.6h.8M265.8 424.4h.8M261.4 424.4h.8M259.8 426.8h.8M264.9 423.3h.8M260.8 428.1h.8M263.0 425.3h.8M265.5 422.2h.8M265.1 425.4h.8M261.7 423.5h.8M262.3 427.3h.8M262.4 427.9h.8M265.9 421.2h.8M264.1 429.3h.8M262.3 426.9h.8M260.7 430.0h.8M266.6 419.7h.8M264.0 424.8h.8M261.0 427.7h.8M267.4 420.3h.8M262.8 424.0h.8M260.3 429.3h.8M260.8 429.8h.8M264.3 424.3h.8M262.0 425.3h.8M261.9 425.0h.8M264.0 426.1h.8M263.6 425.1h.8M259.7 428.0h.8M262.7 425.2h.8M260.1 426.6h.8M260.3 428.9h.8M260.5 429.4h.8M264.2 423.1h.8M263.9 426.8h.8M262.0 426.4h.8M263.5 423.9h.8M265.8 421.4h.8M262.7 424.5h.8M264.6 423.0h.8M265.2 422.3h.8M263.5 426.0h.8M267.6 418.0h.8M261.8 431.3h.8M265.4 424.9h.8M264.1 423.4h.8M265.6 419.0h.8M262.2 429.6h.8M263.0 427.4h.8M262.9 429.3h.8M262.9 423.8h.8M263.7 425.7h.8M261.4 427.0h.8M261.1 427.9h.8M263.0 424.4h.8M263.3 422.9h.8M263.4 424.5h.8M266.2 418.4h.8M261.5 427.4h.8M263.5 427.4h.8M261.4 429.2h.8M261.7 428.2h.8M261.9 426.3h.8M266.1 419.4h.8M259.8 427.2h.8M263.2 425.8h.8M263.0 422.8h.8M262.0 427.0h.8M265.5 419.2h.8M262.9 425.1h.8M263.7 423.5h.8M264.9 423.5h.8M262.2 426.8h.8M259.4 428.3h.8M259.6 429.0h.8M258.3 427.6h.8M266.7 422.0h.8M262.6 425.0h.8M264.6 422.7h.8M261.5 430.9h.8M263.2 424.7h.8M265.1 425.4h.8M263.6 425.5h.8M263.7 422.8h.8M265.9 425.8h.8M261.3 427.3h.8M261.7 426.1h.8M265.4 423.6h.8M261.8 425.1h.8M265.1 431.9h.8M264.9 421.3h.8M262.7 424.0h.8M265.6 423.0h.8M264.3 422.7h.8M263.4 422.9h.8M261.4 426.8h.8M261.3 423.0h.8M266.9 423.5h.8M258.9 428.9h.8M262.0 426.5h.8M261.0 429.0h.8M259.9 426.8h.8M261.1 427.4h.8M261.3 425.9h.8M259.1 429.1h.8M266.8 422.9h.8M258.7 429.3h.8M257.5 426.9h.8M266.4 422.7h.8M263.0 427.9h.8M263.9 429.4h.8M264.4 427.7h.8M261.2 428.4h.8M262.9 422.9h.8M264.2 423.7h.8M261.7 425.8h.8M258.7 428.0h.8M260.6 427.6h.8M261.1 430.8h.8M260.0 424.8h.8M262.2 427.1h.8M264.8 422.1h.8M264.6 423.1h.8M266.8 418.8h.8M263.3 425.5h.8M264.4 424.8h.8M262.9 427.7h.8M264.5 423.8h.8M261.3 429.3h.8M262.7 427.5h.8M260.3 425.9h.8M262.3 423.9h.8M262.3 423.1h.8M262.8 426.1h.8M264.0 423.7h.8M263.8 429.4h.8M258.7 427.5h.8M261.2 427.0h.8M268.1 418.7h.8M264.4 423.8h.8M259.6 429.6h.8M264.2 424.1h.8M262.8 426.6h.8M258.9 426.6h.8M263.8 427.2h.8M263.2 424.3h.8M267.3 420.4h.8M267.3 418.9h.8M257.1 425.8h.8M264.1 425.2h.8M260.7 430.3h.8M260.5 427.1h.8M261.3 424.4h.8M264.7 425.9h.8M260.5 427.0h.8M261.2 428.5h.8M262.2 425.7h.8M261.3 427.7h.8M261.0 427.3h.8M265.3 423.0h.8M265.5 421.0h.8M266.1 421.7h.8M262.5 425.6h.8M259.2 428.9h.8M264.2 421.1h.8M262.2 429.6h.8M267.5 418.3h.8M259.9 428.2h.8M268.5 418.4h.8M264.7 424.0h.8M263.0 424.1h.8M265.8 420.3h.8M258.0 428.0h.8M264.2 420.3h.8M263.9 426.8h.8M261.4 424.4h.8M260.8 428.2h.8M261.0 429.4h.8M266.7 428.1h.8M265.0 421.7h.8M262.7 423.4h.8M261.4 424.6h.8M264.4 421.1h.8M262.9 426.5h.8M263.3 427.5h.8M262.8 428.5h.8M265.5 424.6h.8M260.8 430.5h.8M263.9 424.9h.8M262.6 422.2h.8M264.9 422.9h.8M267.8 418.5h.8M262.9 427.7h.8M267.1 418.9h.8M264.5 423.1h.8M265.7 420.7h.8M264.1 424.1h.8M259.5 428.1h.8M261.4 425.2h.8" stroke="#333" stroke-width="0.8" opacity="0.55" fill="none"/>
<path d="M269.5 426.4h.7M278.7 429.1h.7M275.7 427.1h.7M272.8 430.4h.7M273.2 421.1h.7M279.4 430.4h.7M268.5 428.2h.7M275.7 429.2h.7M270.0 429.8h.7M270.7 422.7h.7M275.3 426.1h.7M272.2 427.6h.7M274.3 420.9h.7M268.2 428.7h.7M277.3 424.3h.7M274.2 423.0h.7M278.4 427.4h.7M273.4 428.9h.7M275.7 432.3h.7M274.6 426.4h.7M275.2 426.6h.7M274.8 419.8h.7M274.7 428.9h.7M275.7 423.0h.7M278.2 426.2h.7M277.6 430.9h.7M274.2 420.2h.7M281.6 426.9h.7M277.6 427.8h.7M271.8 423.2h.7M276.7 426.2h.7M277.8 431.1h.7M277.8 427.5h.7M271.0 424.7h.7M279.4 424.7h.7M275.6 431.4h.7M271.4 426.3h.7M274.9 419.2h.7M274.4 425.6h.7M271.8 422.1h.7M276.5 421.1h.7M279.2 424.7h.7M273.6 425.5h.7M279.6 419.0h.7M271.4 428.4h.7M279.3 426.3h.7M276.9 426.4h.7M278.4 433.4h.7M281.7 427.8h.7M267.9 426.3h.7M269.8 428.4h.7M269.8 427.8h.7M276.9 430.7h.7M276.0 422.9h.7M278.6 425.2h.7M277.5 427.4h.7M274.8 427.4h.7M267.4 425.2h.7M274.7 426.2h.7M272.0 419.4h.7M279.7 427.1h.7M274.9 433.9h.7M273.6 422.5h.7M274.3 427.7h.7M272.9 428.3h.7M275.7 423.8h.7M272.3 427.7h.7M280.9 425.8h.7M281.6 424.9h.7M276.3 423.5h.7M274.4 429.9h.7M274.6 428.9h.7M272.0 423.2h.7M277.4 425.5h.7M281.4 426.9h.7M281.3 420.7h.7M273.8 429.5h.7M277.6 428.4h.7M273.0 426.6h.7M277.1 430.4h.7M271.9 432.6h.7M278.4 428.4h.7M271.8 427.8h.7M275.5 429.8h.7M276.3 434.4h.7M274.0 430.1h.7M270.0 423.8h.7M272.6 428.5h.7M278.6 427.1h.7M275.1 419.2h.7M266.4 423.5h.7M272.6 431.3h.7M275.1 425.0h.7M275.2 423.5h.7M270.5 426.0h.7M273.7 432.4h.7M272.2 427.4h.7M266.5 425.6h.7M272.0 433.0h.7M275.0 426.1h.7M277.8 428.1h.7M276.5 422.9h.7M274.9 428.2h.7M272.0 425.7h.7M281.4 426.5h.7M275.0 425.6h.7M272.0 429.2h.7M271.7 425.8h.7M274.0 431.0h.7" stroke="#222" stroke-width="0.7" opacity="0.55" fill="none"/>
<path d="M278.1 431.9h.6M280.5 418.2h.6M272.4 410.5h.6M283.9 409.2h.6M283.8 411.9h.6M280.9 432.2h.6M287.5 420.3h.6M274.9 419.6h.6M271.1 410.0h.6M276.9 406.5h.6M279.2 421.1h.6M273.2 412.2h.6M273.2 415.6h.6M283.7 413.1h.6M287.9 425.1h.6M274.6 414.9h.6M287.1 429.6h.6M283.2 428.2h.6M282.1 421.0h.6M272.6 434.5h.6M272.5 414.8h.6M285.7 424.0h.6M270.2 417.5h.6M284.3 413.5h.6M272.3 424.8h.6M275.2 413.4h.6M272.1 426.9h.6M274.9 431.6h.6M286.2 426.3h.6M287.3 426.9h.6M275.9 408.7h.6M270.7 420.6h.6M285.6 429.8h.6M285.3 422.6h.6M269.3 406.3h.6M283.2 420.6h.6M282.1 432.7h.6M276.8 408.1h.6M281.8 421.3h.6" stroke="#000" stroke-width="0.6" opacity="0.35" fill="none"/>
<rect x="240.20" y="390.60" width="51.80" height="44.40" fill="none" stroke="#777" stroke-width="0.9"/>
<rect x="269.00" y="407.30" width="19.00" height="26.40" fill="none" stroke="#666" stroke-width="0.8"/>
<text transform="translate(266.60,387.10) scale(0.864,1)" font-size="7.59" text-anchor="middle" font-weight="bold" fill="#000" stroke="#000" stroke-width="0.12">MLLAF4+</text>
<text transform="translate(239.00,394.80) scale(0.713,1)" font-size="5.72" text-anchor="end" fill="#222" stroke="#222" stroke-width="0.12">250</text>
<text transform="translate(239.00,427.80) scale(0.755,1)" font-size="5.72" text-anchor="end" fill="#222" stroke="#222" stroke-width="0.12">50</text>
<text transform="translate(248.20,441.80) scale(0.817,1)" font-size="5.72" fill="#222" stroke="#222" stroke-width="0.12">10<tspan dy="-2.17" font-size="3.55">1</tspan></text>
<text transform="translate(288.00,441.80) scale(0.817,1)" font-size="5.72" fill="#222" stroke="#222" stroke-width="0.12">10<tspan dy="-2.17" font-size="3.55">4</tspan></text>
<line x1="242.20" y1="435.00" x2="242.20" y2="437.00" stroke="#666" stroke-width="0.5"/>
<line x1="246.66" y1="435.00" x2="246.66" y2="436.20" stroke="#666" stroke-width="0.5"/>
<line x1="249.26" y1="435.00" x2="249.26" y2="436.20" stroke="#666" stroke-width="0.5"/>
<line x1="251.11" y1="435.00" x2="251.11" y2="436.20" stroke="#666" stroke-width="0.5"/>
<line x1="252.54" y1="435.00" x2="252.54" y2="436.20" stroke="#666" stroke-width="0.5"/>
<line x1="253.72" y1="435.00" x2="253.72" y2="436.20" stroke="#666" stroke-width="0.5"/>
<line x1="254.71" y1="435.00" x2="254.71" y2="436.20" stroke="#666" stroke-width="0.5"/>
<line x1="255.57" y1="435.00" x2="255.57" y2="436.20" stroke="#666" stroke-width="0.5"/>
<line x1="256.32" y1="435.00" x2="256.32" y2="436.20" stroke="#666" stroke-width="0.5"/>
<line x1="257.00" y1="435.00" x2="257.00" y2="437.00" stroke="#666" stroke-width="0.5"/>
<line x1="261.46" y1="435.00" x2="261.46" y2="436.20" stroke="#666" stroke-width="0.5"/>
<line x1="264.06" y1="435.00" x2="264.06" y2="436.20" stroke="#666" stroke-width="0.5"/>
<line x1="265.91" y1="435.00" x2="265.91" y2="436.20" stroke="#666" stroke-width="0.5"/>
<line x1="267.34" y1="435.00" x2="267.34" y2="436.20" stroke="#666" stroke-width="0.5"/>
<line x1="268.52" y1="435.00" x2="268.52" y2="436.20" stroke="#666" stroke-width="0.5"/>
<line x1="269.51" y1="435.00" x2="269.51" y2="436.20" stroke="#666" stroke-width="0.5"/>
<line x1="270.37" y1="435.00" x2="270.37" y2="436.20" stroke="#666" stroke-width="0.5"/>
<line x1="271.12" y1="435.00" x2="271.12" y2="436.20" stroke="#666" stroke-width="0.5"/>
<line x1="271.80" y1="435.00" x2="271.80" y2="437.00" stroke="#666" stroke-width="0.5"/>
<line x1="276.26" y1="435.00" x2="276.26" y2="436.20" stroke="#666" stroke-width="0.5"/>
<line x1="278.86" y1="435.00" x2="278.86" y2="436.20" stroke="#666" stroke-width="0.5"/>
<line x1="280.71" y1="435.00" x2="280.71" y2="436.20" stroke="#666" stroke-width="0.5"/>
<line x1="282.14" y1="435.00" x2="282.14" y2="436.20" stroke="#666" stroke-width="0.5"/>
<line x1="283.32" y1="435.00" x2="283.32" y2="436.20" stroke="#666" stroke-width="0.5"/>
<line x1="284.31" y1="435.00" x2="284.31" y2="436.20" stroke="#666" stroke-width="0.5"/>
<line x1="285.17" y1="435.00" x2="285.17" y2="436.20" stroke="#666" stroke-width="0.5"/>
<line x1="285.92" y1="435.00" x2="285.92" y2="436.20" stroke="#666" stroke-width="0.5"/>
<line x1="286.60" y1="435.00" x2="286.60" y2="437.00" stroke="#666" stroke-width="0.5"/>
<line x1="291.06" y1="435.00" x2="291.06" y2="436.20" stroke="#666" stroke-width="0.5"/>
<line x1="35.50" y1="446.80" x2="287.80" y2="446.80" stroke="#222" stroke-width="1"/>
<polygon points="292.80,446.80 286.80,444.20 286.80,449.40" fill="#222"/>
<text transform="translate(162.70,454.40) scale(0.833,1)" font-size="7.59" fill="#000" stroke="#000" stroke-width="0.12">GFP</text>
<line x1="30.60" y1="629.80" x2="30.60" y2="477.10" stroke="#222" stroke-width="1"/>
<polygon points="30.60,472.50 28.20,478.10 33.00,478.10" fill="#222"/>
<text transform="translate(25.20,553.20) rotate(-90) scale(0.891,1)" font-size="7.26" text-anchor="middle" fill="#111" stroke="#111" stroke-width="0.12">Counts</text>
<polygon points="45.2,522.2 45.2,522.2 45.9,522.2 46.6,522.2 47.3,522.1 48.0,522.1 48.7,522.2 49.4,522.1 50.1,522.2 50.8,522.2 51.5,522.2 52.2,522.2 52.9,522.0 53.6,522.2 54.3,522.1 55.0,522.2 55.7,522.1 56.4,522.2 57.1,522.2 57.8,522.2 58.5,522.2 59.2,522.1 59.9,522.0 60.6,522.2 61.3,522.2 62.0,522.2 62.7,522.2 63.4,521.9 64.1,521.9 64.8,521.8 65.5,521.7 66.2,521.5 66.9,521.2 67.6,521.1 68.3,521.7 69.0,520.0 69.7,520.3 70.4,518.9 71.1,517.6 71.8,518.2 72.5,516.5 73.2,514.1 73.9,511.6 74.6,511.4 75.3,509.9 76.0,506.7 76.7,500.4 77.4,501.3 78.1,501.0 78.8,496.6 79.5,494.5 80.2,490.9 80.9,493.1 81.6,491.6 82.3,484.8 83.0,484.3 83.7,479.8 84.4,477.5 85.1,480.1 85.8,478.7 86.5,485.0 87.2,475.4 87.9,475.4 88.6,485.0 89.3,481.3 90.0,485.6 90.7,478.7 91.4,488.4 92.1,487.5 92.8,491.3 93.5,495.0 94.2,501.4 94.9,500.7 95.6,503.7 96.3,506.0 97.0,505.3 97.7,508.9 98.4,513.4 99.1,512.1 99.8,516.8 100.5,515.9 101.2,516.9 101.9,517.4 102.6,519.1 103.3,520.6 104.0,520.6 104.7,520.4 105.4,520.0 106.1,521.9 106.8,521.8 107.5,521.9 108.2,522.2 108.9,522.2 109.6,521.8 110.3,522.2 111.0,521.9 111.7,522.1 112.4,522.1 113.1,522.2 113.8,522.2 114.5,522.2 115.2,522.0 115.9,522.2 116.6,522.2 117.3,522.2 118.0,522.2 118.7,522.2 119.4,522.1 120.1,522.0 120.8,522.1 121.5,522.1 122.2,522.2 122.9,522.2 123.6,522.2 124.3,522.2 125.0,522.2 125.7,522.1 126.4,521.8 127.1,522.2 127.8,522.1 128.5,522.1 129.2,522.2 129.9,522.1 130.6,522.2 131.3,522.2 132.0,522.2 132.7,521.9 133.4,522.2 134.1,522.2 134.8,522.0 135.5,522.2 136.2,522.2 136.9,522.2 137.6,522.2 138.3,522.0 139.0,521.9 139.7,522.1 140.4,522.1 141.1,521.7 141.8,521.9 142.5,522.2 143.2,522.1 143.9,522.0 144.6,522.2 145.3,522.0 146.0,522.2 146.7,522.2 147.4,522.2 148.1,522.2 148.8,522.1 148.8,522.2" fill="#8c8c8c" stroke="#000" stroke-width="0.9" stroke-linejoin="round"/>
<polyline points="62.2,521.7 63.0,521.5 63.8,521.3 64.6,521.0 65.4,520.6 66.2,520.1 67.0,519.6 67.8,518.8 68.6,518.0 69.4,517.0 70.2,515.8 71.0,514.4 71.8,512.8 72.6,511.0 73.4,509.0 74.2,506.7 75.0,504.3 75.8,501.8 76.6,499.0 77.4,496.2 78.2,493.4 79.0,490.6 79.8,487.8 80.6,485.2 81.4,482.8 82.2,480.7 83.0,478.9 83.8,477.5 84.6,476.5 85.4,476.0 86.2,475.9 87.0,476.3 87.8,477.2 88.6,478.5 89.4,480.2 90.2,482.3 91.0,484.6 91.8,487.2 92.6,489.9 93.4,492.7 94.2,495.5 95.0,498.4 95.8,501.1 96.6,503.7 97.4,506.2 98.2,508.4 99.0,510.5 99.8,512.4 100.6,514.0 101.4,515.4 102.2,516.7 103.0,517.8 103.8,518.6 104.6,519.4 105.4,520.0 106.2,520.5 107.0,520.9 107.8,521.2 108.6,521.5 109.4,521.6" fill="none" stroke="#000" stroke-width="0.8" stroke-dasharray="1.6 1.4"/>
<rect x="44.20" y="473.50" width="105.60" height="49.70" fill="none" stroke="#777" stroke-width="0.9"/>
<text transform="translate(94.00,470.80) scale(0.909,1)" font-size="7.26" text-anchor="middle" font-weight="bold" fill="#000" stroke="#000" stroke-width="0.12">EV</text>
<text transform="translate(41.80,476.70) scale(0.759,1)" font-size="6.16" text-anchor="end" fill="#111" stroke="#111" stroke-width="0.12">50</text>
<text transform="translate(41.80,524.60) scale(0.759,1)" font-size="6.16" text-anchor="end" fill="#111" stroke="#111" stroke-width="0.12">10</text>
<text transform="translate(66.00,530.80) scale(0.817,1)" font-size="5.72" fill="#111" stroke="#111" stroke-width="0.12">10<tspan dy="-2.17" font-size="3.55">1</tspan></text>
<text transform="translate(145.80,530.80) scale(0.817,1)" font-size="5.72" fill="#111" stroke="#111" stroke-width="0.12">10<tspan dy="-2.17" font-size="3.55">4</tspan></text>
<polygon points="167.7,522.2 167.7,522.1 168.4,522.2 169.1,522.0 169.8,522.2 170.5,522.2 171.2,522.2 171.9,522.2 172.6,522.2 173.3,521.7 174.0,522.2 174.7,522.2 175.4,522.1 176.1,522.2 176.8,522.1 177.5,522.2 178.2,522.2 178.9,522.2 179.6,522.2 180.3,522.2 181.0,521.8 181.7,522.2 182.4,522.0 183.1,521.9 183.8,522.2 184.5,522.2 185.2,521.9 185.9,522.2 186.6,522.2 187.3,521.8 188.0,522.2 188.7,522.2 189.4,522.0 190.1,521.9 190.8,521.9 191.5,521.5 192.2,521.4 192.9,522.0 193.6,520.4 194.3,521.4 195.0,520.0 195.7,520.9 196.4,519.3 197.1,514.9 197.8,515.4 198.5,513.5 199.2,510.3 199.9,508.6 200.6,507.8 201.3,502.1 202.0,499.8 202.7,498.6 203.4,499.2 204.1,493.4 204.8,495.3 205.5,482.6 206.2,486.0 206.9,482.4 207.6,478.7 208.3,480.2 209.0,478.5 209.7,479.5 210.4,479.4 211.1,476.8 211.8,481.7 212.5,477.8 213.2,483.0 213.9,485.5 214.6,485.0 215.3,489.5 216.0,484.3 216.7,486.6 217.4,488.1 218.1,493.7 218.8,492.1 219.5,494.0 220.2,493.7 220.9,501.3 221.6,495.6 222.3,496.8 223.0,503.0 223.7,497.5 224.4,501.3 225.1,504.3 225.8,506.4 226.5,508.7 227.2,508.1 227.9,510.6 228.6,511.6 229.3,512.1 230.0,514.2 230.7,513.0 231.4,513.2 232.1,516.0 232.8,515.2 233.5,517.7 234.2,519.1 234.9,519.3 235.6,518.3 236.3,520.1 237.0,519.9 237.7,519.6 238.4,520.8 239.1,520.8 239.8,521.1 240.5,520.7 241.2,521.3 241.9,521.9 242.6,522.0 243.3,522.2 244.0,522.2 244.7,522.0 245.4,522.2 246.1,522.2 246.8,521.9 247.5,522.1 248.2,522.2 248.9,522.2 249.6,522.1 250.3,522.2 251.0,522.2 251.7,522.2 252.4,522.1 253.1,522.2 253.8,522.1 254.5,522.1 255.2,522.2 255.9,522.2 256.6,521.7 257.3,522.1 258.0,522.2 258.7,522.2 259.4,522.2 260.1,522.2 260.8,522.2 261.5,522.2 262.2,522.2 262.9,521.9 263.6,522.1 264.3,522.0 265.0,522.2 265.7,522.2 266.4,521.9 267.1,522.1 267.8,522.0 268.5,521.8 269.2,521.8 269.9,522.1 270.6,522.1 271.3,522.2 272.0,522.1 272.7,522.2 272.7,522.2" fill="#8c8c8c" stroke="#000" stroke-width="0.9" stroke-linejoin="round"/>
<polyline points="187.7,521.7 188.5,521.5 189.3,521.2 190.1,520.7 190.9,520.1 191.7,519.4 192.5,518.4 193.3,517.2 194.1,515.7 194.9,513.9 195.7,511.8 196.5,509.3 197.3,506.5 198.1,503.5 198.9,500.2 199.7,496.7 200.5,493.2 201.3,489.8 202.1,486.5 202.9,483.6 203.7,481.1 204.5,479.2 205.3,477.9 206.1,477.3 206.9,477.5 207.7,478.4 208.5,480.0 209.3,482.3 210.1,485.0 210.9,488.1 211.7,491.5 212.5,495.0 213.3,498.5 214.1,501.9 214.9,505.0 215.7,508.0 216.5,510.6 217.3,512.9 218.1,514.9 218.9,516.5 219.7,517.9 220.5,518.9 221.3,519.8 222.1,520.5 222.9,521.0 223.7,521.3 224.5,521.6" fill="none" stroke="#000" stroke-width="0.8" stroke-dasharray="1.6 1.4"/>
<rect x="166.70" y="473.50" width="107.10" height="49.70" fill="none" stroke="#777" stroke-width="0.9"/>
<text transform="translate(223.40,470.80) scale(0.909,1)" font-size="7.26" text-anchor="middle" font-weight="bold" fill="#000" stroke="#000" stroke-width="0.12">MLLAF4</text>
<text transform="translate(164.30,476.70) scale(0.759,1)" font-size="6.16" text-anchor="end" fill="#111" stroke="#111" stroke-width="0.12">50</text>
<text transform="translate(164.30,524.60) scale(0.759,1)" font-size="6.16" text-anchor="end" fill="#111" stroke="#111" stroke-width="0.12">10</text>
<text transform="translate(188.50,530.80) scale(0.817,1)" font-size="5.72" fill="#111" stroke="#111" stroke-width="0.12">10<tspan dy="-2.17" font-size="3.55">1</tspan></text>
<text transform="translate(269.80,530.80) scale(0.817,1)" font-size="5.72" fill="#111" stroke="#111" stroke-width="0.12">10<tspan dy="-2.17" font-size="3.55">4</tspan></text>
<polygon points="46.4,622.7 46.4,622.7 47.1,622.7 47.8,622.7 48.5,622.7 49.2,622.7 49.9,622.7 50.6,622.7 51.3,622.7 52.0,622.7 52.7,622.7 53.4,622.7 54.1,622.7 54.8,622.6 55.5,622.7 56.2,622.7 56.9,622.7 57.6,622.7 58.3,622.7 59.0,622.7 59.7,622.7 60.4,622.6 61.1,622.7 61.8,622.7 62.5,622.7 63.2,622.7 63.9,622.7 64.6,622.7 65.3,622.7 66.0,622.7 66.7,622.7 67.4,622.7 68.1,622.6 68.8,622.7 69.5,622.7 70.2,622.7 70.9,622.7 71.6,622.6 72.3,622.5 73.0,622.3 73.7,622.4 74.4,622.0 75.1,621.8 75.8,621.2 76.5,620.6 77.2,619.8 77.9,618.6 78.6,617.1 79.3,615.2 80.0,613.0 80.7,610.2 81.4,607.1 82.1,604.2 82.8,600.3 83.5,596.6 84.2,592.1 84.9,588.7 85.6,585.2 86.3,582.4 87.0,580.3 87.7,578.4 88.4,575.7 89.1,577.5 89.8,579.0 90.5,580.8 91.2,584.1 91.9,586.7 92.6,590.1 93.3,593.1 94.0,598.5 94.7,602.3 95.4,605.9 96.1,608.8 96.8,611.9 97.5,613.4 98.2,615.7 98.9,617.6 99.6,618.9 100.3,620.3 101.0,620.8 101.7,621.5 102.4,621.8 103.1,622.1 103.8,622.2 104.5,622.5 105.2,622.6 105.9,622.5 106.6,622.6 107.3,622.7 108.0,622.7 108.7,622.7 109.4,622.6 110.1,622.7 110.8,622.7 111.5,622.7 112.2,622.7 112.9,622.7 113.6,622.7 114.3,622.7 115.0,622.7 115.7,622.7 116.4,622.7 117.1,622.7 117.8,622.7 118.5,622.7 119.2,622.7 119.9,622.7 120.6,622.7 121.3,622.7 122.0,622.7 122.7,622.7 123.4,622.7 124.1,622.7 124.8,622.7 125.5,622.7 126.2,622.7 126.9,622.7 127.6,622.7 128.3,622.7 129.0,622.7 129.7,622.7 130.4,622.7 131.1,622.7 131.8,622.7 132.5,622.7 133.2,622.7 133.9,622.7 134.6,622.7 135.3,622.7 136.0,622.6 136.7,622.6 137.4,622.7 138.1,622.7 138.8,622.7 139.5,622.7 140.2,622.7 140.9,622.7 141.6,622.7 142.3,622.7 143.0,622.6 143.7,622.7 144.4,622.6 145.1,622.7 145.8,622.7 146.5,622.7 147.2,622.7 147.9,622.7 148.6,622.6 149.3,622.7 149.3,622.7" fill="#8c8c8c" stroke="#000" stroke-width="0.9" stroke-linejoin="round"/>
<polyline points="74.8,622.2 75.6,621.9 76.4,621.5 77.2,620.8 78.0,620.0 78.8,618.8 79.6,617.3 80.4,615.4 81.2,613.0 82.0,610.1 82.8,606.7 83.6,602.9 84.4,598.8 85.2,594.5 86.0,590.2 86.8,586.1 87.6,582.5 88.4,579.5 89.2,577.4 90.0,576.3 90.8,576.3 91.6,577.4 92.4,579.5 93.2,582.5 94.0,586.1 94.8,590.2 95.6,594.5 96.4,598.8 97.2,602.9 98.0,606.7 98.8,610.1 99.6,613.0 100.4,615.4 101.2,617.3 102.0,618.8 102.8,620.0 103.6,620.8 104.4,621.5 105.2,621.9" fill="none" stroke="#000" stroke-width="0.8" stroke-dasharray="1.6 1.4"/>
<rect x="45.40" y="573.60" width="105.60" height="50.10" fill="none" stroke="#777" stroke-width="0.9"/>
<text transform="translate(43.00,576.80) scale(0.759,1)" font-size="6.16" text-anchor="end" fill="#111" stroke="#111" stroke-width="0.12">50</text>
<text transform="translate(43.00,625.10) scale(0.759,1)" font-size="6.16" text-anchor="end" fill="#111" stroke="#111" stroke-width="0.12">10</text>
<text transform="translate(67.20,631.30) scale(0.817,1)" font-size="5.72" fill="#111" stroke="#111" stroke-width="0.12">10<tspan dy="-2.17" font-size="3.55">1</tspan></text>
<text transform="translate(147.00,631.30) scale(0.817,1)" font-size="5.72" fill="#111" stroke="#111" stroke-width="0.12">10<tspan dy="-2.17" font-size="3.55">4</tspan></text>
<polygon points="167.7,622.7 167.7,622.7 168.4,622.7 169.1,622.6 169.8,622.7 170.5,622.7 171.2,622.7 171.9,622.7 172.6,622.6 173.3,622.6 174.0,622.6 174.7,622.7 175.4,622.7 176.1,622.6 176.8,622.7 177.5,622.6 178.2,622.6 178.9,622.7 179.6,622.7 180.3,622.6 181.0,622.6 181.7,622.7 182.4,622.7 183.1,622.5 183.8,622.7 184.5,622.5 185.2,622.7 185.9,622.7 186.6,622.7 187.3,622.7 188.0,622.7 188.7,622.7 189.4,622.6 190.1,622.6 190.8,622.6 191.5,622.7 192.2,622.4 192.9,622.3 193.6,622.4 194.3,622.0 195.0,621.9 195.7,621.7 196.4,621.4 197.1,620.4 197.8,619.6 198.5,618.3 199.2,616.8 199.9,615.8 200.6,614.4 201.3,610.7 202.0,608.3 202.7,606.8 203.4,603.5 204.1,599.3 204.8,595.5 205.5,592.9 206.2,589.7 206.9,587.9 207.6,581.6 208.3,582.3 209.0,580.7 209.7,578.9 210.4,578.4 211.1,576.7 211.8,578.6 212.5,580.7 213.2,580.8 213.9,584.0 214.6,589.9 215.3,588.8 216.0,595.5 216.7,598.3 217.4,601.1 218.1,604.2 218.8,607.1 219.5,612.2 220.2,612.3 220.9,613.9 221.6,615.8 222.3,618.0 223.0,619.1 223.7,619.3 224.4,620.7 225.1,621.8 225.8,621.4 226.5,621.7 227.2,621.9 227.9,622.4 228.6,622.4 229.3,622.6 230.0,622.5 230.7,622.7 231.4,622.6 232.1,622.6 232.8,622.7 233.5,622.6 234.2,622.6 234.9,622.7 235.6,622.7 236.3,622.6 237.0,622.7 237.7,622.6 238.4,622.7 239.1,622.7 239.8,622.6 240.5,622.7 241.2,622.7 241.9,622.7 242.6,622.7 243.3,622.7 244.0,622.7 244.7,622.7 245.4,622.7 246.1,622.7 246.8,622.7 247.5,622.7 248.2,622.7 248.9,622.7 249.6,622.7 250.3,622.7 251.0,622.7 251.7,622.7 252.4,622.6 253.1,622.7 253.8,622.7 254.5,622.7 255.2,622.7 255.9,622.7 256.6,622.7 257.3,622.7 258.0,622.4 258.7,622.7 259.4,622.7 260.1,622.7 260.8,622.7 261.5,622.7 262.2,622.6 262.9,622.7 263.6,622.7 264.3,622.6 265.0,622.6 265.7,622.7 266.4,622.7 267.1,622.7 267.8,622.7 268.5,622.6 269.2,622.7 269.9,622.6 270.6,622.7 271.3,622.7 272.0,622.6 272.0,622.7" fill="#8c8c8c" stroke="#000" stroke-width="0.9" stroke-linejoin="round"/>
<polyline points="191.1,622.2 191.9,621.9 192.7,621.6 193.5,621.1 194.3,620.4 195.1,619.5 195.9,618.3 196.7,616.8 197.5,614.9 198.3,612.6 199.1,610.0 199.9,606.9 200.7,603.6 201.5,599.9 202.3,596.1 203.1,592.2 203.9,588.5 204.7,585.0 205.5,582.0 206.3,579.7 207.1,578.0 207.9,577.3 208.7,577.4 209.5,578.4 210.3,580.2 211.1,582.7 211.9,585.8 212.7,589.4 213.5,593.2 214.3,597.0 215.1,600.8 215.9,604.4 216.7,607.7 217.5,610.7 218.3,613.2 219.1,615.4 219.9,617.2 220.7,618.6 221.5,619.7 222.3,620.6 223.1,621.2 223.9,621.7 224.7,622.0" fill="none" stroke="#000" stroke-width="0.8" stroke-dasharray="1.6 1.4"/>
<rect x="166.70" y="573.60" width="106.70" height="50.10" fill="none" stroke="#777" stroke-width="0.9"/>
<text transform="translate(164.30,576.80) scale(0.759,1)" font-size="6.16" text-anchor="end" fill="#111" stroke="#111" stroke-width="0.12">50</text>
<text transform="translate(164.30,625.10) scale(0.759,1)" font-size="6.16" text-anchor="end" fill="#111" stroke="#111" stroke-width="0.12">10</text>
<text transform="translate(188.50,631.30) scale(0.817,1)" font-size="5.72" fill="#111" stroke="#111" stroke-width="0.12">10<tspan dy="-2.17" font-size="3.55">1</tspan></text>
<text transform="translate(269.40,631.30) scale(0.817,1)" font-size="5.72" fill="#111" stroke="#111" stroke-width="0.12">10<tspan dy="-2.17" font-size="3.55">4</tspan></text>
<line x1="40.80" y1="536.20" x2="269.20" y2="536.20" stroke="#222" stroke-width="1"/>
<polygon points="274.20,536.20 268.20,533.60 268.20,538.80" fill="#222"/>
<text transform="translate(148.90,543.60) scale(0.860,1)" font-size="7.7" font-weight="bold" fill="#000" stroke="#000" stroke-width="0.12">Bcl-2</text>
<line x1="34.80" y1="636.40" x2="270.50" y2="636.40" stroke="#222" stroke-width="1"/>
<polygon points="275.50,636.40 269.50,633.80 269.50,639.00" fill="#222"/>
<text transform="translate(147.90,643.20) scale(0.807,1)" font-size="7.7" font-weight="bold" fill="#000" stroke="#000" stroke-width="0.12">Bcl-xL</text>
<line x1="341.25" y1="451.75" x2="423.75" y2="451.75" stroke="#888" stroke-width="0.9"/>
<line x1="423.75" y1="451.75" x2="423.75" y2="538.25" stroke="#888" stroke-width="0.9"/>
<line x1="341.25" y1="451.75" x2="341.25" y2="538.25" stroke="#222" stroke-width="1"/>
<line x1="341.25" y1="538.25" x2="423.75" y2="538.25" stroke="#222" stroke-width="1"/>
<text transform="translate(339.20,540.85) scale(0.732,1)" font-size="7.37" text-anchor="end" fill="#111" stroke="#111" stroke-width="0.12">0</text>
<text transform="translate(339.20,523.55) scale(0.699,1)" font-size="7.37" text-anchor="end" fill="#111" stroke="#111" stroke-width="0.12">100</text>
<text transform="translate(339.20,506.25) scale(0.699,1)" font-size="7.37" text-anchor="end" fill="#111" stroke="#111" stroke-width="0.12">200</text>
<text transform="translate(339.20,488.95) scale(0.699,1)" font-size="7.37" text-anchor="end" fill="#111" stroke="#111" stroke-width="0.12">300</text>
<text transform="translate(339.20,471.65) scale(0.699,1)" font-size="7.37" text-anchor="end" fill="#111" stroke="#111" stroke-width="0.12">400</text>
<text transform="translate(339.20,454.35) scale(0.699,1)" font-size="7.37" text-anchor="end" fill="#111" stroke="#111" stroke-width="0.12">500</text>
<rect x="344.50" y="511.25" width="36.00" height="27.00" fill="#fff" stroke="#000" stroke-width="1"/>
<rect x="383.75" y="459.25" width="36.30" height="79.00" fill="#000" stroke="none" stroke-width="1"/>
<text transform="translate(362.70,548.15) scale(0.743,1)" font-size="7.26" text-anchor="middle" fill="#111" stroke="#111" stroke-width="0.12">EV</text>
<text transform="translate(402.10,548.15) scale(0.929,1)" font-size="7.26" text-anchor="middle" fill="#111" stroke="#111" stroke-width="0.12">MLLAF4</text>
<text transform="translate(314.80,497.50) rotate(-90) scale(0.888,1)" font-size="6.49" text-anchor="middle" font-weight="bold" fill="#111" stroke="#111" stroke-width="0.12">Bcl-2 expression (MFI) in GFP+</text>
<text transform="translate(323.80,496.00) rotate(-90) scale(0.879,1)" font-size="6.49" text-anchor="middle" font-weight="bold" fill="#111" stroke="#111" stroke-width="0.12">relative to GFP- cell fraction</text>
<line x1="341.25" y1="557.00" x2="423.75" y2="557.00" stroke="#888" stroke-width="0.9"/>
<line x1="423.75" y1="557.00" x2="423.75" y2="643.25" stroke="#888" stroke-width="0.9"/>
<line x1="341.25" y1="557.00" x2="341.25" y2="643.25" stroke="#222" stroke-width="1"/>
<line x1="341.25" y1="643.25" x2="423.75" y2="643.25" stroke="#222" stroke-width="1"/>
<text transform="translate(339.20,645.85) scale(0.732,1)" font-size="7.37" text-anchor="end" fill="#111" stroke="#111" stroke-width="0.12">0</text>
<text transform="translate(339.20,628.60) scale(0.699,1)" font-size="7.37" text-anchor="end" fill="#111" stroke="#111" stroke-width="0.12">150</text>
<text transform="translate(339.20,611.35) scale(0.699,1)" font-size="7.37" text-anchor="end" fill="#111" stroke="#111" stroke-width="0.12">300</text>
<text transform="translate(339.20,594.10) scale(0.699,1)" font-size="7.37" text-anchor="end" fill="#111" stroke="#111" stroke-width="0.12">450</text>
<text transform="translate(339.20,576.85) scale(0.699,1)" font-size="7.37" text-anchor="end" fill="#111" stroke="#111" stroke-width="0.12">650</text>
<text transform="translate(339.20,559.60) scale(0.699,1)" font-size="7.37" text-anchor="end" fill="#111" stroke="#111" stroke-width="0.12">800</text>
<rect x="344.00" y="640.95" width="37.00" height="1.60" fill="#888" stroke="none" stroke-width="1"/>
<rect x="385.00" y="575.75" width="37.00" height="67.50" fill="#000" stroke="none" stroke-width="1"/>
<text transform="translate(362.70,653.15) scale(0.743,1)" font-size="7.26" text-anchor="middle" fill="#111" stroke="#111" stroke-width="0.12">EV</text>
<text transform="translate(403.70,653.15) scale(0.929,1)" font-size="7.26" text-anchor="middle" fill="#111" stroke="#111" stroke-width="0.12">MLLAF4</text>
<text transform="translate(314.80,601.00) rotate(-90) scale(0.924,1)" font-size="6.49" text-anchor="middle" font-weight="bold" fill="#111" stroke="#111" stroke-width="0.12">Bcl-xL expression (MFI) in GFP+</text>
<text transform="translate(323.80,597.00) rotate(-90) scale(0.882,1)" font-size="6.49" text-anchor="middle" font-weight="bold" fill="#111" stroke="#111" stroke-width="0.12">relative to GFP- cell fraction</text>
</svg></body></html>
